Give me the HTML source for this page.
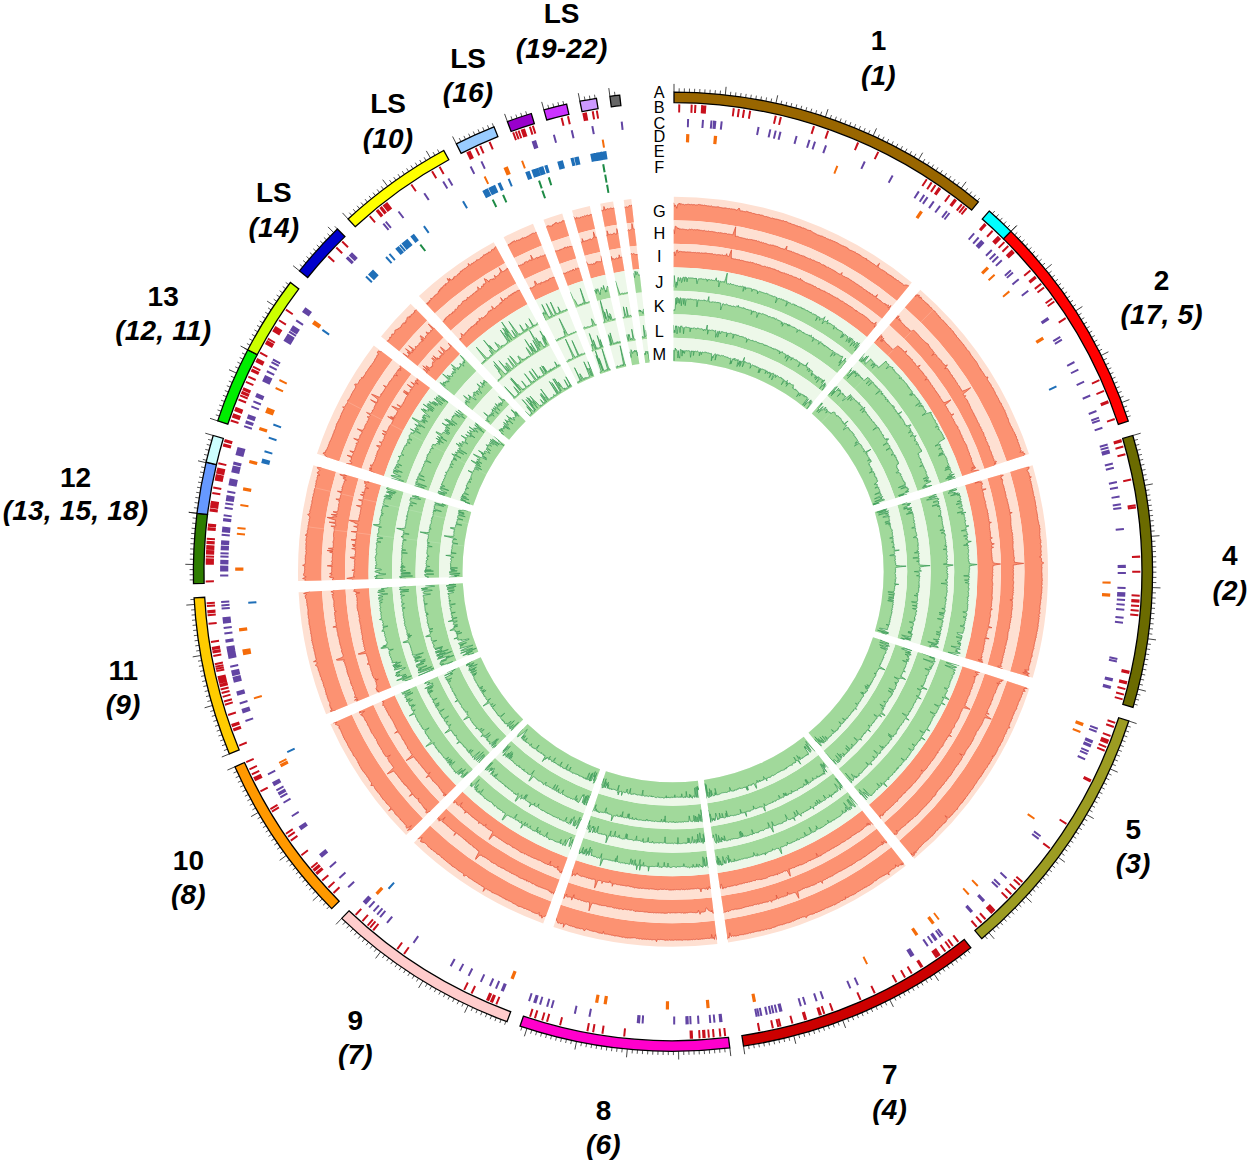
<!DOCTYPE html>
<html><head><meta charset="utf-8"><title>Circos</title>
<style>html,body{margin:0;padding:0;background:#fff}svg{display:block}text{font-family:"Liberation Sans",sans-serif}</style></head>
<body>
<svg width="1250" height="1164" viewBox="0 0 1250 1164">
<rect width="1250" height="1164" fill="#fff"/>
<defs>
<clipPath id="cl0"><path d="M673.8 196.7 A375 375 0 0 1 911.8 282.5 L896.8 300.7 A351.5 351.5 0 0 0 673.7 220.2ZM920.3 289.8 A375 375 0 0 1 1029 454 L1006.7 461.3 A351.5 351.5 0 0 0 904.8 307.4ZM1032.6 465.2 A375 375 0 0 1 1032.7 677.8 L1010.1 671.2 A351.5 351.5 0 0 0 1010 471.9ZM1029.4 688.5 A375 375 0 0 1 914.4 858.7 L899.3 840.7 A351.5 351.5 0 0 0 1007 681.1ZM905.8 865.7 A375 375 0 0 1 728.1 942.6 L724.7 919.4 A351.5 351.5 0 0 0 891.2 847.2ZM717.4 944.1 A375 375 0 0 1 553.4 927.1 L560.9 904.8 A351.5 351.5 0 0 0 714.6 920.7ZM543.2 923.5 A375 375 0 0 1 413.9 842.8 L430.2 825.8 A351.5 351.5 0 0 0 551.3 901.5ZM406.1 835.1 A375 375 0 0 1 330.4 724.2 L351.9 714.7 A351.5 351.5 0 0 0 422.9 818.6ZM326.1 714.2 A375 375 0 0 1 298.6 592.2 L322 590.9 A351.5 351.5 0 0 0 347.9 705.2ZM298.1 581 A375 375 0 0 1 313.4 465.2 L336 471.9 A351.5 351.5 0 0 0 321.6 580.4ZM317 453.8 A375 375 0 0 1 373.8 345.6 L392.6 359.8 A351.5 351.5 0 0 0 339.3 461.2ZM381 336.5 A375 375 0 0 1 410.6 303.8 L427.1 320.6 A351.5 351.5 0 0 0 399.3 351.2ZM418.9 295.9 A375 375 0 0 1 493.7 242.3 L505 263 A351.5 351.5 0 0 0 434.9 313.2ZM503.6 237.2 A375 375 0 0 1 533 223.8 L541.8 245.6 A351.5 351.5 0 0 0 514.2 258.1ZM543.5 219.8 A375 375 0 0 1 562.2 213.5 L569.1 235.9 A351.5 351.5 0 0 0 551.6 241.8ZM572 210.5 A375 375 0 0 1 589.8 206 L595 229 A351.5 351.5 0 0 0 578.4 233.2ZM600.2 203.8 A375 375 0 0 1 613.1 201.5 L616.9 224.7 A351.5 351.5 0 0 0 604.8 226.9ZM623.7 200 A375 375 0 0 1 631.3 199 L633.9 222.4 A351.5 351.5 0 0 0 626.8 223.3Z"/></clipPath>
<clipPath id="cl1"><path d="M673.7 220.2 A351.5 351.5 0 0 1 896.8 300.7 L881.9 318.8 A328 328 0 0 0 673.7 243.7ZM904.8 307.4 A351.5 351.5 0 0 1 1006.7 461.3 L984.4 468.7 A328 328 0 0 0 889.3 325.1ZM1010 471.9 A351.5 351.5 0 0 1 1010.1 671.2 L987.6 664.5 A328 328 0 0 0 987.5 478.5ZM1007 681.1 A351.5 351.5 0 0 1 899.3 840.7 L884.1 822.7 A328 328 0 0 0 984.7 673.8ZM891.2 847.2 A351.5 351.5 0 0 1 724.7 919.4 L721.2 896.1 A328 328 0 0 0 876.6 828.8ZM714.6 920.7 A351.5 351.5 0 0 1 560.9 904.8 L568.4 882.6 A328 328 0 0 0 711.8 897.4ZM551.3 901.5 A351.5 351.5 0 0 1 430.2 825.8 L446.4 808.8 A328 328 0 0 0 559.5 879.4ZM422.9 818.6 A351.5 351.5 0 0 1 351.9 714.7 L373.4 705.1 A328 328 0 0 0 439.6 802.1ZM347.9 705.2 A351.5 351.5 0 0 1 322 590.9 L345.5 589.6 A328 328 0 0 0 369.6 696.3ZM321.6 580.4 A351.5 351.5 0 0 1 336 471.9 L358.5 478.5 A328 328 0 0 0 345.1 579.8ZM339.3 461.2 A351.5 351.5 0 0 1 392.6 359.8 L411.3 373.9 A328 328 0 0 0 361.6 468.5ZM399.3 351.2 A351.5 351.5 0 0 1 427.1 320.6 L443.5 337.4 A328 328 0 0 0 417.6 366ZM434.9 313.2 A351.5 351.5 0 0 1 505 263 L516.2 283.6 A328 328 0 0 0 450.8 330.5ZM514.2 258.1 A351.5 351.5 0 0 1 541.8 245.6 L550.6 267.4 A328 328 0 0 0 524.8 279.1ZM551.6 241.8 A351.5 351.5 0 0 1 569.1 235.9 L576.1 258.4 A328 328 0 0 0 559.7 263.9ZM578.4 233.2 A351.5 351.5 0 0 1 595 229 L600.2 251.9 A328 328 0 0 0 584.7 255.8ZM604.8 226.9 A351.5 351.5 0 0 1 616.9 224.7 L620.6 247.9 A328 328 0 0 0 609.3 249.9ZM626.8 223.3 A351.5 351.5 0 0 1 633.9 222.4 L636.6 245.7 A328 328 0 0 0 629.8 246.6Z"/></clipPath>
<clipPath id="cl2"><path d="M673.7 243.7 A328 328 0 0 1 881.9 318.8 L866.9 336.9 A304.5 304.5 0 0 0 673.6 267.2ZM889.3 325.1 A328 328 0 0 1 984.4 468.7 L962.1 476.1 A304.5 304.5 0 0 0 873.8 342.8ZM987.5 478.5 A328 328 0 0 1 987.6 664.5 L965.1 657.9 A304.5 304.5 0 0 0 965 485.2ZM984.7 673.8 A328 328 0 0 1 884.1 822.7 L869 804.7 A304.5 304.5 0 0 0 962.4 666.5ZM876.6 828.8 A328 328 0 0 1 721.2 896.1 L717.7 872.9 A304.5 304.5 0 0 0 862.1 810.4ZM711.8 897.4 A328 328 0 0 1 568.4 882.6 L575.9 860.3 A304.5 304.5 0 0 0 709.1 874.1ZM559.5 879.4 A328 328 0 0 1 446.4 808.8 L462.6 791.8 A304.5 304.5 0 0 0 567.6 857.4ZM439.6 802.1 A328 328 0 0 1 373.4 705.1 L394.8 695.6 A304.5 304.5 0 0 0 456.3 785.6ZM369.6 696.3 A328 328 0 0 1 345.5 589.6 L369 588.3 A304.5 304.5 0 0 0 391.3 687.4ZM345.1 579.8 A328 328 0 0 1 358.5 478.5 L381 485.2 A304.5 304.5 0 0 0 368.6 579.2ZM361.6 468.5 A328 328 0 0 1 411.3 373.9 L430.1 388.1 A304.5 304.5 0 0 0 384 475.9ZM417.6 366 A328 328 0 0 1 443.5 337.4 L460 354.1 A304.5 304.5 0 0 0 435.9 380.7ZM450.8 330.5 A328 328 0 0 1 516.2 283.6 L527.4 304.3 A304.5 304.5 0 0 0 466.7 347.7ZM524.8 279.1 A328 328 0 0 1 550.6 267.4 L559.3 289.2 A304.5 304.5 0 0 0 535.4 300.1ZM559.7 263.9 A328 328 0 0 1 576.1 258.4 L583 280.8 A304.5 304.5 0 0 0 567.9 285.9ZM584.7 255.8 A328 328 0 0 1 600.2 251.9 L605.4 274.8 A304.5 304.5 0 0 0 591 278.4ZM609.3 249.9 A328 328 0 0 1 620.6 247.9 L624.4 271.1 A304.5 304.5 0 0 0 613.9 273ZM629.8 246.6 A328 328 0 0 1 636.6 245.7 L639.2 269.1 A304.5 304.5 0 0 0 632.9 269.8Z"/></clipPath>
<clipPath id="cl3"><path d="M673.6 267.2 A304.5 304.5 0 0 1 866.9 336.9 L851.9 355 A281 281 0 0 0 673.6 290.7ZM873.8 342.8 A304.5 304.5 0 0 1 962.1 476.1 L939.8 483.5 A281 281 0 0 0 858.3 360.4ZM965 485.2 A304.5 304.5 0 0 1 965.1 657.9 L942.5 651.2 A281 281 0 0 0 942.4 491.9ZM962.4 666.5 A304.5 304.5 0 0 1 869 804.7 L853.9 786.7 A281 281 0 0 0 940 659.2ZM862.1 810.4 A304.5 304.5 0 0 1 717.7 872.9 L714.3 849.6 A281 281 0 0 0 847.5 792ZM709.1 874.1 A304.5 304.5 0 0 1 575.9 860.3 L583.4 838 A281 281 0 0 0 706.3 850.7ZM567.6 857.4 A304.5 304.5 0 0 1 462.6 791.8 L478.9 774.9 A281 281 0 0 0 575.7 835.3ZM456.3 785.6 A304.5 304.5 0 0 1 394.8 695.6 L416.3 686 A281 281 0 0 0 473 769.1ZM391.3 687.4 A304.5 304.5 0 0 1 369 588.3 L392.4 587 A281 281 0 0 0 413.1 678.5ZM368.6 579.2 A304.5 304.5 0 0 1 381 485.2 L403.6 491.9 A281 281 0 0 0 392.1 578.7ZM384 475.9 A304.5 304.5 0 0 1 430.1 388.1 L448.8 402.3 A281 281 0 0 0 406.3 483.3ZM435.9 380.7 A304.5 304.5 0 0 1 460 354.1 L476.4 370.9 A281 281 0 0 0 454.2 395.4ZM466.7 347.7 A304.5 304.5 0 0 1 527.4 304.3 L538.7 324.9 A281 281 0 0 0 482.6 365ZM535.4 300.1 A304.5 304.5 0 0 1 559.3 289.2 L568.1 311 A281 281 0 0 0 546 321ZM567.9 285.9 A304.5 304.5 0 0 1 583 280.8 L590 303.3 A281 281 0 0 0 576 308ZM591 278.4 A304.5 304.5 0 0 1 605.4 274.8 L610.6 297.7 A281 281 0 0 0 597.3 301.1ZM613.9 273 A304.5 304.5 0 0 1 624.4 271.1 L628.1 294.3 A281 281 0 0 0 618.5 296ZM632.9 269.8 A304.5 304.5 0 0 1 639.2 269.1 L641.8 292.4 A281 281 0 0 0 636 293.1Z"/></clipPath>
<clipPath id="cl4"><path d="M673.6 290.7 A281 281 0 0 1 851.9 355 L837 373.1 A257.5 257.5 0 0 0 673.5 314.2ZM858.3 360.4 A281 281 0 0 1 939.8 483.5 L917.5 490.8 A257.5 257.5 0 0 0 842.8 378.1ZM942.4 491.9 A281 281 0 0 1 942.5 651.2 L920 644.6 A257.5 257.5 0 0 0 919.9 498.6ZM940 659.2 A281 281 0 0 1 853.9 786.7 L838.8 768.8 A257.5 257.5 0 0 0 917.7 651.9ZM847.5 792 A281 281 0 0 1 714.3 849.6 L710.8 826.4 A257.5 257.5 0 0 0 832.9 773.6ZM706.3 850.7 A281 281 0 0 1 583.4 838 L590.9 815.8 A257.5 257.5 0 0 0 703.5 827.4ZM575.7 835.3 A281 281 0 0 1 478.9 774.9 L495.1 757.9 A257.5 257.5 0 0 0 583.9 813.3ZM473 769.1 A281 281 0 0 1 416.3 686 L437.8 676.4 A257.5 257.5 0 0 0 489.7 752.6ZM413.1 678.5 A281 281 0 0 1 392.4 587 L415.9 585.8 A257.5 257.5 0 0 0 434.8 669.5ZM392.1 578.7 A281 281 0 0 1 403.6 491.9 L426.1 498.6 A257.5 257.5 0 0 0 415.6 578.1ZM406.3 483.3 A281 281 0 0 1 448.8 402.3 L467.6 416.4 A257.5 257.5 0 0 0 428.6 490.7ZM454.2 395.4 A281 281 0 0 1 476.4 370.9 L492.8 387.7 A257.5 257.5 0 0 0 472.5 410.2ZM482.6 365 A281 281 0 0 1 538.7 324.9 L549.9 345.5 A257.5 257.5 0 0 0 498.5 382.3ZM546 321 A281 281 0 0 1 568.1 311 L576.9 332.8 A257.5 257.5 0 0 0 556.7 342ZM576 308 A281 281 0 0 1 590 303.3 L596.9 325.7 A257.5 257.5 0 0 0 584.1 330ZM597.3 301.1 A281 281 0 0 1 610.6 297.7 L615.9 320.6 A257.5 257.5 0 0 0 603.7 323.7ZM618.5 296 A281 281 0 0 1 628.1 294.3 L631.9 317.5 A257.5 257.5 0 0 0 623 319.1ZM636 293.1 A281 281 0 0 1 641.8 292.4 L644.4 315.8 A257.5 257.5 0 0 0 639.1 316.4Z"/></clipPath>
<clipPath id="cl5"><path d="M673.5 314.2 A257.5 257.5 0 0 1 837 373.1 L822 391.3 A234 234 0 0 0 673.5 337.7ZM842.8 378.1 A257.5 257.5 0 0 1 917.5 490.8 L895.2 498.2 A234 234 0 0 0 827.3 395.8ZM919.9 498.6 A257.5 257.5 0 0 1 920 644.6 L897.4 637.9 A234 234 0 0 0 897.4 505.2ZM917.7 651.9 A257.5 257.5 0 0 1 838.8 768.8 L823.6 750.8 A234 234 0 0 0 895.4 644.6ZM832.9 773.6 A257.5 257.5 0 0 1 710.8 826.4 L707.4 803.2 A234 234 0 0 0 818.3 755.1ZM703.5 827.4 A257.5 257.5 0 0 1 590.9 815.8 L598.4 793.5 A234 234 0 0 0 700.7 804.1ZM583.9 813.3 A257.5 257.5 0 0 1 495.1 757.9 L511.3 740.9 A234 234 0 0 0 592 791.2ZM489.7 752.6 A257.5 257.5 0 0 1 437.8 676.4 L459.2 666.9 A234 234 0 0 0 506.5 736.1ZM434.8 669.5 A257.5 257.5 0 0 1 415.9 585.8 L439.3 584.5 A234 234 0 0 0 456.5 660.6ZM415.6 578.1 A257.5 257.5 0 0 1 426.1 498.6 L448.6 505.2 A234 234 0 0 0 439.1 577.5ZM428.6 490.7 A257.5 257.5 0 0 1 467.6 416.4 L486.3 430.6 A234 234 0 0 0 450.9 498.1ZM472.5 410.2 A257.5 257.5 0 0 1 492.8 387.7 L509.3 404.5 A234 234 0 0 0 490.8 424.9ZM498.5 382.3 A257.5 257.5 0 0 1 549.9 345.5 L561.1 366.2 A234 234 0 0 0 514.5 399.6ZM556.7 342 A257.5 257.5 0 0 1 576.9 332.8 L585.6 354.6 A234 234 0 0 0 567.3 362.9ZM584.1 330 A257.5 257.5 0 0 1 596.9 325.7 L603.8 348.2 A234 234 0 0 0 592.2 352.1ZM603.7 323.7 A257.5 257.5 0 0 1 615.9 320.6 L621.1 343.5 A234 234 0 0 0 610 346.3ZM623 319.1 A257.5 257.5 0 0 1 631.9 317.5 L635.6 340.7 A234 234 0 0 0 627.6 342.1ZM639.1 316.4 A257.5 257.5 0 0 1 644.4 315.8 L647 339.1 A234 234 0 0 0 642.2 339.7Z"/></clipPath>
<clipPath id="cl6"><path d="M673.5 337.7 A234 234 0 0 1 822 391.3 L807 409.4 A210.5 210.5 0 0 0 673.4 361.2ZM827.3 395.8 A234 234 0 0 1 895.2 498.2 L872.9 505.6 A210.5 210.5 0 0 0 811.8 413.4ZM897.4 505.2 A234 234 0 0 1 897.4 637.9 L874.9 631.3 A210.5 210.5 0 0 0 874.8 511.9ZM895.4 644.6 A234 234 0 0 1 823.6 750.8 L808.5 732.8 A210.5 210.5 0 0 0 873 637.2ZM818.3 755.1 A234 234 0 0 1 707.4 803.2 L703.9 779.9 A210.5 210.5 0 0 0 803.7 736.7ZM700.7 804.1 A234 234 0 0 1 598.4 793.5 L605.9 771.2 A210.5 210.5 0 0 0 697.9 780.7ZM592 791.2 A234 234 0 0 1 511.3 740.9 L527.6 723.9 A210.5 210.5 0 0 0 600.1 769.2ZM506.5 736.1 A234 234 0 0 1 459.2 666.9 L480.7 657.3 A210.5 210.5 0 0 0 523.2 719.6ZM456.5 660.6 A234 234 0 0 1 439.3 584.5 L462.8 583.2 A210.5 210.5 0 0 0 478.3 651.7ZM439.1 577.5 A234 234 0 0 1 448.6 505.2 L471.2 511.9 A210.5 210.5 0 0 0 462.6 576.9ZM450.9 498.1 A234 234 0 0 1 486.3 430.6 L505.1 444.8 A210.5 210.5 0 0 0 473.2 505.5ZM490.8 424.9 A234 234 0 0 1 509.3 404.5 L525.7 421.3 A210.5 210.5 0 0 0 509.1 439.7ZM514.5 399.6 A234 234 0 0 1 561.1 366.2 L572.4 386.8 A210.5 210.5 0 0 0 530.4 416.9ZM567.3 362.9 A234 234 0 0 1 585.6 354.6 L594.4 376.4 A210.5 210.5 0 0 0 577.9 383.9ZM592.2 352.1 A234 234 0 0 1 603.8 348.2 L610.8 370.6 A210.5 210.5 0 0 0 600.3 374.1ZM610 346.3 A234 234 0 0 1 621.1 343.5 L626.3 366.4 A210.5 210.5 0 0 0 616.3 369ZM627.6 342.1 A234 234 0 0 1 635.6 340.7 L639.4 363.9 A210.5 210.5 0 0 0 632.1 365.2ZM642.2 339.7 A234 234 0 0 1 647 339.1 L649.6 362.5 A210.5 210.5 0 0 0 645.3 363Z"/></clipPath>
</defs>
<path d="M673.8 196.7 A375 375 0 0 1 911.8 282.5 L896.8 300.7 A351.5 351.5 0 0 0 673.7 220.2ZM920.3 289.8 A375 375 0 0 1 1029 454 L1006.7 461.3 A351.5 351.5 0 0 0 904.8 307.4ZM1032.6 465.2 A375 375 0 0 1 1032.7 677.8 L1010.1 671.2 A351.5 351.5 0 0 0 1010 471.9ZM1029.4 688.5 A375 375 0 0 1 914.4 858.7 L899.3 840.7 A351.5 351.5 0 0 0 1007 681.1ZM905.8 865.7 A375 375 0 0 1 728.1 942.6 L724.7 919.4 A351.5 351.5 0 0 0 891.2 847.2ZM717.4 944.1 A375 375 0 0 1 553.4 927.1 L560.9 904.8 A351.5 351.5 0 0 0 714.6 920.7ZM543.2 923.5 A375 375 0 0 1 413.9 842.8 L430.2 825.8 A351.5 351.5 0 0 0 551.3 901.5ZM406.1 835.1 A375 375 0 0 1 330.4 724.2 L351.9 714.7 A351.5 351.5 0 0 0 422.9 818.6ZM326.1 714.2 A375 375 0 0 1 298.6 592.2 L322 590.9 A351.5 351.5 0 0 0 347.9 705.2ZM298.1 581 A375 375 0 0 1 313.4 465.2 L336 471.9 A351.5 351.5 0 0 0 321.6 580.4ZM317 453.8 A375 375 0 0 1 373.8 345.6 L392.6 359.8 A351.5 351.5 0 0 0 339.3 461.2ZM381 336.5 A375 375 0 0 1 410.6 303.8 L427.1 320.6 A351.5 351.5 0 0 0 399.3 351.2ZM418.9 295.9 A375 375 0 0 1 493.7 242.3 L505 263 A351.5 351.5 0 0 0 434.9 313.2ZM503.6 237.2 A375 375 0 0 1 533 223.8 L541.8 245.6 A351.5 351.5 0 0 0 514.2 258.1ZM543.5 219.8 A375 375 0 0 1 562.2 213.5 L569.1 235.9 A351.5 351.5 0 0 0 551.6 241.8ZM572 210.5 A375 375 0 0 1 589.8 206 L595 229 A351.5 351.5 0 0 0 578.4 233.2ZM600.2 203.8 A375 375 0 0 1 613.1 201.5 L616.9 224.7 A351.5 351.5 0 0 0 604.8 226.9ZM623.7 200 A375 375 0 0 1 631.3 199 L633.9 222.4 A351.5 351.5 0 0 0 626.8 223.3Z" fill="#FEE0D2"/>
<path clip-path="url(#cl0)" d="M670.1 223.2L669.9 203L673.8 203L674.5 206.5L675.3 204.9L676.1 206.5L676.8 208.3L677.6 204.8L678.4 203.7L679.2 204.2L679.9 203L680.7 204.7L681.5 203.9L682.2 204.4L683 204.2L683.8 204.5L684.5 204.9L685.3 204.5L686.1 204.7L686.8 204.5L687.6 204.3L688.4 204.2L689.1 204.6L689.9 204.4L690.7 204.7L691.5 204.4L692.2 204.8L693 204.6L693.8 204.7L694.5 204.6L695.3 205L696.1 204.9L696.8 204.9L697.6 204.9L698.4 204.5L699.2 204.3L699.9 205.1L700.7 204.7L701.4 205L702.2 205.1L703 205.2L703.7 205.5L704.5 205.1L705.3 205.5L706 205.5L706.8 205.7L707.5 205.9L708.3 205.9L709.1 205.8L709.8 206.4L710.6 206.3L711.4 205.7L712.1 206.6L712.8 206.9L713.6 206.7L714.4 206.8L715.2 206.9L715.9 206.9L716.7 206.9L717.5 206.8L718.3 206.8L719 207.1L719.7 207.4L720.5 207.5L721.2 207.7L722 207.7L722.8 208L723.5 208L724.3 208L725.1 207.8L725.8 208.1L726.6 208.2L727.4 208.4L728 209L728.9 208.4L729.7 208.5L730.4 208.9L731.2 208.9L732 208.8L732.7 209.2L733.5 209.2L734.2 209.3L735 209.3L735.7 209.8L736.4 210.1L737.2 210.1L738.2 209L739.1 208L739.7 209.3L740.2 210.9L740.9 211.2L741.7 210.9L742.5 211L743.3 211.1L743.9 211.7L744.7 211.6L745.5 211.8L746.4 211.3L747.1 211.7L747.9 211.6L748.6 212.1L749.2 212.5L750.1 212.3L750.8 212.7L751.5 212.8L752.3 213L752.9 213.7L753.8 213.4L754.5 213.6L755.2 214L756 214.1L756.7 214.4L757.5 214.5L758.3 214.4L759 214.6L759.8 214.7L760.5 215.1L761.3 215.1L762 215.2L762.8 215.4L763.5 215.8L764.2 216.1L764.8 216.7L765.6 216.6L766.5 216.5L767.2 216.8L767.9 217.2L768.7 217.2L769.4 217.5L770.1 217.8L770.8 218.2L771.5 218.3L772.4 218L773.1 218.5L773.9 218.6L774.6 218.8L775.3 219L776.1 219.2L776.9 219.1L777.6 219.4L778.3 219.6L779.1 219.8L779.8 220.1L780.6 220.2L781.3 220.6L782.1 220.7L782.8 220.8L783.7 220.7L784.3 221.3L785 221.5L785.8 221.6L786.6 221.6L787.3 222.1L788 222.4L788.6 222.9L789.4 223.1L790 223.5L790.9 223.3L791.4 224.2L792.2 224.2L792.9 224.6L793.7 224.6L794.5 224.8L795.1 225.3L795.9 225.4L796.6 225.8L797.4 225.7L797.8 226.7L798.7 226.5L799.5 226.6L800.2 226.9L801.1 226.9L801.5 227.8L802.3 227.9L803.1 227.9L803.9 228L804.6 228.5L805.3 228.8L806 229.1L806.7 229.4L807.3 229.9L808.1 230.1L808.8 230.3L809.6 230.5L810.3 230.6L811.1 230.7L811.7 231.4L812.3 232L813 232.3L813.6 232.8L814.3 233L815 233.4L815.7 233.8L816.4 234.1L817 234.7L817.7 234.9L818.5 235.1L819.3 235.1L819.9 235.7L820.6 236L821.4 236L822.2 236.2L822.9 236.5L823.5 236.9L824.1 237.4L825 237.4L825.7 237.7L826.3 238.2L826.9 238.8L827.7 238.9L828.4 239.1L829.1 239.4L829.7 239.9L830.7 239.8L831.4 240.1L831.9 240.7L832.7 240.8L833.5 241L834.1 241.6L834.9 241.7L835.6 241.9L836.2 242.5L837 242.7L837.6 243L838.2 243.5L839 243.7L839.6 244.2L840.2 244.8L840.9 245L841.6 245.3L842.3 245.7L843 246L843.8 246.1L844.5 246.5L845.1 246.9L846 246.9L846.6 247.4L847.1 248.1L848 248.2L848.4 249L848.9 249.8L849.6 249.9L850.3 250.3L851.2 250.3L851.7 251L852.5 251L853.2 251.4L854 251.6L854.6 252.1L855.4 252.2L856 252.7L856.4 253.5L857.3 253.6L858 253.8L858.6 254.3L859.4 254.5L859.8 255.4L860.7 255.4L861.2 256L861.8 256.6L862.4 256.9L863.1 257.4L863.8 257.6L864.5 257.9L865.1 258.5L865.9 258.6L866.7 258.8L866.8 260.1L867.7 260.2L868.4 260.4L869.1 260.9L869.7 261.3L870.3 261.8L870.9 262.3L871.6 262.6L872.1 263.2L872.8 263.6L873.5 263.9L874.2 264.3L874.8 264.7L875.3 265.3L875.8 265.9L876.7 266L879.5 263.3L877.8 267.2L878.6 267.4L879.2 267.8L879.7 268.5L880.3 268.9L880.9 269.4L881.6 269.7L882.4 269.9L883.1 270.2L883.6 270.9L884.3 271.2L885.1 271.4L885.6 272.1L886.1 272.6L886.9 272.9L887.1 273.9L887.9 274.1L888.7 274.3L889.4 274.7L889.8 275.5L890.8 275.4L891.2 276.2L892 276.3L892.4 277.1L893.3 277.1L893.7 277.8L894.2 278.6L894.9 278.9L895.8 278.9L896.2 279.7L896.8 280.2L897.5 280.5L898.4 280.6L898.8 281.4L899.4 281.8L900.1 282.2L900.8 282.6L901.3 283.2L902.1 283.4L902.6 284L903.2 284.5L903.5 285.3L904.6 285.2L905.7 285L906.7 285.1L907.5 285.3L908.1 285.7L909 285.9L912 288.4L897.7 305.3ZM900 307.3L913.3 291.8L916.2 294.4L915.3 296.5L918.1 294.6L918 295.9L919.5 295.3L919 297L919.3 297.8L921.1 297L921 298.3L921.8 298.6L922.1 299.4L922.7 299.9L923.2 300.4L924 300.7L924.6 301.3L924.8 302.1L925.4 302.6L926.3 302.8L926.8 303.4L927.1 304.2L928 304.3L928.4 305.1L929.1 305.5L929.5 306.1L929.8 306.9L930.4 307.4L931.3 307.6L931.7 308.3L932.1 309L932.7 309.6L933.3 310L933.8 310.6L934.4 311.1L935.1 311.4L935.5 312.2L936.1 312.7L936.6 313.3L937 313.9L937.3 314.7L937.7 315.4L938.6 315.6L938.9 316.4L939.2 317.1L940.2 317.3L940.4 318.2L940.8 318.9L941.4 319.3L942.1 319.7L942.6 320.3L943.4 320.7L943.6 321.5L944.3 321.9L944.9 322.4L945.4 323L945.7 323.8L946.5 324.1L946.8 324.9L947.4 325.3L948 325.9L948.5 326.5L948.9 327.1L949.5 327.7L950.1 328.1L950.8 328.5L951.1 329.3L951.6 329.9L952.1 330.5L952.7 330.9L953.3 331.5L953.7 332.1L953.8 333.1L954.5 333.5L954.7 334.3L955.5 334.6L956 335.3L956.5 335.8L956.5 336.8L957.3 337.2L957.8 337.8L958.4 338.3L958.7 339L959.4 339.5L959.9 340L960.2 340.8L960.7 341.3L961.3 341.8L961.7 342.5L962.2 343.1L962.8 343.7L963.2 344.3L963.9 344.8L964.2 345.5L964.5 346.3L965 346.8L965.6 347.3L966.2 347.9L966.3 348.8L966.7 349.4L967.2 350L967.9 350.5L968.6 350.9L969 351.5L969.4 352.2L969.9 352.8L970.1 353.6L970.7 354.1L970.8 355L971.4 355.5L971.9 356.1L972.5 356.7L972.8 357.4L973.3 357.9L973.7 358.6L974.3 359.1L974.7 359.8L975.2 360.4L975.5 361.1L976.3 361.5L976.6 362.2L977 362.9L977.5 363.5L977.7 364.3L978.1 365L978.5 365.6L978.7 366.4L979.1 367.1L979.7 367.6L980.2 368.2L980 369.2L981.1 369.5L981.2 370.3L981.5 371L982.3 371.4L982.5 372.2L983 372.8L983.6 373.3L983.9 374L984.3 374.7L984.6 375.4L984.9 376.1L985.6 376.6L986.2 377.2L988 377L987.5 378.2L987.3 379.2L987.6 379.9L988 380.6L988.4 381.3L989 381.8L989.4 382.4L989.8 383.1L990.2 383.7L990.7 384.3L991.1 385L991.3 385.8L991.5 386.5L992.2 387.1L992.3 387.9L993.2 388.3L993.3 389.1L993.8 389.7L994 390.5L994.4 391.1L994.8 391.8L995.2 392.4L995.3 393.3L995.6 394L996 394.7L996.3 395.3L997.1 395.8L997.2 396.6L997.5 397.3L998.1 397.9L998.5 398.6L998.6 399.4L999 400L999.2 400.8L999.9 401.3L999.6 402.3L1000.5 402.7L1001.3 403.2L1001.2 404.1L1001.7 404.7L1001.9 405.5L1002.5 406.1L1002.6 406.8L1003.2 407.4L1003.2 408.3L1003.8 408.8L1004.1 409.5L1004.6 410.2L1005.1 410.8L1005 411.7L1005.4 412.3L1005.6 413.1L1006.1 413.7L1006.2 414.5L1006.5 415.2L1007 415.9L1006.8 416.8L1007.2 417.5L1008 417.9L1008.1 418.8L1008.4 419.5L1008.5 420.3L1008.7 421L1008.8 421.8L1009.2 422.5L1009.7 423.1L1009.9 423.9L1010.2 424.6L1010.4 425.3L1010.8 426L1011.4 426.6L1011.6 427.3L1012 428L1012.4 428.6L1012.8 429.3L1013 430.1L1013.2 430.8L1013.7 431.5L1014.2 432.1L1014.6 432.7L1014.7 433.5L1014.8 434.3L1015.8 434.8L1015.4 435.7L1016.3 436.2L1016.4 437L1016.5 437.8L1016.7 438.5L1016.9 439.3L1017.8 439.8L1017.8 440.6L1017.7 441.5L1018.3 442L1018.2 442.9L1018.7 443.6L1018.9 444.3L1019.4 444.9L1019.4 445.8L1019.6 446.5L1020.1 447.2L1020.2 448L1020.7 448.6L1020.2 449.6L1020.9 450.2L1021.4 450.8L1019.8 452.2L1023.3 451.8L1022.8 452.8L1023.9 453.2L1024.9 453.7L1024.7 454.6L1023.6 455.7L1024.8 459.4L1005 465.7ZM1006.1 469.2L1025.5 463.3L1026.6 467L1029.2 467L1028.8 467.9L1029 468.7L1026.9 470.1L1027.1 470.8L1028 471.4L1028 472.2L1028.8 472.8L1029.1 473.5L1029.1 474.3L1029.1 475.1L1029.6 475.8L1029.5 476.6L1031.4 476.9L1029.6 478.2L1030.3 478.8L1030.5 479.5L1030.2 480.4L1030.6 481.1L1031.2 481.8L1031 482.6L1031.2 483.3L1031.4 484.1L1031.6 484.9L1031.9 485.6L1031.9 486.4L1032 487.1L1032.1 487.9L1032.5 488.6L1032.5 489.4L1032.7 490.2L1032.9 490.9L1033.1 491.7L1033.3 492.4L1033.2 493.2L1033.3 494L1033.7 494.7L1033.6 495.5L1034 496.2L1034.6 496.9L1034.6 497.7L1034.3 498.5L1034.7 499.2L1034.6 500L1035.1 500.7L1035.2 501.5L1035.4 502.2L1035.4 503L1035.5 503.8L1035.5 504.6L1035.8 505.3L1036.1 506.1L1035.9 506.9L1036.5 507.6L1036.2 508.4L1036.1 509.2L1036.3 509.9L1036.6 510.7L1036.7 511.4L1037 512.2L1036.8 513L1037.2 513.7L1037.4 514.5L1037.4 515.3L1037.5 516L1037.5 516.8L1037.8 517.5L1037.6 518.3L1037.7 519.1L1038 519.9L1038.2 520.6L1038.3 521.4L1038.6 522.1L1038.8 522.9L1038.7 523.7L1038.9 524.4L1039.4 525.1L1039.5 525.9L1039.7 526.7L1039.5 527.5L1040 528.2L1040 529L1039.9 529.8L1039.7 530.6L1039.9 531.3L1040 532.1L1039.7 532.9L1039.7 533.7L1039.8 534.4L1039.5 535.2L1040 536L1040.2 536.7L1040 537.5L1040.1 538.3L1040.3 539.1L1040.7 539.8L1040.9 540.6L1040.7 541.4L1041.1 542.1L1040.7 542.9L1040.3 543.7L1040.5 544.5L1041 545.2L1040.9 546L1041.3 546.7L1041 547.5L1040.7 548.3L1041.1 549.1L1040.5 549.9L1041.1 550.6L1041.3 551.4L1041.1 552.2L1040.8 553L1040.9 553.7L1041.4 554.5L1041.2 555.3L1041 556.1L1039.4 556.9L1040.9 557.6L1041.5 558.4L1041.6 559.1L1041.4 559.9L1041.4 560.7L1041.5 561.5L1042.6 562.2L1043.8 562.9L1042.7 563.7L1041.7 564.5L1041.9 565.3L1041.4 566.1L1042 566.9L1042.1 567.6L1041.9 568.4L1041.9 569.2L1041.6 570L1041.8 570.7L1041.7 571.5L1041.8 572.3L1041.9 573.1L1042 573.8L1042 574.6L1042.1 575.4L1042.1 576.2L1041.7 576.9L1042 577.7L1042.2 578.5L1042.2 579.3L1042.2 580L1042.4 580.8L1041.9 581.6L1042 582.3L1042.1 583.1L1042 583.9L1042.2 584.7L1041.5 585.4L1041.6 586.2L1042.2 587L1042 587.8L1041.9 588.5L1041.7 589.3L1042.1 590.1L1041.5 590.9L1041.7 591.6L1041.9 592.4L1041.5 593.2L1041.5 594L1041.2 594.7L1041.3 595.5L1040.9 596.2L1041.3 597L1041.1 597.8L1041.2 598.6L1040.9 599.4L1040.7 600.1L1040.6 600.9L1040.5 601.6L1040.7 602.4L1040.4 603.2L1040.2 604L1040.3 604.7L1040 605.5L1039.9 606.3L1039.9 607L1039.9 607.8L1040.2 608.6L1039.9 609.4L1039.5 610.1L1039.7 610.9L1039.4 611.6L1040 612.5L1040 613.3L1039.4 614L1038.9 614.7L1039 615.5L1039.6 616.3L1039.2 617.1L1038.5 617.8L1039.2 618.6L1038.8 619.4L1038.8 620.1L1038.6 620.9L1038.7 621.7L1038.4 622.4L1038.2 623.2L1038.4 624L1037.9 624.7L1038.3 625.5L1038.2 626.3L1037.7 627L1037.8 627.8L1037.8 628.6L1037.4 629.3L1037.5 630.1L1037.2 630.9L1037.1 631.6L1036.6 632.3L1036.9 633.2L1036.8 633.9L1036.3 634.6L1036.4 635.4L1035.9 636.1L1036.3 637L1036.1 637.8L1035.5 638.4L1035.4 639.2L1035.5 640L1035.1 640.7L1035 641.5L1034.6 642.2L1034.7 643L1034.5 643.7L1034.2 644.5L1034.2 645.2L1034 646L1033.9 646.8L1033.6 647.5L1034 648.4L1033.5 649.1L1033.1 649.8L1033 650.5L1032.7 651.3L1032.7 652.1L1032.3 652.8L1032.1 653.5L1032.1 654.3L1032 655.1L1032.2 655.9L1032.1 656.7L1031.3 657.3L1031.3 658.1L1030.8 658.8L1030.8 659.5L1030.5 660.3L1030.7 661.1L1030.8 661.9L1029.9 662.5L1030 663.3L1029.4 664L1029.8 664.9L1029 665.5L1028.8 666.2L1028.9 667L1028.7 667.8L1028.8 668.6L1028.7 669.4L1028.9 670.2L1024.6 669.9L1027.3 671.4L1024.5 671.4L1029.4 673.6L1022.8 672.5L1028.5 675L1026.8 675.3L1029.3 676.8L1028.2 680.6L1006.2 673.8ZM1005.3 676.7L1026.9 683.6L1025.7 687.3L1027.3 688.6L1024 688.3L1024.6 689.3L1023.3 689.7L1025.3 691.2L1023.1 691.3L1022.6 691.9L1022.3 692.7L1022.9 693.7L1022 694.2L1021.9 695L1021.5 695.6L1021.5 696.5L1021.1 697.2L1020.8 697.9L1020.3 698.5L1020 699.2L1020.2 700.1L1019.3 700.6L1019.1 701.4L1018.8 702.1L1018.3 702.7L1018.2 703.5L1018.1 704.3L1017.9 705L1017.3 705.7L1017.1 706.4L1016.7 707.1L1016.6 707.9L1016.9 708.8L1016.1 709.3L1015.5 709.9L1015.3 710.7L1015.1 711.4L1014.3 712L1014 712.7L1014.2 713.6L1013.7 714.2L1013.4 714.9L1013.1 715.6L1012.7 716.3L1012.4 717L1012.2 717.8L1012.3 718.7L1011.6 719.2L1011.3 719.9L1011.2 720.7L1010.9 721.4L1010.6 722.1L1010 722.7L1009.8 723.5L1009.8 724.3L1009.1 724.8L1009.1 725.7L1009.2 726.6L1010 727.8L1008.5 728L1007.8 728.5L1007.5 729.2L1007 729.9L1006.8 730.6L1006.7 731.4L1006.4 732.2L1005.7 732.7L1005.9 733.6L1005.3 734.2L1004.9 734.8L1004.2 735.4L1004.4 736.3L1004 737L1003.5 737.6L1003.5 738.5L1003.1 739.1L1002.8 739.9L1002.6 740.6L1002.2 741.3L1001.9 742L1001.4 742.6L1000.8 743.2L1000.7 744L1000.3 744.7L1000 745.4L999.6 746.1L999.1 746.7L998.4 747.2L998.3 748L997.8 748.6L997.8 749.5L997.5 750.2L996.9 750.8L996.8 751.6L996.4 752.3L995.9 752.9L995.7 753.7L995.4 754.4L994.7 754.9L994.3 755.6L994.1 756.3L992.1 756.1L993 757.5L992.7 758.2L992.2 758.8L991.6 759.3L991.5 760.2L991.2 760.9L990.4 761.4L990.2 762.1L989.8 762.8L989.7 763.6L988.5 763.8L988.6 764.7L988 765.3L987.7 766L987.4 766.7L987 767.4L986.5 768L986 768.6L985.4 769.2L985.1 769.9L984.3 770.3L984 771L984 771.9L983.3 772.4L983.1 773.2L982.1 773.5L982.3 774.5L981.6 775L981.3 775.7L981.1 776.5L980.2 776.9L979.9 777.6L979.2 778L979 778.9L978.5 779.4L978 780.1L977.6 780.7L977.2 781.3L976.8 782L976.5 782.7L976 783.4L975.5 783.9L975 784.6L974.5 785.2L974.3 786L973.7 786.4L973.6 787.3L972.9 787.8L972.7 788.6L972 789.1L971.7 789.8L971.1 790.3L970.5 790.8L970.3 791.7L969.7 792.2L969.5 792.9L969 793.5L968.3 794L967.8 794.6L967.6 795.4L967.2 796.1L966.5 796.5L966 797.1L965.6 797.8L965.4 798.6L964.5 798.9L964.4 799.8L963.5 800.1L963.5 801.1L962.7 801.4L962.5 802.2L962.1 802.9L961.1 803.1L960.9 803.9L960.2 804.3L959.8 805.1L959.4 805.7L958.9 806.3L958.4 806.9L958 807.5L957.6 808.2L957.5 809.2L956.6 809.4L956.1 810L955.6 810.6L955.2 811.3L954.3 811.6L954 812.3L953.6 813L953.1 813.6L952.4 814L952.1 814.8L951.4 815.2L950.9 815.8L950.3 816.2L949.9 817L949.3 817.5L948.8 818.1L945 815.7L947.6 819.1L947 819.5L946.5 820.2L946.3 821L946 821.8L945.2 822.1L944.9 822.9L944 823.1L943.6 823.8L942.8 824.1L942.4 824.8L941.9 825.4L941.5 826L940.9 826.5L940.4 827.2L939.5 827.4L939.2 828.2L938.6 828.6L938.1 829.2L937.8 830L937.1 830.5L936.4 830.8L935.6 831.1L935.4 832.1L935 832.7L934.6 833.4L933.8 833.7L933.4 834.4L933.1 835.2L932.5 835.7L931.7 836L931.1 836.5L930.7 837.2L930 837.6L929.5 838.2L929 838.8L928.4 839.2L927.8 839.8L927.2 840.2L926.7 840.8L926.1 841.3L925.4 841.7L924.7 842.1L924.2 842.6L923.7 843.3L923.1 843.8L922.6 844.4L921.9 844.7L921.5 845.5L920.9 846L920.6 846.8L919.8 847L919.3 847.7L918.7 848.1L918.4 849L917.9 849.6L917.5 850.3L916.6 850.5L916.2 851.1L916.3 852.4L914.8 851.9L915.1 853.5L913.5 852.8L914.5 855.1L913.9 855.7L910.9 853.4L912.8 856.8L909.8 859.3L894.5 840.7ZM892.2 842.6L906.8 860.6L903.8 863.1L902.8 863.1L903.2 864.9L901.3 863.7L901.4 865.1L900 864.6L899.5 865.2L898.7 865.4L898.5 866.4L897.5 866.4L895.3 864.9L896 867.1L895.2 867.3L894.6 867.8L894 868.2L893.6 868.9L892.6 868.9L892 869.4L891.2 869.7L891 870.6L890.2 871L889.8 871.7L889.2 872.2L888.3 872.2L889.3 874.9L887.5 873.8L886.7 874L886 874.3L885.1 874.5L884.7 875.2L883.8 875.2L883.3 876L882.4 876L881.8 876.4L881.3 877.1L880.3 877.1L879.8 877.7L879 877.9L878.5 878.5L877.8 878.8L877.3 879.5L876.7 880L876 880.3L875.5 881L874.5 880.9L874 881.5L873.4 882.1L872.9 882.7L872.4 883.3L871.7 883.7L871 884L870.4 884.6L869.8 885.1L869.1 885.4L868.3 885.7L867.7 886L867.1 886.6L866.4 887L865.6 887.2L864.7 887.1L864.4 888.1L863.5 888.2L863 888.8L862.3 889.2L861.6 889.5L861 890.1L860.2 890.3L859.6 890.6L859.1 891.3L858.2 891.3L857.6 891.9L857 892.4L856.3 892.7L855.8 893.4L855.1 893.8L854.4 894.1L853.8 894.6L853 894.8L852.2 894.9L851.6 895.4L850.8 895.6L850.1 895.9L849.4 896.3L848.9 896.9L848.2 897.2L847.4 897.4L846.8 898.1L845.3 896.9L845.6 899.1L844.8 899.3L844.2 899.7L843.3 899.6L842.8 900.4L842 900.6L841.2 900.6L840.6 901.2L839.9 901.6L839.4 902.3L838.7 902.5L837.9 902.7L837.3 903.2L836.6 903.7L836 904.1L835.2 904.4L834.6 904.9L833.7 904.7L833.1 905.3L832.3 905.5L831.7 905.8L831 906.3L830.2 906.4L829.5 906.8L828.8 907L828.1 907.4L827.4 907.8L826.6 907.8L825.8 908.1L825.2 908.6L824.6 909L823.8 909.3L823.2 909.8L822.3 909.7L821.8 910.4L820.9 910.3L820.4 911.1L819.6 911.3L818.8 911.4L818.1 911.7L817.5 912.3L816.8 912.5L815.8 912.2L815.3 912.9L814.6 913.4L814 913.8L813.1 913.7L812.4 914.2L811.6 914.2L810.8 914.3L810.1 914.6L809.4 914.9L808.7 915.3L807.9 915.4L807.2 915.8L806.9 917.1L806.3 917.7L805.1 916.8L804.2 916.6L803.5 916.9L802.7 916.9L802 917.2L801.3 917.7L800.5 917.7L799.9 918.3L799.1 918.4L798.5 919L797.7 918.9L796.9 919.2L796.2 919.5L795.6 920.1L794.8 920.3L794.1 920.6L793.5 921.1L792.6 920.9L791.9 921.4L791.3 921.9L790.6 922.1L789.9 922.4L789.1 922.5L788.3 922.8L787.5 922.8L786.8 923L786.1 923.3L785.3 923.6L784.7 924L783.8 923.9L783.1 924.2L782.5 924.9L781.6 924.7L780.9 924.8L780.1 924.9L779.4 925.3L778.6 925.3L777.9 925.7L777.2 926L776.4 926.1L775.8 926.8L775 926.9L774.3 927.2L773.5 927.4L772.7 927.3L772.1 927.9L771.4 928.4L770.6 928.5L769.9 928.7L769.1 928.8L768.3 928.7L767.5 928.8L766.9 929.5L766 929.1L765.2 929.3L764.5 929.8L763.8 930.1L763.1 930.3L762.2 930.1L761.4 930L760.8 930.9L760 931L759.2 930.9L758.5 931.1L757.7 931.1L756.9 931.3L756.2 931.4L755.4 931.6L754.7 931.8L753.9 932L753.2 932.4L752.4 932.2L751.6 932.5L750.9 932.8L750.2 933.2L749.3 932.8L748.6 933.3L747.9 933.6L747.2 933.7L746.4 933.8L745.7 934.1L744.9 934.1L744.1 934.2L743.4 934.7L742.6 934.6L741.8 934.5L741.1 934.9L740.2 934.7L739.5 934.9L738.8 935.4L738.1 935.8L737.2 935.4L736.5 935.9L735.7 936L735 936L734.1 935.7L733.4 936.2L732.5 935.6L731.9 936.3L731.1 936.5L729.7 932.8L729.5 936.5L729 938.1L728 936.8L727.6 939.1L723.7 939.7L720.6 916.9ZM717.9 917.3L720.7 939.3L716.9 939.8L715.5 934.6L715 936.5L714.5 939.4L713.5 937.4L712.9 938.6L711.6 934.4L711.3 938.4L710.5 938L709.7 938.4L709 938.6L708.2 938.3L707.4 938.3L706.7 938.5L705.9 938.5L705.1 938.4L704.4 938.8L703.6 938.8L702.8 939L702.1 939L701.3 938.9L700.5 939.3L699.8 939.1L699 939.6L698.2 939.4L697.4 939.3L696.7 939.1L695.9 939.3L695.1 939.6L694.4 939.6L693.6 939.3L692.8 939.7L692.1 939.8L691.3 939.5L690.5 939.8L689.8 939.9L689 939.7L688.2 940L687.5 940L686.7 939.8L685.9 939.7L685.1 940L684.4 939.8L683.6 939.8L682.8 940.1L682.1 940.4L681.3 940L680.5 940L679.7 939.9L679 940.2L678.2 939.9L677.4 940L676.7 940.2L675.9 939.7L675.1 940L674.4 940L673.6 940.3L672.8 940L672 940.4L671.3 940L670.5 940.2L669.7 939.9L669 939.7L668.2 940.5L667.4 940L666.6 940.1L665.9 940.1L665.1 940.5L664.3 939.9L663.6 939.7L662.8 939.7L662 939.4L661.3 939.5L660.5 939.4L659.7 939.7L659 939.6L658.2 939.4L657.4 939.3L656.5 941.8L655.9 939.9L655.1 939.8L654.3 939.6L653.6 939.6L652.8 939.9L652 939.5L651.2 939.8L650.5 939.4L649.7 939.6L648.9 939.5L648.2 939.3L647.4 939.2L646.6 939.5L645.9 939.4L645.1 938.9L644.3 939.3L643.6 939L642.8 939.3L642 939L641.2 939L640.5 938.6L639.7 938.9L638.9 938.8L638.2 938.5L637.4 938.3L636.6 938.6L635.9 938L635.2 937.8L634.4 937.7L633.6 937.7L632.8 937.9L632.1 937.7L631.3 937.9L630.5 938L629.7 938L629 937.6L628.2 937.9L627.4 938L626.7 937.7L625.8 937.9L625.1 937.6L624.4 937.3L623.6 937.1L622.8 937.2L622 937.4L621.3 936.8L620.6 936.7L619.8 936.5L619 936.7L618.3 936L617.5 936.1L616.8 935.8L616 935.9L615.2 935.9L614.4 935.9L613.7 935.5L613 935.4L612.2 935.1L611.4 935.2L610.7 934.8L609.9 934.8L609.2 934.6L608.4 934.4L607.7 934.1L606.9 934.4L606.2 933.8L605.4 934L604.6 933.9L603.9 933.5L603.5 931.3L602.3 933.7L601.6 933.4L600.8 933.2L600.1 932.9L599.3 933.1L598.5 932.8L597.8 932.6L597.1 932.1L596.4 931.9L595.6 931.7L594.9 931.3L594.1 931.3L593.3 931.4L592.6 931.2L591.8 931L591.1 930.6L590.4 930.6L589.6 930.4L588.9 930L588.2 929.7L587.4 929.6L586.8 928.8L585.9 929.4L584.9 930.3L584 930.8L583.5 929.4L582.8 929L582.1 928.7L581.3 928.6L580.5 928.8L579.8 928.5L579 928.5L578.3 928L577.5 928.1L576.7 928L576 927.7L575.2 927.5L574.6 927L573.8 927L573.2 926.3L572.3 926.6L571.7 926L570.8 926.1L570.1 925.7L569.4 925.5L568.6 925.4L568 924.6L567.3 924.5L566.6 924.1L565.8 924.1L565 924.1L563.2 927.3L563.5 923.6L562.8 923.3L562 923.4L561 923.9L560.3 923.7L559.7 922.8L559 922.6L558 923.3L557.5 922L557.1 920.9L556.4 920.4L556.3 918.5L552.6 917.3L558.4 900.8ZM555.8 899.9L549.6 917.2L546 915.9L545.1 916L544.1 916.6L543.5 916L541.9 918.2L541.4 917.2L541.4 915L540.1 916.3L539.7 915.2L538.9 915.1L539.1 912.4L537.7 913.8L537 913.6L536.2 913.5L535.5 913.3L534.7 913.1L534 912.8L533.3 912.3L532.6 912.2L531.9 911.8L531.2 911.4L530.6 910.8L529.9 910.5L529.2 910.2L528.5 910L527.8 909.5L526.9 909.6L526.3 909.1L525.7 908.6L524.9 908.4L524.1 908.4L523.4 908.2L522.8 907.6L522.1 907.1L521.3 907.1L520.6 906.7L519.9 906.5L519.1 906.4L518.2 906.3L517.6 905.8L516.9 905.6L516.3 904.9L515.8 904.3L515 904L514.3 903.8L513.6 903.5L512.8 903.3L512.4 902.5L511.7 902.1L510.9 902L510.3 901.4L509.7 901L508.8 901L508.2 900.5L507.5 900L506.8 899.8L505.9 899.8L505.5 898.9L504.7 898.9L504.2 898.2L503.4 898L502.6 897.8L502 897.3L501.3 897L500.8 896.2L500 896.2L499.3 895.9L498.8 895.2L498.1 894.8L497.3 894.7L496.6 894.3L495.9 894.1L495.2 893.6L494.4 893.5L493.7 893.1L493.1 892.7L492.2 892.7L491.7 892L491 891.7L490.6 890.8L489.8 890.7L489 890.5L488.5 889.9L487.6 889.8L487 889.3L486.4 888.8L485.7 888.6L483.1 891.4L484.3 887.8L483.7 887.4L483.3 886.5L482.5 886.4L481.8 886.1L481.1 885.7L480.6 885L480 884.5L479.1 884.4L478.5 883.9L477.9 883.5L477.3 883L476.6 882.7L475.9 882.4L475.4 881.7L474.6 881.4L473.9 881.2L473.4 880.5L472.7 880.1L472 879.8L471.5 879.2L470.8 878.9L470.2 878.4L469.4 878.1L468.7 877.8L468.4 876.9L467.6 876.6L467.1 876L466.5 875.5L465.7 875.4L464.2 876.1L463.5 875.8L463.8 874.1L463.2 873.6L462.6 873L461.9 872.7L461.2 872.3L460.6 871.8L459.9 871.5L459.3 871.1L458.5 870.8L458.1 870.1L457.4 869.7L456.9 869.1L456.2 868.7L455.6 868.3L455.1 867.6L454.3 867.4L453.7 866.9L453 866.6L452.2 866.3L451.8 865.6L451.1 865.3L450.9 864.3L450 864.1L449.3 863.8L448.8 863.2L448.3 862.6L447.6 862.2L447 861.7L446.3 861.3L445.8 860.7L445.2 860.3L444.6 859.7L443.9 859.4L443.7 858.5L442.9 858.2L442.3 857.7L441.5 857.5L441 856.9L440.7 856.1L440.2 855.5L439.4 855.2L439.1 854.3L438 854.5L437.3 854.1L436.6 853.7L436.3 852.9L435.8 852.3L435.1 851.9L434.3 851.6L433.9 851L433.1 850.7L432.6 850.1L432.1 849.5L431.1 849.4L430.8 848.6L430 848.3L429.6 847.6L429.1 847.1L428.2 846.9L427.9 846.1L427.4 845.4L426.9 844.9L426.4 844.3L425.9 843.6L425.2 843.3L424.5 842.9L424 842.3L422.7 842.6L422.3 841.9L421.1 842L420.5 841.5L420.9 840L422.1 837.6L420.6 838L419.1 838.5L417.6 838.9L414.9 836.2L429.6 821.1ZM427.6 819.1L414.9 831.9L412.2 829.1L410.2 830L409.4 829.7L407.5 830.5L411.4 825.6L408.5 827.4L406.6 828.2L406.3 827.4L406 826.6L406.1 825.5L405.5 824.9L405 824.4L404.5 823.7L403.9 823.3L403.6 822.4L403 821.9L402.3 821.6L401.9 820.9L401.3 820.4L400.9 819.7L400 819.5L399.9 818.6L399.5 817.9L398.9 817.4L398.3 816.9L397.7 816.4L397.3 815.8L396.8 815.2L396 814.8L395.5 814.2L394.9 813.7L394.7 812.9L394.4 812.1L393.9 811.6L393.4 811L392.9 810.4L392.6 809.6L392.1 809L388.7 810.8L391.1 807.8L390.5 807.4L389.9 806.9L389.4 806.2L389 805.6L388.4 805.1L387.9 804.5L387.2 804.1L386.7 803.5L386 803L385.8 802.2L385.4 801.6L384.8 801L384.4 800.4L383.7 800L383.2 799.4L382.6 798.9L382.4 798.1L381.8 797.5L381.5 796.8L380.8 796.4L380.6 795.5L380 795L379.8 794.2L379.1 793.8L378.7 793.1L378.2 792.5L377.5 792.1L377.2 791.3L376.8 790.7L376 790.3L375.7 789.6L375.1 789L374.8 788.3L374.5 787.6L374.3 786.7L373.9 786.1L373.2 785.6L372.1 785.5L370.8 785.5L371.5 784.1L371.6 783L371 782.5L370.6 781.8L370.1 781.2L369.6 780.7L369.4 779.9L368.8 779.3L368.8 778.4L368.1 777.9L367.6 777.3L367.1 776.7L366.8 776L366.5 775.3L365.9 774.8L365.4 774.2L365.1 773.5L364.4 773L364.2 772.2L363.6 771.7L362.8 771.2L362.5 770.5L362.2 769.8L361.7 769.2L361.1 768.7L361 767.9L360.5 767.2L360.2 766.5L359.6 766L359.4 765.2L359.1 764.5L358.7 763.8L358.7 762.9L357.8 762.6L357.9 761.6L357.4 761L357 760.3L356.7 759.6L356.3 759L355.9 758.3L355.5 757.7L354.9 757.1L354.4 756.5L354 755.8L353.3 755.4L353 754.6L352.9 753.8L352.5 753.2L352.1 752.5L351.8 751.8L351.3 751.2L350.8 750.6L350.5 749.8L349.9 749.3L349.8 748.5L349.3 747.9L348.8 747.3L348.6 746.5L348.2 745.8L347.7 745.3L347.5 744.5L347.2 743.8L347.2 742.9L346.4 742.4L346.1 741.7L345.7 741L345.4 740.4L344.9 739.7L344.3 739.2L344.4 738.2L343.7 737.7L343.3 737.1L343.3 736.2L342.8 735.6L342.6 734.8L342.3 734.1L341.9 733.5L341.9 732.6L341.2 732.1L341.1 731.3L340.8 730.6L340.3 729.9L340.1 729.2L339.9 728.4L338.7 728.1L339.4 727L339.5 726.1L338.1 725.9L337.5 725.3L336.7 724.8L335.5 724.5L335.6 723.6L337 722.2L333.1 723L331.6 719.5L353.2 710.1ZM352 707.5L337.1 713.8L335.6 710.3L330.6 711.5L330.4 710.7L332.2 709.2L330.8 708.9L331.3 707.9L330.3 707.5L330.5 706.6L329.5 706.1L330.1 705L329.6 704.4L329.8 703.5L329.8 702.7L329.4 702L328.9 701.4L328.4 700.8L328.3 700L328 699.3L327.7 698.5L327.4 697.8L327.3 697L327 696.3L327.1 695.5L326.4 694.9L326 694.3L326.1 693.4L325.9 692.6L325.7 691.9L325.3 691.2L325.6 690.3L324.9 689.7L325.1 688.8L324.8 688.1L324.3 687.5L324.2 686.7L323.5 686.1L323.6 685.3L323.6 684.5L323.2 683.8L322.8 683.1L323.1 682.2L322.5 681.6L322.2 680.9L322.3 680.1L321.3 679.6L321.4 678.7L321.3 677.9L321.2 677.2L320.4 676.6L320.2 675.9L320.3 675L319.8 674.4L319.8 673.6L319.3 672.9L319.3 672.1L319 671.4L318.5 670.7L318.2 670L318.2 669.2L318.1 668.5L317.7 667.8L317.8 666.9L317.3 666.3L316 665.8L315.3 665.2L316.5 664.1L317.1 663.2L316.9 662.4L316.4 661.7L313.5 661.7L316.2 660.2L316.2 659.4L316 658.7L315.7 657.9L315.7 657.1L315.4 656.4L315.3 655.7L315.2 654.9L314.9 654.2L314.8 653.4L314.8 652.6L314.4 651.9L314.3 651.2L314 650.4L314 649.6L313.8 648.9L313.5 648.2L313.1 647.5L313.6 646.6L313.1 645.9L313.1 645.1L312.7 644.4L312.7 643.6L312.4 642.9L312.1 642.2L312.3 641.3L311.5 640.7L311.9 639.9L311.8 639.1L311.7 638.3L311.7 637.5L311.3 636.8L311.6 636L311.2 635.3L311.4 634.5L310.5 633.9L311.2 633L310.6 632.3L310.7 631.5L310.5 630.7L310.2 630L310.1 629.2L310.1 628.5L309.7 627.8L310.1 626.9L309.6 626.2L309.6 625.4L309.2 624.7L309.1 623.9L309 623.2L309 622.4L308.9 621.6L308.9 620.9L308.9 620.1L309 619.3L308.6 618.6L308.4 617.8L308.2 617.1L308.4 616.3L308.3 615.5L307.9 614.8L308.1 614L307.9 613.2L307.9 612.5L307.9 611.7L308.2 610.9L307.9 610.1L308 609.4L307.7 608.6L307.7 607.8L307.5 607.1L307.4 606.3L307 605.6L306.9 604.8L307 604L307.1 603.3L306.6 602.5L306.8 601.7L306.5 601L306.6 600.2L306.6 599.4L305.9 598.7L305.2 598L305.8 597.2L304.9 596.5L305.1 595.7L306.4 594.8L306.5 594.1L303.6 593.5L306.4 592.5L309.6 591.6L309.4 587.8L324.8 587.1ZM324.7 584L304.8 584.7L304.7 580.8L305.5 580L305.3 579.3L302.6 578.5L304.4 577.7L306.2 576.9L304.6 576.2L303.6 575.4L303.5 574.7L303.7 573.9L304.1 573.1L304.5 572.3L304.4 571.6L304.6 570.8L304.5 570L304.8 569.2L304.5 568.5L304.6 567.7L304.7 566.9L304.7 566.1L302.6 565.3L304.8 564.6L304.9 563.8L305.5 563.1L305.4 562.3L305.3 561.5L305.4 560.7L305.2 560L305.3 559.2L305.2 558.4L305.4 557.7L305.6 556.9L305.1 556.1L305.5 555.3L305.8 554.6L306 553.8L306 553L306.1 552.3L305.6 551.5L306.3 550.7L306.1 550L305.9 549.2L305.8 548.4L305.9 547.6L306.1 546.9L305.8 546.1L306.2 545.3L305.8 544.5L305.8 543.7L306.4 543L306.2 542.2L306.4 541.5L305.8 540.6L306 539.9L306 539.1L306.2 538.4L306.4 537.6L306.6 536.8L307.2 536.1L305.1 535.1L307 534.5L306.8 533.8L307 533L307.5 532.3L307.2 531.5L307.3 530.7L307.4 529.9L308.1 529.2L307.8 528.4L308 527.7L308 526.9L308.1 526.1L308.1 525.3L308.7 524.7L308.5 523.8L308.9 523.1L308.7 522.3L308.9 521.6L309.3 520.8L309.3 520.1L308.9 519.2L309.7 518.6L309.8 517.8L309.7 517L309.6 516.2L308.3 515.2L307.7 514.3L309.7 513.9L309.4 513L310.1 512.4L309.6 511.5L309.8 510.8L310.4 510.1L310.3 509.3L310.7 508.6L310.8 507.8L310.9 507L310.9 506.3L311.3 505.5L311.2 504.7L311.7 504L311.9 503.3L311.9 502.5L311.7 501.7L312.2 501L312 500.2L312.5 499.5L312.4 498.7L312.9 498L312.4 497.1L313.1 496.5L313.4 495.7L313 494.8L313.5 494.2L313.7 493.4L314 492.7L314.4 492L314 491.1L314.2 490.4L314.5 489.6L314.5 488.9L314.9 488.2L315.5 487.5L315.4 486.7L315.2 485.9L315.6 485.2L316 484.4L315.7 483.6L316.2 482.9L316.2 482.1L316 481.3L316.1 480.5L316.8 479.9L317.2 479.2L317.1 478.4L317 477.5L317.4 476.8L317.6 476.1L317.5 475.3L320 475.2L317.9 473.8L317.1 472.7L318.3 472.3L318.2 471.5L319.3 471L319.8 470.3L318.8 469.2L317.1 467.9L317.6 467.2L321.3 467.5L322.5 463.9L339.9 469.2ZM341.1 465.6L326 460.8L327.2 457.1L324.9 455.5L325.5 454.9L323 453.3L323.5 452.7L325.5 452.5L325.2 451.6L326 451.1L325.8 450.2L326.8 449.7L327 449L327.3 448.3L327.4 447.5L328.1 446.9L328.3 446.2L328.4 445.4L328.7 444.7L328.9 443.9L329.4 443.3L329.4 442.4L329.9 441.8L329.9 441L330.5 440.4L330.8 439.7L331.4 439.1L331.2 438.2L331.9 437.6L332.3 437L332.2 436.1L332.6 435.5L332.8 434.7L333.2 434L333.4 433.3L333.9 432.6L333.7 431.7L334.5 431.2L334.4 430.4L334.9 429.7L335.1 429L335.6 428.4L335.6 427.5L335.8 426.8L336.1 426L336.4 425.3L336.4 424.5L336.7 423.8L337.1 423.1L337.6 422.5L337.8 421.8L338.2 421.1L338.8 420.5L338.8 419.7L339.3 419.1L339.8 418.4L339.9 417.6L340.5 417.1L340.3 416.1L340.9 415.6L340.9 414.7L341.5 414.2L341.5 413.3L342 412.7L342.2 411.9L342.8 411.3L343 410.6L343.4 409.9L343.7 409.2L344.4 408.7L342.6 407L344.4 407L344.9 406.4L345.4 405.7L345.7 405.1L346.1 404.4L346.7 403.8L347 403.1L347.5 402.5L347.6 401.7L347.8 400.9L347.8 400L348.8 399.7L349.4 399.1L349.4 398.3L349.9 397.7L350.4 397.1L350.5 396.2L351 395.6L351.4 395L351.4 394.1L352 393.6L352.4 392.9L352.6 392.2L352.9 391.4L353.6 390.9L353.9 390.2L354.4 389.6L354.8 388.9L355.1 388.3L355.5 387.6L355.7 386.8L355.4 385.8L354.6 384.4L355.5 384L357.3 384.2L357.9 383.6L358.4 383L358.6 382.3L359 381.6L359.5 381L359.5 380.1L360.3 379.7L360.9 379.1L361.4 378.5L361.3 377.6L363.2 377.9L363.2 377L363.5 376.2L364.4 375.9L364.6 375.1L365 374.5L365.6 373.9L365.5 373L365.9 372.3L366.5 371.8L367 371.2L367.5 370.6L367.9 369.9L368.2 369.2L368.7 368.6L369 367.9L369.6 367.4L369.9 366.7L370.9 366.4L370.9 365.5L371.4 364.9L372.1 364.4L372.2 363.6L372.8 363.1L373.4 362.6L373.7 361.8L374 361.1L374.6 360.6L374.8 359.8L374.9 358.9L375.6 358.5L376.1 357.9L376.2 357L376.9 356.6L376.8 355.5L377.5 355.1L378.3 354.8L378.1 353.7L377.3 352.1L377.8 351.5L378.4 351L380.9 351.9L381.4 351.3L383.7 348.3L397.2 358.7ZM399.3 355.9L384.2 344.1L386.6 341.1L387.6 340.8L388.6 340.7L388.8 339.8L389.1 339L389.8 338.7L389.6 337.4L390.9 337.6L391.1 336.7L391.5 336L391.7 335.2L391.8 334.2L392.8 334.1L393.9 334.1L394.4 333.5L394.6 332.6L394.9 331.8L394.8 330.8L395.2 330.1L396.1 329.8L396.8 329.4L398 329.4L398.1 328.4L399.2 328.4L399.8 327.9L400.1 327.1L401.1 327L401.4 326.3L401.4 325.2L402.1 324.8L402.5 324.2L402.8 323.4L403.6 323L405.1 323.4L404.9 322.1L406.1 322.2L405.8 320.8L406.2 320.2L406.7 319.6L407 318.8L406.9 317.7L407.6 317.2L408.3 316.9L410 317.4L409.6 316L410.9 316.2L411.1 315.3L411.3 314.4L412.4 314.4L413.1 314L413.1 313L413.9 312.7L414.8 312.4L414.3 310.8L415.2 310.7L416 310.3L416.2 309.5L419 306.8L431.8 320.2ZM434.2 317.9L423.3 306.2L426.1 303.6L427.6 304.2L427.3 302.7L428.8 303.2L428.5 301.8L429.7 301.9L429.4 300.5L430.5 300.5L431 299.9L430.6 298.4L431.9 298.7L432.4 298L433.1 297.7L433.5 297L433.9 296.3L434.8 296.2L434.9 295.2L435.7 294.9L436.2 294.3L436.9 294L437.8 293.8L438.1 292.9L438.3 292L438.5 291L439.6 291.2L439.4 289.7L440.6 289.9L440.8 289L440.9 287.9L442.2 288.2L442.2 287.1L443.1 286.9L443.4 286.1L443.8 285.4L444.4 284.8L445.7 285.3L445.5 283.7L446.4 283.7L447.1 283.4L447.6 282.7L448.4 282.5L448.6 281.6L447.2 278.4L449.9 280.7L449.1 278.3L451.4 280.1L451.9 279.4L452.9 279.5L453 278.3L454 278.4L453.8 276.9L454.6 276.6L455.4 276.4L456.2 276.2L456.8 275.7L457.5 275.4L457.7 274.3L458.3 273.8L459.4 274L459.5 272.9L460.3 272.6L460.3 271.3L461.1 271.1L462.1 271.1L462.3 270.1L463 269.8L463.5 269.2L464.4 269.1L464.8 268.3L465.7 268.3L466.2 267.6L466.8 267.1L467.4 266.6L468.1 266.3L468.5 265.4L468.1 263.5L470.2 265.3L470.9 265L471.1 263.9L471.7 263.4L472.8 263.7L473.1 262.7L473.8 262.2L474.6 262.2L475.1 261.5L475.8 261.1L476.5 260.7L476.7 259.7L477.8 259.9L478.5 259.6L479.2 259.2L479.9 258.9L480.5 258.5L480.8 257.5L481.8 257.6L482.1 256.7L482.9 256.5L483.3 255.7L483.7 254.7L484.9 255.2L485.2 254.3L486.2 254.4L486.6 253.5L487.7 253.8L488 252.9L488.4 252.1L489.3 252.1L490.1 251.9L490.8 251.6L491.4 251.1L491.6 249.8L492.2 249.4L493.5 250L493.9 249.2L494.2 248L495 247.9L495.4 247.1L495.9 246.3L499.3 244.5L509.6 263.9ZM512.3 262.5L504.5 247.5L507.9 245.7L508.2 244.6L508.9 244.4L509.6 244L510.5 244L510.8 242.9L511.7 243L512 241.8L512.9 242L513.6 241.6L514 240.6L515.4 241.7L516 241.3L516.4 240.3L517.3 240.5L517.9 239.9L518.8 240.1L519.7 240.2L520.1 239.2L520.9 239.1L521.6 238.7L522 237.8L523 238.1L523.8 238L524.4 237.5L525.4 237.9L525.9 237.1L526.7 237L527.2 236.3L528.1 236.2L528.7 235.8L529.3 235.3L530 234.9L530.7 234.6L531.3 234.1L532 233.7L532.7 233.3L533.5 233.2L534.4 233.4L535 232.8L535.6 232.4L536.4 232.2L539.9 230.8L546.3 247ZM549.2 245.9L542.6 228.5L546.2 227.2L546.8 226.5L547.4 226L548.2 225.7L549.1 226L549.9 226.1L550.7 226L551.5 225.9L552.4 226L552.7 224.6L553.5 224.6L554 223.7L554.9 223.9L555.3 222.8L556 222.4L557 222.9L558.1 223.6L558.6 222.8L559.3 222.3L560.2 222.6L560.8 222.1L561.6 222.1L562.1 221.1L562.7 220.5L563.6 220.8L564.4 220.7L568.1 219.5L573.5 237.7ZM575.7 237.1L570 217.8L573.7 216.7L575 218.5L576 219.1L576.3 217.2L577.3 217.9L578.1 217.7L579 218.2L579.8 218.2L580.3 217.1L581.2 217.4L581.8 216.7L582.6 216.6L583.5 216.8L584.2 216.4L584.7 215.5L585.7 216.3L586.4 215.5L587 215L587.9 215.2L588.9 216L589.4 215L590.2 214.8L590.9 214.2L591.8 214.8L595.5 213.9L599.2 231.1ZM601.8 230.6L597.7 211.1L601.5 210.3L602.4 210.9L603 209.9L603.8 210.1L603.9 206.5L605.4 210.4L605.9 209.3L606.7 209.5L607.3 208.4L608.2 209.1L608.9 208.7L609.7 208.7L610.3 208.1L611.2 208.5L611.9 208.1L612.7 208.6L613.4 208L614.2 208.5L618 207.9L620.9 227.1ZM623.5 226.7L620.8 207.5L624.6 207L625.4 207.3L626.1 206.9L626.9 206.8L627.7 207.2L628.4 206.9L629 205.9L629.7 205.1L630.6 206.2L631.3 205.3L632 205L635.8 204.6L637.9 225Z" fill="#FC9272" stroke="#E0573E" stroke-width="0.8" stroke-linejoin="round"/>
<path d="M673.7 220.2 A351.5 351.5 0 0 1 896.8 300.7 L881.9 318.8 A328 328 0 0 0 673.7 243.7ZM904.8 307.4 A351.5 351.5 0 0 1 1006.7 461.3 L984.4 468.7 A328 328 0 0 0 889.3 325.1ZM1010 471.9 A351.5 351.5 0 0 1 1010.1 671.2 L987.6 664.5 A328 328 0 0 0 987.5 478.5ZM1007 681.1 A351.5 351.5 0 0 1 899.3 840.7 L884.1 822.7 A328 328 0 0 0 984.7 673.8ZM891.2 847.2 A351.5 351.5 0 0 1 724.7 919.4 L721.2 896.1 A328 328 0 0 0 876.6 828.8ZM714.6 920.7 A351.5 351.5 0 0 1 560.9 904.8 L568.4 882.6 A328 328 0 0 0 711.8 897.4ZM551.3 901.5 A351.5 351.5 0 0 1 430.2 825.8 L446.4 808.8 A328 328 0 0 0 559.5 879.4ZM422.9 818.6 A351.5 351.5 0 0 1 351.9 714.7 L373.4 705.1 A328 328 0 0 0 439.6 802.1ZM347.9 705.2 A351.5 351.5 0 0 1 322 590.9 L345.5 589.6 A328 328 0 0 0 369.6 696.3ZM321.6 580.4 A351.5 351.5 0 0 1 336 471.9 L358.5 478.5 A328 328 0 0 0 345.1 579.8ZM339.3 461.2 A351.5 351.5 0 0 1 392.6 359.8 L411.3 373.9 A328 328 0 0 0 361.6 468.5ZM399.3 351.2 A351.5 351.5 0 0 1 427.1 320.6 L443.5 337.4 A328 328 0 0 0 417.6 366ZM434.9 313.2 A351.5 351.5 0 0 1 505 263 L516.2 283.6 A328 328 0 0 0 450.8 330.5ZM514.2 258.1 A351.5 351.5 0 0 1 541.8 245.6 L550.6 267.4 A328 328 0 0 0 524.8 279.1ZM551.6 241.8 A351.5 351.5 0 0 1 569.1 235.9 L576.1 258.4 A328 328 0 0 0 559.7 263.9ZM578.4 233.2 A351.5 351.5 0 0 1 595 229 L600.2 251.9 A328 328 0 0 0 584.7 255.8ZM604.8 226.9 A351.5 351.5 0 0 1 616.9 224.7 L620.6 247.9 A328 328 0 0 0 609.3 249.9ZM626.8 223.3 A351.5 351.5 0 0 1 633.9 222.4 L636.6 245.7 A328 328 0 0 0 629.8 246.6Z" fill="#FEE0D2"/>
<path clip-path="url(#cl1)" d="M670.3 246.7L670.1 229.8L673.7 229.8L674.4 233.8L675.2 226.3L675.9 226.4L676.6 227L677.3 227.5L678 229L678.8 227.9L679.4 229.3L680.2 228.9L680.9 229.2L681.6 229.2L682.3 229L683 229.4L683.8 229.2L684.5 229.4L685.2 229.7L685.9 229.5L686.6 229.6L687.3 229.9L688 229.9L688.7 229.7L689.5 229.2L690.2 229.6L690.9 229.5L691.6 229.2L692.4 229.4L693.1 229.7L693.8 229.9L694.5 229.6L695.2 229.8L695.9 229.9L696.6 229.7L697.4 229.6L698.1 229.8L698.8 230L699.5 230L700.2 230.3L700.9 230.4L701.6 230.4L702.3 230.7L703 230.6L703.8 230.7L704.5 230.4L705.2 230.9L705.9 231.2L706.6 231.1L707.3 231.4L708 231L708.8 230.9L709.4 231.4L710.2 231.5L710.9 231.5L711.6 231.4L712.3 231.4L713 232L713.7 231.8L714.4 231.9L715.1 232L715.8 232.4L716.5 232.5L717.2 232.7L717.9 232.9L718.7 232.4L719.3 233L720.1 232.6L720.8 232.8L721.5 232.9L722.2 233.2L722.9 233.2L723.6 233.5L724.4 233.3L725.1 233.5L725.8 233.4L726.5 233.5L727.1 234.1L727.8 234.2L728.6 234L729.3 234.1L730 234.4L730.7 234.4L731.4 234.6L732.1 234.7L732.8 234.9L734.2 230.9L735.7 226.8L735.3 233.1L735.4 236.6L736.2 236.2L736.8 236.6L737.7 236.2L738.3 236.8L738.9 237L739.6 237.4L740.3 237.6L741 237.5L741.7 237.8L742.4 237.9L743.1 238.2L743.8 238.3L744.5 238.4L745.1 238.7L745.8 238.8L746.5 239.1L747.3 238.9L748 239L748.6 239.6L749.4 239.3L750 239.9L750.8 239.4L751.5 239.5L752.2 239.9L753 239.8L753.6 240.2L754.3 240.3L755 240.2L755.7 240.7L756.4 240.6L757.1 240.8L757.7 241.5L758.5 241.2L759.1 241.5L759.8 241.9L760.4 242.3L761.2 242.1L761.9 242.3L762.5 242.9L763.3 242.6L763.9 243L764.5 243.4L765.3 243.3L765.9 243.7L766.7 243.8L767.3 244.2L768 244.4L768.6 244.7L769.3 244.9L770 245.1L770.8 244.8L771.5 245.2L772.2 245.1L772.9 245.3L773.7 245.3L774.3 245.7L774.9 246L775.7 246L776.3 246.3L777 246.5L777.7 246.6L778.3 247.1L779 247.5L779.7 247.6L780.3 248.1L781 248.1L781.6 248.6L782.4 248.6L783 248.8L783.7 249.1L784.4 249.1L785 249.5L787 246.1L786.5 249.7L787.1 250L787.7 250.5L788.5 250.6L789.2 250.7L789.8 251L790.5 251.2L791.3 251.1L791.8 251.9L792.4 252.2L793.2 252L793.9 252.4L794.5 252.7L795.2 253L795.8 253.3L796.5 253.6L797.2 253.8L797.9 253.8L798.5 254.2L799.2 254.5L799.8 254.9L800.5 255L801.1 255.6L801.9 255.4L802.5 255.9L803.3 255.7L803.8 256.4L804.6 256.3L805 257.2L805.8 257.1L806.5 257.5L807.1 257.7L807.7 258.2L808.4 258.4L809 258.7L809.7 258.9L810.6 258.8L811.1 259.2L811.7 259.7L812.3 260.1L813.1 260L813.8 260.4L814.4 260.6L815 261.1L815.7 261.4L816.3 261.7L817 261.9L817.7 262.2L818.3 262.5L819.1 262.5L819.7 262.8L820.3 263.3L820.9 263.7L821.4 264.3L822.1 264.5L822.7 264.9L823.5 264.8L824.2 265L824.6 265.8L825.4 265.8L825.7 266.8L826.5 266.9L827.3 266.9L827.8 267.4L828.6 267.4L829.2 267.8L829.7 268.4L830.5 268.5L831.1 268.9L831.7 269.3L832.2 269.8L833 269.8L833.6 270.2L834.1 270.8L834.8 271.1L835.5 271.3L835.9 272L836.5 272.3L837.2 272.6L837.7 273.1L838.3 273.5L839 273.8L839.6 274.1L840.3 274.3L842.1 272.5L841.7 274.8L842.2 275.3L842.7 275.9L843.4 276.2L843.9 276.6L844.7 276.6L845.2 277.2L846 277.4L846.7 277.6L847.3 277.9L847.9 278.3L848.7 278.4L849.1 279.1L849.7 279.5L850.2 280L851.1 279.9L851.5 280.6L852.1 281L852.7 281.4L853.4 281.7L854 282.1L854.6 282.4L855 283.2L855.7 283.4L856.3 283.8L856.9 284.2L857.6 284.4L858.2 284.7L858.6 285.4L859.3 285.7L859.9 286.1L860.4 286.7L861.1 286.8L861.7 287.2L862.3 287.6L862.8 288.1L863.4 288.6L863.7 289.4L864.5 289.5L865.2 289.7L865.7 290.3L866.2 290.7L867 290.9L867.3 291.7L868.1 291.8L868.5 292.4L869.1 292.8L870 292.8L870.2 293.8L871.1 293.8L871.6 294.3L872.4 294.3L872.7 295.1L873.1 295.9L874 295.8L874.6 296.1L875.1 296.7L877.5 294.6L876.1 297.7L876.7 298.1L877.2 298.7L878.1 298.7L878.5 299.3L879 299.8L879.7 300.1L880.1 300.7L880.9 300.8L881.4 301.4L881.9 301.9L882.4 302.5L882.9 303L883.6 303.2L884.1 303.7L885.2 303.5L885.7 304L885.8 305.1L887 304.7L887.5 305.2L888.6 305L888 306.9L888.1 307.8L891 305.5L889.1 308.8L889.1 310L891.9 312.2L882.6 323.3ZM884.7 325.1L895.3 312.8L898 315.2L896 318.5L899.2 316L897.7 318.7L898.2 319.2L899.7 318.6L899 320.4L900.3 320.1L900.9 320.4L900.9 321.5L901.4 322L901.7 322.7L902.2 323.2L902.9 323.5L903.4 324L903.8 324.6L904.1 325.3L904.8 325.6L905 326.4L905.7 326.7L906.4 327L906.7 327.7L907.5 328L908 328.4L908.6 328.8L908.9 329.5L909.6 329.9L909.6 330.8L910.6 330.8L911.1 331.3L913.4 330L913.9 330.5L914.3 331.1L915 331.4L915.6 331.9L915.9 332.5L916.5 333L917.1 333.4L917.5 334L918 334.5L918.4 335.1L918.9 335.6L919.3 336.2L919.7 336.8L920.4 337.2L920.8 337.8L921.2 338.3L921.8 338.8L922.2 339.3L922.8 339.8L923.4 340.2L923.9 340.7L924.4 341.2L924.8 341.8L925.4 342.2L925.8 342.9L926.5 343.1L927.3 343.4L927.6 344.1L928.4 344.3L928.7 345L928.9 345.8L929.4 346.3L929.5 347.2L930.2 347.5L930.4 348.3L931 348.7L931.6 349.1L932.1 349.7L932.4 350.3L932.9 350.8L933.1 351.6L933.8 351.9L934.3 352.5L931.8 355.5L935 353.7L935.6 354.2L936 354.8L936.5 355.3L936.9 355.9L937.1 356.6L937.5 357.2L938 357.7L938.6 358.1L939 358.7L939.7 359.1L940.1 359.7L940.6 360.2L941.3 360.6L941.6 361.2L941.9 361.9L942.2 362.6L942.7 363.1L943.3 363.5L943.6 364.2L944.4 364.5L944.7 365.1L945.1 365.7L947.4 364.9L945.9 367L944.7 368.7L946.8 368.1L947.4 368.5L947.8 369.1L948.1 369.7L948.7 370.2L948.7 371.1L949.5 371.4L949.7 372.1L950.3 372.6L950.3 373.4L950.8 374L951 374.7L951.8 375L952.4 375.5L952.5 376.3L952.5 377.1L953.2 377.5L953.9 377.9L954.2 378.6L954.5 379.2L955.1 379.7L955.4 380.3L955.9 380.9L955.9 381.7L956.4 382.2L957.1 382.7L957.4 383.3L957.5 384.1L957.8 384.7L958.4 385.2L958.9 385.7L959.4 386.2L959.6 387L960 387.6L960.5 388.1L960.6 388.8L961.2 389.3L961.3 390.1L962 390.5L962.2 391.2L965.1 390.2L970.7 387.7L967.8 390.3L963.1 394L963.3 394.7L963.7 395.3L964.1 395.9L965.8 395.7L964.8 397.1L965 397.9L965.5 398.4L965.9 398.9L966.7 399.3L966.9 400.1L967.5 400.5L967.9 401.1L967.9 401.9L968.2 402.6L968.7 403.1L969 403.8L969.4 404.4L969.7 405L969.7 405.8L970.2 406.3L970.4 407.1L970.7 407.7L970.7 408.5L971.4 408.9L971.7 409.6L971.9 410.3L972.4 410.8L972.6 411.5L972.8 412.2L973 412.9L973.8 413.3L974 414L974.2 414.7L974.3 415.4L975.1 415.8L975.2 416.6L975.6 417.2L975.9 417.8L976.2 418.5L976.4 419.2L977 419.7L977.3 420.3L977 421.2L977.7 421.7L978 422.3L978.4 422.9L978.8 423.5L979.1 424.2L979.5 424.8L979.3 425.6L979.6 426.3L980.4 426.7L980.8 427.3L980.8 428.1L981.2 428.7L981.7 429.2L982 429.9L981.9 430.7L982.4 431.3L982.6 431.9L983.2 432.4L983.9 432.9L983.6 433.8L984 434.4L984.1 435.2L984.2 435.9L984.7 436.5L984.9 437.1L985.6 437.6L985.4 438.5L986 439L986.2 439.7L985.9 440.6L986.5 441.1L986.9 441.7L987.3 442.3L987.4 443L987.9 443.6L987.9 444.4L988.3 445L988.3 445.7L989.3 446.1L989.1 447L989.5 447.6L989.5 448.3L989.7 449L990 449.7L990.2 450.3L990.5 451L991 451.6L991.3 452.2L991.4 452.9L991.5 453.6L991.8 454.3L992.2 454.9L992.3 455.6L992.7 456.2L993.1 456.8L993 457.6L993.3 458.3L993.6 458.9L994 459.5L993.7 460.4L994.2 461L995.6 461.2L996.6 461.7L994.1 463.3L996 463.4L995.2 464.4L993.3 465.8L994.4 469.1L982.6 472.9ZM983.6 476.1L999.1 471.4L1000.1 474.8L1001.9 475L1003.4 475.3L1000.9 476.8L1000.7 477.6L1001.8 478.1L1000.9 479.1L1002.5 479.3L1002.3 480.1L1002.8 480.8L1002.4 481.6L1002.5 482.3L1002.4 483.1L1002.7 483.7L1003 484.4L1003.2 485.1L1003.6 485.7L1003.8 486.4L1003.8 487.2L1004.1 487.8L1004.4 488.5L1004.4 489.2L1004.6 489.9L1004.6 490.6L1005 491.3L1005.5 491.9L1005.3 492.7L1005.4 493.4L1005.7 494.1L1005.8 494.8L1006.1 495.4L1005.8 496.3L1006.2 496.9L1006.3 497.6L1006.6 498.3L1006.9 498.9L1007.3 499.6L1007.2 500.3L1007.2 501.1L1007.6 501.7L1007.8 502.4L1007.9 503.1L1008 503.8L1008.4 504.5L1008.5 505.2L1008.4 505.9L1008.8 506.6L1008.9 507.3L1009.1 508L1009 508.8L1009.6 509.4L1009.5 510.1L1009.4 510.9L1009.6 511.6L1009.7 512.3L1012.2 512.6L1009.9 513.7L1010.1 514.4L1010.3 515.1L1010.5 515.8L1010.6 516.5L1010.7 517.2L1010.6 517.9L1010.8 518.6L1010.8 519.4L1010.8 520.1L1010.9 520.8L1010.8 521.5L1010.7 522.3L1011.1 522.9L1010.9 523.7L1010.8 524.4L1011.1 525.1L1011 525.9L1011.2 526.6L1011.4 527.3L1011.5 528L1011.2 528.7L1011.6 529.4L1011.7 530.1L1012.1 530.8L1011.6 531.6L1012.2 532.2L1012.3 532.9L1012.5 533.6L1012.7 534.3L1012.6 535L1012.1 535.8L1012.8 536.5L1012.7 537.2L1012.7 537.9L1012.8 538.6L1013.1 539.3L1012.4 540.1L1012.9 540.8L1013.2 541.5L1013.1 542.2L1013.1 542.9L1013.1 543.6L1012.9 544.4L1013.1 545.1L1012.8 545.8L1013 546.5L1012.9 547.2L1013 547.9L1013.2 548.6L1013.1 549.4L1013.4 550.1L1014 550.7L1013.7 551.5L1013.5 552.2L1013.6 552.9L1013.7 553.6L1013.7 554.3L1013.7 555.1L1013.9 555.8L1013.9 556.5L1014.3 557.2L1014.4 557.9L1014.3 558.6L1014.2 559.3L1013.9 560.1L1014.3 560.8L1014.5 561.5L1014.1 562.2L1018.1 562.8L1023.7 563.4L1017.7 564.3L1013.2 565.1L1013.3 565.8L1013.3 566.5L1013.4 567.2L1013.3 568L1013.5 568.7L1013.1 569.4L1013.4 570.1L1013.5 570.8L1013.4 571.5L1013.3 572.2L1013.2 572.9L1013.6 573.7L1013.6 574.4L1013.4 575.1L1013.2 575.8L1013.2 576.5L1013.3 577.2L1013.7 578L1013.2 578.7L1013.1 579.4L1013.2 580.1L1013.2 580.8L1013.6 581.5L1013.8 582.2L1013.3 583L1013.6 583.7L1013.4 584.4L1013 585.1L1013.3 585.8L1013.2 586.5L1013.5 587.3L1013.5 588L1013.3 588.7L1013.2 589.4L1013.2 590.1L1013.6 590.8L1012.9 591.5L1013.6 592.3L1013.3 593L1012.8 593.7L1013.2 594.4L1012.7 595.1L1012.8 595.8L1012.4 596.5L1012.7 597.2L1013 598L1012.8 598.7L1012.6 599.4L1009.9 599.9L1012.5 600.8L1012.3 601.5L1012.5 602.2L1012.4 602.9L1012.2 603.6L1012.4 604.4L1012.5 605.1L1012.3 605.8L1012.3 606.5L1012.1 607.2L1011.8 607.9L1012.5 608.7L1012.1 609.4L1011.8 610.1L1011.8 610.8L1011.6 611.5L1011.4 612.2L1011.7 612.9L1011.5 613.6L1011.6 614.4L1011.2 615L1011.1 615.8L1011.6 616.5L1011.1 617.2L1011.3 618L1010.7 618.6L1010.8 619.3L1010.7 620L1010.5 620.7L1010.3 621.4L1010.3 622.1L1010.4 622.9L1009.7 623.5L1009.7 624.2L1010.1 625L1009.5 625.6L1009.4 626.3L1009.8 627.1L1009.3 627.8L1009.4 628.5L1009 629.2L1008.6 629.8L1008.8 630.6L1008.6 631.3L1008 631.9L1008 632.6L1008 633.4L1007.8 634L1007.9 634.8L1007.8 635.5L1007.8 636.2L1007.5 636.9L1007.7 637.7L1007.3 638.3L1007.7 639.1L1007.2 639.8L1006.9 640.4L1006.8 641.1L1006.6 641.8L1006.4 642.5L1006 643.2L1006.5 644L1006 644.6L1005.9 645.3L1005.4 646L1005 646.6L1005.3 647.4L1005.2 648.1L1005.3 648.9L1004.6 649.4L1004.4 650.1L1004.6 650.9L1004.4 651.6L1004.3 652.3L1004.2 653L1003.6 653.6L1003.8 654.4L1003.6 655.1L1003.1 655.7L1002.9 656.4L1003.3 657.2L1002.8 657.8L1002.5 658.5L1002.4 659.2L1002.2 659.9L1002.3 660.7L1002 661.3L1001.8 662L1002.1 662.8L1000.8 663.2L1001.3 664.1L1000.8 664.7L1000.8 665.4L1001.7 666.4L997.8 666.1L997.9 666.8L1002.9 669.1L1001.9 672.5L983.7 666.9ZM982.9 669.6L1004.8 676.6L1003.6 680L1002.9 680.5L1001 680.7L1001.8 681.7L999.2 681.6L999.3 682.4L1000.4 683.5L996.8 683.1L999.2 684.6L997.9 685L998.2 685.8L997.7 686.4L997.3 687L997.1 687.7L996.9 688.4L996.6 689.1L996.4 689.8L995.9 690.4L995.7 691.1L995.7 691.8L995.5 692.5L995.2 693.2L994.5 693.7L994 694.3L993.8 695L993.7 695.7L993.4 696.3L993.1 697L992.9 697.7L992.7 698.4L992.5 699.1L992.7 700L991.6 700.3L991.7 701.1L991.3 701.7L991.2 702.5L990.6 703L991 703.9L990.7 704.6L989.9 705L989.7 705.7L989.5 706.4L989.1 707L988.9 707.7L988.6 708.4L988.1 709L987.7 709.6L987.7 710.4L987.3 711L987.5 711.8L986.5 712.2L989.2 714.2L986.2 713.7L985.9 714.3L985.5 714.9L988.2 716.9L991.4 719.2L987 718L984.5 717.6L984.3 718.3L984.2 719L983.7 719.6L983.2 720.2L983.4 721.1L982.8 721.6L982.6 722.3L982.4 723L982 723.6L981.8 724.3L981.4 724.9L981.1 725.6L980.5 726.1L980.1 726.7L979.8 727.3L979.3 727.9L979.2 728.6L978.6 729.1L978.2 729.8L978 730.4L977.4 731L976.7 731.4L976.5 732.1L976.1 732.7L976 733.5L975.9 734.2L975.5 734.8L975.1 735.4L974.6 736L974.4 736.7L974 737.3L973.6 737.9L973.9 738.9L973.3 739.4L972.7 739.8L972.9 740.8L972.1 741.2L971.9 741.9L971.5 742.5L971.1 743.1L971.1 743.9L970.5 744.4L970.3 745.1L969.7 745.6L969.1 746.1L969 746.9L968.4 747.3L967.9 747.9L967.7 748.6L967 749L966.6 749.6L966.3 750.3L965.9 750.9L965.8 751.6L965.2 752.1L964.9 752.8L965 753.7L964.2 754.1L964 754.8L963.8 755.5L959.6 753.7L962.8 756.6L962.5 757.3L962.2 757.9L961.7 758.5L961.7 759.3L961 759.7L960.8 760.4L960.4 761L959.9 761.6L959.6 762.2L959 762.7L958.6 763.3L958.6 764.2L957.8 764.5L957.1 764.9L956.9 765.6L956.7 766.3L956.1 766.8L955.4 767.2L955.3 768L954.8 768.6L954.3 769L954.2 769.9L953.9 770.5L953.3 771L952.7 771.5L952.5 772.2L952.3 773L951.7 773.4L951.4 774.1L951.2 774.8L950.7 775.4L950.1 775.8L949.8 776.5L949.1 776.8L948.3 777.2L948.2 778L948 778.7L947.5 779.2L946.7 779.6L946.7 780.5L946 780.9L945.7 781.5L945.2 782L944.5 782.4L944.3 783.2L944.1 783.9L943.6 784.4L943.1 784.9L942.3 785.2L942.1 786L941.5 786.4L941.1 787L940.9 787.8L940 788L939.6 788.6L939.3 789.3L938.7 789.7L938.2 790.2L937.8 790.9L937.4 791.5L937.1 792.1L936.2 792.3L936.2 793.3L935.8 793.9L935.8 794.8L934.9 795L934.7 795.8L934.3 796.4L933.6 796.7L932.7 796.9L932.5 797.7L932.1 798.3L932 799.1L931.4 799.6L930.9 800.1L930.5 800.7L929.8 801.1L929.4 801.7L929.1 802.4L928.5 802.8L927.9 803.2L927.2 803.6L926.9 804.3L926.6 805L925.9 805.4L925.5 805.9L925.1 806.5L924.5 806.9L923.8 807.4L923.3 807.8L922.9 808.5L922.5 809.1L921.8 809.4L921.5 810.1L920.9 810.5L920.3 810.9L920.1 811.8L919.5 812.2L919 812.7L918.6 813.3L917.9 813.6L917.7 814.5L917.2 814.9L916.5 815.3L916 815.8L915.5 816.4L914.7 816.6L914.2 817.1L913.6 817.5L913.1 818L912.8 818.7L912.1 819.1L911.4 819.4L910.9 819.9L910.4 820.4L910.1 821.1L909.1 821.2L908.4 821.5L908.4 822.5L907.7 822.7L907.1 823.2L906.6 823.7L906.1 824.2L905.8 824.9L905.2 825.4L904.5 825.7L903.9 826.1L903.5 826.7L902.8 827L902.2 827.4L901.7 827.9L900.9 828.2L900.7 829L900.2 829.5L899.7 830L899.2 830.5L898.5 830.8L898.2 831.5L896.1 830.3L897.6 833.1L897.1 833.6L896.7 834.3L895.9 834.4L894.3 833.6L894.3 834.8L891.5 837.1L879.6 822.6ZM877.4 824.3L888.9 838.5L886.1 840.8L886.8 842.8L885.9 842.9L883.7 841.2L884 842.8L883.8 843.7L881.6 841.9L882.8 844.7L881.8 844.6L880.9 844.6L880.5 845.3L879.8 845.5L879.3 846.1L878.6 846.4L878 846.7L877.5 847.3L876.8 847.5L876.5 848.3L875.9 848.8L875.3 849.2L874.7 849.5L874.2 850.1L873.5 850.4L873 850.8L872 850.8L871.8 851.7L871.2 852.1L870.4 852.2L870 852.9L869.3 853.2L868.9 853.8L868.2 854.1L867.6 854.6L867 854.8L866.5 855.5L865.9 855.8L865.4 856.4L864.5 856.4L864.2 857.2L863.4 857.3L862.7 857.6L862.3 858.2L861.8 858.8L861.1 859L860.6 859.6L859.9 859.8L859.2 860.1L858.5 860.3L858 860.8L857.3 861L856.6 861.4L856.1 861.9L855.5 862.4L854.9 862.7L854.5 863.3L853.7 863.5L853.1 863.9L852.4 864.2L852.1 865L851.4 865.2L850.6 865.4L850.1 865.9L849.3 866L848.7 866.4L848.2 867L847.5 867.2L846.9 867.6L846.3 867.9L845.6 868.2L845.1 868.8L844.4 869L843.7 869.2L843.2 869.7L842.5 870L841.9 870.4L841.3 870.8L840.6 871.1L839.9 871.3L839.1 871.4L838.6 871.9L838 872.3L837.5 872.9L836.7 873L836.1 873.3L835.6 873.9L834.9 874.1L834.3 874.5L833.6 874.8L833.2 875.5L832.6 875.9L831.7 875.8L831.2 876.4L830.7 876.9L829.9 877L829.2 877.1L828.5 877.4L828 877.9L827.4 878.4L826.6 878.4L826.1 879L825.5 879.5L824.8 879.6L824.1 879.8L823.5 880.3L822.9 880.6L822.2 881L822.6 883.4L820.8 881.4L820.1 881.4L819.5 881.9L818.9 882.5L818.1 882.3L817.5 882.8L817 883.3L816.4 883.8L815.7 883.9L815.1 884.4L814.5 884.8L813.7 884.9L813.1 885.3L812.4 885.4L811.6 885.4L811 885.8L810.3 886.1L809.8 886.7L809 886.7L808.4 887L807.7 887.2L806.9 887.3L806.4 887.9L805.4 887.5L804.9 888.1L804.3 888.5L803.4 888.2L803 889L802.3 889.2L801.6 889.6L801.1 890.1L800.3 890.2L799.8 890.7L799.1 891.1L798.3 891L797.7 891.3L798.6 895.6L798.8 898.3L796.4 893.9L794.9 892.2L794.4 892.7L793.6 892.7L792.9 892.8L792.3 893.4L791.6 893.6L790.9 893.7L790.2 894L789.5 894.1L788.8 894.4L787.3 892.1L787.6 895.2L787 895.6L786.2 895.6L785.6 896.1L784.8 895.9L784.2 896.4L783.6 896.8L782.8 896.8L782.1 897L781.4 897.1L780.8 897.4L780.1 897.8L779.4 898L778.8 898.5L778.2 899L776.2 895L776.7 899L776.1 899.2L775.4 899.4L774.7 899.9L773.9 899.7L773.3 900.2L772.6 900.4L771.9 900.6L771.7 902.3L770.5 900.7L769.7 900.6L769.1 901.2L768.5 901.6L767.8 901.9L767.1 902.1L766.4 902L765.7 902.2L764.9 902.2L764.2 902.5L763.5 902.4L762.9 903.2L762.1 902.8L761.5 903.4L760.7 903.2L760 903.5L759.4 903.9L758.8 904.3L757.9 903.9L757.2 904L756.6 904.5L755.7 904.1L755.2 904.7L754.4 904.5L753.8 905L753.1 905.2L752.4 905.7L751.7 905.6L750.9 905.6L750.3 906L749.5 905.9L748.9 906.3L748.2 906.5L747.5 906.5L746.7 906.6L746.1 907L745.3 906.9L744.6 907.2L744 907.7L743.2 907.5L742.6 908.1L741.9 908.1L741.3 908.6L740.5 908.5L739.8 908.7L739.1 908.8L738.4 908.9L737.7 909.1L737 909.1L736.2 909.2L735.5 909.1L734.8 909.2L734.1 909.4L733.4 909.8L732.7 909.7L731.9 909.6L731.3 909.9L730.6 910.5L729.9 910.3L729.2 911L728.6 911.8L727.7 910.6L727.1 911.5L726.4 911.5L725.8 912.2L724.9 911.3L724.3 912.2L723.7 913L720.1 913.5L717.4 893.7ZM714.9 894L717.3 912.4L713.7 912.9L713 913.4L711.9 910.2L711.4 912L710.6 911.2L709.9 911.1L709.1 910.5L708.4 910.3L707.5 908.9L706.7 907.8L706 908L705.5 910.7L704.9 911.9L704.2 911.5L703.5 912L702.8 912L702.1 912L701.4 912.2L700.7 912.3L700.1 914.3L699.2 912.1L698.4 910.2L697.8 912.3L697.1 912.5L696.4 912.7L695.7 912.8L694.9 912.5L694.2 912.6L693.5 912.6L692.8 912.5L692.1 912.5L691.4 912.3L690.6 912.3L689.9 912.5L689.2 912.3L688.5 912.5L687.8 912.7L687.1 913.1L686.4 912.7L685.7 913L685 913.2L684.2 912.9L683.5 913.2L682.8 912.6L682.1 912.8L681.4 913L680.7 912.8L680 912.5L679.2 912.6L678.5 912.6L677.8 912.5L677.1 913L676.4 912.8L675.7 912.9L675 912.9L674.3 912.8L673.5 912.7L672.8 912.8L672.1 912.7L671.4 912.7L670.7 913L670 913L669.3 913L668.6 912.3L667.8 913L667.1 913.1L666.4 913.2L665.7 913.2L665 913.4L664.3 913.2L663.5 913.1L662.8 913L662.1 912.9L661.4 913.1L660.7 913L660 912.8L659.3 912.8L658.5 912.9L657.8 912.7L657.1 912.8L656.4 912.9L655.7 912.8L655 912.8L654.3 912.6L653.5 912.9L652.8 912.5L652.1 912.4L651.4 912.6L650.7 912.4L650 912.8L649.3 912.4L648.6 912.5L647.9 912.3L647.2 912.1L646.4 912L645.7 912.1L645 911.9L644.3 912L643.6 911.8L642.9 911.2L642.2 911.7L641.5 911.5L640.8 911.4L640 911.5L639.3 911.5L638.6 911.4L637.9 911.2L637.2 911.3L636.5 911.2L635.7 911.4L635 911.5L634.4 910.8L633.7 910.7L633 910.5L632.3 909.8L631.6 910.1L630.8 910.4L630.2 909.9L629.4 910L628.8 909.5L628.1 909.6L627.3 909.8L626.6 909.6L625.9 909.4L625.2 909.3L624.5 909.1L623.8 909.4L623 909.8L622.3 909.5L621.7 908.9L620.9 908.9L620.3 908.7L619.5 909L618.8 908.9L618.1 908.6L617.4 908.2L616.7 908.5L616 908L615.3 907.9L614.5 908.2L613.9 907.6L613.1 908L612.5 907.5L611.9 907L611.2 906.8L610.4 906.9L609.7 906.8L609 906.8L608.3 906.6L607.6 906.7L606.9 906.4L606.2 906L605.6 905.7L604.9 905.6L604.1 905.7L603.4 905.6L602.7 905.6L602 905.3L601.3 905.5L600.6 905.1L599.9 905L599.2 905L598.5 904.7L597.9 904.4L597.2 904.2L596.5 904L595.8 903.9L595.1 903.5L594.3 903.7L593.7 903.3L593 903.4L592.3 903.1L591.1 905.1L588.9 910.9L589.6 905.1L589.5 902.3L588.9 902.1L588.2 902L587.5 901.7L586.6 902.1L586 901.6L585.3 901.7L584.6 901.4L583.9 901.3L583.2 901.1L582.6 900.6L581.9 900.6L581.1 900.6L580.5 900.1L579.9 899.7L579.3 899.3L578.4 899.7L577.7 899.6L577.2 898.9L576.5 898.7L575.8 898.5L575.1 898.5L574.4 898.1L573.8 897.8L574 894.7L571.6 900.1L571.7 897.4L570.9 897.5L570.3 897L569.6 896.9L568.8 897.1L568.1 896.7L567.3 897.1L566.7 896.7L566.8 894L565.3 896.1L563.8 898.5L564.4 894.3L561 893.2L566.1 878.6ZM563.7 877.8L558.6 892.1L555.3 890.8L553.3 894.2L553.1 892.4L552.4 892.5L551.3 893.2L551.2 891.5L550.2 892.2L549.8 891.2L549 891.3L548.7 890.1L547.9 890L547.2 889.8L546.6 889.5L546 889L545.2 889.1L544.6 888.8L543.8 888.6L543.2 888.2L542.5 888L541.8 887.9L541.2 887.4L540.5 887.2L539.8 887L539.2 886.7L538.4 886.7L537.8 886.2L537.2 885.9L536.4 885.9L535.9 885.2L535.3 884.9L534.6 884.6L534 884.1L533.5 883.7L532.5 884L532.1 883.1L531.4 883L530.8 882.6L530.2 882.2L529.6 881.7L528.7 881.9L528.2 881.5L527.7 880.8L526.7 881.3L526.5 880L525.7 880L524.9 880L524.2 879.8L523.8 879L522.9 879.2L522.4 878.4L521.6 878.5L520.9 878.3L520.2 878L519.6 877.7L519 877.4L518.4 876.9L517.8 876.5L517.4 875.7L516.5 875.8L515.9 875.4L515.4 874.9L514.7 874.7L514 874.4L513.4 874.1L512.8 873.8L512.1 873.4L511.3 873.4L510.9 872.7L510.3 872.2L509.5 872.2L508.9 871.7L508.4 871.2L507.7 871.1L507.1 870.6L506.3 870.6L505.8 870.1L505.1 869.8L504.6 869.2L503.9 869L503.6 868.1L502.6 868.4L502.2 867.7L501.2 868L500.7 867.4L500.1 867L499.5 866.6L498.7 866.5L498.1 866.2L497.5 865.8L496.9 865.3L496.3 864.9L496 864.1L495.3 863.8L494.6 863.5L493.9 863.4L493.2 863.2L492.6 862.7L492 862.2L491.2 862.2L490.8 861.6L490.3 861L489.7 860.6L489.2 860L488.7 859.6L487.9 859.4L487.3 858.9L486.8 858.5L486.1 858.1L485.6 857.7L484.8 857.6L484.5 856.7L483.7 856.6L482.8 856.8L482.3 856.1L482 855.4L481.2 855.2L480.3 855.3L479.3 855.4L475.7 859.4L475.7 858.1L478.6 852.6L478.8 851.1L478.4 850.5L477.5 850.4L477 850L476.7 849.2L476 848.9L475.5 848.4L475 847.8L474.3 847.6L473.6 847.3L473.4 846.4L472.7 846.2L472.1 845.7L471.6 845.2L471.1 844.7L470.3 844.6L470 843.8L469.3 843.6L468.6 843.3L468.4 842.4L467.7 842.1L467 841.8L466.5 841.3L465.8 841L465.9 839.8L465.1 839.7L464.4 839.4L463.7 839.1L463.4 838.4L462.7 838.1L462.3 837.4L461.7 837L461.2 836.6L460.5 836.3L460.1 835.6L459.6 835.2L458.8 835L458.2 834.6L457.9 833.8L457.3 833.4L456.7 833L453.8 835.5L455.5 832.3L455 831.8L454.2 831.6L453.7 831.1L452.9 830.9L452.6 830.2L452.1 829.7L451.4 829.3L450.8 829L450.3 828.5L449.8 828L449.3 827.4L448.9 826.8L448.4 826.4L447.6 826.1L447.1 825.7L446.8 824.9L446.1 824.6L445.7 824L445 823.8L444.5 823.3L443.8 823L443.5 822.1L443 821.7L442 821.7L445.2 817.2L441.7 820L440.2 820.5L438.7 821L440 818.7L438.2 819.5L437.6 819.1L438.4 817.2L435.8 814.8L446 804.3ZM444.1 802.4L432.9 813.7L430.4 811.2L428.9 811.7L426.4 813.1L425.9 812.6L426.1 811.4L426.4 810.1L426.4 809.1L425 809.4L424.7 808.8L424.5 807.9L423.7 807.7L423.4 807L423 806.4L422.5 805.9L422.2 805.2L421.8 804.6L421.3 804.1L420.9 803.5L420.6 802.7L419.6 802.7L419.2 802L418.7 801.5L418.7 800.6L418 800.2L419 798.5L417.1 799.1L416.6 798.6L416.1 798.1L415.5 797.7L415.2 797L414.5 796.7L414.3 795.9L413.6 795.5L413.2 794.9L412.8 794.3L409.3 796.3L412.2 793L411.4 792.7L411.1 792.1L410.6 791.5L410.2 790.9L410.1 790L409.4 789.7L409 789.1L408.3 788.8L407.8 788.3L407.8 787.3L407.1 787L406.8 786.3L406 786L405.8 785.2L404.8 785.1L404.7 784.3L403.8 784.1L403.5 783.4L403.4 782.6L402.8 782.2L401.9 781.9L401.7 781.2L401.3 780.6L400.8 780.1L400.6 779.3L400 778.9L399.5 778.3L399 777.9L398.9 777L398.1 776.7L397.8 776L397.5 775.4L396.9 774.9L396.5 774.3L395.9 773.9L395.5 773.2L395.1 772.7L394.6 772.2L394.1 771.6L393.8 771L389.9 772.9L387.2 773.9L391.5 769.9L393.6 767.6L393.2 767L392.9 766.4L392.3 765.9L392 765.2L391.5 764.7L391.3 764L390.7 763.5L390.4 762.8L389.8 762.4L389.2 761.9L388.9 761.3L388.7 760.6L388.5 759.8L388 759.3L387.8 758.6L387.3 758L390.4 755.2L386.4 756.9L385.9 756.4L385.3 756L385 755.3L384.5 754.7L384.3 754L383.6 753.6L383.3 753L383 752.3L382.6 751.7L382.6 750.9L382.1 750.3L381.6 749.8L381.2 749.2L381 748.5L380.6 747.9L380.3 747.3L379.9 746.7L379.3 746.2L379.2 745.4L378.6 744.9L378.3 744.3L377.9 743.7L377.5 743.1L377.4 742.3L377.2 741.6L376.8 741L376.4 740.5L376.6 739.5L375.9 739.1L375.4 738.6L375.1 737.9L374.7 737.3L374.4 736.7L373.9 736.1L373.5 735.5L373.4 734.8L372.7 734.3L372.3 733.8L372 733.1L371.4 732.6L371.3 731.9L370.8 731.3L370.9 730.4L370.1 730L370.1 729.3L369.7 728.6L369.5 727.9L369.1 727.4L368.9 726.6L368.3 726.1L367.9 725.5L367.9 724.8L367.2 724.3L367.4 723.4L366.8 722.9L366.5 722.3L366.4 721.5L366 720.9L365.1 720.5L364.8 719.9L364.7 719.1L364.4 718.5L364.1 717.8L363.7 717.2L363.4 716.6L363 716L361.8 715.8L362.2 714.8L360.5 714.8L362 713.3L364.6 711.3L359.1 713L360.8 711.5L359.2 711.4L357.8 708.1L374.7 700.8ZM373.7 698.3L359.4 704.4L358.1 701.1L356.3 701L358.1 699.5L354.5 700.2L357 698.4L357 697.6L355.2 697.6L354.2 697.2L355.6 695.9L355 695.4L354.9 694.6L354.6 694L354.5 693.2L354.5 692.5L354.2 691.9L354 691.2L353.4 690.6L353.4 689.9L353.1 689.2L352.5 688.7L352.9 687.8L352.7 687.1L352.4 686.4L351.8 685.9L351.5 685.2L351.3 684.5L350.7 684L351.4 683L350.4 682.6L350.6 681.8L350.6 681L350 680.5L349.5 679.9L350 679L349.4 678.4L349.5 677.6L348.8 677.1L348.6 676.4L348.5 675.7L348.1 675.1L347.9 674.4L347.7 673.7L347.7 672.9L347 672.4L347 671.7L346.7 671L347.3 670.1L346.6 669.6L346.5 668.8L346.5 668.1L346 667.5L346.1 666.7L345.8 666.1L345.2 665.5L345.3 664.7L344.8 664.1L344.8 663.4L344.7 662.7L344.4 662L343.5 661.5L344 660.6L344.4 659.8L340.3 660.1L337.2 660.2L336.2 659.7L342 657.5L343.1 656.5L343.2 655.7L343.2 655L342.8 654.3L342.5 653.7L342.5 652.9L341.8 652.4L341.7 651.7L341.3 651L341.7 650.2L341.8 649.4L341.3 648.8L341.1 648.1L340.9 647.5L340.8 646.7L340.9 646L340.4 645.4L340 644.7L340 644L339.8 643.3L339.7 642.6L339.4 641.9L339.4 641.2L339.4 640.5L339.1 639.8L339.3 639L338.8 638.4L338.8 637.7L338.6 637L338.2 636.4L337.9 635.7L338 634.9L337.7 634.3L337.8 633.5L337.7 632.8L337.6 632.1L337.2 631.5L337 630.8L337.3 630L336.8 629.3L336.9 628.6L336.7 627.9L336.7 627.2L332.9 627.1L336.5 625.8L336.4 625.1L336 624.4L336.2 623.7L336 623L335.9 622.3L335.4 621.6L335.3 620.9L335.7 620.1L335.5 619.4L335 618.8L335.1 618L335.3 617.3L335 616.6L334.9 615.9L334.9 615.2L334.5 614.5L334.7 613.8L334.5 613.1L334.6 612.3L336.3 611.4L334.6 610.9L334.7 610.2L334.5 609.5L334.3 608.8L334.6 608L334.3 607.4L333.7 606.7L333.9 606L334 605.2L333.7 604.5L333.8 603.8L334 603.1L333.8 602.4L334 601.7L333.7 601L333.8 600.2L333.4 599.6L333 598.9L333.2 598.1L332.7 597.5L332.3 596.8L333.2 596L332.8 595.3L331.7 594.7L333.7 593.8L333.5 593.1L333.2 592.4L330.9 591.8L333.2 591L333.9 590.2L333.8 586.7L348.3 586ZM348.2 583.2L333 583.7L332.9 580.1L332.1 579.4L333.3 578.7L334 578L330 577.3L329.2 576.6L330.5 575.9L331.7 575.1L332 574.4L329.6 573.7L331.8 573L331.4 572.3L331.8 571.6L331.6 570.8L331.8 570.1L331.6 569.4L331.7 568.7L331.9 568L331.7 567.3L332.3 566.6L327.2 565.8L332.1 565.1L332.1 564.4L332 563.7L331.9 563L332.4 562.3L331.3 561.5L332 560.8L332.2 560.1L332.4 559.4L332.2 558.7L332.4 558L332.1 557.2L332.4 556.5L332.4 555.8L332.5 555.1L332.6 554.4L332.7 553.7L332.6 553L329.6 552.1L332.9 551.6L327.1 550.5L332.7 550.1L333 549.4L328.3 548.4L332.9 548L333.2 547.3L333.3 546.6L333.2 545.8L333.3 545.1L333.3 544.4L333.4 543.7L333.1 543L333 542.2L333 541.5L333.6 540.8L333.4 540.1L333.8 539.4L333.8 538.7L333.7 538L333.8 537.3L333.5 536.5L333.5 535.8L333.6 535.1L333.5 534.4L333.5 533.6L333.8 532.9L333.8 532.2L334 531.5L334.3 530.8L334.2 530.1L334.3 529.4L334 528.6L334.6 528L334.8 527.3L330.9 526.1L335.6 526L335.8 525.3L335.6 524.5L335.9 523.8L329 522.1L335.5 522.3L335.4 521.6L335.3 520.9L335.8 520.2L330.7 518.7L327.1 517.4L333.2 517.6L332.5 516.8L336.7 516.7L336.6 516L331.2 514.4L336.9 514.6L337.2 513.9L336.9 513.1L333 511.7L337.3 511.8L337.6 511.1L337.9 510.4L338.1 509.7L338 509L338.2 508.3L338 507.5L338.7 506.9L338.8 506.2L338.6 505.4L338.7 504.7L338.5 503.9L339.2 503.4L339.3 502.7L339.6 502L338.7 501.1L339.5 500.5L335.9 499L339.7 499.1L339.9 498.4L340.1 497.7L340.4 497L340.5 496.3L340.4 495.6L341.2 495L341.1 494.3L340.9 493.5L341.3 492.8L337.4 491.2L341.8 491.5L341.7 490.7L342.3 490.2L341.8 489.3L342.4 488.7L341.9 487.8L342.1 487.1L342.9 486.6L342.5 485.8L343.2 485.2L343.3 484.5L343.7 483.9L343.6 483.1L344.2 482.5L344.2 481.8L344.2 481L345.2 480.6L346.4 480.2L343.3 478.6L343.1 477.7L345.5 477.7L343.9 476.5L339.8 474.5L346.5 475.7L343.4 474.1L344.4 470.6L362.4 476.1ZM363.4 472.7L345.4 467L346.5 463.5L349.2 463.7L350.3 463.3L352 463.1L351.7 462.3L349.6 460.8L350.5 460.3L351.2 459.8L351.4 459.1L351.2 458.3L352 457.8L347 455.3L351.9 456.3L352.3 455.7L352.9 455.1L352.8 454.3L353.3 453.7L353.3 453L349.8 450.9L354 451.7L354.1 451L354.6 450.4L354.9 449.8L355 449L355.1 448.3L355.4 447.7L355.9 447.1L355.9 446.3L356 445.6L356.4 445L356.9 444.4L355.9 443.2L357.4 443.1L357.9 442.5L358.1 441.8L358.3 441.1L353.7 438.4L358.7 439.7L358.6 438.9L359.2 438.4L359.5 437.7L359.9 437.1L359.8 436.3L359.9 435.6L360.3 434.9L361.1 434.5L361.3 433.8L361.9 433.3L361.9 432.5L362.3 431.9L357.3 428.9L362.7 430.5L363 429.9L363.2 429.2L363.8 428.7L364.7 428.3L364.7 427.5L364.7 426.7L364.9 426.1L365.2 425.4L365.7 424.9L365.7 424.1L366.3 423.6L366.8 423L367.2 422.4L367.1 421.6L367.5 421L368.2 420.5L368.1 419.6L368.7 419.1L369.1 418.5L367.1 416.7L368.8 416.8L369.5 416.4L370 415.8L370.4 415.2L366.5 412.4L370.7 413.7L370.9 413.1L371.5 412.6L372 412L372.4 411.4L372.2 410.5L373.2 410.2L373.3 409.5L373.9 409L374.2 408.4L374.1 407.4L374.4 406.8L374.7 406.1L375 405.5L375.3 404.8L375.8 404.3L376.1 403.6L370.6 399.7L377.2 402.7L377 401.7L377.7 401.3L377.6 400.4L378.2 399.9L376 397.8L371.5 394.3L374 395L379.4 397.3L379.9 396.8L380.2 396.1L380.7 395.6L380.9 394.9L380.8 394L382 393.8L382.1 393.1L382.6 392.5L382.8 391.8L383.6 391.5L383.9 390.8L384 390L384.4 389.5L385 389L385.3 388.3L385.6 387.7L383.4 385.4L386.5 386.6L387.2 386.1L387.4 385.4L387.8 384.9L388 384.1L388.8 383.8L388.8 382.9L389.1 382.2L389.5 381.6L389.9 381.1L390.8 380.8L391 380.1L391.5 379.6L391.7 378.8L392.3 378.4L392.8 377.8L393.3 377.3L393.5 376.6L393.6 375.8L394.6 375.6L394.5 374.7L397.5 375.9L395.4 373.6L396.3 373.3L396.4 372.5L396.7 371.8L397.3 371.4L397.4 370.6L398.5 370.5L398.2 369.4L400.8 370.4L399.1 368.3L400.8 368.7L400.6 367.7L400 366.3L400.3 365.6L402.5 362.8L415.8 373ZM417.8 370.5L405.2 360.6L407.4 357.8L403.1 353.4L408.2 356.6L408.8 356.1L408.5 355L409 354.4L407.2 352.1L410.5 353.8L405.5 348.7L410.8 352.2L412.4 352.6L411.9 351.3L411.9 350.3L413.8 351L408.7 345.7L414.2 349.4L415.2 349.4L415.3 348.5L415.5 347.7L415.2 346.5L416.8 346.9L417.1 346.2L417.5 345.6L418.3 345.3L418.7 344.8L419.1 344.2L419.2 343.3L419.7 342.8L420.4 342.4L420.8 341.8L421.6 341.6L422.5 341.4L420.8 338.9L423.5 340.4L420 336.2L420.6 335.7L424.6 338.5L425 337.9L425.8 337.6L425.4 336.3L426 335.9L426.6 335.5L427.1 335L427.4 334.2L426 331.9L428.8 333.6L428.7 332.5L429.6 332.4L430.1 331.9L430.9 331.7L430.6 330.3L431.7 330.4L432.4 330.1L432.5 329.2L428.3 324L433.5 328.2L434.3 328L436.9 325.5L448.1 337.1ZM450.3 335L440.2 324.2L442.8 321.8L443.4 321.4L444.1 321.1L444.2 320.1L444.4 319.3L445.5 319.5L445.3 318.2L446.3 318.2L446.4 317.2L446.9 316.7L447.6 316.4L448.1 315.9L449 315.8L449 314.8L449.8 314.6L450.5 314.3L451.3 314.1L451.5 313.3L452.6 313.4L452.4 312.1L453 311.8L454.1 311.9L454.8 311.6L454.8 310.6L454.9 309.6L455.6 309.2L456.5 309.2L457 308.8L457.6 308.3L457.6 307.2L458.1 306.7L458.3 305.7L458.9 305.4L459.8 305.4L460.5 305.1L460.9 304.5L461.2 303.7L461.9 303.3L462.1 302.4L462.6 302L462.9 301.1L463.7 301L464.4 300.7L464.8 300.1L465.8 300.3L466.6 300.1L466.7 299L467.2 298.6L467.2 297.3L468.6 297.9L468.9 297.2L469.6 296.8L470.1 296.4L470.5 295.7L471.4 295.7L472 295.3L472.2 294.4L473.1 294.4L473.3 293.4L474 293.2L474.5 292.7L475.1 292.2L476 292.2L476 291L476.9 291.1L477.6 290.9L478 290.1L477.9 288.7L477.5 286.9L479.6 288.7L480.7 288.9L481.1 288.2L481.5 287.5L481.5 286.2L482.4 286.3L483.3 286.3L483.2 284.9L483.4 283.9L484.6 284.3L484.8 283.5L485.5 283.2L485.8 282.4L484.3 278.6L485.8 279.5L486.7 279.6L489.1 282.1L489 280.6L489.6 280.2L490.1 279.6L490.9 279.5L491.6 279.3L492.7 279.6L492.9 278.6L494.1 279.1L494.8 278.9L495.2 278.3L494.3 275.3L495.8 276.5L496.7 276.5L497.3 276.1L497.8 275.5L498.3 275L499.1 274.9L499.4 273.9L499.6 272.9L500.3 272.7L501.1 272.5L499.2 267.7L502.3 271.7L503 271.5L503.7 271.3L504.4 271.1L504.8 270.3L505.4 269.9L506.1 269.7L507 269.7L506.9 268L508.2 269L511.4 267.3L520.6 284.6ZM523.1 283.3L515.3 268.2L518.5 266.6L518.6 265.2L519.6 265.6L520.2 265.3L520.8 264.8L521.7 264.9L522.4 264.7L522.7 263.8L523.7 264.1L524.3 263.8L524.4 262.4L525.1 262L525.8 261.8L526.4 261.4L527.6 262.3L527.9 261.2L528.6 261L529 260.3L529.6 259.9L530.5 260.1L531.3 260.1L532.1 260.2L530.6 255.1L533.2 259.1L534.1 259.4L534.8 259L535.3 258.3L535.8 257.8L536.5 257.5L537.6 258.3L537.9 257.1L538.9 257.6L539.5 257.3L539.9 256.4L540.5 256L541.4 256.2L542.3 256.4L542.7 255.6L543.7 256.1L544.2 255.4L544.6 254.7L545.5 254.8L548.8 253.4L554.8 268.9ZM557.6 267.9L551.7 252.4L555 251.1L555.7 250.8L556.5 250.9L557.2 250.9L557.8 250.4L558.6 250.5L559.1 249.8L560.1 250.3L560.5 249.4L561.2 249.2L562 249.3L562.6 248.7L563.2 248.4L564.1 248.6L564.4 247.4L565.1 247.1L566 247.7L566.8 247.9L567.2 246.7L568 247L568.8 247L569.4 246.5L570 246.1L571 246.9L571.6 246.5L572.2 246L575.6 244.9L580.2 260.2ZM582.2 259.6L577.4 242.9L580.8 241.9L581.6 242.2L582.4 242.1L582.1 238.6L583.8 241.9L584.4 241.2L585 240.8L585.8 240.8L586.6 240.9L587.1 240L587.9 240.4L588.5 239.7L589.2 239.6L589.8 238.8L590.6 239.1L591.5 239.6L592.1 239.1L592.7 238.6L593.2 237.5L594 237.6L593.4 231.9L595.5 237.6L596.1 237.2L596.9 237.4L600.4 236.7L604.2 254.1ZM606.6 253.6L602.9 236L606.4 235.2L607.3 235.8L607 230.8L608.5 234.7L609.1 234.3L609.9 234.7L610.5 234.1L611.4 234.7L611.9 234L612.7 234.5L613.3 233.5L613.9 233.1L614.7 233.3L615.5 234L616.2 233.9L616.9 234L616.8 228.6L618.2 233.2L621.8 232.6L624.5 250.3ZM626.9 250L624.1 231L627.7 230.5L628.3 229.7L629.1 229.9L629.8 230.4L630.5 229.7L631.2 229.5L631.8 228.6L631.9 223.5L633.2 228.8L634 229.2L634.7 229.3L638.3 229L640.3 248.4Z" fill="#FC9272" stroke="#E0573E" stroke-width="0.8" stroke-linejoin="round"/>
<path d="M673.7 243.7 A328 328 0 0 1 881.9 318.8 L866.9 336.9 A304.5 304.5 0 0 0 673.6 267.2ZM889.3 325.1 A328 328 0 0 1 984.4 468.7 L962.1 476.1 A304.5 304.5 0 0 0 873.8 342.8ZM987.5 478.5 A328 328 0 0 1 987.6 664.5 L965.1 657.9 A304.5 304.5 0 0 0 965 485.2ZM984.7 673.8 A328 328 0 0 1 884.1 822.7 L869 804.7 A304.5 304.5 0 0 0 962.4 666.5ZM876.6 828.8 A328 328 0 0 1 721.2 896.1 L717.7 872.9 A304.5 304.5 0 0 0 862.1 810.4ZM711.8 897.4 A328 328 0 0 1 568.4 882.6 L575.9 860.3 A304.5 304.5 0 0 0 709.1 874.1ZM559.5 879.4 A328 328 0 0 1 446.4 808.8 L462.6 791.8 A304.5 304.5 0 0 0 567.6 857.4ZM439.6 802.1 A328 328 0 0 1 373.4 705.1 L394.8 695.6 A304.5 304.5 0 0 0 456.3 785.6ZM369.6 696.3 A328 328 0 0 1 345.5 589.6 L369 588.3 A304.5 304.5 0 0 0 391.3 687.4ZM345.1 579.8 A328 328 0 0 1 358.5 478.5 L381 485.2 A304.5 304.5 0 0 0 368.6 579.2ZM361.6 468.5 A328 328 0 0 1 411.3 373.9 L430.1 388.1 A304.5 304.5 0 0 0 384 475.9ZM417.6 366 A328 328 0 0 1 443.5 337.4 L460 354.1 A304.5 304.5 0 0 0 435.9 380.7ZM450.8 330.5 A328 328 0 0 1 516.2 283.6 L527.4 304.3 A304.5 304.5 0 0 0 466.7 347.7ZM524.8 279.1 A328 328 0 0 1 550.6 267.4 L559.3 289.2 A304.5 304.5 0 0 0 535.4 300.1ZM559.7 263.9 A328 328 0 0 1 576.1 258.4 L583 280.8 A304.5 304.5 0 0 0 567.9 285.9ZM584.7 255.8 A328 328 0 0 1 600.2 251.9 L605.4 274.8 A304.5 304.5 0 0 0 591 278.4ZM609.3 249.9 A328 328 0 0 1 620.6 247.9 L624.4 271.1 A304.5 304.5 0 0 0 613.9 273ZM629.8 246.6 A328 328 0 0 1 636.6 245.7 L639.2 269.1 A304.5 304.5 0 0 0 632.9 269.8Z" fill="#FEE0D2"/>
<path clip-path="url(#cl2)" d="M670.5 270.2L670.3 252.8L673.7 252.8L674.3 251.8L675 256L675.7 253.6L676.4 250.8L677 250L677.7 250.1L678.3 252.6L679 251.7L679.7 251.4L680.4 251.2L681 251.8L681.7 251.6L682.4 251.8L683 251.8L683.7 251.8L684.4 251.8L685 251.8L685.7 252.1L686.4 252.1L687.1 251.9L687.7 251.9L688.4 252L689.1 252.2L689.7 252L690.4 252.1L691.1 252.4L691.7 252.4L692.4 252.5L693 252.7L693.7 252.4L694.4 252.6L695.1 252.4L695.7 252.5L696.4 252.9L697.1 252.5L697.7 252.7L698.4 252.8L699.1 252.6L699.7 252.8L700.4 253.2L701.1 252.9L701.8 252.9L702.4 253.1L703.1 253.1L703.7 253.2L704.4 253.1L705.1 253.1L705.8 252.9L706.4 253.1L707.1 253.2L707.7 253.6L708.4 253.5L709.1 253.5L709.8 253.6L710.4 253.7L711.1 253.6L711.8 253.8L712.5 253.7L713.1 254.1L713.7 254.6L714.4 254.3L715.1 254.4L715.7 254.4L716.3 254.9L717.1 254.6L717.7 254.8L718.4 254.6L719 254.9L719.7 254.7L720.4 255.2L721.1 254.6L721.7 255.2L722.4 254.8L723 255.3L723.7 255.6L724.4 255.3L725 255.7L725.7 255.6L726.7 253.7L727 256L727.7 256L728.3 256.3L728.9 256.6L730.2 253.2L731.5 249.8L731.3 255.1L731.3 258.3L732.1 258.1L732.6 258.7L733.3 258.7L733.9 259.1L734.6 259L735.2 259.2L736 258.9L736.5 259.5L737.2 259.4L737.9 259.8L738.5 259.7L739.2 259.7L739.9 259.8L740.4 260.5L741.2 260.3L741.8 260.4L742.5 260.5L743.1 260.7L743.8 260.9L744.4 261.2L745 261.2L745.7 261.5L746.3 261.7L747 261.8L747.6 261.8L748.3 262L749 262.1L749.6 262.3L750.3 262L751 262.3L751.6 262.7L752.2 262.8L753 262.4L753.5 263.1L754.1 263.5L754.8 263.4L755.4 263.9L756.1 263.8L756.8 263.8L757.3 264.3L758 264.6L758.7 264.5L759.3 264.8L759.9 265.1L760.5 265.2L761.2 265.5L761.7 266.1L762.3 266.2L763 266.4L763.7 266.4L764.4 266.2L765 266.6L765.7 266.5L766.3 267L766.8 267.4L767.7 266.9L768.1 267.7L768.8 267.8L769.6 267.6L770.1 268L770.9 267.9L771.4 268.4L772.1 268.5L772.7 268.8L773.3 269L774 269L774.7 269.1L775.1 269.9L775.9 269.8L776.4 270.2L777 270.6L777.7 270.7L778.4 270.7L779 270.9L779.4 271.8L780.1 271.8L780.7 272.1L781.4 272.3L781.8 273L782.6 272.7L783.3 272.7L783.8 273.3L784.7 273L785.2 273.4L785.7 274L786.5 273.8L787.1 274.2L787.7 274.4L788.4 274.4L789 274.7L789.4 275.4L790.2 275.2L790.8 275.7L791.5 275.6L792.1 275.9L792.7 276.3L793.3 276.6L793.8 277.1L794.5 277.1L795.1 277.4L795.9 277.3L796.5 277.6L796.9 278.2L797.6 278.4L798.2 278.7L798.8 278.9L799.3 279.5L800.5 278.2L800.6 279.7L801.3 279.9L802.1 279.8L802.4 280.6L803.1 280.8L803.6 281.3L804.2 281.5L804.7 282L805.3 282.4L805.8 282.7L806.5 282.8L807.2 283L807.7 283.4L808.3 283.7L809 283.8L809.6 284.1L810.3 284.2L810.9 284.6L811.5 284.8L811.9 285.4L812.8 285.2L813.2 285.8L813.8 286.1L814.3 286.7L815.1 286.5L815.7 286.7L816.2 287.2L816.7 287.8L817.3 288L817.8 288.6L818.6 288.5L819.2 288.7L819.9 288.9L820.1 289.8L820.9 289.9L821.5 290.1L822.1 290.4L822.8 290.5L823.3 290.9L824 291.1L824.8 291.1L825.1 291.9L825.7 292.1L826.4 292.2L826.9 292.7L827.5 293L828 293.4L828.7 293.6L829.4 293.7L830 294L830.4 294.7L831 294.9L831.6 295.2L832.3 295.4L832.6 296.1L833.4 296.2L833.8 296.8L834.5 296.9L835 297.3L835.8 297.4L836.3 297.7L836.8 298.3L837.6 298.2L838.2 298.6L838.6 299.1L839.2 299.4L839.7 299.9L840.3 300.2L840.6 300.9L841.4 301L842.1 301.1L842.7 301.4L843.3 301.7L843.8 302.2L844.3 302.6L844.8 303L845.2 303.6L845.9 303.7L846.6 304L847.2 304.3L847.7 304.7L848.1 305.4L848.8 305.5L849.3 306L850.1 306L850.5 306.6L851 306.9L851.6 307.3L852.3 307.5L852.7 308L853.2 308.5L853.7 308.9L854.2 309.4L854.7 309.8L855.4 310.1L855.6 310.9L856.7 310.5L856.8 311.5L857.6 311.5L858.1 312L858.6 312.4L859.2 312.7L859.8 313.1L860.3 313.4L860.9 313.8L861.6 314L862.1 314.5L862.8 314.6L863.2 315.2L863.8 315.5L864.4 315.8L864.9 316.2L865.3 316.8L865.9 317.2L866.6 317.4L867.1 317.7L867.6 318.3L867.9 318.9L868.5 319.2L868.8 319.9L869.5 320.1L869.8 320.8L870.3 321.3L871 321.5L871.2 322.2L871.6 322.8L872.7 322.5L872.8 323.5L873.5 323.6L874.5 323.5L876.3 322.3L875.3 324.6L874.1 327.2L876.7 325L879.3 327.1L867.4 341.2ZM869.4 343L878.8 332.1L881.2 334.2L876.8 340.3L881.8 335.6L881.3 337.2L882.5 336.8L881.9 338.5L880.4 341.1L883.9 338.2L881.6 341.7L883.9 340.2L884.3 340.7L884.7 341.2L885 341.9L885.4 342.4L886 342.7L886.3 343.3L886.9 343.7L887.2 344.3L887.9 344.5L888.3 345L888.9 345.4L889.1 346L889.8 346.3L890.2 346.8L890.6 347.4L891 347.9L891.5 348.3L892.1 348.6L892.2 349.4L892.7 349.9L897.7 345.8L898.4 346.1L898.7 346.7L899.2 347.1L899.9 347.3L900.1 348.1L900.7 348.4L901.5 348.6L901.9 349.1L902.2 349.8L902.8 350.2L903.4 350.5L903.5 351.3L904.3 351.5L904.7 352L906.9 350.9L905.5 353.1L905.9 353.6L906.2 354.2L906.7 354.7L907.3 355L907.6 355.7L908.3 356L908.9 356.3L909.1 357L909.8 357.3L910.3 357.8L910.4 358.6L911.2 358.8L911.6 359.3L912.3 359.5L912.3 360.5L912.7 361L913 361.6L913.6 362L913.8 362.6L914.5 363L915.1 363.3L915.3 364L915.6 364.6L915.9 365.2L916.4 365.7L916.9 366.2L917.7 366.3L920.2 365.2L918.4 367.6L918.5 368.4L919.4 368.4L919.6 369.1L920 369.7L920.5 370.1L920.8 370.7L921.4 371.1L922 371.5L922.2 372.2L922.9 372.5L922.9 373.4L923.7 373.6L923.9 374.3L924.2 374.8L924.5 375.5L925.1 375.9L925.7 376.3L926.3 376.7L926.5 377.3L927 377.7L924.9 380.2L927.7 378.9L928 379.5L928.2 380.2L928.9 380.5L929.2 381.2L929.4 381.8L929.9 382.3L930.1 382.9L930.7 383.3L930.9 384.1L931.1 384.7L931.6 385.2L932.3 385.5L932.6 386.1L932.7 386.9L933.2 387.3L933.5 387.9L934.3 388.2L934.3 389L934.7 389.5L935.1 390.1L935.4 390.6L936 391L936 391.8L936.8 392.1L936.9 392.9L937.5 393.3L937.8 393.9L938.4 394.3L938.4 395.1L938.8 395.6L939.2 396.1L940 396.4L940 397.2L940.3 397.8L940.6 398.4L941 399L941.5 399.4L941.9 399.9L942 400.7L942.6 401.1L943 401.6L943.4 402.2L943.6 402.8L946 402.1L951 399.8L948.5 402.2L944.8 405.2L945.5 405.6L945.9 406.1L946.4 406.6L946.5 407.3L946.7 408L947.4 408.3L947.9 408.8L947.9 409.6L948.2 410.2L948.4 410.8L949 411.3L949.3 411.9L949.8 412.4L950.1 413L950.5 413.5L950.9 414L951.1 414.7L953.9 413.9L951.4 416.1L951.7 416.6L952 417.2L952.1 417.9L952.6 418.5L953.2 418.9L953.6 419.4L953.5 420.2L953.8 420.8L954.4 421.3L954.4 422L954.9 422.5L955 423.2L955.3 423.8L955.8 424.3L956.2 424.8L956.3 425.5L957 425.9L957.7 426.3L957.9 427L958.1 427.6L958 428.4L958.4 429L958.9 429.5L959.2 430.1L959.6 430.6L959.9 431.2L959.9 431.9L960.3 432.5L960.2 433.3L960.8 433.7L961 434.4L961.4 434.9L961.8 435.5L962 436.1L962 436.9L962 437.6L962.7 438L963.3 438.5L963.2 439.3L963.4 439.9L963.4 440.6L964.1 441L964.5 441.6L964.9 442.1L964.8 442.9L965.3 443.4L965.9 443.9L966.1 444.5L966.5 445.1L966.7 445.7L966.8 446.4L967.1 447L967.3 447.7L967.3 448.4L967.7 448.9L968 449.5L968.1 450.2L968 451L968.7 451.4L968.7 452.1L969 452.7L969.7 453.2L969.3 454.1L969.4 454.7L970 455.2L970.4 455.8L970.5 456.5L970.8 457L970.9 457.7L971.6 458.2L971.4 458.9L971.4 459.7L971.6 460.3L972.1 460.8L971.8 461.7L972.3 462.2L972.8 462.7L972.5 463.5L973.4 463.9L973.2 464.7L973.4 465.3L973.8 465.9L974.9 466.2L971.5 468.1L975.6 467.4L975.4 468.2L971 470.4L971.4 470.9L974 470.8L978.5 470L979 470.5L980.1 473.7L960.2 480ZM961.2 483L979.3 477.5L980.2 480.7L974.9 483L981.6 481.7L980.7 482.6L982.2 482.9L982.4 483.6L982.4 484.3L981.6 485.2L981.6 485.9L982 486.5L981.8 487.2L981.9 487.9L981.8 488.6L982.1 489.2L986.1 488.9L982.3 490.6L982.4 491.2L982.8 491.8L983.2 492.4L983.1 493.1L983.6 493.7L983.6 494.4L983.4 495.1L983.5 495.8L983.7 496.4L984.2 497L984 497.8L984.3 498.4L984.6 499L984.6 499.7L984.8 500.3L985.1 500.9L985.6 501.5L985.4 502.3L985.2 503L985.3 503.7L985.7 504.2L986.1 504.9L986 505.6L986.2 506.2L985.9 506.9L986.3 507.6L986.7 508.2L986.6 508.9L987.1 509.5L987.3 510.1L987.6 510.7L987.4 511.4L987.5 512.1L987.5 512.8L988.2 513.3L988.3 514L987.8 514.8L988.3 515.4L988.1 516.1L988.4 516.7L988.6 517.4L988.5 518.1L988.6 518.7L989 519.3L989 520L988.8 520.7L989.2 521.4L989.1 522.1L991.4 522.4L989.6 523.3L989.4 524L989.4 524.7L989.6 525.4L989.3 526.1L989.5 526.7L989.5 527.4L989.7 528.1L989.8 528.7L989.8 529.4L989.6 530.1L990.3 530.7L990.1 531.4L990.6 532L990.4 532.7L990.4 533.4L990.4 534.1L990.5 534.7L990.4 535.4L990.6 536.1L990.5 536.8L990.4 537.4L992.4 537.9L990.6 538.8L990.4 539.5L990.7 540.1L990.6 540.8L990.7 541.4L991.6 542L991.4 542.7L991.5 543.4L994.3 543.8L991.9 544.7L991.7 545.4L991.5 546.1L991.5 546.8L993.6 547.3L991.6 548.1L991.4 548.8L991.3 549.5L991.6 550.1L991.3 550.8L991.6 551.5L991.4 552.1L991.6 552.8L991.8 553.5L992 554.1L991.6 554.8L991.9 555.5L992 556.1L991.8 556.8L992.2 557.5L992 558.1L992.2 558.8L992.2 559.5L992.4 560.1L992.5 560.8L992.9 561.5L992.8 562.1L993.2 562.8L995.8 563.4L1000.7 564L996 564.8L993.1 565.5L992.8 566.2L993.1 566.8L992.7 567.5L992.6 568.2L992.8 568.8L992.9 569.5L992.7 570.2L992.6 570.9L992.6 571.5L993 572.2L992.6 572.9L992.3 573.5L992.7 574.2L992.6 574.9L993 575.6L992.6 576.2L992.4 576.9L992.4 577.6L992.4 578.2L992.6 578.9L992.1 579.6L992.3 580.2L992.1 580.9L992.4 581.6L992.4 582.3L992.7 582.9L992.8 583.6L992.9 584.3L992.3 584.9L992.7 585.6L992.4 586.3L992 586.9L992.5 587.6L992.5 588.3L992.3 589L992.3 589.6L992.4 590.3L992.1 591L992.4 591.7L992.3 592.3L992.1 593L992.3 593.7L992.1 594.3L991.9 595L992 595.7L992.2 596.4L992.1 597L992.3 597.7L992.4 598.4L992.2 599.1L992 599.7L992 600.4L991.4 601L991.7 601.7L991.7 602.4L991.5 603L991.6 603.7L991.4 604.4L991.6 605.1L991.5 605.7L991.5 606.4L990.9 607L990.8 607.7L991.4 608.4L992.4 609.2L990.6 609.7L991 610.4L990.5 611L990.5 611.7L990.4 612.4L990.2 613L990.3 613.7L990.4 614.4L990.1 615L990.8 615.8L990.4 616.5L990 617.1L990.2 617.8L989.7 618.4L990 619.1L989.4 619.7L989.6 620.4L989.7 621.1L989.5 621.7L989.3 622.4L989.2 623.1L989.1 623.7L988.8 624.4L988.6 625L988.4 625.6L988.3 626.3L992 627.7L988.7 627.8L988 628.3L987.5 628.9L988 629.7L987.6 630.3L987.2 630.9L986.9 631.5L986.8 632.2L987.2 632.9L986.8 633.6L986.4 634.2L986.1 634.8L986.4 635.5L986.3 636.2L985.7 636.8L985.6 637.4L989.1 638.8L984.6 638.6L984.8 639.3L985.1 640.1L984.8 640.7L985.1 641.4L984.9 642.1L984.3 642.6L984.7 643.4L984.1 643.9L984.3 644.7L983.7 645.2L984.2 646L983.7 646.6L983.8 647.3L983.8 648L983.4 648.6L983.7 649.4L983.1 649.9L983 650.6L983.1 651.3L983 652L982.6 652.5L982.4 653.2L981.8 653.7L982 654.5L981.7 655.1L981.5 655.7L982.1 656.6L982.1 657.3L980.9 657.7L981.2 658.5L981.5 659.2L982.4 660.2L978 659.6L982.4 661.6L982.8 662.4L979.3 662.1L978.3 665.3L961.3 660.1ZM960.5 662.6L980.8 669L979.8 672.2L978.8 672.6L975.1 672.1L976.2 673.2L978.4 674.6L976.3 674.6L976.7 675.4L976.1 675.9L975.8 676.5L973.8 676.6L975.4 677.8L974.8 678.3L974.9 679.1L974.6 679.7L974.4 680.3L974.3 681L974.2 681.7L974.2 682.4L973.9 683L973.3 683.5L973 684.1L972.6 684.7L972.7 685.4L972.5 686.1L972.3 686.7L971.8 687.2L972 688L971.8 688.7L971.4 689.2L970.9 689.8L970.4 690.3L970.6 691.1L970.5 691.8L970 692.3L969.9 693L969.8 693.6L969.7 694.3L969.4 694.9L969.1 695.6L968.5 696L968.2 696.6L967.9 697.2L967.8 697.9L967.7 698.6L967.2 699.1L966.9 699.7L967.1 700.5L966.6 701.1L966.4 701.7L966.4 702.5L965.9 703L965.1 703.3L965.5 704.3L965.2 704.8L964.7 705.4L967.2 707.3L970.2 709.4L966.2 708.3L963.6 707.8L963.1 708.3L962.7 708.9L962.2 709.4L962.1 710.1L961.9 710.7L961.5 711.3L961.1 711.9L960.7 712.4L960.8 713.2L960.3 713.7L960 714.3L959.8 715L959.7 715.6L959.3 716.2L959.3 716.9L959.1 717.6L958.4 718L958.5 718.8L958 719.3L957.8 719.9L957.4 720.5L956.9 721L956.7 721.7L956.3 722.2L955.9 722.7L955.4 723.2L955.2 723.9L955 724.6L954.5 725L954.5 725.8L954.5 726.6L954 727.1L953.8 727.7L953.3 728.2L952.7 728.6L952.3 729.2L951.9 729.7L951.7 730.4L951.2 730.9L951.4 731.7L951.2 732.4L950.9 733L950.2 733.4L949.7 733.9L949.3 734.4L951.5 736.5L948.5 735.5L948.5 736.3L948.1 736.9L947.4 737.2L947.2 737.9L946.7 738.3L946.9 739.3L946.2 739.6L945.8 740.2L945.1 740.5L945.1 741.3L944.7 741.8L944.3 742.4L943.9 742.9L943.8 743.6L943.4 744.2L943.1 744.8L943.2 745.6L942.4 746L942.1 746.5L941.7 747.1L941.1 747.5L940.6 748L940.2 748.5L940.1 749.3L939.6 749.7L939.2 750.3L938.8 750.8L938.4 751.3L937.9 751.8L938.2 752.8L937 752.8L936.9 753.6L936.4 754.1L936.3 754.8L935.9 755.4L935.6 756L935 756.4L934.8 757L934.6 757.7L934.1 758.2L933.9 758.8L933.2 759.2L932.7 759.7L932.6 760.4L931.9 760.7L931.4 761.2L931.2 761.9L930.7 762.4L930.4 762.9L930.1 763.6L929.7 764.1L929.3 764.6L928.8 765.1L928.4 765.7L927.9 766.1L927.5 766.7L927.4 767.4L926.8 767.8L926.5 768.4L926.2 769L925.6 769.5L925 769.8L924.7 770.4L924.1 770.8L923.8 771.4L921 770L922.8 772.4L922.2 772.8L922 773.5L921.6 774L921.1 774.5L920.6 774.9L920 775.3L920.1 776.2L919.6 776.7L919.3 777.3L918.6 777.6L918.3 778.2L918 778.8L917.5 779.3L916.9 779.7L916.6 780.3L916.2 780.9L915.6 781.2L915.5 782L915 782.4L914.4 782.8L913.9 783.3L913.4 783.7L912.9 784.2L912.4 784.7L912.1 785.3L911.8 785.9L911.1 786.2L910.7 786.8L910.2 787.2L910 787.9L909.1 788L908.9 788.7L908.3 789.1L907.9 789.6L907.3 790L906.9 790.5L906.4 791L905.9 791.4L905.7 792.2L905.3 792.7L904.3 792.7L904.2 793.5L903.5 793.7L903 794.2L902.6 794.8L902.2 795.3L901.9 795.9L901.3 796.3L901 796.9L900.5 797.4L899.7 797.6L899.2 798L898.9 798.6L898.5 799.2L898 799.6L897.7 800.2L897.6 801.2L896.8 801.3L896.3 801.8L895.8 802.2L895.1 802.5L894.7 803L894.3 803.5L893.8 804L893.6 804.7L892.9 805L892.5 805.5L892 806L891.4 806.4L890.9 806.8L890.5 807.4L890.1 807.9L889.5 808.2L889 808.7L888.5 809.1L888.1 809.7L887.6 810.1L886.9 810.4L886.2 810.6L885.9 811.3L885.3 811.5L885.1 812.4L884.7 812.9L884 813.2L883.3 813.3L883.6 814.8L882.6 814.6L882.7 815.8L881.5 815.3L880.3 815L880.5 816.3L879.5 816.2L880.9 818.8L878.3 821L864.7 804.4ZM862.7 806.1L876 822.5L873.3 824.6L870.9 822.6L870.3 823L870 823.7L870.3 825.1L867.8 823L868.5 825.1L866.7 823.8L867.2 825.5L866.7 826L865.9 826.1L865.5 826.6L864.8 826.8L864.4 827.4L863.8 827.7L863.5 828.4L863 828.9L862.6 829.4L861.7 829.4L861.5 830.2L860.9 830.5L860.3 830.9L859.9 831.4L859.3 831.8L858.7 832.1L857.8 832L857.4 832.6L856.9 833L856.3 833.3L855.8 833.9L855 833.8L854.7 834.5L854 834.7L853.5 835.2L852.8 835.4L852.4 835.9L851.7 836.1L851.2 836.5L851 837.5L850.2 837.5L849.7 837.9L849.1 838.3L848.8 838.9L848.1 839.1L847.4 839.3L846.8 839.5L846.3 840.1L845.8 840.6L845.3 840.9L844.7 841.3L844.1 841.7L843.5 841.9L842.9 842.2L842.2 842.4L841.6 842.7L841 843L840.7 843.7L840.1 844L839.6 844.5L839 844.8L838.3 845L837.9 845.6L837.1 845.6L836.7 846.2L836.1 846.6L835.4 846.6L835 847.2L834.2 847.3L833.6 847.5L833.3 848.3L832.4 848.1L832 848.7L831.4 849.1L830.8 849.3L830.2 849.7L829.8 850.3L829 850.4L828.5 850.8L827.9 851.1L827.2 851.2L826.7 851.6L826.2 852.2L825.7 852.6L825 852.8L824.4 853.1L823.9 853.5L823.2 853.7L822.7 854.2L822.2 854.6L821.6 855L820.9 855L820.6 856L819.7 855.7L819.2 856.2L818.8 856.9L816.2 853.3L817.5 857.3L816.8 857.3L816.2 857.7L815.6 857.9L815 858.3L814.4 858.5L813.8 858.8L813.2 859.2L812.5 859.3L812 859.7L811.3 859.8L810.6 860L810.3 860.8L809.3 860.4L808.9 861L808.2 861.2L807.6 861.3L807.1 861.9L806.7 862.6L805.9 862.5L805.4 863.1L804.7 863.3L804.2 863.6L803.5 863.9L802.9 864.1L802.3 864.5L801.7 864.7L801.1 864.9L800.3 864.9L799.6 864.9L798.9 865L798.6 865.9L797.7 865.5L797.3 866.2L796.6 866.4L795.8 866.2L795.3 866.8L794.9 867.6L794.1 867.4L793.6 867.9L792.8 867.8L792.1 867.9L791.6 868.4L791 868.7L790.3 868.8L789.8 869.3L788.9 868.8L790 873.4L790.3 876.2L788 872.1L786.6 870.2L786.1 870.8L785.5 871.1L784.7 870.9L784.1 871.1L783.4 871.4L783 872.1L782.4 872.4L781.7 872.4L781.1 872.8L780.4 873L779.9 873.5L779.2 873.5L778.4 873.1L777.9 873.7L777.6 875.1L776.5 874L776 874.3L775.5 875L774.6 874.7L774.2 875.4L773.5 875.6L772.8 875.6L772.1 875.6L771.5 875.7L770.8 876L770.2 876L769.6 876.4L768.9 876.4L768.4 877L767.8 877.5L767.2 877.8L766.5 878L765.9 878.3L765.3 878.5L764.6 878.6L764 878.8L763.3 878.7L762.6 878.8L762.1 879.6L761.4 879.4L760.7 879.6L759.9 879.2L759.3 879.5L758.6 879.6L757.9 879.3L757.3 879.8L756.5 879.5L755.9 879.7L755.4 880.7L754.7 880.6L754 880.4L753.4 880.6L752.7 880.8L752.2 881.3L751.5 881.4L750.8 881.4L750.2 881.6L749.5 882L748.8 881.7L748.2 882.3L747.6 882.4L746.9 882.6L746.2 882.5L745.5 882.5L744.9 882.9L744.3 883.2L743.6 883L743 883.5L742.4 883.6L741.7 883.9L741 883.7L740.4 884L739.7 883.9L739.1 884.4L738.5 884.6L737.8 884.9L737.1 884.8L736.6 885.5L735.8 885.1L735.2 885.4L734.5 885.1L733.8 885.5L733.2 885.7L732.6 885.9L731.9 886.1L731.2 886L730.6 886.3L729.9 886.4L729.3 886.7L728.6 886.6L727.9 886.4L727.3 886.8L726.6 887L726.1 887.8L725.4 887.8L724.7 887.4L724.1 888.2L723.3 887.5L722.9 889.1L721.4 884.2L720.8 884.4L720.7 888.4L719.8 887L716.5 887.5L714.2 870.4ZM711.8 870.7L714.1 888.1L710.8 888.5L710.1 888.6L709.2 886.5L708.7 888.2L708.1 888.9L707.6 890L706.7 887.7L706.1 888.8L705.5 889L704.8 888.6L704.1 888.9L703.4 888.2L702.7 888.5L702.1 888.9L701.4 888.8L701 891.9L700.1 888.5L699.4 888.8L698.7 888.4L698.1 888.7L697.4 888.2L696.7 888.7L696.1 888.6L695.4 888.5L694.8 888.8L694.1 888.6L693.4 888.9L692.8 889L692.1 888.8L691.4 888.9L690.8 889.1L690.1 889L689.5 889.3L688.8 889.2L688.1 889.2L687.5 889.6L686.8 889.3L686.1 889.1L685.5 889.5L684.8 889.8L684.1 889.6L683.5 889.4L682.8 889.4L682.2 889.7L681.5 889.1L680.8 889.7L680.2 889.7L679.5 889.7L678.8 889.5L678.2 889.7L677.5 889.6L676.8 889.5L676.2 889.5L675.5 889.8L674.8 889.4L674.2 889.9L673.5 889.9L672.8 889.9L672.2 889.8L671.5 890L670.8 889.9L670.2 890.1L669.5 890L668.8 889.7L668.2 889.8L667.5 889.2L666.9 889.8L666.2 889.4L665.5 889.5L664.9 889L664.2 889.3L663.5 889.4L662.9 889.4L662.2 889.4L661.5 889.4L660.9 889.3L660.2 889.1L659.5 889.5L658.9 889.7L658.2 889.6L657.5 889.8L656.9 889.4L656.2 889.5L655.5 889.5L654.9 889.6L654.2 889.1L653.6 889.1L652.9 889.1L652.2 888.9L651.6 888.9L650.9 889L650.3 888.6L649.6 889.1L648.9 889L648.2 889L647.6 888.7L646.9 888.8L646.3 888.7L645.6 888.7L644.9 888.6L644.3 888.6L643.6 888.3L643 888.2L642.3 888.4L641.6 888.5L640.9 888.3L640.3 888.1L639.6 888.4L639 888L638.3 888.3L637.6 888.1L637 887.8L636.3 887.7L635.7 887.6L635 887.7L634.3 887.9L633.7 887.4L633.1 887.1L632.4 887.2L631.8 886.5L631.1 886.9L630.4 886.7L629.8 886.4L629.1 886.3L628.5 885.9L627.9 885.9L627.2 885.9L626.5 886.1L625.8 886.1L625.2 885.7L624.5 885.6L623.9 885.6L623.2 885.4L622.5 885.4L621.9 885.1L621.2 885.3L620.6 885.2L620 884.8L619.3 884.7L618.6 884.7L618 884.6L617.3 884.6L616.7 884.4L616 884.3L615.4 883.8L614.7 884.1L614.1 883.7L613.4 883.7L612.2 886.3L612.2 883.1L611.5 883.1L610.9 882.8L610.2 882.6L609.9 880.8L608.8 882.9L608.3 882.4L607.6 882.4L606.9 882.2L606.2 882.3L605.6 882.2L605 881.9L604.4 881.6L603.7 881.6L603.1 881.3L601.9 883.5L601.7 881.2L601.2 880.6L600.5 880.6L599.8 880.5L599.2 880.4L598.5 880.5L597.8 880.3L596 885.1L594.5 888.1L595.3 882.4L595.3 879.6L594.6 879.4L594 879.2L593.3 879.1L592.6 879.2L591.9 879.3L591.3 879L590.7 878.6L590 878.8L589.5 878L588.7 878.4L588.1 878.2L587.6 877.5L586.8 877.9L586.2 877.6L585.6 877.3L585.1 876.7L584.3 876.8L583.7 876.6L583.1 876.3L582.4 876.2L581.6 876.6L581.1 876.1L580.4 875.9L579.8 875.6L579.2 875.3L578.7 874.9L578.1 874.5L577.5 874.2L577.2 872.9L575.8 875L574.9 875.8L574.8 874L574 874.1L573.1 874.7L571.9 876.2L572.5 872.4L572.8 869.4L569.7 868.3L573.8 856.4ZM571.6 855.6L564.9 874.4L561.7 873.3L561.9 870.9L560.4 872.9L559.9 872.3L559.6 871.2L559 871L558.8 869.7L558 870L557.4 869.6L558.1 866L556.6 868L556 867.7L555.3 867.5L554.8 867.1L554 867.2L553.7 866.3L553.1 865.9L552.5 865.5L551.8 865.5L551 865.7L550.4 865.4L549.7 865.4L550.8 861.2L548.4 865L548 864.2L547.2 864.5L546.7 863.9L546.1 863.6L545.3 863.7L544.8 863.2L544.1 863.1L543.7 862.5L543 862.4L542.5 861.9L541.8 861.8L541.3 861.2L540.8 860.7L540.1 860.6L539.5 860.3L538.8 860.2L538.2 860L537.6 859.8L537 859.5L536.4 859.1L535.8 858.7L535.1 858.7L534.5 858.3L533.8 858.4L533.3 857.9L532.7 857.6L532 857.4L531.4 857.1L530.8 856.9L530.3 856.5L529.7 856.1L529.1 855.8L528.3 855.9L527.8 855.4L527.3 854.8L526.6 854.7L526.1 854.4L525.6 853.8L524.7 854.1L524.1 853.9L523.7 853.1L523.2 852.6L522.3 852.8L521.8 852.5L521 852.6L520.6 851.9L519.9 851.7L519.4 851.2L518.9 850.8L518.3 850.4L517.9 849.7L517.2 849.7L516.6 849.3L516 849L515.5 848.6L514.9 848.2L514.3 847.9L513.6 847.9L513.2 847.3L512.4 847.3L512 846.7L511.6 846L511.1 845.6L510.3 845.6L510 844.8L509.3 844.7L508.8 844.2L508.1 844.1L507.2 844.2L506.8 843.7L506.1 843.5L505.7 842.8L505 842.8L504.6 842.1L504 841.8L503.3 841.7L502.9 841L502.4 840.6L501.6 840.5L501.2 839.9L500.8 839.3L500.1 839.3L499.5 838.9L498.8 838.7L498.5 837.9L497.9 837.6L497.4 837.3L496.6 837.2L496.1 836.7L495.7 836.2L495.1 835.9L494.6 835.4L493.9 835.2L492.9 835.5L489.3 839.5L489.3 838.4L492.8 832.2L492.5 831.4L491.9 831.1L491.4 830.7L490.5 830.7L490.3 829.8L489.6 829.7L489 829.4L488.3 829.3L488 828.6L487.4 828.3L486.8 827.9L486.3 827.5L485.7 827.2L485.4 826.5L486.2 824.3L484.2 825.9L483.5 825.7L483.3 824.8L482.5 824.8L482 824.4L481.7 823.7L481.1 823.4L480.4 823.2L480 822.6L478.5 823.5L478.9 821.8L478.5 821.3L477.9 821L477.2 820.9L476.8 820.3L476.2 819.9L475.8 819.3L475 819.3L474.5 818.9L474.1 818.3L473.8 817.6L473.1 817.4L472.4 817.2L472.1 816.5L471.4 816.3L471 815.8L470.6 815.2L470 814.9L469.6 814.3L468.9 814.1L468.4 813.7L468.3 812.8L467.9 812.3L466.8 812.5L466.5 811.9L464.5 813.2L465.6 810.8L464.6 810.9L464.3 810.4L463.9 809.7L463.2 809.5L462.9 808.9L462.4 808.4L462.4 807.5L461.5 807.4L460.8 807.2L460.8 806.3L459.9 806.2L462.3 802.6L458.7 805.6L458.2 805.2L457.6 804.8L456.9 804.6L456.7 803.8L456.8 802.7L456 802.6L455.9 801.8L453.8 803.1L453.7 802.1L454.6 800.2L452.2 797.9L462.4 787.5ZM460.7 785.7L449.3 797.2L446.9 794.9L444.7 796.2L445.9 794L443.3 795.7L443.8 794.2L444.2 792.9L443 793.1L442.7 792.5L442.2 792.1L441.9 791.4L441.4 790.9L441.1 790.3L440.9 789.6L440.5 789L439.9 788.7L439.4 788.3L439.4 787.3L438.7 787.1L438.4 786.4L438.1 785.8L437.7 785.3L437 785L436.5 784.6L436.2 784L435.8 783.4L435.2 783L434.6 782.7L434.3 782.1L433.7 781.7L433.3 781.2L432.5 781L432.7 780L432.2 779.5L431.5 779.2L431.1 778.6L431 777.9L430.6 777.3L429.8 777.1L429.5 776.5L429.2 775.9L426.1 777.7L428.3 775L430.2 772.5L427.6 773.8L427.2 773.3L426.9 772.7L426.3 772.3L425.7 771.9L425.6 771.2L425.3 770.5L424.6 770.2L424.3 769.6L424.1 768.9L423.5 768.6L423.2 767.9L422.5 767.7L421.9 767.2L421.8 766.5L421.5 765.9L420.8 765.6L420.5 765L420.2 764.3L419.6 764L419.1 763.5L418.6 763.1L418.4 762.4L418 761.9L417.5 761.4L417.1 760.8L416.9 760.2L415.9 760.1L415.9 759.3L415.4 758.9L415.1 758.2L414.4 757.9L414.1 757.3L413.8 756.7L409.3 759.1L406 760.6L410.2 756.8L412.2 754.6L411.8 754L411.1 753.7L410.8 753.1L410.4 752.6L410.6 751.6L409.9 751.3L409.5 750.8L409 750.3L408.7 749.6L408.5 749L408 748.5L407.3 748.2L407.6 747.2L407 746.8L406.8 746.1L406.5 745.6L406.1 745L405.8 744.4L405.2 744L405.1 743.2L404.9 742.6L404.6 742L404 741.6L404.1 740.7L403.4 740.4L403.3 739.7L402.5 739.4L402.3 738.7L401.8 738.3L401.9 737.4L401.3 737L401.2 736.3L401 735.6L400.4 735.2L400 734.7L399.7 734.1L399.2 733.6L398.7 733.1L398.6 732.4L398.4 731.8L394.6 733.2L397.7 730.6L397.4 730L396.9 729.6L396.6 729L396.3 728.4L396.1 727.7L395.6 727.2L395.3 726.6L395 726.1L395.1 725.2L394.5 724.8L394.3 724.1L394 723.6L393.8 722.9L393.4 722.4L393.2 721.7L392.8 721.2L392.4 720.6L392.1 720L391.8 719.4L391.4 718.9L391.2 718.2L390.5 717.9L390.4 717.2L390.4 716.4L389.6 716.1L389.3 715.5L388.6 715.1L388.6 714.3L388.2 713.8L388.2 713.1L387.8 712.5L387.1 712.1L387.2 711.3L386.5 711L386.7 710.1L386.2 709.6L385.5 709.2L385.9 708.3L385.4 707.8L384.6 707.4L384.9 706.5L384.3 706.1L383.7 705.6L382.6 705.4L382.9 704.5L383.2 703.7L382.7 703.2L384.1 701.8L382.1 701.9L382.8 700.9L381.4 697.9L396.3 691.4ZM395.3 689.2L380.5 695.4L379.3 692.4L378.4 692L378.6 691.2L376.9 691.2L377.5 690.2L376.3 690L376.6 689.1L375.8 688.7L376.5 687.7L376.8 686.9L376.7 686.2L376.9 685.4L376.6 684.8L376.2 684.3L376.3 683.5L375.8 683L376.5 682L375.7 681.6L375.3 681L378.3 679.2L374.7 679.9L376 678.7L374.4 678.6L373.7 678.1L373.5 677.5L373.4 676.8L373.2 676.2L372.5 675.7L372.4 675L372.3 674.4L371.9 673.8L372 673.1L372 672.4L371.5 671.8L371.4 671.2L371.1 670.6L370.9 669.9L370.7 669.3L370.7 668.6L370.5 667.9L370.1 667.4L370.3 666.6L369.8 666.1L369.7 665.4L369.8 664.7L369.1 664.2L367 664.2L368.9 662.9L368.6 662.3L368.6 661.6L368.7 660.9L367.9 660.4L368 659.7L367.7 659.1L367.8 658.3L367.6 657.7L367.5 657.1L367.1 656.5L366.8 655.9L366.6 655.2L366.4 654.6L366.5 653.9L366 653.3L359.7 654.3L358.1 654L363.7 651.9L365.8 650.6L365.1 650.1L364.6 649.6L364.8 648.8L364.4 648.2L364.6 647.5L364.2 646.9L363.6 646.4L364 645.6L364 644.9L363.6 644.3L363.4 643.7L363.1 643.1L363.6 642.3L362.9 641.8L362.9 641.1L363.1 640.3L362.6 639.8L362.2 639.2L362.3 638.5L362.4 637.8L362.8 637L362.2 636.5L362.3 635.8L362.3 635.1L361.7 634.5L362.1 633.8L361.6 633.2L361.3 632.6L361.4 631.9L361.5 631.2L361.3 630.5L361.3 629.9L361 629.2L360.8 628.6L360.8 627.9L360.9 627.2L360.7 626.6L360.5 626L360.8 625.2L360.3 624.6L360.4 624L360 623.3L359.9 622.7L359.8 622L359.6 621.4L359.2 620.8L359.6 620.1L359.3 619.4L359.7 618.7L359.4 618.1L359.2 617.4L358.9 616.8L359 616.1L359.1 615.4L358.9 614.8L358.3 614.2L358.5 613.5L358.5 612.8L358.4 612.2L358.2 611.5L358.2 610.9L357.4 610.3L357.6 609.6L357.2 609L357.3 608.3L357.1 607.6L357.4 606.9L357 606.3L357.1 605.6L356.6 605L357.3 604.3L357.3 603.6L357.3 602.9L357 602.3L357.3 601.6L356.7 601L357.2 600.3L357 599.6L357 599L357.1 598.3L357.1 597.6L356.3 597L356.6 596.3L356.8 595.6L356.1 595L355.6 594.4L356.1 593.7L359.7 592.8L355.8 592.4L356.3 591.7L353.5 591.2L354.1 590.5L354.7 589.8L354.1 589.1L353.9 585.8L371.8 585ZM371.7 582.3L353.1 583L353 579.6L351.5 579L346.8 578.4L350.1 577.7L354.6 576.9L353.3 576.3L353.5 575.6L353.7 574.9L353.6 574.3L353.8 573.6L353.7 572.9L354.1 572.2L354.6 571.6L354.6 570.9L351.9 570.2L354.5 569.6L354.7 568.9L354.1 568.2L354.4 567.6L354.6 566.9L354.2 566.2L354.7 565.6L354.3 564.9L354.6 564.2L354.7 563.6L354.5 562.9L354.7 562.2L354.4 561.5L354.3 560.9L354.8 560.2L354.9 559.5L354.9 558.9L351.8 558.1L350 557.3L355.1 556.9L355 556.2L355 555.5L355.3 554.9L354.8 554.2L355.5 553.6L355.5 552.9L355.4 552.2L355.6 551.6L355.1 550.9L355.1 550.2L355.5 549.5L351.7 548.6L355.4 548.2L355.6 547.5L355.1 546.8L352.8 546L355.3 545.5L352 544.6L355.5 544.2L355.6 543.5L355.3 542.8L355.4 542.2L355.7 541.5L355.9 540.9L351 539.7L356.1 539.5L356 538.9L356.2 538.2L356.4 537.5L356.1 536.8L356.2 536.2L356.3 535.5L356.4 534.9L356.5 534.2L356.7 533.5L356.9 532.9L351 531.5L356.9 531.5L357.1 530.9L357.5 530.3L357.2 529.6L357.8 529L357.5 528.3L357.2 527.5L353.6 526.3L357.6 526.2L357.7 525.6L357.8 524.9L358.2 524.3L354.7 523.1L354.7 522.4L350.8 521.1L349.2 520.2L359 521L358.9 520.4L358.7 519.6L358.9 519L358.8 518.3L359.2 517.7L359 517L359.6 516.4L359.4 515.7L359.6 515L359.9 514.4L360.2 513.8L360.2 513.1L360.2 512.4L360.6 511.8L360.3 511.1L360.5 510.5L360.5 509.8L361 509.2L360.9 508.5L361.2 507.9L360.7 507.1L356.4 505.5L361 505.8L361.7 505.2L361.9 504.6L362 503.9L362.1 503.3L361.9 502.6L362.3 502L362.3 501.3L358.5 499.7L362.6 500L362.9 499.3L363.1 498.7L363.2 498.1L363.2 497.4L363.4 496.7L363.8 496.1L360.4 494.6L364.1 494.8L363.9 494.1L364.3 493.5L361.8 492.2L365 492.3L364.3 491.4L364.9 490.9L364.7 490.1L365 489.5L365.1 488.9L365.1 488.2L368.6 488.4L365.3 486.9L365.1 486.1L365.5 485.5L366.3 485L366.1 484.3L364.4 483.1L365.2 482.6L364.1 481.6L369.2 482.4L367.4 481.2L368.3 478L384.8 483ZM385.8 479.9L373.2 475.8L374.2 472.7L369.4 470.4L369.5 469.8L371.6 469.7L369.3 468.2L372 468.5L370.6 467.3L371.1 466.7L371.2 466.1L370.1 465L372.7 465.2L372.6 464.4L373.2 463.9L373.2 463.2L373.5 462.6L373.8 462L374.4 461.5L374.8 461L374.7 460.2L374.9 459.6L375.2 459L375.5 458.4L375.4 457.6L375.8 457.1L376.4 456.6L375.7 455.6L376.4 455.1L376.8 454.6L376.9 453.9L376.8 453.2L377.2 452.6L377.4 451.9L377.3 451.2L378.2 450.8L378.5 450.2L378.7 449.6L379 449L379.3 448.4L379.4 447.7L376.5 445.7L377.8 445.5L380.5 446L381.1 445.5L380.9 444.7L381.5 444.3L381.5 443.5L379.3 441.8L381.8 442.2L382.2 441.6L382.6 441L383 440.5L383.1 439.8L383.4 439.2L383.9 438.7L384.3 438.2L384 437.3L384.4 436.8L384.5 436L384.9 435.5L382 433.4L385.5 434.3L386.2 433.9L386.1 433.1L382.7 430.7L386.4 431.8L387 431.3L387.3 430.7L387.4 430L387.9 429.5L388.2 428.9L388.4 428.3L388.6 427.6L389 427.1L389.2 426.5L389.5 425.8L390 425.4L390.7 424.9L390.8 424.3L391.4 423.8L391.9 423.3L392 422.6L392.1 421.9L392.8 421.5L392.9 420.9L393.1 420.2L387.7 416.5L393.9 419.1L390.6 416.5L394.7 418L394.8 417.3L393.9 416L395.1 416L395.5 415.4L396.1 415L396 414.2L396.6 413.8L396.8 413.1L397 412.4L397.3 411.8L397.9 411.4L396.4 409.7L391.7 406.2L394.3 406.9L399.3 409.1L399.4 408.4L399.8 407.9L400.5 407.5L396.9 404.5L401.4 406.5L401.5 405.8L402 405.3L402.1 404.6L402.5 404.1L403 403.6L403 402.8L403.8 402.5L404 401.8L404.3 401.2L404.5 400.6L405 400.1L405 399.3L405.5 398.8L405.5 398L406 397.6L406.3 396.9L406.7 396.4L407.2 395.9L407.7 395.5L403.2 391.7L408.4 394.3L403.9 390.5L409 393.1L409.5 392.6L409.8 392.1L410 391.4L410.5 390.9L409.9 389.7L411.2 389.7L411.8 389.4L412.2 388.8L407.3 384.5L412.7 387.5L413.2 387.1L413.2 386.3L413.7 385.8L414.3 385.4L410.8 382L414.7 384.1L415.1 383.5L414.8 382.5L418.2 384.2L415 380.9L415.9 380.7L416.4 380.3L418 380.7L416.9 379L417.2 378.4L419.3 375.7L434.4 387.4ZM436.2 385L424 375.4L426.1 372.8L427 372.7L423.2 368.7L427.5 371.4L427.8 370.8L422.8 365.8L429.4 370.4L426.8 367.4L426 365.8L429.8 368.1L430.4 367.7L430.7 367.1L431.7 367.1L431.7 366.2L432.7 366.2L432.5 365.1L432.4 364.2L432.4 363.3L432.6 362.6L432.7 361.8L434.2 362.2L434.6 361.6L431.7 358.2L432.3 357.8L436 360.2L436.5 359.7L433.1 355.8L438 359.3L437.3 357.8L439.4 358.8L439.4 357.9L440.3 357.8L439.6 356.3L440.7 356.4L440.7 355.5L441.9 355.7L442.4 355.2L438.5 350.6L443.5 354.4L443.8 353.8L443.5 352.6L444.2 352.3L441.3 348.7L440.5 346.9L445.7 351L446.2 350.6L447.2 350.6L447.4 349.8L447.8 349.4L448.2 348.8L449.4 349.1L449.6 348.4L449.6 347.4L450.1 346.9L450.7 346.6L448.3 343.2L451.8 345.8L454.2 343.5L464.3 354.1ZM466.4 352.1L457.1 342.2L459.5 339.9L460.2 339.8L459.9 338.4L461.1 338.7L461.3 338L461.9 337.6L461.4 336.1L462 335.8L460.8 333.4L463 334.9L464 335L464.7 334.9L464.8 334L465 333.1L465.6 332.8L466.3 332.6L466.6 332L467 331.4L467.3 330.7L468 330.5L468.7 330.3L468.6 329.2L469.3 329L469.8 328.5L470.2 327.9L471 327.8L471 326.8L472 327L472.3 326.3L473 326L473.7 325.9L473.8 325L474.4 324.7L475 324.4L475.4 323.7L476.8 324.4L476.3 322.7L477.3 322.9L477 321.5L477.8 321.5L478.4 321.2L479 320.8L479.7 320.7L478.8 318.3L480.4 319.4L480.7 318.6L481 318L481.5 317.5L483 318.3L483.3 317.6L483.9 317.3L484.3 316.7L485.1 316.8L485.2 315.8L485.9 315.5L486.3 315L486.9 314.6L487.2 314L487.6 313.3L488.1 312.9L488.2 311.9L488.6 311.2L489.4 311.3L490.1 311.1L490.2 310.1L491.1 310.2L491.8 310.1L492.2 309.4L492.5 308.7L491.6 306.2L493.9 308.3L494.9 308.6L495.2 307.9L495.8 307.6L496 306.7L496.6 306.4L497.2 306L497.7 305.6L498.3 305.3L498.8 304.9L499.3 304.4L500 304.2L499.9 302.9L500.7 302.8L501.6 303L501.7 301.9L502.3 301.5L500.6 297.6L503.5 301L503.8 300.2L504.4 299.9L504.5 298.8L505.1 298.5L505.9 298.5L506.4 298L507.4 298.4L507.6 297.4L508.1 296.9L508.4 296.2L508.8 295.5L510 296.1L510.3 295.3L510.6 294.6L511.7 295.1L511.9 294.1L512.2 293.3L513.4 293.9L513.7 293.1L514 292.2L514.8 292.3L515.7 292.6L515.9 291.5L516.5 291.2L517 290.7L517.8 290.8L518.5 290.7L518.9 290L519.7 290.1L522.7 288.5L531.6 305.4ZM534 304.2L526.8 290.3L529.7 288.8L530.4 288.6L530.6 287.6L531.5 288L532.2 287.8L532.9 287.7L533.2 286.9L533.8 286.5L534.3 286.1L535.1 286L535.6 285.6L534.5 281.8L534.8 280.9L537.2 284.4L537.9 284.2L538.4 283.8L539.1 283.6L539.8 283.7L540.8 284.1L540.8 282.6L541.3 282L542.3 282.5L543 282.5L543.6 282.3L544 281.4L545.1 282.3L545.6 281.9L545.8 280.5L546.5 280.6L547.3 280.6L548.1 281L548.3 279.6L549 279.7L549.5 279L549.8 278.2L550.7 278.4L551.3 278.2L551.8 277.7L552.5 277.6L553.1 277.3L553.8 277.3L554.6 277.4L557.6 276.1L563.4 290.8ZM565.9 289.9L560.2 274.8L563.3 273.7L563.8 272.8L564.7 273.5L565.5 273.6L565.8 272.7L566.5 272.6L567.1 272.3L567.6 271.7L568.4 272L569.1 271.9L569.5 271L570.2 270.9L570.8 270.6L571.6 270.9L572 270.2L572.8 270.4L573 269L574.1 270.2L574.9 270.2L575.4 269.7L575.6 268.2L576.6 269L577.1 268.6L577.6 267.9L578.5 268.3L579.1 268.1L582.3 267.2L586.9 282.8ZM588.8 282.2L583.1 262.7L586.4 261.8L587.8 264.4L588.5 264.4L589.2 264.4L589.9 264.5L590.6 264.3L591.2 264L592 264.3L592.8 264.7L593.2 263.6L593.8 263.4L594.7 264.2L595.1 262.8L595.8 262.9L596.1 261.5L597.1 262.4L597.5 261.5L598.3 261.8L598.9 261.5L599.7 261.7L600.4 261.8L601 261.5L601.7 261.4L601.1 255.7L604.4 255L609.2 277ZM611.4 276.6L608.2 261.1L611.4 260.4L611.3 256.4L612.6 259.4L613 258.3L613.9 259.3L614.5 259.2L615.2 259.4L615.7 258.3L616.2 257.8L617 258.4L617.8 258.8L618.2 257.6L619 258.2L619.1 254.8L620.2 257.8L620.8 257.4L621.4 257.1L622.1 257.2L625.4 256.7L628 273.6ZM630.2 273.3L627.5 254.6L630.8 254.1L631.4 253.4L632.2 254.3L632.8 253.9L633.4 253.5L634.1 253.9L634.9 254.3L635.6 254.8L636.2 254.1L636.9 255.1L637.5 254.5L640.9 254.1L642.6 271.7Z" fill="#FC9272" stroke="#E0573E" stroke-width="0.8" stroke-linejoin="round"/>
<path d="M673.6 267.2 A304.5 304.5 0 0 1 866.9 336.9 L851.9 355 A281 281 0 0 0 673.6 290.7ZM873.8 342.8 A304.5 304.5 0 0 1 962.1 476.1 L939.8 483.5 A281 281 0 0 0 858.3 360.4ZM965 485.2 A304.5 304.5 0 0 1 965.1 657.9 L942.5 651.2 A281 281 0 0 0 942.4 491.9ZM962.4 666.5 A304.5 304.5 0 0 1 869 804.7 L853.9 786.7 A281 281 0 0 0 940 659.2ZM862.1 810.4 A304.5 304.5 0 0 1 717.7 872.9 L714.3 849.6 A281 281 0 0 0 847.5 792ZM709.1 874.1 A304.5 304.5 0 0 1 575.9 860.3 L583.4 838 A281 281 0 0 0 706.3 850.7ZM567.6 857.4 A304.5 304.5 0 0 1 462.6 791.8 L478.9 774.9 A281 281 0 0 0 575.7 835.3ZM456.3 785.6 A304.5 304.5 0 0 1 394.8 695.6 L416.3 686 A281 281 0 0 0 473 769.1ZM391.3 687.4 A304.5 304.5 0 0 1 369 588.3 L392.4 587 A281 281 0 0 0 413.1 678.5ZM368.6 579.2 A304.5 304.5 0 0 1 381 485.2 L403.6 491.9 A281 281 0 0 0 392.1 578.7ZM384 475.9 A304.5 304.5 0 0 1 430.1 388.1 L448.8 402.3 A281 281 0 0 0 406.3 483.3ZM435.9 380.7 A304.5 304.5 0 0 1 460 354.1 L476.4 370.9 A281 281 0 0 0 454.2 395.4ZM466.7 347.7 A304.5 304.5 0 0 1 527.4 304.3 L538.7 324.9 A281 281 0 0 0 482.6 365ZM535.4 300.1 A304.5 304.5 0 0 1 559.3 289.2 L568.1 311 A281 281 0 0 0 546 321ZM567.9 285.9 A304.5 304.5 0 0 1 583 280.8 L590 303.3 A281 281 0 0 0 576 308ZM591 278.4 A304.5 304.5 0 0 1 605.4 274.8 L610.6 297.7 A281 281 0 0 0 597.3 301.1ZM613.9 273 A304.5 304.5 0 0 1 624.4 271.1 L628.1 294.3 A281 281 0 0 0 618.5 296ZM632.9 269.8 A304.5 304.5 0 0 1 639.2 269.1 L641.8 292.4 A281 281 0 0 0 636 293.1Z" fill="#EDF8E9"/>
<path clip-path="url(#cl3)" d="M670.7 293.7L670.6 286.3L673.6 286.3L674.2 275.5L674.8 280.7L675.4 283.4L676 287.6L676.6 281.9L677.2 285.4L677.9 277.6L678.5 277.5L679.1 281L679.7 280.8L680.4 277.7L681 278L681.5 282.6L682.1 281.6L682.8 277.6L683.5 277.3L684.1 277L684.5 281.5L685.3 277.2L685.9 277.2L686.5 277.5L687 281.8L687.8 278.1L688.4 277.7L689 278L689.6 278L690.2 278L690.8 277.9L691.5 278L692.1 278L692.7 278.1L693.3 278.4L693.9 278.1L694.5 278.5L695.1 278.1L695.7 278.9L696.4 278L696.6 282.7L697.1 283.8L698.2 279L698.8 278.8L699.4 278.8L700 278.9L700.7 278.7L701.3 278.8L701.9 278.6L702.5 279.2L703.1 279.5L703.7 279.1L704.3 279.5L705 278.7L705.6 279L706.1 279.5L706.8 279.4L707.2 281.4L708 279.3L708.6 279.7L709.2 279.6L709.8 279.7L710.4 280.2L711.1 279.8L711.7 279.7L712.2 280.5L712.9 280.2L713.5 280.4L714 280.8L714.7 280.5L715.4 280.2L716.3 277.8L716.5 280.8L717.2 280.6L717.7 281.5L718.4 280.7L719 280.7L718.7 287L720.2 281.2L720.8 281.3L721.3 282.1L722 281.6L722.6 281.7L723.2 282L723.9 281.6L724.4 282.4L725.7 278.5L727.3 273.1L726.5 280.9L726.7 283.5L727.2 284.1L727.8 283.8L728.5 283.7L729 284.1L729.6 284.3L730.4 283.3L730.9 284.2L731.5 284.3L732.1 284.6L732.7 284.5L733.4 284.4L733.9 285L734.5 284.9L735 285.4L735.7 285.4L736.2 285.8L736.9 285.6L737.5 285.6L738 286.1L738.6 286.4L739.2 286.6L739.9 286.1L740.5 286.1L741 286.9L741.7 286.7L742.4 286.2L743 286.3L743.5 286.7L743 291.4L744.8 286.7L745.4 287L745.4 289.5L746.4 287.9L747 287.9L747.6 288L748.3 287.9L748.8 288.3L749.5 288.2L750.1 288.4L750.7 288.4L751.3 288.5L751.8 288.9L751.8 291.5L753.1 289L753.6 289.4L754.3 289.4L754.7 290.1L755.4 289.9L755.9 290.3L756.6 290.2L756.9 291.2L757.6 291L757.4 293.9L758.8 291.5L759.5 291.3L760 291.6L760.6 291.8L761.1 292.2L761.8 292.1L762.3 292.4L762.9 292.5L763.5 292.8L764.1 293.1L764.7 293.2L765.2 293.5L765.9 293.4L766.6 293.1L767 293.8L767.6 294L768.3 293.9L768.8 294.4L769.3 294.7L769.8 295.3L770.5 295L771 295.5L771.6 295.8L772.1 296L772.8 295.9L773.2 296.6L773.8 296.8L774.6 296.4L775.1 296.8L775.7 296.9L776.2 297.4L776.8 297.4L775.4 303L777.9 298.2L778.4 298.5L779 298.6L779.7 298.4L780.3 298.7L780.7 299.4L781.5 298.9L782 299.3L782.4 300.1L783.3 299.5L783.6 300.4L784.3 300.3L784.7 300.9L785.3 301L786 300.8L786.6 301.1L787.3 301.1L785.8 306.2L788.3 301.9L788.6 302.7L789.1 302.9L789.9 302.7L790.4 303L790.9 303.4L791.3 304L791.8 304.6L792.7 304L793.4 304L793.9 304.3L794.5 304.4L794.7 305.5L795.7 304.9L795.9 305.7L796.8 305.4L797.1 306.1L797.6 306.6L798.3 306.6L798.8 306.8L799.4 307L800 307.2L800.7 307.2L801.3 307.3L801.5 308.3L802.3 308L802.6 308.8L803.2 309L804.1 308.5L804.5 309.2L804.9 309.8L805.5 309.9L806.1 310.1L806.6 310.5L807.1 310.8L807.9 310.5L808.2 311.4L808.8 311.6L809.3 311.9L810 311.9L810.3 312.6L811.2 312.2L811.4 313.2L811.9 313.6L812.4 313.9L813.1 313.9L813.8 313.9L814.3 314.2L814.7 314.9L815.4 314.8L816.1 314.9L816.4 315.5L816.8 316.2L817.5 316.2L815.6 320.7L818.7 316.5L819 317.3L819.5 317.5L820.1 317.7L819.4 320.2L821.1 318.5L821.6 318.8L822.3 318.9L823 318.8L825 316.7L823.7 320.1L822.1 323.9L824.6 321L825.4 320.8L825.7 321.5L826.4 321.6L828.1 320L827.4 322.2L827.1 324L828.5 322.8L829.2 322.9L829.4 323.7L830.2 323.6L830.8 323.8L831.3 324.1L831.7 324.7L832.2 325L832.8 325.3L833.2 325.8L833.9 325.9L834.6 325.9L833.2 329.1L835.1 327.3L835.6 327.7L836.3 327.7L836.5 328.6L837.1 328.7L837.2 329.6L838 329.6L838.6 329.8L839.2 330L839.5 330.7L840.2 330.8L840.9 330.9L841.1 331.5L841.9 331.5L842.2 332.2L842.7 332.5L843.1 333L840.5 337.8L844 333.8L842.2 337.4L845.2 334.4L845.4 335L846 335.3L846.5 335.6L847 335.9L847.4 336.5L848 336.7L847.3 338.7L846 341.5L849.9 337.3L850.3 337.7L848.2 341.5L851.6 338L848.6 342.9L852.6 338.8L852.6 339.8L853 340.3L853.4 340.7L849.9 346.2L854.7 341.1L854.6 342.2L854.7 343.1L853 346.1L856.7 342.5L857.5 342.4L857.5 343.5L854.7 347.8L859.5 342.9L857.2 346.7L854.8 350.6L860 345.3L862.3 347.3L852.3 359.2ZM854.1 360.8L862 351.6L864.3 353.6L860.3 359.1L859.5 360.9L863.3 357.4L862.4 359.4L860.8 362L866.9 356.1L862.7 361.7L868.6 356L865.4 360.5L864.6 362.2L865.3 362.4L865 363.5L865.3 364.1L871 358.8L871.1 359.6L871.3 360.3L871.7 360.8L872.5 360.8L872.8 361.3L873 362L873.4 362.5L870.9 366L874.6 363L873.3 365.2L875.4 364L872.1 368.1L876 365L876.7 365.1L877 365.8L877.7 365.9L877.9 366.6L878.1 367.2L878.4 367.8L886 361.1L886.4 361.6L886.5 362.3L886.7 363L887.3 363.3L887.7 363.9L888.1 364.3L888.9 364.4L888.6 365.6L886.1 368.8L889.8 366.2L890.3 366.6L891.1 366.7L891.4 367.2L891.9 367.6L893 367.4L892.7 368.6L893 369.1L893.2 369.8L894.2 369.7L894.2 370.6L894.8 370.9L895.1 371.5L895.2 372.2L895.6 372.7L896.3 372.9L896.9 373.2L897.1 373.9L897.7 374.2L898.1 374.6L898.7 375L899.2 375.3L899.6 375.9L900 376.3L899.8 377.3L899.3 378.6L901.4 377.6L901.5 378.3L901.8 378.9L902 379.5L902.4 380L903.4 380L903.7 380.6L904.2 381L904.4 381.6L904.8 382.1L905.2 382.6L905.5 383.2L906 383.5L906.7 383.8L906.9 384.4L907.1 385.1L907.7 385.4L907.5 386.3L908.4 386.4L908.4 387.3L908.5 387.9L909.7 387.8L909.6 388.7L909.9 389.2L910.6 389.5L910.8 390.1L911.4 390.5L911.6 391.1L911.9 391.7L912.6 391.9L909.5 395L913 393.2L910.8 395.6L913.6 394.3L913.8 394.9L914.9 394.9L915 395.6L915.3 396.2L915.7 396.6L915.9 397.3L916.7 397.5L916.8 398.2L917.3 398.6L918.1 398.8L917.8 399.8L918.3 400.2L919.2 400.3L919 401.2L919.7 401.5L920 402.1L915.6 405.8L921 402.9L921.2 403.5L920.8 404.5L918.8 406.6L922.2 405.1L921.4 406.4L923.1 406L923.2 406.7L923.3 407.3L923.5 408L923.8 408.5L924.4 408.9L924.3 409.7L924.6 410.2L925.3 410.5L926 410.9L925.9 411.6L926.2 412.2L922.1 415.5L926.5 413.5L928.7 412.9L931 412.2L931.4 412.7L930.8 413.8L931.4 414.2L931.6 414.8L932.2 415.2L932.1 416L932.5 416.5L932.6 417.1L933.1 417.6L933.4 418.1L933.6 418.7L934.1 419.2L934.2 419.9L935 420.1L935.4 420.6L935.3 421.5L935.2 422.2L935.9 422.5L936.3 423L936.3 423.7L937.3 423.9L937.2 424.7L937.6 425.2L935.3 427.2L938.2 426.3L938.4 426.9L938.8 427.4L938.8 428.2L937.9 429.4L939.3 429.3L939.4 430L939.8 430.5L940.1 431L940.6 431.5L941.2 431.9L941.4 432.5L941.6 433.1L941.9 433.7L942.4 434.1L942.6 434.8L943 435.3L943.2 435.9L943 436.7L943.7 437L944 437.6L943.9 438.3L944.8 438.6L939 442.1L939 442.8L938.7 443.7L935 446.1L940.3 444.3L939.9 445.1L939.8 445.9L940.7 446.1L940.7 446.8L940.7 447.5L938.6 449.1L942 448.2L941.7 449L941.7 449.7L942.4 450.1L942.2 450.9L943 451.2L943.3 451.7L939 454.3L943.6 452.9L938.4 455.9L944.5 453.9L944 454.8L944.6 455.2L944.9 455.8L945.5 456.2L945.8 456.7L945.7 457.4L946.5 457.8L946.8 458.3L946.4 459.1L946.9 459.6L947.4 460.1L947.1 460.9L947.2 461.5L947.7 461.9L947.6 462.7L948.1 463.1L948.3 463.7L948.6 464.3L948.5 464.9L947.2 466.1L949.4 466L945.3 468.2L949.9 467.1L950.2 467.6L944.8 470.3L950.6 468.8L949.9 469.7L950.8 470.1L950.5 470.8L951 471.3L951.4 471.8L952.2 472.2L951.4 473.1L948.9 474.7L949.8 475L954.3 474.1L947.2 477.2L952.4 476L945.7 479L954.9 476.5L951.4 478.3L948.3 480L956 478.1L957 481.1L937.8 487.2ZM938.7 490L956 484.6L956.9 487.6L953.1 489.4L949.2 491.2L957 489.5L949.3 492.4L948 493.4L953.5 492.4L955.4 492.5L953.6 493.7L958.4 493L950.6 495.8L960 493.8L957.4 495.2L960 495.1L959.5 495.9L960.5 496.3L960.7 496.9L959.8 497.8L960.2 498.3L960.7 498.8L960.9 499.4L960.8 500.1L957.2 501.6L961.2 501.3L961.6 501.8L961.3 502.5L956.1 504.4L961.6 503.7L961.6 504.4L962 504.9L962 505.5L962.5 506.1L958.5 507.6L959.5 508L962.5 508L962.4 508.6L962.9 509.2L962.8 509.8L963 510.4L962.9 511.1L957.2 512.9L963.2 512.3L966 512.4L961.2 513.9L964 514L964.3 514.6L964.4 515.2L964.1 515.9L964.3 516.5L964.5 517.1L965 517.6L964.9 518.3L965 518.9L964.8 519.6L964.9 520.2L965.9 520.7L965.4 521.4L964.8 522.1L965.2 522.7L965.4 523.3L965.5 523.9L965.5 524.5L965.3 525.2L965.9 525.7L968.9 525.9L965.8 527L966 527.6L965.8 528.2L966 528.8L966.6 529.4L961.3 530.8L966 530.7L966.9 531.2L966.4 531.9L966.9 532.5L966.6 533.1L967.1 533.7L968 534.2L967.7 534.9L963.6 536L966.9 536.2L967.6 536.8L967.5 537.4L967.3 538.1L965.3 538.9L967.4 539.3L967.3 539.9L967.6 540.5L967.9 541.1L971.3 541.4L968.1 542.4L968.2 543L966.1 543.8L968 544.2L963.6 545.3L968.6 545.4L968.1 546.1L967.8 546.7L968.3 547.3L968.5 547.9L967.9 548.6L968.4 549.2L968.6 549.8L968.7 550.4L968.2 551.1L968.6 551.7L968.6 552.3L968.3 552.9L968 553.6L968.4 554.2L968.1 554.8L968.6 555.4L968.7 556L968.5 556.7L968.3 557.3L968.2 557.9L968.4 558.5L968.7 559.1L969 559.7L968.5 560.4L968.9 561L968.7 561.6L969.6 562.2L968.9 562.8L969.4 563.5L971.9 564L977.4 564.5L972.5 565.3L969.3 565.9L969.7 566.6L969.4 567.2L969.3 567.8L969.7 568.4L969.1 569.1L969.7 569.7L969.4 570.3L969.2 570.9L969.3 571.5L969 572.2L969.4 572.8L968.9 573.4L968.7 574L969.2 574.7L969.1 575.3L963.7 575.8L969.3 576.5L969.5 577.1L969.2 577.8L969 578.4L968.3 579L969.3 579.6L964.5 580.1L968.8 580.9L968.7 581.5L968.7 582.1L965.2 582.6L968.7 583.3L969.4 584L968.4 584.6L969 585.2L968.7 585.8L968.4 586.4L968.4 587.1L968.2 587.7L969.2 588.3L968.8 588.9L968.8 589.6L968.6 590.2L968.6 590.8L968 591.4L968.6 592L968.4 592.7L968.6 593.3L968.4 593.9L968.3 594.5L968.8 595.2L968.5 595.8L968.3 596.4L968.6 597L967.2 597.5L967.7 598.2L968.2 598.9L967.5 599.4L968 600.1L968.3 600.8L967.6 601.3L967.6 601.9L967.6 602.6L967.2 603.1L967.2 603.8L968.3 604.5L967.6 605.1L967.7 605.7L968 606.4L967.3 606.9L967.6 607.6L967.4 608.2L967.9 608.9L967.5 609.4L966.9 610L967.4 610.7L966.6 611.2L966.4 611.8L962.8 611.9L966.5 613.1L966.6 613.7L967.1 614.4L966.4 615L966.5 615.6L966.2 616.2L966 616.8L963 616.9L966.3 618.1L966 618.7L965.3 619.2L965.5 619.8L965.8 620.5L965 621L964.4 621.6L964.9 622.3L964.9 622.9L964.6 623.5L964.8 624.2L963.5 624.5L963.7 625.2L964.5 626L960.1 625.8L964 627.2L964.9 628L964.1 628.5L964 629.1L963.9 629.7L963.8 630.3L963.7 630.9L963.3 631.4L962.8 632L963.2 632.7L962.9 633.3L957 632.6L957.6 633.4L957.7 634.1L962.1 635.7L962 636.3L962.1 636.9L962 637.5L956.1 636.8L962 638.8L961.2 639.3L960.6 639.8L960.7 640.4L960.6 641L958 641.1L957.1 641.5L960.7 643L960.8 643.6L957.7 643.5L961 645L960.3 645.4L959.7 645.9L959.5 646.5L959.8 647.3L954.9 646.6L951 646.2L960.3 649.3L957.1 649.1L956.7 649.6L955.8 650L957.8 651.2L955.3 651.1L960.3 653.2L958.3 653.3L956.1 653.3L951.7 652.7L948.2 652.3L958.5 655.9L957.6 658.9L938.8 653.2ZM938.1 655.5L960.1 662.4L959.1 665.4L951.5 663.6L946.2 662.5L950.6 664.6L956.7 667.3L955 667.4L955.1 668.1L944.9 665.2L951.3 668.1L955.5 670.2L954.6 670.5L953.7 670.9L953.4 671.4L954.9 672.6L953.8 672.9L954.2 673.7L953.9 674.3L953.6 674.8L952.5 675.1L952 675.6L952.9 676.6L952.3 677L952.1 677.6L952 678.2L951.8 678.8L951.3 679.3L951 679.9L950.9 680.5L950.8 681.1L949.8 681.4L950.2 682.2L949.9 682.8L949.8 683.4L949.9 684.1L949.5 684.6L949.1 685.2L949 685.8L949.2 686.6L948.6 687L948.5 687.6L948.1 688.1L947.7 688.6L944.2 687.8L947.4 689.9L947.4 690.6L947.3 691.2L947.2 691.8L946.6 692.3L946.1 692.7L946.1 693.4L945.9 694L945 694.3L945.3 695.1L945.1 695.7L944.9 696.3L947.4 698.1L949.2 699.7L942 697L943.4 698.4L943.4 699.1L943.3 699.7L942.7 700.1L942.8 700.9L941.9 701.1L941.8 701.8L941.8 702.5L945.1 704.8L941.2 703.5L940.7 704L940.5 704.6L939.9 705L940.3 705.9L939.4 706.2L934.4 704.3L939.3 707.5L938.8 707.9L938.5 708.5L938.1 709L938.1 709.7L937.7 710.2L937.1 710.6L937 711.2L937.1 712L936.7 712.5L936 712.8L935.9 713.5L935.3 713.9L930 711.7L934.7 714.9L934.9 715.8L934 716L933.5 716.4L932.8 716.7L933.3 717.8L932.4 718L932.3 718.6L932.2 719.3L932 719.9L931.9 720.5L931.5 721L931.1 721.5L931.1 722.2L930.3 722.5L930.5 723.4L929.9 723.8L929.8 724.4L929.7 725L928.7 725.2L928.8 726L928.5 726.5L927.9 726.9L927.9 727.6L927.6 728.2L927.1 728.6L929.7 730.9L926.1 729.5L925.7 729.9L925.5 730.5L925.4 731.3L924.7 731.5L924.5 732.2L924.7 733L919.8 730.6L923.6 733.8L923.2 734.3L923.1 734.9L922.7 735.4L921.9 735.6L921.6 736.2L921 736.6L925.1 740L920.7 737.9L920.7 738.6L920.6 739.3L919.8 739.5L920.1 740.5L919.1 740.6L918.9 741.2L918.3 741.6L918.1 742.2L917.5 742.5L917.4 743.2L916.8 743.5L916.8 744.3L916.3 744.7L915.6 745L915.6 745.7L912 743.9L914.9 746.7L914.2 747.1L913.7 747.4L913.9 748.4L914 749.2L913.4 749.6L912.6 749.8L912.7 750.6L908.6 748.3L911.4 751.2L911.4 752L911.1 752.5L910.5 752.9L910.2 753.4L910 754L909.7 754.6L909.4 755.2L908.8 755.5L908.5 756L907.9 756.4L908.1 757.3L907.2 757.4L907 758.1L906.5 758.5L906.6 759.3L906.1 759.7L905.3 759.9L904.9 760.4L901 758L904.2 761.4L903.6 761.7L903 762.1L902.8 762.7L902.2 763.1L901.8 763.5L901.8 764.3L901.4 764.8L900.7 765L900.6 765.7L899.6 765.8L899.3 766.3L898.8 766.7L898.7 767.4L898.6 768.2L897.2 767.8L897.6 769L896.5 768.8L896.8 769.9L896.1 770.2L895.9 770.8L895.4 771.2L894.7 771.4L894.9 772.4L893.9 772.3L893.4 772.8L893.2 773.5L892.7 773.8L892.7 774.7L892.1 775L891.5 775.3L891.2 775.8L890.7 776.2L890.2 776.6L889.8 777.1L889.3 777.5L888.2 777.3L889 778.9L888.8 779.6L887.2 779L887.1 779.7L886.7 780.2L886.3 780.6L886 781.3L885.5 781.6L885 782L884.2 782.1L884 782.8L887 786.7L883.4 784L882.8 784.2L880.5 782.8L882 785.2L881.4 785.5L881.2 786.1L880.6 786.5L876.9 783.5L879.8 787.4L879.2 787.7L878.3 787.7L878 788.3L877.8 788.9L877.6 789.7L876.6 789.5L876.2 790L875.7 790.4L875.2 790.8L875 791.4L874.8 792.1L874.1 792.3L873.9 793.1L873.3 793.3L872.9 793.8L872.5 794.3L872.1 794.7L871.9 795.5L870.7 795.1L870.4 795.7L863.5 788.7L869.2 796.2L867.5 795.2L864.2 792.4L863.3 792.3L867.6 798.2L859.3 789.5L860 791.1L866.6 799.9L859.3 792.3L860.5 794.6L858.1 796.5L849.7 786.3ZM847.9 787.8L859.9 802.7L857.5 804.6L854.6 802L849.4 796.3L849.8 797.9L855.3 805.9L855.3 806.9L854.5 806.9L847.6 799L852.4 806.2L847 800.2L851 806.5L851.8 808.5L850.5 807.8L849.3 807.3L850.4 809.7L849.5 809.5L843.7 802.7L848.5 810.3L845.4 807.1L845.8 808.7L846.9 811.3L845.2 809.9L845.8 811.9L845.2 812L844.8 812.6L844 812.6L841.9 810.6L843.1 813.5L842.5 813.6L842.1 814.2L841.5 814.4L841.1 814.9L840.9 815.7L840.3 816L839.7 816.1L839.3 816.7L838.6 816.8L838.2 817.3L837.7 817.5L837.2 818L836.5 818.1L836 818.5L835.7 819L835 819.1L834.4 819.4L834.2 820.2L833.3 820L832.8 820.3L832.1 820.4L831.9 821.3L831.4 821.7L830.6 821.5L830.2 822L829.9 822.7L827.5 820.1L828.6 823L828.1 823.3L827.5 823.5L827 823.9L826.6 824.4L825.7 824.2L825.5 825.1L824.8 825.1L824.5 825.8L824 826.2L823.5 826.5L822.9 826.7L822.5 827.2L821.9 827.5L821.1 827.3L820.9 828.2L820.1 828.1L819.7 828.7L819 828.7L818.5 829L816 825.8L817.4 829.5L816 828.4L816.3 830.2L815.9 830.7L815.3 831L815 831.7L814.2 831.5L813.7 831.9L813.2 832.3L812.4 832.2L809.1 827.2L811.5 833L810.9 833.3L810.3 833.5L809.9 834L809.4 834.4L808.9 834.7L808.2 834.7L807.6 834.9L806.9 835L806.8 836.1L804.2 832.3L805.5 836.2L804.8 836.3L804.4 836.9L803.9 837.2L803.4 837.6L802.6 837.4L802.1 837.7L801.5 838L800.8 838L800.3 838.3L799.8 838.7L799.5 839.5L798.9 839.8L798 839.4L797 838.6L797.1 840.4L796.4 840.4L795.8 840.5L795.3 840.9L794.9 841.4L794.2 841.4L793.7 841.9L793 841.8L792.4 841.9L792.1 842.7L791.4 842.9L790.9 843.1L790.3 843.3L789.7 843.6L789 843.4L788.5 843.9L787.1 842.1L787.5 844.6L786.9 844.8L786.6 845.7L785.7 845.3L785.1 845.4L784.5 845.6L784.1 846.3L783.5 846.3L783 846.8L782.4 846.9L781.7 846.9L781 846.9L780.5 847.2L781.5 851.6L781.7 853.8L779.4 849.6L778.1 848L777.6 848.4L776.9 848.2L776.3 848.5L775.9 849L775.3 849.4L774.8 849.8L774.1 849.6L773.4 849.6L772.5 848.9L772.4 850.4L771.9 850.9L771.3 851.1L770.7 851.2L770.2 851.6L769.5 851.5L769 852L768.3 851.9L767.7 852L767.3 852.7L766.9 853.5L766.1 853L765.3 852.7L765.5 855.1L764.2 853.3L763.8 854L763 853.6L762.4 853.7L762 854.7L761.3 854.5L760.7 854.7L760.1 854.8L759.5 855L759.1 855.6L758.3 855.1L757.2 853.6L757.3 856.1L756.5 855.7L755.9 855.8L755.2 855.8L753.6 852.5L754 855.9L753.4 856.2L752.7 855.9L752.3 856.8L751.6 856.7L751.1 857.2L750.4 857L749.8 857L749.3 857.6L748.6 857.4L748.1 857.8L747.5 858.1L747 858.5L746.2 858L745.6 858.2L745 858.4L744.3 858.1L743.8 858.7L743.2 858.8L742.6 859.1L742 859L741.4 859.1L740.8 859.4L740.3 859.8L739.5 859.3L739.1 860.2L738.4 860.1L737.8 860.4L737.1 860.1L736.7 861L736 860.6L735.4 861L734.3 858.8L734.3 861.6L733.6 861.5L732.9 861.1L732.4 861.7L731.9 862.2L731.1 861.5L730 859.1L729.9 862L728 855.2L728.9 863L727.2 857.8L726.5 857.4L726.1 858.3L726.3 862.7L725.8 863.6L724.6 860.5L724.5 863.3L722.7 856.5L723.1 862.7L722.9 864.9L722.1 863.9L721.7 865.5L720.3 860.7L720.3 864.9L718.6 857.9L719.1 865.3L717.1 856.1L717.8 864.6L717 863.4L715.8 859.8L712.8 860.3L711 847.1ZM708.8 847.4L711.4 867.3L708.3 867.7L706.4 857L706.8 865.4L706.1 865L705.7 866.6L704.2 858.5L704.3 865.9L702.8 856.8L703.2 867L702.6 867.4L701.9 865.9L701.3 867L700.6 865.8L700 865.7L699.2 864L698.9 867.4L698.2 866.4L697.6 866.6L696.7 863.9L696.4 867L695.7 866.4L695.2 867.4L694.5 866.9L693.9 867L693.1 864.4L692.7 867.4L692 867L691.4 866.9L690.8 866.9L690.2 867.5L689.6 867.9L688.9 867.4L688.3 866.7L687.7 867.5L687 866.7L686.4 866.8L685.8 866.8L685.2 866.7L684.6 866.6L683.8 863.7L683.3 866.7L682.7 866.5L682.1 866.2L681.5 866.5L680.9 866.5L680.3 866.9L679.6 867.1L679 866.3L678.4 867L677.8 866.7L677.2 866.5L676.6 867.4L675.9 867.2L675.3 867.1L674.7 866.7L674.1 866.6L673.5 866.5L672.8 866.6L672.2 867.1L671.6 867.4L671 867.2L670.4 867.6L669.8 866.7L669.1 867.3L668.5 866.8L668 863L667.3 867.3L666.7 867.2L666.1 866.8L665.4 866.7L664.8 866.9L664.3 862.3L663.6 866.5L663 866.6L662.3 866.9L661.7 867.7L661.1 866.7L660.5 867.3L659.9 866.6L659.2 867.4L658.7 866.1L658.2 862.6L657.4 867L656.8 866.3L656.2 866.1L655.6 866.3L654.9 866.6L654.3 866.5L653.7 866.5L653.1 866.6L652.5 866.4L651.9 866.4L651.2 866.5L650.6 866.5L650 866.6L649.4 866.4L648.4 871.2L648.2 866.1L647.5 866.8L646.9 866.3L646.3 866.1L645.7 865.7L645.1 866.2L644.5 866L643.8 866.4L643.6 862.4L642.6 865.8L641.9 866.2L641.4 865.8L640.9 864.5L639.6 870.3L640.2 859.5L638.9 865.5L638.3 865.3L637.7 865.2L636.5 869.8L636.4 865.5L636 863.6L635.2 865.6L635.3 859.7L634 865L633.4 865.1L632.8 864.6L632.8 860.3L631.6 864.3L631 864.1L631.1 858.8L629.7 864.3L629.1 864.1L628.5 864.1L627.9 863.9L627.3 863.4L626.7 863.5L626.1 863.4L625.4 863.9L624.9 862.9L624.3 862.9L623.6 863.2L623.1 862.7L622.4 862.9L621.8 862.8L621.2 862.6L620.5 863L620 862.6L619.4 862.2L618.7 862.5L618.2 862L617.7 861.4L617 861.9L617.5 855.7L615.7 862.1L615.8 858.3L614.6 861.3L614 860.9L613.4 860.8L612.8 860.6L612 861.2L611.5 860.7L610.9 860.5L610.4 860.2L609.7 860.4L609.2 859.5L608.5 860L608 859.6L607.3 859.6L606.7 859.5L606.2 859.2L605.5 859.3L604.8 859.4L604.3 859.1L603.6 859.2L603 859L601.4 863.1L600.1 865.7L601.1 859.3L601.8 853.6L600 858.3L599.4 858.3L598.9 857.9L598.4 857.3L597.6 858L597 857.5L596.4 857.5L595.9 856.8L595.4 856.4L594.7 856.8L594.2 856.1L593.5 856.4L592.9 856.1L592.5 855.3L591.9 855.3L591.1 855.7L592 850.3L591.8 849.1L590.1 852.7L588.6 855.5L590.5 847.1L587.7 854.1L588 851.1L586 855.6L586.1 853.2L586.8 848.7L584.5 854.1L585.3 849.4L583.1 854.3L583.1 852.5L582.2 853.1L583.5 847.2L580.9 853.2L580.6 852L579.3 853.9L579.3 852.2L579.9 848.4L577 847.5L581.6 834.2ZM579.5 833.5L573.5 850.3L570.6 849.2L572.6 842.1L573 839.4L569.8 846.1L568.9 846.6L569.3 844L571.3 837L570 838.8L569.5 838.5L568.3 839.7L565.3 845.8L564.7 845.6L565.2 842.7L565.8 839.5L562.8 845.4L562.5 844.6L562.2 843.6L561.6 843.3L560.9 843.4L560.1 843.8L561.3 839.4L559.2 842.7L558.8 842L558 842.4L557.5 842.1L556.7 842.2L556.3 841.7L555.7 841.5L555 841.6L554.6 840.9L554 840.9L553.5 840.3L553 840.1L552.4 839.7L551.8 839.5L551.2 839.5L550.6 839.3L550 839.2L549 839.8L548.9 838.5L548.3 838.4L547.9 837.8L547.6 837.1L546.7 837.5L546.2 837.1L547.7 832.4L545.2 836.3L544.4 836.5L543.8 836.4L543.4 835.7L543 835.1L542.3 835.2L541.9 834.6L541.3 834.4L540.5 834.6L540.1 834.1L539.4 834.1L540.4 830.8L538.6 832.9L537.9 833L537.3 832.8L538 830.2L536.4 831.9L538.2 827.1L535.1 831.5L534.8 830.8L534.1 830.9L533.6 830.6L532.8 830.8L532.4 830.1L532 829.6L531.6 829.1L530.9 829L530.4 828.7L529.8 828.5L530.6 825.8L528.8 827.7L528.2 827.5L527.8 827L527.2 826.8L526.7 826.4L527.5 823.7L525.6 825.8L524.9 825.8L524.3 825.7L525.5 822.3L523.1 825.2L520.7 828.2L522.4 824L522 823.4L521.3 823.4L521.9 821.2L520.3 822.7L519.7 822.6L519.2 822.2L518.7 821.7L518.7 820.6L517.8 820.9L517.6 820.1L517 819.8L516.2 820L515.6 819.8L515 819.5L514.7 818.9L517 814.2L513.6 818.4L512.9 818.2L512.5 817.7L512 817.4L511.5 817L510.7 817.1L510.2 816.7L509.9 816.1L509.1 816.2L508.7 815.7L508.1 815.4L507.5 815.2L506.6 815.5L502.7 820L502.1 819.8L505 814.5L505.2 813.1L504.7 812.7L504.1 812.5L503.5 812.3L502.7 812.4L502.6 811.4L502.1 811.1L501.7 810.5L501 810.5L500.4 810.2L500 809.8L499.8 809.1L498.9 809.2L498.6 808.6L497.8 808.6L497.5 808L496.9 807.7L496.8 806.9L496.3 806.5L495.9 806.1L495.3 805.7L494.2 806.2L494.2 805.2L493.7 804.9L493.3 804.3L492.7 804.1L492.6 803.2L492 803L491.6 802.5L491.3 801.9L490.6 801.8L489.9 801.6L489.2 801.5L488.9 800.9L488.4 800.6L487.7 800.5L487.4 799.8L486.6 799.8L486.3 799.2L485.8 798.9L485.5 798.3L484.5 798.4L484.3 797.8L483.9 797.3L483.8 796.5L483 796.4L482.5 796L482.1 795.6L482 794.7L481.4 794.5L480.9 794.2L480 794.2L483.3 789.5L479.3 793.2L478.6 793L479.6 791L477.7 792.2L477.2 791.8L476.8 791.3L476.1 791.1L477.6 788.6L475.8 789.7L474.9 789.7L478.7 784.6L474.7 788.2L474.4 787.5L474.9 786.1L476.1 783.9L479.3 779.6L471.9 786.6L471.1 786.6L472.1 784.6L470.2 785.7L472 782.9L470.4 783.7L468.2 781.6L478.8 770.7ZM477.2 769.1L473.7 772.7L471.6 770.6L466.1 775.1L462.6 777.7L467.7 771.9L461.4 777.1L460.8 776.8L462.9 773.9L463 773L461.4 773.7L465.5 769L458.5 774.7L462.5 770.2L457.7 773.9L457.3 773.3L461.9 768.2L455.6 773.2L455.5 772.5L455.3 771.8L455.1 771.2L453.9 771.4L454.2 770.3L453.8 769.8L453.3 769.5L453.1 768.8L452.4 768.6L451.9 768.2L451.8 767.5L451.3 767.1L451.1 766.4L450.6 766.1L454.8 761.6L449.7 765.2L449.2 764.8L451.9 761.7L448.8 763.5L452.1 759.9L447.6 762.9L447.9 761.9L450.5 758.9L446.8 761.2L446.6 760.6L446.1 760.2L448.6 757.3L445.1 759.3L445.2 758.5L444.7 758.1L444.2 757.8L443.5 757.5L443.3 756.9L443 756.3L442.6 755.8L442.2 755.4L441.9 754.8L441.7 754.2L441 753.9L440.9 753.3L440.2 753L439.9 752.5L439.5 752L438.5 752L438.9 750.9L438.7 750.3L437.7 750.3L437.5 749.6L436.9 749.3L436.8 748.6L436.1 748.3L436.4 747.4L435.3 747.4L435.3 746.6L435 746.1L435 745.4L434.2 745.1L434 744.5L433.3 744.3L434.4 742.7L432.8 743.1L429.8 744.5L425.8 746.5L429.5 743.2L431.4 741.1L431.2 740.5L430.3 740.3L430.4 739.5L430 739.1L429.2 738.8L428.6 738.5L428.6 737.8L428.6 737L427.9 736.8L428 736L427.1 735.8L427 735.1L426.6 734.6L426.4 734L425.6 733.8L425.4 733.2L425.6 732.4L424.8 732.1L425.2 731.1L429.1 727.9L424.4 730.2L424 729.7L423.4 729.3L423.1 728.8L422.2 728.6L422.6 727.7L422 727.3L421.2 727L421.2 726.3L421.4 725.5L420.6 725.2L420.2 724.8L419.6 724.4L419.8 723.5L419.4 723.1L419 722.6L418.9 721.9L418.1 721.7L417.9 721.1L417.4 720.7L417.5 719.9L416.8 719.6L417.1 718.7L416.5 718.3L416.2 717.8L416 717.2L415.5 716.8L415.6 716L415.5 715.4L415 714.9L414.9 714.3L414.1 714L409.3 715.9L413.7 712.8L413.3 712.3L413.4 711.6L415.2 709.9L412.4 710.7L412.1 710.2L412.1 709.5L411.5 709.1L411.4 708.5L411 708L415.3 705L410.8 706.7L413.5 704.6L409.7 705.8L410 705L409.3 704.7L408.9 704.2L408.8 703.5L408.5 703L408.5 702.3L412.5 699.6L407.6 701.4L406.1 701.4L410.2 698.7L406.8 699.7L406.1 699.3L406.4 698.5L406.4 697.8L405.6 697.5L404.6 697.3L413 692.7L405.2 695.7L404.6 695.3L410.8 691.7L405 693.7L402.5 694.2L402.5 693.5L409.9 689.5L401 692.8L399.8 689.9L417.9 682.1ZM417 680L412.1 682.1L410.9 679.3L406 680.7L404.9 680.5L404.6 680L402.3 680.2L411.5 675.9L401.2 679.4L396.7 680.5L406.9 675.8L401.8 677.2L402.6 676.2L405.9 674.3L400.1 675.9L396.8 676.5L399.9 674.6L395.4 675.6L396.7 674.5L395.9 674.2L400.1 671.9L395.8 672.9L400.8 670.4L405.2 668.1L405.4 667.5L400.2 668.7L394.3 670.1L394.6 669.4L394.5 668.8L401.8 665.6L394.1 667.6L399.8 665L393.2 666.6L397.2 664.6L392.7 665.4L400.6 662.2L395.3 663.3L397.1 662L392.4 662.9L391.9 662.4L392.1 661.7L392.6 660.9L391.8 660.5L391.5 660L391.3 659.4L391.4 658.7L391.4 658.1L390.5 657.7L390.8 656.9L390.3 656.4L389.9 655.9L389.5 655.4L389.8 654.7L390.1 653.9L389.1 653.6L389.4 652.8L389 652.3L389.2 651.6L389.2 651L393.3 649.2L388.7 649.8L388.6 649.2L388.2 648.7L388.5 648L387.4 647.6L382 648.4L380.8 648.1L386.3 646L382.7 646.3L387 644.6L386.5 644L387.2 643.2L387.4 642.5L386.7 642.1L386.7 641.4L386.2 640.9L385.8 640.4L385.8 639.7L385.7 639.1L386 638.4L385.7 637.9L385.3 637.3L385.2 636.7L385.1 636.1L384.6 635.6L384.8 634.9L385.1 634.2L384.4 633.7L384 633.2L385 632.3L384.3 631.9L384 631.3L381.7 631.1L383.3 630.2L383 629.6L383.5 628.9L383.4 628.3L382.9 627.7L387.9 626.1L383.2 626.4L383.1 625.8L382.7 625.2L382.7 624.6L383.8 623.8L383.2 623.3L382.6 622.8L382.6 622.1L382.9 621.5L382.4 620.9L382.3 620.3L381.4 619.8L379.5 619.5L381.6 618.5L381.4 617.9L381.5 617.3L381.4 616.7L380.7 616.2L381.3 615.5L381.1 614.9L380.7 614.3L380.7 613.7L381 613L381.4 612.3L380.3 611.8L380.6 611.2L380.1 610.6L380.4 610L380.3 609.4L379.8 608.8L379.9 608.1L381 607.4L380.5 606.8L380.2 606.3L379.9 605.7L379.9 605L380.1 604.4L379.5 603.8L379.9 603.2L382.3 602.3L379.3 602L379.4 601.4L379.5 600.7L382.5 599.8L382.9 599.2L378.3 599L379.2 598.3L378.6 597.7L382.9 596.7L381.4 596.2L379.1 595.8L378.1 595.3L387.8 593.9L383.3 593.6L380.5 593.2L379.2 592.7L377.6 592.2L384.7 591.1L378.6 590.9L378.6 590.3L383.7 589.3L381.2 588.9L387.2 587.9L388.1 587.3L388 584.3L395.3 584ZM395.2 581.5L383.3 581.9L383.2 578.9L375.1 578.5L376.6 577.8L376.9 577.2L374.5 576.6L377.6 575.9L376.1 575.3L384.4 574.6L385.9 574L378.7 573.4L379.7 572.8L375.8 572.2L374.9 571.6L375.3 571L378.3 570.3L381.5 569.7L380.4 569.1L375.1 568.5L375.7 567.8L375.4 567.2L376.2 566.6L375.3 566L375.8 565.3L377 564.7L376.6 564.1L376.1 563.5L375.9 562.8L376.4 562.2L376.3 561.6L375.6 561L375.6 560.3L375.7 559.7L375.9 559.1L375.5 558.5L375.3 557.8L374.9 557.2L375.8 556.6L375.7 556L375.9 555.3L376 554.7L376.9 554.2L376.8 553.5L376.2 552.9L376 552.2L376.4 551.6L376.6 551L376.2 550.4L376 549.7L375.9 549.1L376.4 548.5L376.5 547.9L376.8 547.3L376.8 546.6L376.4 546L376.9 545.4L376.6 544.8L376.4 544.1L376.3 543.5L376.6 542.9L376.8 542.3L380.9 542.1L377 541L377 540.4L377.2 539.8L377.4 539.2L377.2 538.5L382.5 538.5L383 538L377.4 536.7L377.3 536L377.7 535.4L377.3 534.8L377.6 534.2L377.8 533.6L378.1 533L378.9 532.5L378.5 531.8L379 531.2L378.6 530.5L378.4 529.9L378.7 529.3L378.6 528.6L379.2 528.1L379 527.4L381.5 527.2L375.6 525.6L373.3 524.6L377.1 524.6L379.6 524.4L379.4 523.7L379.9 523.2L379.9 522.5L380.3 522L379.6 521.2L380.1 520.7L379.9 520L379.7 519.3L379.8 518.7L380.2 518.1L380.1 517.5L380.8 517L380.6 516.3L380.7 515.7L382.5 515.4L381.3 514.5L381.2 513.9L383.4 513.7L381.4 512.7L381.4 512L381.9 511.5L381.2 510.7L382 510.2L381.7 509.5L382.1 509L382.1 508.3L382.7 507.8L382.1 507.1L383 506.6L382.6 505.9L388.4 506.5L383.6 504.8L382.9 504L383.1 503.4L383.6 502.9L384 502.4L383.5 501.6L384.2 501.1L384.1 500.5L384.2 499.8L384.2 499.2L384.6 498.6L387.7 498.8L390.9 499L384.1 496.6L384.4 496L392 497.4L385.5 495L390.8 495.8L389.2 494.7L392.7 495L391.1 494L386.3 492L394.7 493.7L387.4 491L395.9 492.8L396 492.2L386.8 488.9L386.4 488.1L388.3 488L387.6 487.1L388.5 484.2L407.3 490ZM408.2 487L390.7 481.4L391.7 478.5L402.2 481.3L403.7 481.2L396.3 478.1L390.9 475.6L392 475.3L395 475.7L400.3 476.9L401.1 476.5L393.6 473.2L393.3 472.5L394 472.1L393.4 471.2L398.2 472.3L393.4 469.9L402.3 472.4L396.1 469.5L394.4 468.2L395.9 468.1L395 467.1L395.6 466.7L399.1 467.4L395.9 465.5L396.7 465.1L396.6 464.4L401.7 465.7L397.9 463.6L397.2 462.7L397.7 462.2L397.9 461.6L397.7 460.8L398.9 460.6L398.9 460L399.1 459.4L399.7 458.9L399.4 458.2L399.5 457.5L398.2 456.3L400.4 456.6L400.2 455.8L400.6 455.3L401.3 454.9L403.9 455.4L401.3 453.6L401.4 453L401.7 452.4L402.4 452L402.3 451.3L402.4 450.6L402.9 450.2L403.1 449.6L403.9 449.3L403.5 448.4L403.6 447.8L404.1 447.3L404.7 446.9L404.8 446.3L404.8 445.6L405.6 445.3L407 445.3L406 444.1L406.5 443.7L406.9 443.1L407.2 442.6L410.1 443.4L407.3 441.3L407.8 440.8L407.7 440.1L407.8 439.5L408.2 439L412 440.2L409 438L409.3 437.5L409.1 436.7L409.4 436.1L409.2 435.3L409.7 434.8L410.3 434.5L410.6 433.9L411.1 433.5L410.9 432.7L413.5 433.3L413.5 432.6L414.6 432.5L414.5 431.8L410.4 428.9L420.5 433.7L415 429.9L415.7 429.6L414.7 428.4L418.5 429.8L416.3 427.9L416.3 427.1L416.9 426.7L417.5 426.4L414.8 424.1L420.6 426.7L418.3 424.7L424.8 427.8L418.8 423.6L418.8 422.9L412.5 418.4L412.4 417.7L420.2 421.5L420.4 420.9L425.2 423.1L421.5 420.1L425.1 421.6L422.5 419.4L427.5 421.7L422.6 417.9L422.3 417L426 418.6L422.8 415.9L423.3 415.5L424.8 415.7L424.2 414.6L429.6 417.3L429.7 416.6L425 412.9L422.3 410.4L421.2 408.9L426.1 411.4L423.2 408.8L427.6 410.9L428.7 410.9L427.9 409.6L427.9 408.9L432.9 411.5L423.2 404.2L433.4 410.3L429.6 407.1L426.9 404.5L434.3 408.8L427.8 403.6L430.2 404.5L430.7 404L430.8 403.4L429.2 401.5L436.1 405.6L432.1 402L437.8 405.3L433.5 401.5L437.8 403.8L438.6 403.7L441.5 405L435.6 400L434.4 398.4L443 403.8L436 398L436.9 397.9L436.5 396.8L442.2 400.3L444.7 401.4L437.8 395.5L447.9 402.3L439.2 395L441.1 392.6L453 401.8ZM454.7 399.6L445.2 392.2L447.1 389.8L442.7 385.4L440.2 382.5L445.3 385.9L442.8 383.1L444.1 383.3L443.5 382L445.8 383.2L445.2 381.8L445.7 381.4L447.6 382.2L446.8 380.7L449.1 381.9L448.6 380.6L447.9 379.2L442.6 373.9L450 379.3L449.8 378.4L447.1 375.2L449.9 376.8L449.7 375.8L451.3 376.4L452.1 376.2L452.9 376.1L451.3 373.9L452.3 373.9L452.3 373.1L453.7 373.5L452.5 371.6L453.9 372L455.5 372.7L454.4 370.7L452.6 368.3L455.7 370.3L454.8 368.6L451.3 364.5L455.6 367.7L458.5 369.5L457.3 367.5L458.6 367.9L459.6 368L459.4 366.9L460.2 366.9L460.2 366L461 365.9L459.7 363.7L460.6 363.7L464 366.2L463 364.4L462.6 363.1L463.5 363.1L462.9 361.7L464.9 362.8L463.8 360.8L464.9 361L460.3 355.4L463.8 358.1L466.1 355.9L480.6 371.1ZM482.5 369.2L479.2 365.7L481.3 363.6L481.8 363.3L482.1 362.7L482.7 362.5L483.5 362.4L483.3 361.4L484.4 361.7L484.2 360.5L484.9 360.5L485.7 360.5L485.5 359.4L479.6 351.8L476.3 347.1L487.1 358.5L487.3 357.8L488.2 358L488.9 357.8L489 357L489.6 356.8L490.1 356.5L490.1 355.6L490.6 355.2L491.5 355.4L491.8 354.8L492.4 354.7L489.3 350L492.9 353.4L493 352.6L483.7 340.2L491.5 348.9L489.5 345.4L495 351.2L495.4 350.8L496.5 351.2L496.8 350.7L497.5 350.5L497.9 350.1L497.9 349.1L498.9 349.4L499.3 349L494.9 342.4L497.5 344.8L497.9 344.3L500.7 347L501.6 347.1L501.4 345.8L501.9 345.6L502.6 345.5L503.3 345.4L503.7 345L504.5 345.1L505.1 344.8L505.5 344.4L505.9 343.9L506.2 343.3L506.9 343.3L507.4 342.9L507.3 341.9L507.5 341.1L500.4 330.1L509.4 341.6L509.8 341.2L504.5 332.7L508.1 336.7L502.7 328L511.7 339.9L504.7 328.7L508.4 333L501.7 322.1L512.1 336.2L514.1 338.1L514.4 337.5L515 337.3L515.6 337.1L511.8 330.3L516.6 336.5L516.8 335.7L517 334.9L508.9 321.5L514.5 328.9L519.1 334.9L519.6 334.5L519.6 333.5L520.7 334.1L521 333.5L521.6 333.3L522 332.7L522.7 332.8L523.1 332.3L523.3 331.5L519.8 324.8L524.8 331.6L525 330.8L524.9 329.5L526 330.2L526.7 330.2L526.5 328.7L527.6 329.5L527.9 328.8L525.5 323.5L527.3 325.4L529.8 328.4L530.1 327.8L530.6 327.4L531.2 327.2L531.8 327.2L532 326.4L532.9 326.7L529 318.7L533.8 326L534 325.1L534.8 325.2L535.5 325.2L535.8 324.6L536.5 324.6L536.7 323.8L537.2 323.5L537.3 322.5L540 321L542.7 326.1ZM544.8 325L542.8 321.1L545.4 319.8L542.6 312.9L543.9 314.2L543.6 312.2L544.9 313.4L546.1 314.4L541.9 304.5L549.1 317.8L549.8 317.8L549.8 316.5L550.4 316.5L551.3 317L551.7 316.4L546.3 303.6L550.2 310.3L553.1 315.3L553.9 315.5L554.5 315.5L554.9 314.8L555.3 314.2L550.4 302L556.4 313.9L556.8 313.3L557.7 313.9L558.1 313.2L558.5 312.7L559.3 312.9L559.9 312.9L557.9 306.8L560.8 311.9L561.4 311.8L562.1 312.1L562.6 311.8L562.8 310.7L563.5 310.7L564.1 310.7L564.7 310.5L565.4 310.6L565.9 310.3L566 309.1L566.9 309.5L567.4 309.4L570.2 308.3L571.9 312.7ZM574.3 311.8L567.3 293.4L570.2 292.3L573.2 298.7L574.2 299.7L575.2 300.6L577.5 305.3L578.2 305.5L578.7 305.1L579.3 305L580 305.2L580.2 304L581.1 304.8L581.5 304.1L582.2 304.3L582.4 303L583.1 303.1L583.6 302.9L584.5 303.6L580.2 288.5L585.6 303.2L586 302.5L586.7 302.8L587.3 302.6L587.8 302.4L588.4 302.3L588.8 301.6L589.5 301.6L592.3 300.8L593.6 305.3ZM595.3 304.8L591.5 291.6L594.5 290.8L594.9 290.1L596.5 293.6L595.9 288.8L597.2 291.4L597.4 289.6L597.8 288.7L600 294.9L600.5 294.4L600.4 291.5L600.6 289.8L601.1 289.2L601.3 287.4L602.3 289.1L603 289.2L603.4 288.4L603.4 285.5L605.6 292.2L605.8 290.1L606.8 291.7L606.7 288.6L607.1 287.5L607.4 286.2L608.3 287.2L611.2 286.6L614.2 300ZM616.2 299.6L612.5 282L615.6 281.3L617.2 286.5L618.4 289.8L619.9 294.4L620.5 294.1L621 293.9L621.5 293.4L622.1 293.5L622.6 293.2L623.3 293.7L623.8 293.3L624.4 293.1L625 293.1L625.6 293.2L626.1 292.9L626.7 292.8L627.2 292.4L627.8 292.6L630.8 292.2L631.5 296.8ZM633.5 296.5L630.3 273.9L633.4 273.5L634.6 277.6L634.9 275.1L635 271.1L636.1 274.8L636.6 274.3L636.9 271.6L637.8 273.4L638.6 275.4L639.2 274.9L639.8 275.2L643 274.9L645 295.1Z" fill="#A1D99B" stroke="#3F9E5B" stroke-width="0.8" stroke-linejoin="round"/>
<path d="M673.6 290.7 A281 281 0 0 1 851.9 355 L837 373.1 A257.5 257.5 0 0 0 673.5 314.2ZM858.3 360.4 A281 281 0 0 1 939.8 483.5 L917.5 490.8 A257.5 257.5 0 0 0 842.8 378.1ZM942.4 491.9 A281 281 0 0 1 942.5 651.2 L920 644.6 A257.5 257.5 0 0 0 919.9 498.6ZM940 659.2 A281 281 0 0 1 853.9 786.7 L838.8 768.8 A257.5 257.5 0 0 0 917.7 651.9ZM847.5 792 A281 281 0 0 1 714.3 849.6 L710.8 826.4 A257.5 257.5 0 0 0 832.9 773.6ZM706.3 850.7 A281 281 0 0 1 583.4 838 L590.9 815.8 A257.5 257.5 0 0 0 703.5 827.4ZM575.7 835.3 A281 281 0 0 1 478.9 774.9 L495.1 757.9 A257.5 257.5 0 0 0 583.9 813.3ZM473 769.1 A281 281 0 0 1 416.3 686 L437.8 676.4 A257.5 257.5 0 0 0 489.7 752.6ZM413.1 678.5 A281 281 0 0 1 392.4 587 L415.9 585.8 A257.5 257.5 0 0 0 434.8 669.5ZM392.1 578.7 A281 281 0 0 1 403.6 491.9 L426.1 498.6 A257.5 257.5 0 0 0 415.6 578.1ZM406.3 483.3 A281 281 0 0 1 448.8 402.3 L467.6 416.4 A257.5 257.5 0 0 0 428.6 490.7ZM454.2 395.4 A281 281 0 0 1 476.4 370.9 L492.8 387.7 A257.5 257.5 0 0 0 472.5 410.2ZM482.6 365 A281 281 0 0 1 538.7 324.9 L549.9 345.5 A257.5 257.5 0 0 0 498.5 382.3ZM546 321 A281 281 0 0 1 568.1 311 L576.9 332.8 A257.5 257.5 0 0 0 556.7 342ZM576 308 A281 281 0 0 1 590 303.3 L596.9 325.7 A257.5 257.5 0 0 0 584.1 330ZM597.3 301.1 A281 281 0 0 1 610.6 297.7 L615.9 320.6 A257.5 257.5 0 0 0 603.7 323.7ZM618.5 296 A281 281 0 0 1 628.1 294.3 L631.9 317.5 A257.5 257.5 0 0 0 623 319.1ZM636 293.1 A281 281 0 0 1 641.8 292.4 L644.4 315.8 A257.5 257.5 0 0 0 639.1 316.4Z" fill="#EDF8E9"/>
<path clip-path="url(#cl4)" d="M670.9 317.2L670.8 310.5L673.5 310.5L674.1 309.5L674.6 310.5L675.2 308.6L675.9 298.1L676.4 304.3L677 297.2L677.6 299.6L678.1 303.1L678.7 298.3L679.3 299.2L679.7 303.5L680.4 297.8L681 298L681.3 305.8L682.1 299.4L682.7 298.6L683.3 298.5L683.6 304.3L684.4 299.2L685 298.4L685.2 305.7L686.1 299.7L686.7 299.1L687.3 298.7L687.8 299.5L688.4 299.1L689 299.6L689.6 298.8L690.1 299.5L690.7 298.7L691.3 299.3L691.8 299.4L692.4 299.4L693 299.4L693.5 299.8L694.1 299.4L694.7 299.8L695.2 300L695.8 299.5L696.4 299.5L696.9 300.1L696.9 306.8L698.1 299.7L698.7 300L699.2 300L699.8 300.3L700.3 300.3L700.9 300.8L701.5 300.4L702 300.8L702.6 300.5L703.2 300.2L703.8 300.3L704.4 299.9L704.9 301L705.5 300.5L706 300.9L706.6 301L707.1 301.2L707.8 300.5L708.9 296.6L708.9 301.2L709.3 302.1L710 301.6L710.5 302.2L711 302.2L711.6 302.1L712.2 301.8L712.8 302L713.4 301.8L713.9 302.3L714.5 302.2L715.1 302.2L715.6 302.1L716.2 302.4L716.7 302.6L717.3 302.6L718 302L718.4 302.7L719.1 302.5L719.6 302.9L720.1 303.1L720.7 303L720.8 305.9L720.6 310L721.8 306.4L722.9 303.7L723.5 303.8L723.9 304.4L724.4 304.8L725.1 304.3L725.6 304.7L726.3 304L726.8 304.4L727.4 304.6L727.8 305.1L728.4 305.4L729 305.2L729.5 305.6L730.1 305.7L730.7 305.6L731.2 305.9L731.7 306L732.2 306.6L732.9 305.9L733.5 306.1L734 306.3L734.5 306.5L735 306.8L735.6 306.9L736.4 306.2L736.9 306.3L737.4 306.7L738.3 305.3L738.5 307L739.1 307L739.6 307.2L740.2 307.4L740.8 307.4L741.3 307.7L741.9 307.8L742.4 308L743 308.1L743.7 307.6L744 308.7L744.7 308.3L745.2 308.5L745.7 308.8L746.1 309.5L746.7 309.4L747.3 309.5L748 309.2L748.3 310L748.9 310.2L749.5 310.1L750 310.4L750.7 310.1L751.2 310.2L751.7 310.6L751.1 314.5L752.8 311.1L753.4 310.9L753.7 312L754.4 311.6L754.9 311.8L755.6 311.6L756 312.3L756.5 312.6L757.1 312.5L757.2 313.9L756.7 317.5L758.9 312.6L759.2 313.5L759.8 313.3L760.4 313.4L760.9 313.7L761.4 314L762 314.1L762.8 313.6L763.3 313.9L763.8 314.2L764.3 314.5L764.8 314.6L765.4 314.8L765.9 315.1L766.4 315.3L767 315.2L767.5 315.7L768 316L768.3 316.9L768.8 316.9L769.5 316.6L770.2 316.6L770.6 317.2L771 317.5L771.6 317.7L772.1 317.9L772.9 317.5L773.3 318L774.1 317.6L774.4 318.5L774.9 318.7L775.2 319.4L776.2 318.5L776.6 319L777.1 319.4L777.4 320.1L777.9 320.2L778.6 320.1L778.9 320.8L779.6 320.7L780 321.2L780.6 321.2L781.1 321.5L781.6 321.8L781.2 324.3L782.5 322.6L783.1 322.7L782.1 326.3L784 323.4L784.8 323L785.1 323.7L785.7 323.8L786.4 323.6L786.9 324L787.1 324.8L788.1 324.1L787.8 326.1L789.2 324.5L789 326.1L790.1 325.2L790.4 325.9L790.9 326.2L791.5 326.2L791.9 326.7L792.5 326.8L792.9 327.3L793.7 327L794 327.5L794.7 327.4L795 328.1L795.5 328.4L796 328.6L796.5 328.9L797 329.3L797.5 329.5L796.7 332.4L798.5 330.1L799.3 329.7L799.4 330.7L800 330.9L800.8 330.6L801.1 331.1L801.7 331.4L802 332L802.4 332.5L803 332.5L803.7 332.4L803.8 333.4L804.5 333.3L805.1 333.5L805.5 333.8L805.9 334.3L806.5 334.4L807.2 334.3L807.6 334.8L808 335.2L808.7 335.2L809.4 335.1L809.5 336.1L810 336.4L811.4 335.1L811.1 336.6L811.7 336.8L812 337.3L812.3 338L813.4 337.2L813.6 338.1L812.2 341.5L814.7 338.5L814.9 339.3L815.3 339.7L816 339.6L816.6 339.7L816.9 340.3L817.5 340.5L817.9 340.9L818.6 340.8L819 341.4L819.3 341.8L818.4 344.3L820.8 341.6L821 342.4L821.3 343L821.6 343.5L822.4 343.4L822.4 344.3L823.3 344.2L823.5 344.8L823.7 345.6L824.6 345.2L824.6 346.2L825.6 345.7L826 346.2L826.4 346.6L827 346.7L827.2 347.4L828 347.4L828.2 348.1L828.9 348.1L829.2 348.6L829.4 349.3L830.1 349.3L830.6 349.5L831 350L831.4 350.5L832 350.5L832.7 350.5L833 351.2L833.4 351.5L830.5 356.4L834.5 351.9L834.8 352.6L835.3 352.8L833.7 355.9L836.2 353.5L836.7 353.8L837.1 354.2L838.1 353.9L838.5 354.3L838.9 354.7L839.1 355.3L839.5 355.8L840 356L840.8 355.9L841 356.6L842 356.2L842.7 356.4L842.6 357.4L838.9 362.9L841.8 360.2L840.1 363.2L838.7 365.8L845.7 358L845.1 359.7L844.6 361.2L845.6 360.9L846 361.3L840.8 368.5L843 370.2L837.1 377.2ZM838.8 378.6L849.8 365.7L852 367.6L849.9 370.8L851.4 370L847 375.8L847.9 375.6L849.9 374.2L853.9 370.5L847.5 378.5L855.2 370.9L853.8 373.3L856 371.6L855.7 372.8L855.3 374.1L857 373L857.7 373.1L855.1 376.8L858.3 374.2L858.9 374.4L858.2 375.9L859.5 375.3L860 375.6L860.3 376.1L860.2 377.1L861 377.1L861.2 377.7L861.9 377.8L861.8 378.7L862.8 378.5L862.8 379.3L863 379.9L863.4 380.3L864.2 380.3L868 377.3L868.1 378L868.5 378.4L868.9 378.9L869.7 378.8L870.1 379.2L866.1 384L870.7 380.3L871.2 380.6L871.5 381.1L872.1 381.4L868.3 385.7L872.7 382.3L873.4 382.5L873.5 383.2L873.9 383.6L874.2 384.1L874.2 384.9L874.8 385.1L875.4 385.3L876 385.5L875.7 386.6L876.5 386.7L877.2 386.8L877 387.8L877.7 387.9L878.2 388.3L878.4 388.9L879 389.1L879.6 389.3L880.1 389.7L875.7 394.3L880.3 391L881.2 390.9L881.6 391.4L881.6 392.2L881.5 393L881 394.2L883 393.3L882.9 394.1L882.7 395L883.3 395.2L883.7 395.6L884.5 395.8L884.9 396.1L884.8 396.9L885 397.6L886.1 397.4L885.8 398.4L885.4 399.5L886.8 399L887.4 399.3L887.3 400.1L888.3 400.1L887.3 401.6L888.7 401.2L889 401.7L889 402.4L889.7 402.6L890.1 403.1L890.4 403.6L890.7 404L891.2 404.4L891.5 404.9L892.1 405.1L892.2 405.8L893.3 405.7L892.8 406.8L893.7 406.8L894.6 406.9L893.7 408.3L894.3 408.5L894.7 409L894.8 409.6L895.5 409.8L895.8 410.3L895.4 411.2L896.5 411.2L896.7 411.8L897 412.3L897.1 412.9L897.8 413.1L897.7 413.9L901.8 411.7L898.5 414.7L899.3 414.9L899.7 415.3L899.4 416.2L900.2 416.3L901 416.5L900 417.9L901.4 417.6L901.8 418L901.8 418.7L902.3 419.1L902.9 419.4L903 420L903.2 420.6L903.7 420.9L903.9 421.5L904.2 422L904.3 422.6L904.8 423L904.8 423.7L904.6 424.5L905.4 424.7L906 425L906.5 425.3L906.2 426.1L908.1 425.7L910.7 424.7L910.8 425.4L909.1 427.1L909.1 427.8L909.5 428.2L910.2 428.4L910.4 429L910.6 429.6L909.9 430.7L911.2 430.6L908.4 432.9L911.7 431.6L912.2 432L912.3 432.6L912.6 433.1L913 433.5L912.7 434.4L910.2 436.5L913.5 435.3L913.7 435.8L913.8 436.4L916.2 435.7L914.6 437.3L914.8 437.8L914.9 438.4L914.7 439.2L915.6 439.4L914.1 440.8L915.7 440.7L915.9 441.2L916.3 441.6L917 441.9L917.3 442.4L917.4 443L916 444.4L918.2 443.9L918.4 444.4L918.6 445L918.4 445.7L918.7 446.2L919.3 446.6L919.3 447.2L919.8 447.6L919.9 448.2L920.1 448.8L920.9 449L920.9 449.6L921.5 450L921.2 450.8L922 451L918 453.6L917.9 454.3L918.7 454.5L918.7 455.2L919.2 455.6L919 456.3L919 456.9L919.2 457.5L919.8 457.8L920 458.4L920 459L921.1 459.1L920.7 459.9L920.9 460.4L921.2 460.9L921.5 461.4L920.6 462.4L921.8 462.5L922.1 463L922.3 463.5L922.8 463.9L922.8 464.6L919.7 466.5L923.3 465.6L923.6 466.1L923.4 466.8L924.2 467.1L924 467.8L924.2 468.3L924.5 468.8L924.8 469.3L925.3 469.7L925 470.4L925.6 470.8L925.6 471.4L926.4 471.7L926.3 472.4L925.9 473.1L926.1 473.6L926.6 474.1L926.8 474.6L927.2 475L926.7 475.9L927.4 476.2L927.7 476.7L923.2 478.9L928.7 477.5L928.4 478.2L927.5 479.2L924.2 481L928.5 480L926.1 481.5L929.4 480.9L930.9 481L930.7 481.7L925.4 484.1L925.2 484.8L923.6 485.9L926.4 485.5L922.5 487.4L929.9 485.5L931.8 485.5L922.5 489.2L923.3 491.8L915.5 494.3ZM916.2 496.9L931.4 492.2L932.2 494.9L936.3 494.3L932.9 495.9L928.8 497.7L936.8 496L936.8 496.6L926.6 500L929.8 499.7L938 498L937.4 498.8L939.1 498.9L938.3 499.7L937.3 500.6L933 502.3L938.9 501.4L939 501.9L938 502.8L939 503.1L939 503.7L932 506.1L938.8 505L939.4 505.4L937.2 506.5L939.8 506.5L939.6 507.1L939.8 507.7L940.1 508.2L940.3 508.7L939.6 509.5L940 510L940.7 510.4L940.6 511L940.7 511.6L940.6 512.2L940.9 512.7L940.7 513.4L940.3 514L941 514.5L940.9 515.1L938.2 516.2L941.6 516.1L941.4 516.7L941.4 517.3L942.2 517.8L941.7 518.5L942.2 518.9L942 519.6L941.8 520.2L942.1 520.7L942.3 521.2L942.4 521.8L942.4 522.4L942.2 523L942.1 523.6L943 524.1L942.6 524.7L942.8 525.2L943.1 525.8L943.1 526.4L942.8 527L943.7 527.4L943.6 528L943.2 528.7L943.7 529.2L939.9 530.4L944.2 530.3L944.9 530.7L944.1 531.4L944.1 532L941.2 533L944.8 533.1L944.2 533.8L945.4 534.2L945.1 534.8L945.5 535.3L945.2 535.9L945 536.6L944.9 537.1L945 537.7L945.2 538.3L945.1 538.9L945.3 539.4L945.5 540L945.9 540.5L945.1 541.2L945.7 541.7L945.9 542.2L946.1 542.8L945.7 543.4L946.1 544L946 544.5L946 545.1L944.6 545.8L947.1 546.2L946 546.9L946.5 547.4L946.6 548L946.4 548.6L943.2 549.4L946.9 549.7L946.4 550.3L946.8 550.8L947.2 551.4L946.7 552L947 552.6L946.3 553.2L946.2 553.8L946.9 554.3L946.6 554.9L947.1 555.4L946.9 556L947.4 556.6L946.9 557.2L946.7 557.8L946.9 558.3L947 558.9L947.7 559.4L946.8 560.1L946.6 560.6L947.2 561.2L946.8 561.8L946.9 562.4L947.1 562.9L946.9 563.5L943.4 564.2L949.4 564.6L953.2 565.1L950.2 565.7L947.3 566.4L946.4 567L947.1 567.5L947.1 568.1L947.6 568.7L947.3 569.3L947.2 569.8L946.7 570.4L946.9 571L947.8 571.6L947.1 572.1L946.6 572.7L946.9 573.3L948 573.9L948 574.4L947.8 575L947.3 575.6L947.6 576.2L947.8 576.7L947.4 577.3L947.8 577.9L947.4 578.5L947.5 579L947.1 579.6L945 580.1L947 580.8L947.1 581.3L947.2 581.9L947.4 582.5L947.4 583.1L941 583.4L947.1 584.2L947.2 584.8L947.5 585.4L947.3 586L946.7 586.5L946.8 587.1L947 587.7L947.3 588.3L946.8 588.8L946.8 589.4L947.2 590L947.2 590.6L947.2 591.1L947.2 591.7L947.1 592.3L946.9 592.9L946.5 593.4L946.5 594L946.9 594.6L946.2 595.1L946.8 595.7L946.4 596.3L946.1 596.8L946.1 597.4L944.7 597.9L946.2 598.6L945.9 599.1L946.6 599.8L945.8 600.3L946.1 600.9L945.9 601.4L945.7 602L945.1 602.5L945.7 603.2L945.7 603.8L945.6 604.3L945.1 604.8L945.1 605.4L944.9 606L945.1 606.6L945.5 607.2L944.9 607.7L945 608.3L941.8 608.5L944.9 609.5L945 610.1L945.2 610.7L944.9 611.2L945 611.8L944.5 612.3L944.4 612.9L939 612.6L944.5 614L941.4 614.2L939.4 614.4L943.5 615.6L943.9 616.3L943.7 616.8L943.1 617.3L943.5 618L943.1 618.5L942.9 619L937.4 618.6L942.5 620.1L942.9 620.8L942.8 621.4L943.3 622L942.1 622.4L942 623L942.1 623.6L942.3 624.2L942.1 624.7L941.6 625.2L942.2 625.9L942.2 626.5L941.5 627L939.6 627.2L941.3 628.1L940.9 628.6L941.4 629.3L941.3 629.9L940.7 630.3L940.9 631L940.2 631.4L940.6 632.1L936.3 631.7L940.5 633.2L940.6 633.9L940.2 634.4L936.2 634L940.1 635.5L939.8 636L939.5 636.5L939.6 637.2L939.2 637.6L938.8 638.2L938.6 638.7L939.3 639.5L938 639.7L933.4 639.1L938.3 641L938.6 641.7L935.7 641.5L938.3 642.8L937.7 643.2L938.2 643.9L927.8 641.7L936.9 644.8L932.2 644.1L931.1 644.3L937.9 646.8L938.3 647.6L929.7 645.7L931.3 646.7L929.4 646.8L930.2 647.6L929.4 650.3L916.3 646.3ZM915.7 648.4L923.2 650.8L922.3 653.4L935.1 658.2L929.5 656.9L934.8 659.3L934.1 659.7L933.6 660.1L935 661.2L935.2 661.9L933.6 661.9L923.2 658.9L933.7 663.2L933.9 663.9L933.5 664.4L933.2 664.8L932.6 665.3L932.9 666L931.3 666L931.8 666.8L931.8 667.4L929.4 667.2L931.5 668.6L930.8 668.9L930.2 669.3L930.2 669.9L924.9 668.5L929.5 670.9L929.3 671.4L928.9 671.9L928.7 672.4L928.7 673L928.4 673.5L928.3 674.1L928.1 674.7L927.6 675.1L927 675.5L925.7 675.5L926.7 676.6L926.7 677.2L926.4 677.7L926.1 678.2L926.2 678.8L925.3 679.1L925.5 679.8L925.5 680.5L925.2 680.9L925.3 681.6L924.5 681.9L924.6 682.5L924.4 683.1L924.3 683.7L923.6 684L923.9 684.8L923.4 685.2L923.1 685.7L923 686.2L920.9 685.9L927.1 689.4L924.6 688.9L922.1 688.4L922.1 689L921.6 689.4L921 689.8L917.1 688.5L921.1 691.1L920.8 691.6L920.8 692.2L919.8 692.4L920.1 693.2L919.9 693.7L920 694.4L919.4 694.7L918.8 695.1L919 695.8L918.7 696.3L916.1 695.7L921.2 698.9L917.8 697.8L917.3 698.2L917 698.7L916.9 699.3L916.3 699.6L916.2 700.2L915.7 700.6L915.9 701.4L915.3 701.7L915.3 702.4L914.5 702.6L914.1 703L914.1 703.7L914.1 704.3L913.4 704.6L913.4 705.3L913.3 705.9L912.8 706.3L912.7 706.9L912.8 707.6L912.4 708L912 708.5L911.3 708.7L911.4 709.4L910.8 709.7L910.6 710.3L910.8 711.1L910.2 711.4L909 711.4L909.5 712.3L909.1 712.8L908.6 713.1L909 714.1L908.5 714.4L907.9 714.7L908 715.4L907.2 715.6L902.2 713.2L906.8 716.8L906.3 717.1L906.3 717.8L909.1 720.2L905.5 718.6L905 719L904.8 719.6L904.3 719.9L904 720.4L903.7 720.9L903.6 721.6L903.6 722.2L902.8 722.4L902.5 722.9L902.1 723.3L901.8 723.8L901.6 724.4L901.6 725L900.7 725.2L900.2 725.5L900 726L899.7 726.5L899.5 727.1L898.9 727.4L899 728.2L898.9 728.8L897.8 728.7L897.9 729.5L897.1 729.6L897.2 730.4L897.2 731.1L896.7 731.5L896.7 732.2L896.3 732.6L896.1 733.2L896.3 734L895.4 734.1L894.8 734.4L894.5 734.9L894.1 735.2L893.3 735.4L893.7 736.4L893.1 736.7L888.2 733.7L892.2 737.5L888.4 735.3L891.6 738.4L891.7 739.3L891.4 739.7L890.7 739.9L890 740.1L889.7 740.6L889.6 741.3L889.2 741.7L888.8 742.1L889 743L888 743L887.9 743.6L887.5 744L887.1 744.4L886.9 745L886.5 745.4L885.6 745.4L885.6 746.1L885.2 746.6L884.8 747L884.6 747.6L882.4 746.5L883.7 748.4L879.6 745.6L882.8 749.1L882.7 749.7L881.9 749.8L881.3 750.1L881.1 750.7L880.9 751.2L880.4 751.6L880.7 752.6L879.8 752.6L880.1 753.6L879.1 753.5L878.7 753.9L873.9 750.4L877.9 754.8L877.4 755.1L877.5 755.9L877 756.2L876.6 756.6L876.5 757.3L875.9 757.5L875.5 758L872.7 756.2L874.7 758.9L874.3 759.2L874 759.8L873.7 760.3L872.8 760.2L872.4 760.6L872.2 761.2L871.6 761.5L871.2 761.8L870.9 762.4L871.1 763.3L872 765L869.7 763.6L869.3 764.1L869.2 764.8L865.9 762.3L868.1 765.2L867.7 765.6L867.5 766.3L866.8 766.4L866.6 767L866.3 767.5L865.9 768L865.3 768.1L865.1 768.8L864.6 769L864.1 769.4L864 770.1L863.4 770.3L863 770.8L862.8 771.3L862.2 771.6L862.1 772.3L861.8 772.8L861.2 773.1L860.7 773.4L859.7 773.1L859.5 773.8L858.7 773.8L859.3 775.2L859.1 775.9L858.2 775.7L857.9 776.3L857.6 776.8L856.4 776.3L856.9 777.8L854.5 775.9L855.4 777.8L851.4 774.1L853.4 777.2L854.1 778.9L853.5 779.2L853.5 780L853.2 780.6L852 780L845.4 773.1L851.4 781L851.7 782.3L851.5 783.1L846.1 777.5L844 779.3L834.8 768.2ZM833.1 769.5L838.9 776.8L836.8 778.5L842.4 786.4L835.4 778.5L842.3 788.2L839.7 785.9L840.8 788.2L840.1 788.3L840.7 790L839.1 788.7L834.6 783.8L837.1 788L838.1 790.4L837.8 790.9L837.5 791.4L836.4 790.9L836.1 791.5L836.1 792.5L834.9 791.8L835 792.9L834.1 792.7L834 793.5L833.8 794.1L833 794.1L832.8 794.8L831.9 794.5L831.9 795.5L831 795.2L831.8 797.3L829.2 794.7L829.9 796.7L829.2 796.6L828.8 797.1L828.5 797.7L827.7 797.5L827.3 798L826.8 798.3L826.3 798.5L823.3 795.1L825.7 799.7L825.2 800L824.7 800.3L823.9 800L823.5 800.5L823.1 800.9L822.5 801.1L822.2 801.6L821.8 802.1L821 802L818.8 799.7L820.3 803L819.8 803.2L819.3 803.6L816.3 800L818.2 803.9L817.7 804.2L817.2 804.6L815.2 802.4L816.5 805.5L815.8 805.6L815 805.4L814.6 805.8L814.3 806.4L813.7 806.6L813.3 807L814 809.2L812.2 807.4L811.6 807.4L810.2 806.3L810.9 808.6L810.1 808.4L809.9 809.1L809.2 809L808.8 809.6L808.3 809.8L807.6 809.8L807.4 810.5L806.6 810.3L806.3 811L805.9 811.5L805.2 811.3L804.7 811.6L804.2 811.9L803.6 812.1L803.5 813L802.7 812.8L802.1 812.9L801.7 813.2L801.4 813.9L800.9 814.2L801.3 816.2L799.6 814.3L799.2 814.7L796.2 810.1L798.1 815.1L797.5 815.2L797.1 815.6L796.6 815.9L793.9 811.8L795.8 816.8L794.9 816.5L794.5 817L794 817.2L795 820.6L792.9 817.6L792.7 818.4L792 818.2L791.5 818.7L790.9 818.7L790.7 819.5L790 819.4L789.4 819.6L788.9 819.9L787.8 818.8L785.2 814.6L787.1 820.1L786.6 820.2L786.3 821.1L785.7 821.1L785.2 821.4L784.6 821.4L784 821.4L783.6 822L782.9 822L782.8 823.1L782.2 823.2L781.7 823.4L781.1 823.5L780.6 823.8L779.8 823.5L779.4 823.9L778.7 823.7L778.3 824.4L777.7 824.4L777.2 824.7L776.7 825L776.2 825.1L775.7 825.5L775 825.4L774.5 825.6L774 825.9L771.8 821.7L772.9 826.2L772.3 826.2L773 829.6L773.4 832.2L771.1 828L770.3 827.5L767.9 822.6L769.2 827.8L768.7 827.9L768.1 828.2L767.4 828L767.1 828.6L766.4 828.4L765.8 828.6L765.3 828.8L764.9 829.3L764.4 829.5L763.9 829.9L763.5 830.6L762.8 830.3L762.1 830.2L761.7 830.7L761.1 830.7L760.5 830.7L759.9 830.8L759.6 831.6L759 831.8L758.4 831.8L758.2 832.9L757.5 832.6L756.9 832.7L756.3 832.7L755.7 832.6L755.2 833.1L754.7 833.4L754.1 833.3L753.7 834L751.8 829.6L752.5 833.9L752.2 834.9L751.5 834.5L750.7 834.1L750.3 834.7L749.8 835.1L749.2 835.1L748.7 835.4L748.2 835.8L747.6 835.7L747 835.6L746.6 836.3L745.9 836L745.3 836.1L744.8 836.4L744.2 836.1L743.7 836.5L742.1 832.8L742.6 836.8L740.5 831L741.5 837.3L739.5 831.8L740.4 837.6L739.7 837.4L739.3 837.9L738.7 838L738.2 838.3L737.6 838.5L737 838.4L736.5 838.5L735.9 838.5L735.3 838.5L734.7 838.6L734.1 838.7L733.5 838.5L733.1 839.2L732.5 839.1L731.8 838.9L731.3 839.2L730.7 839.3L730.4 840.3L729.6 839.6L729.1 840L728.5 840L728 840.2L727.5 840.9L726.9 840.5L726.4 840.8L725.7 840.6L724.2 835.8L724.6 840.7L724 840.8L723 838.4L722.7 840L721.6 837.2L721.9 842.1L720.9 839.4L720.1 838.6L720.2 842.1L718.4 835.4L719 842.3L718.5 842.9L717.7 841.5L715.9 833.9L716.8 842.9L716.3 843.3L715.5 842.4L714.6 840.1L713.2 834.9L713 837.2L712.5 837.8L709.7 838.2L707.8 823.8ZM705.8 824.1L706.9 832.6L704.1 832.9L704.7 842L703.2 834.4L703.6 842.7L703.1 843.5L702 838.2L701.8 842.4L701 840.1L699.7 832.8L700.1 842.5L699.4 841.2L698.9 841.7L697.6 834.2L697.9 842.7L697 839.2L696.7 842.6L696.2 843.4L695.4 840.4L694.8 839.5L694.4 842.7L693.9 842.6L693.3 843.2L692.3 836.5L692 839.9L691.6 842.7L691 842.9L690.5 843.3L689.9 843.1L689 838.2L688.8 843L687.9 837.9L687.6 842.9L687 842.7L686.5 843.5L685.9 842.6L685.4 843.6L684.8 843.4L684.2 842.8L683.7 843.1L683.1 843.1L682.5 843.4L682 843.3L681.4 843.6L680.8 843.7L680.3 843.6L679.7 843.5L679.1 843.7L678.6 843.8L677.9 837.5L677.4 844.2L676.8 843.3L676.3 843.4L675.7 843.4L675.1 843.1L674.6 843L674 843.3L673.4 843.8L672.9 843.4L672.3 843.2L671.7 843.2L671.2 843.4L670.6 843.4L670 843.3L669.5 843.3L668.9 843.4L668.3 843.3L667.8 843.2L667.2 843.6L666.6 843.4L666.1 843L665.5 843.2L665.1 836.9L664.4 842.8L663.8 843.1L663.2 842.6L662.6 843.1L662.1 842.9L661.5 842.7L661 842.7L660.4 842.6L659.8 842.3L659.2 843.4L658.7 842.8L658.1 843L657.5 842.6L657 842.8L656.4 842.8L655.8 843L655.3 842.6L654.7 843.1L654.1 843L653.5 843L653 842.7L652.5 841.1L651.8 842.9L651.3 842.5L650.7 842.4L650.2 842.6L649.6 842.5L649 842.5L648.5 841.9L648.3 837.5L647.3 842.1L646.8 842.3L646.3 841.5L645.6 841.9L645 842.5L644.5 841.8L643.9 842.5L643.3 842.4L643.2 838.5L642.3 841.5L641.7 841.5L641.2 840.9L640.6 841.1L640 841L639.5 840.4L638.9 840.8L638.4 840.5L637.8 840.6L637.3 840.1L636.7 840.6L636.7 835.9L635.6 840.3L635 840.5L634.4 840.2L633.8 840.7L633.2 840.4L632.7 840L632.2 839.8L631.7 839.5L631 839.9L630.5 839.5L629.9 839.6L629.4 839.5L628.9 839.1L628.2 839.5L627.7 839.2L627.1 839.1L627.4 834.4L626 839.1L626.4 833.7L625 838.3L624.2 839.3L623.8 838.6L623.2 838.8L622.5 839L622 838.6L621.5 838.6L621 838.2L620.4 838.1L619.9 837.8L619.2 838L619.3 834.9L618.2 837.3L617.7 837.3L617.1 837.2L616.7 836.4L616 836.9L615.4 837L614.9 836.5L615.5 831.2L613.8 836.5L613.2 836.6L612.8 835.7L612.1 836.3L611.4 836.8L610.9 836.2L610.4 835.9L611 830.9L609.2 836.1L608.7 835.7L607 840.2L605.8 842.8L606.5 837.7L606.5 835.1L605.9 835.2L605.3 835.2L605 834.3L604.4 834.3L603.7 834.5L603.1 834.6L602.6 834.3L602 834.3L601.4 834.2L601.1 833.3L600.3 834.1L599.8 833.9L599.3 833.5L598.7 833.5L598.1 833.4L597.6 833.1L597.3 832.3L598.5 826.1L596.2 832.1L595.3 833L594.9 832.3L594.4 831.9L595.1 827.6L593.3 831.8L592.4 832.8L593.9 826L592.7 828L592.5 826.6L590.2 832.2L590 831L588.9 832.4L590.1 826.8L590 825.2L588 829.6L589.2 824.3L589.8 820.5L586.5 828.7L583.8 827.7L589.3 812ZM587.4 811.4L584.1 820.8L581.5 819.8L581.2 818.9L577.9 826.1L576.3 828.9L580.1 817.2L577.7 821.8L575.8 825.4L575.1 825.4L574.2 826.2L575.9 820.4L573.1 825.8L573.1 824.5L573.9 820.9L574 819.1L574.3 816.7L571.1 823.1L570 824.4L571.7 818.7L569.4 822.9L568.5 823.6L567.9 823.4L567.7 822.4L567 822.7L566.5 822.5L566 822.1L565.6 821.7L566.8 817.3L564.5 821.3L564.1 820.8L563.3 821.1L562.7 821L562.3 820.6L561.8 820.2L561.4 819.8L560.7 820L560.3 819.5L559.6 819.7L559.5 818.5L559 818.3L558.5 817.9L557.7 818.2L557.1 818.1L556.8 817.6L556.2 817.4L555.6 817.3L555.2 816.8L554.6 816.9L554.2 816.3L553.5 816.5L553.1 815.9L552.5 815.8L552 815.6L551.7 815L551 815L550.6 814.7L550.1 814.4L549.5 814.2L549.2 813.7L548.6 813.5L547.9 813.5L547.4 813.4L547.2 812.6L546.5 812.6L545.9 812.5L545.6 811.9L545 811.7L544.5 811.4L544 811.2L543.7 810.6L543 810.6L542.3 810.7L542.1 809.9L541.5 809.9L540.9 809.8L540.4 809.4L540 809L539.6 808.6L539.2 808.2L538.7 807.9L538.1 807.7L538 806.7L539 803.9L536.5 807L536 806.7L535.7 806.2L535.1 806L534.6 805.7L534.1 805.5L535 802.9L533.1 804.9L532.6 804.7L531.9 804.7L531.6 804.1L529.2 807L530.9 803.1L530.5 802.7L529.5 803.2L529.4 802.3L528.8 802.2L528.3 801.9L527.7 801.7L527.3 801.4L526.9 800.9L526.4 800.6L526 800.2L525.4 800L525 799.7L527.5 794.8L523.8 799.3L526.3 794.6L522.8 798.8L522.6 798.1L522.2 797.6L520.5 799.1L521.4 796.8L522.1 794.8L520.1 796.6L519 797.3L515.6 801.3L515.1 800.9L517.8 795.9L517.8 795L518.3 793.3L516.4 795L516.1 794.4L515.4 794.4L515.4 793.4L514.7 793.5L513.9 793.6L513.5 793.2L513.4 792.3L513 791.9L512.6 791.5L512.3 790.9L511.4 791.2L511.2 790.4L510.8 790.1L510.3 789.8L509.8 789.5L509.3 789.2L509 788.7L508.2 788.8L508.2 787.8L507.7 787.5L507 787.5L506.8 786.8L506.3 786.6L505.5 786.7L505.6 785.6L504.7 785.8L504.4 785.2L504.2 784.6L503.6 784.4L503.3 783.9L502.9 783.4L502.1 783.6L501.8 783L501.6 782.4L501.2 782L500.4 782.1L500.3 781.3L499.6 781.2L499.2 780.8L498.6 780.7L498.2 780.3L497.7 779.9L497.6 779.1L497.1 778.9L496.5 778.7L496.3 778.1L495.4 778.2L495.2 777.6L497.6 773.9L494.1 777.1L495.6 774.5L493.3 776.3L493.1 775.7L492.5 775.5L492.4 774.8L491.8 774.6L493.9 771.3L490.4 774.3L494.5 769L494.4 768.3L491.3 770.8L492.8 768.3L488.8 771.9L491.8 767.8L490.2 768.7L488.5 769.7L487.3 770.1L486.5 770.2L492.8 762.7L484.9 770.1L491.4 762.6L485.3 768.1L483.3 766.1L495.3 753.8ZM493.8 752.4L481.8 764.4L479.8 762.4L478.9 762.5L484.5 756.3L484.5 755.5L477.5 761.5L484.1 754.3L480.6 756.9L476.2 760.4L476 759.8L483.4 751.9L475.4 758.7L473.9 759.4L474.9 757.6L474.2 757.5L479.7 751.7L472.5 757.5L472.6 756.7L472.1 756.4L471.7 756L471.3 755.5L471.2 754.9L470.9 754.4L470.8 753.7L470 753.6L473.1 750.1L469 753.1L468.5 752.7L471.2 749.6L468.2 751.5L467.6 751.2L467 751L467.1 750.1L467.2 749.3L466.3 749.3L466.2 748.7L465.9 748.2L465.7 747.6L464.8 747.6L464.8 746.8L464 746.7L463.6 746.3L463.1 746.1L463.4 745.1L462.8 744.8L462.1 744.6L461.9 744.1L461.8 743.4L461.1 743.2L460.5 743L460.6 742.2L459.8 742.1L456.8 743.7L459.3 741L458.7 740.8L458.4 740.3L458.3 739.7L457.5 739.6L456.9 739.3L456.9 738.6L456.7 738L456.5 737.4L456.3 736.9L456 736.4L456.5 735.3L455.1 735.6L454.4 735.5L454.4 734.7L454.2 734.2L453.4 734L453.2 733.5L452.7 733.1L452.9 732.3L452.2 732.1L451.8 731.6L451.8 731L451.5 730.4L451 730.1L447.2 732.1L444.8 733.1L448.3 729.9L449.5 728.4L449.6 727.6L449.3 727.1L448.5 727L451.1 724.5L448.3 725.7L447.9 725.3L447.5 724.9L447 724.6L446.7 724.1L446.4 723.6L446.2 723L447.9 721.3L445.6 722.1L445.3 721.6L444.8 721.2L444.3 720.9L444.3 720.2L444 719.7L448.6 716.1L443.5 718.7L443.4 718.1L442.6 717.9L442.4 717.4L442.3 716.7L441.5 716.5L441.6 715.8L441 715.5L441.5 714.5L440.4 714.5L440.3 713.9L440.3 713.3L439.4 713.2L439.2 712.6L444.2 709L439.2 711.3L438.4 711.1L438.5 710.4L438 710L437.8 709.4L437.8 708.8L437.2 708.5L436.8 708L436.4 707.6L435.8 707.3L439.2 704.7L435.4 706.2L435 705.8L439.2 702.8L435.1 704.4L434.4 704.1L434.6 703.4L434.2 703L434 702.4L433.1 702.3L433.4 701.5L432.8 701.1L437.1 698.2L433.1 699.7L432.1 699.5L432.3 698.8L432 698.3L431.6 697.9L431.2 697.4L430.7 697.1L430.3 696.6L430.6 695.8L429.9 695.5L430 694.9L429.5 694.5L429.7 693.7L428.6 693.7L433.1 690.8L427.8 692.8L432 690.1L427.7 691.6L427.8 690.9L427.6 690.3L432.6 687.3L427.1 689.3L433.4 685.7L427 688.1L424.8 688.5L433.1 684L432.5 683.7L432.6 683L426.8 685.1L428.4 683.7L429.9 682.4L427.6 682.8L424.6 683.6L425 682.8L428.9 680.4L427.7 677.8L439.4 672.8ZM438.6 670.9L434.1 672.8L433 670.3L418.4 675.7L429.9 670.4L433.8 668.2L430.6 668.9L419.1 672.9L418.1 672.7L431.6 666.7L421.1 670.3L417.9 670.9L421.5 668.9L418.3 669.5L427 665.6L418.5 668.2L417.8 667.9L417.2 667.5L417.4 666.8L416.2 666.6L424 663.2L416.2 665.4L416.6 664.7L425.3 660.9L420.1 662.2L423.3 660.5L425.3 659.2L415.4 662.1L418.1 660.5L415 661L414.9 660.4L414.8 659.8L421.6 656.9L414.7 658.7L419.8 656.4L414.2 657.7L414 657.1L413.4 656.7L423.4 652.8L415.7 654.8L412.9 655.1L412 654.8L412.9 653.9L412.4 653.4L412.1 652.9L412.1 652.3L412.2 651.7L412 651.1L411.4 650.7L411.5 650.1L411.3 649.6L411 649.1L411.1 648.4L410.6 648L411 647.3L410.3 646.9L410.4 646.2L410.2 645.7L410.2 645.1L409.7 644.7L409.4 644.1L409.1 643.6L409.2 643L408.7 642.6L408.5 642L403.9 642.7L402.9 642.3L407.5 640.5L408.4 639.7L408.1 639.2L408 638.6L407.8 638.1L410.4 636.8L407.7 636.9L411.7 635.4L407.5 635.8L407.7 635.2L409.8 634.1L406.6 634.2L407.3 633.5L406.8 633L406.9 632.4L406.8 631.8L406.7 631.3L407 630.6L406.6 630.1L406 629.7L406 629.1L405.7 628.6L406.2 627.9L405.8 627.4L405.9 626.8L405.2 626.3L404.9 625.8L404.6 625.3L404.9 624.6L405 624L404.4 623.6L404 623.1L404.8 622.3L404.9 621.7L404.4 621.2L403.9 620.8L404.3 620.1L404.4 619.5L404 619L404.1 618.4L403.4 617.9L403.7 617.3L403.8 616.7L403.5 616.2L403.3 615.6L403 615.1L403.2 614.5L402.7 614L403.4 613.3L403.5 612.7L403.1 612.2L402.9 611.6L402.5 611.1L402.7 610.5L402.3 610L402.7 609.4L402.2 608.8L405.1 607.9L402.5 607.6L402.3 607.1L401.9 606.6L401.6 606L402 605.4L401.6 604.9L404.1 604L404.1 603.4L401.7 603.1L401.6 602.6L401.9 602L401.5 601.4L402.3 600.8L401.7 600.3L402 599.7L401.7 599.1L401.2 598.6L401.2 598L401.3 597.4L401.2 596.9L401.1 596.3L404.6 595.4L401.5 595.1L400.2 594.7L401.6 594L400.9 593.4L400.6 592.9L400.4 592.3L408.7 591.2L400.3 591.2L405 590.3L408.9 589.5L399.4 589.5L400.1 588.9L400.5 588.3L399.6 587.8L400.2 587.2L405.4 586.3L405.3 583.5L418.7 582.9ZM418.7 580.7L405.4 581.1L405.3 578.3L400.2 577.9L401.7 577.3L399.3 576.8L412.6 576L401.7 575.6L400.7 575L401.6 574.4L410.5 573.8L400.8 573.3L410.3 572.7L401.7 572.2L402.2 571.6L400.5 571L405.7 570.5L400.5 569.9L401.3 569.3L402.9 568.8L401.2 568.2L400.5 567.6L405.2 567.1L400.8 566.4L403.6 565.9L401.3 565.3L401.5 564.8L401.3 564.2L402.6 563.6L401.4 563L402.2 562.5L401.5 561.9L401.4 561.3L401.5 560.8L402 560.2L401.4 559.6L401.2 559L401.6 558.5L401.9 557.9L401.6 557.3L401.5 556.8L402.1 556.2L401.8 555.6L401.5 555L401.7 554.5L401.6 553.9L401.8 553.3L407.4 553.2L401.3 552.2L402 551.6L401.7 551.1L401.7 550.5L405.8 550.2L402 549.4L402 548.8L401.7 548.2L402.6 547.7L402.6 547.1L402.2 546.5L401.9 545.9L402.1 545.4L402.9 544.9L403.1 544.3L402.1 543.6L402.8 543.1L402.9 542.6L402.8 542L403 541.4L402.9 540.8L402.9 540.3L406.3 540.1L403.1 539.1L403 538.6L403.5 538L403.1 537.4L401 536.6L403.3 536.3L403.1 535.7L402.7 535.1L403.5 534.6L402.8 533.9L409.1 534.2L403.5 532.9L403.6 532.3L403.6 531.7L404 531.2L403.9 530.6L399.8 529.4L396.7 528.3L401.6 528.5L404.1 528.3L405.4 528L405.1 527.3L405 526.7L405.5 526.2L405.6 525.7L405.6 525.1L405.7 524.5L405.7 524L405.9 523.4L405.7 522.8L406.1 522.3L405.9 521.7L406.4 521.2L405.9 520.5L405.9 519.9L407 519.6L406.9 519L406.7 518.3L406.9 517.8L406.9 517.2L406.4 516.5L407.7 516.2L406.6 515.4L407.2 515L407.6 514.5L407.4 513.8L407.6 513.3L407.8 512.8L407.7 512.2L407.9 511.6L407.9 511L408.5 510.6L408.4 510L408.7 509.5L408.4 508.8L409.2 508.4L408.6 507.7L409.3 507.2L409.3 506.7L409 506L409.5 505.5L412.7 505.8L409.9 504.5L410 503.9L409.9 503.3L410.1 502.8L416.5 503.9L410.9 501.8L410.5 501.1L409.7 500.3L409.8 499.7L410.5 499.3L411.3 498.9L410.1 498L411.8 497.9L419.1 499.4L420.7 499.3L412.2 496.2L412.7 495.8L418.9 497L414.5 495.1L415.3 492.4L429.8 496.9ZM430.6 494.2L413.4 488.7L414.3 486L415.4 485.8L424.4 488.2L420.3 486.2L415.3 483.9L416.7 483.8L426.5 486.6L415.6 482.2L416 481.8L416.5 481.3L417.8 481.2L416.7 480.2L416.4 479.5L417.7 479.3L417.3 478.6L424.7 480.7L417.7 477.5L417.7 476.9L418.2 476.5L418.4 475.9L419.2 475.6L424.2 476.9L418.7 474.2L419.1 473.8L420.1 473.5L420 472.9L420.4 472.4L420.7 472L421 471.4L421.2 470.9L421.9 470.6L421.9 470L422 469.4L422.3 468.9L421.9 468.1L422.3 467.7L422.7 467.2L423.2 466.8L423 466.1L423.8 465.8L423.9 465.3L423.5 464.5L423.8 464L424.4 463.6L424.5 463L424.9 462.6L424.7 461.9L424.8 461.3L425 460.8L431.1 462.9L426 460L426.3 459.5L426.3 458.9L427.1 458.6L426.5 457.7L426.7 457.2L427.4 456.9L427.2 456.1L427.2 455.5L427.1 454.8L428.1 454.7L428.7 454.3L428.5 453.6L428.7 453.1L429.2 452.6L430.2 452.5L429.5 451.5L430.1 451.2L430.1 450.6L430.7 450.3L430.3 449.4L430.6 448.9L431.4 448.7L431.4 448L433.4 448.5L431.6 446.9L431.9 446.4L432.1 445.9L432.2 445.3L432.9 445L432.9 444.3L435.6 445.1L435.5 444.4L435.9 444L436.3 443.6L437 443.3L439.9 444.3L439.5 443.4L437.2 441.5L440 442.4L438 440.7L443.4 443L435.9 438.2L441.2 440.5L439.1 438.6L439.9 438.5L437.4 436.4L446.7 441.1L440.6 436.9L442.9 437.6L438.7 434.5L435.9 432.2L436.3 431.7L441.7 434.3L442.2 434L442.3 433.4L442.7 433L442.9 432.4L443.8 432.3L448.5 434.5L447.9 433.5L444.4 430.7L450 433.5L445 429.7L446.7 430.1L449.1 430.9L445.3 427.9L445.9 427.6L446.2 427.1L449.7 428.7L442.1 423.1L447.3 425.8L447.7 425.4L446.8 424.2L449.8 425.5L448.9 424.2L449 423.6L453 425.5L444.7 419.4L455.1 425.6L446.3 419.1L450.4 421.1L450.8 420.7L457.1 424.3L451.9 420.1L451.4 419L451.9 418.7L452.2 418.3L452.5 417.8L452 416.7L453.3 417L453.1 416.1L454.1 416.1L453.6 415.1L454.7 415.2L455.5 415.1L459.5 417.3L454.6 413.1L458.6 415.2L461.8 416.9L464.7 418.4L455.8 411.1L460.4 413.8L463.1 415.2L462.6 414L458.1 410L460.9 411.4L462.6 409.2L471.6 416.1ZM473.1 414.1L466.5 408.9L468.2 406.7L465.4 403.8L466.5 403.9L464.9 401.9L465.7 401.9L467.1 402.3L465.6 400.3L469.4 402.7L469.6 402.2L466.1 398.5L463.6 395.6L468.7 399.2L470 399.5L469.6 398.5L469.2 397.4L470.7 398L468.1 394.9L471.8 397.4L475.1 399.6L476.2 399.8L473 396.2L473.3 395.8L473.4 395.1L473.5 394.5L475.5 395.5L473.3 392.7L474 392.6L474.8 392.6L474.8 391.8L478.7 394.6L476.6 392L476.4 391L477.7 391.4L477.5 390.5L481.5 393.4L481.5 392.7L478.2 388.9L479.6 389.4L478.9 388L479.3 387.5L479.2 386.6L477 383.8L480.8 386.7L481.9 387L483 387.2L482 385.5L482.3 384.9L480.2 382.1L484.4 385.5L482.7 383L484.1 383.6L483.4 382.1L484.8 382.7L483.5 380.6L484 380.3L486.9 382.5L486.9 381.6L488.9 379.7L496.8 388ZM498.6 386.3L495.6 383.1L497.5 381.2L498.1 381L498.4 380.5L498.3 379.6L499 379.6L499.5 379.4L499.8 378.8L500 378.2L500.6 378.1L501.2 377.9L501 376.9L501.7 376.9L501.9 376.3L498.3 371.3L499.4 371.7L494.2 364.9L499.7 370.3L499.5 369.3L493.6 361.5L505.3 374.3L505.5 373.8L506.1 373.7L506.3 373.1L507 373.1L507.3 372.6L507.5 371.9L498.9 360.7L508.4 371.3L508.9 371.1L505.3 365.8L510 370.7L510.4 370.3L506.4 364.5L505.9 363L506.7 363L512 368.9L512.4 368.5L512.8 368L513.1 367.6L513.2 366.8L510.1 362L507.9 358.2L515 366.5L515.5 366.2L516 366L516.4 365.6L509.7 355.9L511.9 357.8L516.9 363.5L517.7 363.7L518.2 363.4L518.9 363.5L519.5 363.4L519.1 361.9L520.1 362.4L520.8 362.5L520.2 360.7L517.8 356.4L518.3 356.1L519.6 357L522.7 360.3L522.4 359.1L523.2 359.2L524.1 359.5L524.3 358.9L525.1 359.1L525.4 358.5L526.1 358.7L526.4 358.1L526.5 357.2L527.4 357.6L527.5 356.9L528.1 356.8L528.3 356.1L529.3 356.6L529.7 356.2L530.2 355.9L530.5 355.4L526 347.6L527.5 348.9L531.8 354.4L532 353.7L532.8 353.9L533.3 353.7L524.9 339.5L533 351.2L530.4 346.1L534.7 351.9L535.6 352.3L530.6 343.1L536.6 351.8L536.9 351.2L537.3 350.9L538 350.9L537.3 348.7L532.9 340.4L539.2 349.8L539.7 349.6L533.3 337.9L529.4 330.2L539.9 346.7L539.6 345L535.9 337.7L539.9 343.4L539.7 342L539.9 341.1L544.1 347.3L544.3 346.6L544.9 346.6L545.4 346.4L545.7 345.7L543 339.8L542.4 337.6L546.9 344.6L540 330.9L545.8 340.4L543.7 335.4L545.9 338.3L548.4 337L553.7 346.9ZM555.6 345.9L553.1 341L555.5 339.8L556.4 340.3L557 340.2L557.6 340.2L557.7 339.3L558.4 339.4L558.6 338.5L559.1 338.4L560 338.9L560.5 338.6L560.6 337.8L561.2 337.6L561.7 337.5L562.3 337.5L562.8 337.2L563.4 337.2L563.7 336.5L564.1 336.2L564.9 336.5L565.3 336.1L563.8 331.5L565.1 333.1L559.2 318.6L563.8 327.4L567.5 334.4L568.4 335L568.8 334.5L569.4 334.6L569.9 334.3L570.3 334.1L570.8 333.7L571.1 333.1L571.9 333.6L572.4 333.3L572.8 333L573.4 332.9L573.7 332.2L574.4 332.5L574.9 332.2L575.3 331.7L575.9 331.7L576.2 331.1L578.7 330.1L580.5 334.6ZM582.6 333.8L581.1 329.7L583.6 328.7L583.8 327.7L584.2 327.1L584.7 327L585.6 327.8L586.1 327.7L586.5 327.1L587.1 327.2L587.5 326.8L588 326.5L588.7 326.9L589.3 326.9L589.8 326.7L590.3 326.5L590.7 325.9L591.2 325.6L591.7 325.5L592.4 325.8L592.9 325.7L591.3 318.8L591.9 319.1L593.1 320.9L594.9 324.8L595.5 324.7L595.9 324.4L596.5 324.3L599.1 323.5L600.3 327.8ZM601.9 327.3L600.7 323.1L603.3 322.4L603.8 322.2L604.3 322.1L604.9 322L601.8 308.6L600.2 300.3L605.7 318.7L604.5 311.9L607.3 320.3L608 320.8L608.5 320.4L606.2 309.1L608.9 317.7L609.1 316.1L610.5 319.5L609.6 313.5L610.4 314.3L612.3 320L612.9 320.1L613.4 319.7L613.8 318.9L614.3 318.9L614.9 319.1L615.4 318.6L618.1 318L619.1 323ZM621 322.6L620.1 318.2L622.7 317.7L623.2 317.2L623.7 317.3L624.3 317.4L624.7 316.4L623.4 306.8L625.3 313.9L626.4 317L627 317.1L627.4 316.6L626.3 307L628.4 316.1L629 316.2L629.5 316.1L629.9 315.4L630.4 315.2L631.1 316.1L631.7 316.2L634.3 315.8L635 320.1ZM636.9 319.8L635.7 311.3L638.4 310.9L638.9 311L639.3 309.9L640.2 311.9L640.5 310L641.2 311.7L641.7 311.6L642.3 311.7L643.1 313.6L643.2 310.1L643.6 309.1L646.4 308.8L647.4 318.5Z" fill="#A1D99B" stroke="#3F9E5B" stroke-width="0.8" stroke-linejoin="round"/>
<path d="M673.5 314.2 A257.5 257.5 0 0 1 837 373.1 L822 391.3 A234 234 0 0 0 673.5 337.7ZM842.8 378.1 A257.5 257.5 0 0 1 917.5 490.8 L895.2 498.2 A234 234 0 0 0 827.3 395.8ZM919.9 498.6 A257.5 257.5 0 0 1 920 644.6 L897.4 637.9 A234 234 0 0 0 897.4 505.2ZM917.7 651.9 A257.5 257.5 0 0 1 838.8 768.8 L823.6 750.8 A234 234 0 0 0 895.4 644.6ZM832.9 773.6 A257.5 257.5 0 0 1 710.8 826.4 L707.4 803.2 A234 234 0 0 0 818.3 755.1ZM703.5 827.4 A257.5 257.5 0 0 1 590.9 815.8 L598.4 793.5 A234 234 0 0 0 700.7 804.1ZM583.9 813.3 A257.5 257.5 0 0 1 495.1 757.9 L511.3 740.9 A234 234 0 0 0 592 791.2ZM489.7 752.6 A257.5 257.5 0 0 1 437.8 676.4 L459.2 666.9 A234 234 0 0 0 506.5 736.1ZM434.8 669.5 A257.5 257.5 0 0 1 415.9 585.8 L439.3 584.5 A234 234 0 0 0 456.5 660.6ZM415.6 578.1 A257.5 257.5 0 0 1 426.1 498.6 L448.6 505.2 A234 234 0 0 0 439.1 577.5ZM428.6 490.7 A257.5 257.5 0 0 1 467.6 416.4 L486.3 430.6 A234 234 0 0 0 450.9 498.1ZM472.5 410.2 A257.5 257.5 0 0 1 492.8 387.7 L509.3 404.5 A234 234 0 0 0 490.8 424.9ZM498.5 382.3 A257.5 257.5 0 0 1 549.9 345.5 L561.1 366.2 A234 234 0 0 0 514.5 399.6ZM556.7 342 A257.5 257.5 0 0 1 576.9 332.8 L585.6 354.6 A234 234 0 0 0 567.3 362.9ZM584.1 330 A257.5 257.5 0 0 1 596.9 325.7 L603.8 348.2 A234 234 0 0 0 592.2 352.1ZM603.7 323.7 A257.5 257.5 0 0 1 615.9 320.6 L621.1 343.5 A234 234 0 0 0 610 346.3ZM623 319.1 A257.5 257.5 0 0 1 631.9 317.5 L635.6 340.7 A234 234 0 0 0 627.6 342.1ZM639.1 316.4 A257.5 257.5 0 0 1 644.4 315.8 L647 339.1 A234 234 0 0 0 642.2 339.7Z" fill="#EDF8E9"/>
<path clip-path="url(#cl5)" d="M671.1 340.7L670.9 325.4L673.5 325.4L674 332.8L674.5 330.1L675 332.5L675.6 325.8L676.1 327.4L676.6 325.8L677 333.9L677.5 331.7L678.1 326.5L678.6 327L679.1 327.1L679.6 327.5L680 332.6L680.7 326.1L681.2 326.5L681.7 325.8L682.2 327.4L682.7 327.7L683.2 327.5L683.5 333.8L684.2 327.7L684.8 327.7L685.3 327.2L685.8 326.8L686.3 326.9L686.8 327.1L687.3 327.9L687.8 327.4L688.4 327.4L688.8 327.8L689.4 327.8L689.9 327.9L690.1 331.8L690.9 327.8L691.3 328.7L691.9 328.2L692.4 328.4L692.9 327.9L693.4 328.1L693.9 328.3L694.5 327.7L695 328.3L695.4 328.5L695.9 328.8L696.4 329.1L697 328.1L697.5 328.1L698 328.5L698.6 328.1L699 328.5L699.5 329L700 329L700.5 328.9L701.1 328.8L701.6 328.7L702.1 329L702.6 329.3L703.1 329.4L703.4 330.9L704.1 329.4L704.6 329.7L705.1 329.3L705.5 330.3L706.1 329.9L707.3 325L707.1 330L707.6 329.8L707.5 334.2L708.7 329.9L709.1 330.2L709.7 330L710.2 330.1L710.6 330.5L711.1 330.6L711.8 329.8L712.2 330.2L712.8 330.2L713.2 330.5L713.8 330.4L714.2 331L714.6 331.3L715.3 330.4L715.8 330.5L715.7 333.8L715.6 337.3L716.9 333.1L717.8 331.3L718.2 331.6L717.7 337.2L719.4 330.9L719.8 331.4L719.9 333.4L720.4 334L721.3 331.9L721.9 331.4L722.3 332L722.9 331.7L723.3 332.4L723.8 332.3L724.3 332.5L724.8 332.4L725.4 332.4L725.8 332.8L726.4 332.3L726.8 333.1L726.4 337L727.8 333.1L728.3 333.3L728.8 333.5L729.3 333.4L729.8 333.5L730.5 333.1L731 333L731.5 333.4L731.9 333.8L732.3 334.2L732.9 334.1L733.4 334L732.8 338.4L734.4 334.4L734.9 334.5L735.4 334.4L735.8 335L736.3 335.2L737 334.6L737.2 335.6L737.8 335.4L738.4 335.2L738.8 335.6L739.2 336.1L739.7 336.3L740.1 336.8L740.8 336L741.2 336.5L741.8 336.6L742.2 336.8L742.7 336.8L743.3 336.8L743.6 337.4L744.1 337.5L744.6 337.9L745.2 337.6L745.6 337.9L746.2 338L746.4 338.8L746.9 338.9L746.3 342.4L748 338.9L748.5 339.1L748.9 339.3L749.4 339.5L749.8 339.9L750.3 340.2L750.8 340.2L751.2 340.7L751.8 340.4L752.4 340.2L752.7 340.9L753.3 340.8L753.7 341.1L754.2 341.2L754.7 341.6L755.3 341.3L755.8 341.5L756.2 341.9L756.8 341.6L757.2 342L757.5 342.7L758.1 342.6L758.6 342.8L759.1 342.7L759.4 343.4L760.1 343.1L760.5 343.5L761 343.6L761.5 343.6L762 343.7L762.6 343.7L763 344.2L763.5 344.3L763.9 344.6L764.1 345.5L764.9 344.8L765.2 345.5L766 344.9L766.3 345.6L766.8 345.6L767.3 345.8L767.7 346L768.2 346.2L768.6 346.7L769.1 346.8L769.6 346.9L770 347.3L770.5 347.3L771 347.6L771.5 347.5L771.9 347.9L772.1 348.7L772.8 348.4L773.4 348.4L773.6 349.3L774.3 349L774.9 348.9L775.4 349L775.9 349.1L776.3 349.5L776.6 350.1L777 350.4L777.8 349.9L777.8 351.1L778.4 351L779.1 350.7L779.4 351.4L780.1 351L779.2 354L780.7 352.1L781.1 352.5L782.2 351.4L782.1 352.7L782.8 352.5L783.1 353L783.5 353.4L784 353.5L784.5 353.7L784.9 354L785.4 354.2L785.9 354.4L786.1 355L785 358.3L787.3 354.9L787.4 355.8L788.3 355.2L788.5 355.9L786.2 361.3L789.6 356.2L789.7 357L789.9 357.7L790.7 357.3L791.2 357.5L791.6 357.7L790.8 360.2L792.9 357.6L793 358.4L793.3 359L793.9 358.9L794.3 359.3L794.9 359.2L795.1 359.9L795.7 360L796.3 359.8L796.8 360L797.2 360.3L797.3 361.2L797.9 361.2L798.2 361.7L798.7 361.9L799 362.4L799.7 362.1L800.2 362.4L798 366.8L800.8 363.4L801 363.9L801.9 363.5L802.1 364.1L802.6 364.4L803.2 364.3L803.1 365.4L803.8 365.2L804.4 365.3L805 365.3L805.2 366L807.9 362.6L806.1 366.4L806.6 366.6L806.7 367.3L807.5 367L807.9 367.4L807.7 368.6L807.2 370.3L809.3 368.1L809.2 369.1L809.9 369.1L808.5 372L810.6 369.8L811 370.2L811.3 370.7L811.8 370.7L812.1 371.3L812.6 371.4L811 374.6L812.6 373.2L811.3 375.9L813.4 373.9L813.7 374.3L814.1 374.5L814.3 375.2L814.8 375.4L815.4 375.3L815.7 375.8L814.6 378.1L816.7 376.2L817 376.7L815.3 379.8L818.2 376.8L818.7 376.9L818.8 377.6L819.4 377.6L816.4 382.5L820.1 378.4L820.2 379.1L821.2 378.7L821.5 379.1L821.9 379.5L821.9 380.2L822.7 380.1L821.3 382.6L823.9 380.1L824.7 380L822.1 384L821.6 385.4L819.6 388.7L825.1 382.8L825.2 383.4L823.5 386.3L825.6 384.5L823.6 387.8L822.3 390.1L826.5 385.9L828.4 387.5L821.9 395.1ZM823.5 396.4L833.2 385.1L835.2 386.8L828.8 394.8L836.7 386.7L837.3 386.7L831.5 394L834.8 391.1L831.1 395.9L838.9 388L837.6 390.2L837.9 390.7L839.5 389.6L839.1 390.9L840.5 390.1L840 391.5L840.8 391.4L840.5 392.4L837.4 396.5L841.4 392.9L841.8 393.3L842.4 393.3L843.1 393.4L842.6 394.7L843.6 394.3L843.7 394.9L844.2 395.2L844.4 395.8L844.9 395.9L845.1 396.5L845.8 396.5L842.3 400.8L843.2 400.6L847.2 397.3L850.6 394.6L851 395L851.1 395.6L847.4 400L851.7 396.5L852.2 396.7L852.6 397.1L850.7 399.6L850.4 400.6L853.7 398.2L854.1 398.5L854.1 399.3L854.6 399.5L854.8 400L855.3 400.3L855.9 400.5L855.9 401.2L856.6 401.2L857.1 401.5L857.1 402.2L857.6 402.4L858.2 402.6L858.3 403.3L859.7 402.7L858.9 404.1L859.1 404.6L859.9 404.6L860.5 404.7L860.6 405.4L860.8 405.9L861.3 406.2L862.1 406.2L862.2 406.8L862.2 407.5L862.7 407.8L860.1 410.7L865 407.1L863.7 409L863.8 409.5L864.7 409.5L862 412.5L865 410.6L865.2 411.1L865.5 411.5L865.4 412.3L866.4 412.2L866.4 412.8L866.6 413.3L866.9 413.8L867.3 414.2L867.2 414.9L868.1 414.9L868 415.6L868.4 415.9L869 416.2L869.4 416.5L869.7 416.9L869.8 417.5L869.9 418.1L870.4 418.4L870.6 418.9L871 419.2L871.6 419.4L871.4 420.2L872 420.4L872.3 420.9L872.6 421.3L873 421.6L873.1 422.2L874.1 422.1L874.2 422.7L874.4 423.2L874.8 423.6L874.9 424.1L875.2 424.6L875.8 424.8L875.9 425.4L876.5 425.5L876.9 426L877.2 426.3L872.9 430.1L878 427L878.3 427.5L878.2 428.2L879 428.3L879.4 428.7L879.6 429.2L879.4 430L879.8 430.3L880.2 430.7L880.3 431.2L880.9 431.4L881.3 431.8L881.3 432.5L881.6 432.9L881.6 433.5L882 433.9L882.4 434.2L882.3 434.9L883 435.1L883.7 435.2L883.3 436.2L883.2 436.8L883.7 437.2L884 437.5L884.3 438L884.5 438.5L885.1 438.7L885.2 439.3L887.3 438.6L886.4 439.7L888.8 438.9L886.8 440.7L886.8 441.3L886.8 442L887.1 442.4L883.1 445.4L888.1 443L888 443.7L888.1 444.2L888.3 444.7L888.9 445L889.2 445.4L889.7 445.7L889.7 446.3L890.1 446.7L890.1 447.4L886 450.3L890.6 448.2L890.8 448.7L891.1 449.1L891 449.8L891.9 449.9L891.8 450.6L892.4 450.9L892.5 451.4L892.7 451.9L893 452.3L892.9 452.9L893.6 453.2L891 455.1L893.3 454.5L893.9 454.8L894.8 454.9L894.3 455.8L895.5 455.7L895 456.6L895.2 457.1L896.3 457.1L896.1 457.8L896.3 458.3L896.3 458.8L896.8 459.2L896.4 460L897.5 460L897.4 460.6L897.6 461.1L897.7 461.6L898.5 461.9L898.3 462.5L897.8 463.3L898.8 463.5L896.4 465.2L896.8 465.6L896.5 466.3L897.1 466.6L896.6 467.4L896.7 467.9L897.7 468L897.5 468.6L897.9 469.1L898.1 469.5L898 470.2L898.8 470.3L898.8 470.9L896.1 472.7L896.5 473.1L899.2 472.4L899.4 472.9L899.8 473.3L899.9 473.8L900.9 473.9L901 474.5L900.4 475.3L900.6 475.8L901.2 476.1L901.8 476.4L901.6 477L902.1 477.4L901.9 478L902 478.5L902.7 478.8L902.8 479.3L902.7 479.9L903.1 480.4L903 480.9L904.2 481L903.8 481.7L904.5 482L904.6 482.5L905.4 482.8L905.1 483.5L904.7 484.2L905.5 484.4L898.4 487.6L905.1 485.7L905.7 486L906.1 486.4L900.8 488.9L907.3 487.1L907.1 487.7L907.2 488.2L907 488.8L908.7 488.8L908.2 489.5L908.4 490L905.5 491.6L908.7 491L908.6 491.6L898.4 495.6L904.1 494.2L899 496.4L907 494.3L907.8 496.8L893.1 501.5ZM893.8 503.8L906.1 500L906.8 502.4L902.4 504.3L902.4 504.8L909.1 503.4L910.8 503.4L907.1 505L909.9 504.8L906.9 506.2L903.9 507.5L903.6 508.1L907.4 507.6L903.7 509.1L911.6 507.5L911.1 508.2L907.2 509.7L911.7 509.1L911.4 509.7L910.7 510.4L911.9 510.6L908.4 512.1L909.6 512.3L912.9 512L906.3 514.2L912.8 513.1L912.9 513.6L913.4 514L912.9 514.7L912.9 515.2L913.4 515.6L913.6 516.1L913.2 516.7L913.6 517.2L914 517.6L913.8 518.2L913.2 518.8L913.5 519.3L913.9 519.7L914.3 520.2L913.7 520.8L914.6 521.2L913.9 521.8L913.5 522.5L914.4 522.8L914.7 523.3L914.6 523.8L914.9 524.3L914.6 524.9L914.7 525.4L914.8 525.9L914.8 526.4L915.3 526.8L911.7 528L915.3 527.9L915.5 528.4L915.2 529L915.4 529.5L915.8 529.9L915.4 530.5L915.6 531L915.6 531.5L916.1 531.9L916.2 532.5L916.3 533L916.4 533.5L916.3 534L916.7 534.5L917.1 534.9L916.7 535.5L916.8 536L914.1 536.9L913.3 537.6L916.8 537.6L917.1 538.1L917.1 538.6L918 539L917.6 539.6L918 540L917.7 540.6L917.4 541.2L917.9 541.6L917.7 542.2L918.1 542.6L918.3 543.1L918.1 543.7L917.9 544.2L918.4 544.7L917.5 545.3L918.5 545.7L917.9 546.3L918 546.8L918.1 547.3L918.4 547.8L918.1 548.4L918.5 548.8L918.2 549.4L918.3 549.9L917.6 550.5L916.7 551.1L918.6 551.4L918.8 551.9L914.4 552.8L919 553L919.4 553.4L918.7 554L918.5 554.5L919.1 555L918.6 555.6L918.9 556.1L918.9 556.6L919 557.1L912.9 558L919 558.1L919.2 558.6L918.9 559.2L919 559.7L919.1 560.2L919.2 560.7L916.6 561.3L919.3 561.7L919 562.3L918.8 562.8L919.3 563.3L919 563.8L919 564.3L919.3 564.9L923.2 565.3L930.2 565.6L924.3 566.3L920.2 566.9L919.7 567.4L919.7 567.9L920.2 568.5L920 569L919.9 569.5L919.7 570L919.8 570.5L921.5 571L914.3 571.6L918.8 572.1L919.2 572.6L919 573.1L919.6 573.6L919.2 574.2L919.5 574.7L919.5 575.2L916.5 575.7L919.8 576.2L920.1 576.8L919.3 577.3L919.3 577.8L919.6 578.3L919 578.8L919.2 579.3L919.2 579.8L919.5 580.4L919.1 580.9L919.1 581.4L918.9 581.9L919 582.4L919 582.9L919.2 583.5L918.7 584L918.9 584.5L919.5 585L918.6 585.5L919.4 586.1L918.8 586.5L919.6 587.1L918.4 587.6L918.3 588.1L918.8 588.6L918.8 589.1L918.2 589.6L919.2 590.2L918.5 590.7L918.8 591.2L918.3 591.7L918.2 592.2L918.4 592.7L917.9 593.2L916.1 593.6L917.7 594.2L918.1 594.8L918 595.3L914.2 595.4L917.3 596.3L918 596.9L917.5 597.3L917.5 597.8L917.6 598.4L917.4 598.9L917.6 599.4L917.9 600L917.7 600.5L917.2 600.9L917 601.4L917.2 602L911.5 601.8L917.1 603L917.6 603.6L917.2 604L916.8 604.5L917.1 605.1L916.9 605.6L912.4 605.4L917 606.6L917 607.1L917.1 607.7L916.7 608.1L916.4 608.6L912.5 608.5L915.9 609.6L916.5 610.2L916.7 610.8L916.9 611.3L916 611.7L916 612.2L915.8 612.7L915.9 613.3L915.8 613.8L916.4 614.4L915.6 614.8L915.2 615.2L915.5 615.8L915 616.2L915.2 616.8L914.9 617.3L914.1 617.7L915.2 618.4L914.2 618.7L915.3 619.5L914.5 619.8L914.7 620.4L913.9 620.8L914.1 621.3L913.7 621.8L913.1 622.2L909.3 621.9L913.6 623.3L913.2 623.8L913.3 624.3L913.6 624.9L913.3 625.4L912.8 625.8L912.5 626.3L912.8 626.9L912.6 627.3L910.6 627.4L912.4 628.3L912.8 629L912.2 629.4L912.2 629.9L911.7 630.3L912.2 631L911.5 631.3L911.5 631.9L908.1 631.5L911.5 632.9L907.9 632.5L912.6 634.3L911.3 634.5L910.8 634.9L911.7 635.6L911.8 636.2L910.7 636.5L911.4 637.2L901.7 635L902.7 635.8L910.9 638.6L910.8 639.2L904.7 638L910.5 640.2L901.4 638L904.4 639.5L900.4 638.8L899.7 641.2L893.9 639.4ZM893.3 641.3L904.2 644.8L903.4 647.2L912 650.6L905.4 648.9L902.7 648.6L901.6 648.7L910.8 652.4L907.8 651.9L910.3 653.3L905.4 652.2L911.2 654.8L909.7 654.8L909.7 655.3L905 654.2L908.3 655.9L908.9 656.7L907.2 656.7L908.8 657.8L909 658.4L909 659L908.9 659.5L908 659.7L906 659.6L908.7 661.1L907.7 661.3L907 661.6L902.6 660.5L906.9 662.7L906.4 663.1L906.7 663.8L906.3 664.2L906.2 664.7L906 665.2L905.8 665.6L905.2 666L906 666.9L905.4 667.2L905 667.6L904.3 667.9L904.7 668.6L903.9 668.8L903.9 669.4L903.8 669.9L903.9 670.6L905.4 671.8L903.2 671.4L902.8 671.8L902.7 672.3L902.8 672.9L902.3 673.3L902.1 673.8L901.8 674.2L901.8 674.8L901.3 675.1L901.3 675.7L900.5 676L903.2 677.8L905.6 679.5L902.2 678.4L900 678L899.8 678.5L899.6 679L894.2 677L898.3 679.6L898.3 680.1L898.5 680.8L898.5 681.4L898 681.7L897.7 682.1L897.6 682.7L897.1 683L894.7 682.4L896.8 684L895.1 683.8L896.7 685.2L896.4 685.6L896.2 686.1L895.6 686.4L895.6 687L895.5 687.5L895.6 688.2L895.2 688.6L895.1 689.1L894.5 689.3L894.2 689.8L893.9 690.2L888.9 688.1L893.3 691.1L893.6 691.9L893 692.1L892.3 692.3L888.2 690.7L892.7 693.8L891.8 693.9L892.2 694.7L891.6 694.9L891.5 695.5L890.9 695.8L890.8 696.3L890.8 696.9L889.8 697L889.6 697.5L889.6 698.1L888.7 698.1L888.5 698.6L888.4 699.2L888.2 699.7L888.2 700.3L887.9 700.7L887.4 701L887.5 701.7L887.1 702.1L886.6 702.4L883.7 701.2L884.6 702.3L886 703.8L885.3 704L885.1 704.5L884.9 705L884.9 705.6L885.1 706.4L884.3 706.5L879.9 704.3L883.9 707.5L883.8 708.1L883.8 708.7L881.6 707.9L883.5 709.7L882.7 709.8L882.4 710.3L882.1 710.7L882 711.3L881.9 711.9L881.8 712.4L885.1 715.3L884.8 715.7L880.7 713.5L880.5 714.1L880.2 714.5L879.7 714.8L881.8 716.9L878.7 715.4L878.4 715.8L878.3 716.4L877.6 716.5L873.9 714.5L877.2 717.5L877.2 718.2L876.6 718.4L876 718.6L876 719.2L875.8 719.7L875.3 720.1L874.7 720.3L874.5 720.7L874.5 721.4L873.9 721.6L874 722.4L873.1 722.3L872.8 722.8L872.8 723.4L872.2 723.6L872 724.2L871.6 724.5L871.7 725.2L871.5 725.7L870.7 725.8L870.3 726.2L868.1 725.1L870 727.3L869.3 727.3L869.2 727.9L869 728.5L868.8 728.9L868.4 729.3L870.5 731.7L867.6 730L867 730.2L866.7 730.7L866.6 731.2L866 731.5L866 732.1L865.7 732.6L865.1 732.7L865.1 733.4L864 733.2L864.1 734L863.6 734.3L863.6 734.9L863 735.1L862.8 735.6L862.2 735.8L862.4 736.6L861.6 736.7L861.6 737.3L861.4 737.8L861 738.2L860.8 738.7L861.6 740.2L859.7 739.1L859.4 739.7L858.7 739.7L858.5 740.2L858.2 740.6L854 737.5L857.6 741.5L857 741.7L857 742.4L856.4 742.6L856.3 743.2L855.9 743.6L855.5 743.9L854.9 744L854.7 744.6L854.3 744.9L854.1 745.4L853.6 745.6L851.3 744.2L852.9 746.5L852.7 747.1L852 747.1L851 746.8L851.7 748.3L851.2 748.5L850.8 748.8L850.2 749L846.1 745.6L849.8 750L849.3 750.3L849.2 750.9L845.6 748L848.3 751.5L848 752L847.5 752.2L847 752.5L846.8 753L846 753L846.1 753.7L845.7 754.1L845.3 754.4L845 754.9L842.6 753.2L844.5 755.9L844 756.2L843.5 756.5L841.3 754.8L839.8 754L841.9 757L841.8 757.7L837.2 753.3L841.2 758.5L841 759.1L840.8 759.7L840.3 760L835.7 755.5L839.4 760.5L839.7 761.7L837.6 760.1L838.1 761.4L838.4 762.5L837.9 762.8L834.7 759.9L834.1 760L833.4 760L836.3 764.2L835.4 763.9L825.9 753.4L824 755L819.8 750ZM818.3 751.3L830.3 766.1L828.2 767.7L824.7 764.1L823.2 762.9L825.4 766.6L823.2 764.6L825 767.8L821.2 763.7L827 772.2L820.4 764.4L822.2 767.6L825 772.1L823.2 770.6L825.2 774.2L824.2 773.7L823 773L823.4 774.4L822.4 774L821.9 774.1L822.1 775.4L821.2 774.9L820.9 775.4L820 775.1L820.1 776.2L819.8 776.7L818.9 776.3L818.8 777.1L817.9 776.7L816.7 775.9L817.3 777.7L816.9 778L816.3 778.1L815.8 778.3L815.5 778.8L814.7 778.5L814.4 779L814.1 779.5L812.3 777.8L813.3 780.3L812.8 780.5L812.2 780.5L811.9 780.9L811.5 781.3L810.8 781.2L810.6 781.8L810.4 782.5L809.9 782.7L809.5 783.1L808.9 783.1L805.7 779.2L808.4 784.4L805 779.9L807 784L806.7 784.7L806 784.5L805.8 785.1L805.1 785.1L803.7 783.8L804.3 785.7L803.7 785.8L803.5 786.4L803 786.6L802.8 787.3L802.2 787.3L801.6 787.3L801.2 787.7L800.4 787.4L800.2 788.1L799.8 788.5L799 788.2L798.6 788.4L798.2 788.9L797.8 789.3L797.8 790.2L797 789.9L796.6 790.3L796 790.3L795.5 790.5L795.2 791L794.6 791.1L794.1 791.3L793.6 791.5L793.3 792L792.6 791.8L791.3 790.5L792.1 793L791.7 793.4L791 793.2L790.5 793.4L790.2 793.9L789.4 793.6L789.1 794.1L788.3 793.8L788.3 795L787.8 795L787.3 795.3L785.5 792.8L786.5 795.9L784.7 793.6L785.3 795.9L783.2 793L784.3 796.3L783.8 796.5L783.6 797.3L783.1 797.4L782.4 797.2L782 797.5L781.5 797.8L781 797.9L780.7 798.4L778.6 795.3L779.6 798.6L779.3 799.2L778.7 799.2L778.3 799.6L777.6 799.3L777.2 799.8L776.7 799.9L776.3 800.3L776.1 801L775.6 801.3L774.7 800.7L774.4 801.1L774 801.7L773.5 801.8L772.8 801.4L772.7 802.5L772.1 802.5L771.6 802.7L771.2 803.1L770.7 803.3L770.1 803.2L769.7 803.5L769.1 803.6L768.7 804L768.3 804.3L767.8 804.5L767.3 804.8L766.9 805.2L766.4 805.3L765.9 805.5L765.3 805.5L764 803.6L764.5 806.2L764.9 808.9L765.3 811.2L763.4 807.7L762.4 806.7L761.9 806.8L761.4 807.1L760.7 806.7L760.4 807.2L759.6 806.7L759.3 807.4L758.8 807.7L758.3 807.6L757.8 807.8L757.2 807.9L756.9 808.6L756.3 808.5L755.7 808.3L755.4 809L754.7 808.6L753.2 805.9L753.8 809.4L753.3 809.2L752.8 809.6L752.3 809.8L751.8 809.7L751.4 810.3L751 810.7L750.5 811L749.9 810.9L749.5 811.4L748.8 810.8L748.4 811.4L747.9 811.6L747.3 811.2L746.8 811.6L746.2 811.3L745.9 812.1L746.6 816.4L744.7 811.9L744.4 812.6L743.9 812.7L743.3 812.8L742.7 812.6L742.3 813.2L741.9 813.4L740.2 809.4L740.8 813.6L740.2 813.5L739.8 813.8L739.3 814.1L738.9 814.6L738.3 814.4L737.7 814.1L737.3 814.7L736.8 814.8L736.3 815L735.8 815.2L735.3 815.3L734.7 815.2L734.2 815.4L733.7 815.5L733.3 816L732.6 815.5L732.1 815.5L731.5 815.4L731.1 815.8L730.4 815.3L730.1 816.3L729.6 816.5L729 816.3L728.4 816L728 816.8L726.2 810.8L727.1 817.2L725.7 813.3L725.9 817L725.5 817.6L725 817.7L724.5 817.9L723.9 817.5L723.4 817.8L722 813.4L722.4 817.9L721.7 817.1L721.3 817.8L720.8 818L719.3 813L719.8 818.5L719.3 818.8L718.8 819L718.2 818.4L717.9 820L716.7 816.3L715.6 813.1L715.6 815.9L715.6 819.3L715.1 819.4L714.8 820.9L713.9 818.2L713.6 820.1L712.8 818.4L712.5 819.9L712.2 821.3L711.1 817.3L710 813.9L710.8 822.5L708.5 810.4L706 810.8L704.6 800.5ZM702.8 800.8L705.5 821.8L702.9 822.1L700.9 809.7L701.4 818.5L701.2 821.6L700 815L700.1 821.2L698.8 813.9L698.6 817L698.6 821.8L698.1 822L697 816.8L697 822L696.4 820.7L695.4 816.1L695.4 821.1L694.9 822.1L693.8 815.3L693.8 820.8L693.2 820.7L692.7 820.8L692.3 821.8L691.7 821.3L691.2 821.6L690.7 821.4L690 820.1L689.2 815.9L689 820.7L688.6 821.7L688 821.7L687.5 821.6L687 821.2L686.5 821.8L686 821.7L685.4 821.7L684.9 821.4L684.4 821.4L683.9 822L683.4 822.2L682.8 821.8L682.3 821.9L681.8 821.7L681.3 822.4L680.7 822.2L680.2 821.8L679.7 822L679.1 821.8L678.6 822.1L678.1 822.2L677.6 822.5L677.1 821.9L676.5 822.2L676 821.9L675.5 822.7L675 822L674.4 822.4L673.9 822.2L673.4 821.4L672.9 822.5L672.3 821.8L671.8 822.1L671.3 822.2L670.8 821.9L670.3 821.9L669.7 822L669.2 821.8L668.7 822.3L668.2 822.5L667.6 821.9L667.1 822L666.6 822L666.1 821.8L665.5 822.2L665.2 815.9L664.5 821.7L664.1 819.4L663.5 821.7L662.9 822.2L662.4 821.8L661.9 821.8L661.5 819.1L660.8 821.8L660.3 821.8L659.8 822L659.3 821.4L658.8 821.5L658.2 821.6L657.7 821.5L657.2 821.7L656.7 821.5L656.2 821L655.6 821L655.1 821.1L654.6 821.5L654 821.6L653.5 821.1L653 821.4L652.5 821.1L651.9 821.3L651.4 821L651 820.7L650.4 820.7L649.9 820.9L649.4 820L648.9 820.6L648.3 821.2L647.8 820.2L647.3 820.4L646.9 819L646.2 820.4L645.6 821.1L645.2 820L644.7 820.2L644.1 820.8L643.6 820.4L643.1 820.7L642.5 820.5L642.1 820.2L641.5 820.1L641 820.1L640.5 819.9L639.9 820.2L639.5 819.9L639 819.6L638.3 820.3L637.9 819.7L637.5 819L636.8 819.9L636.4 818.9L636 817.9L635.3 819.3L634.8 819.3L634.2 819.6L633.8 818.9L633.1 819.6L632.7 819.1L632.5 817.3L631.6 819.2L631.2 818.6L630.7 818.4L630 819L629.5 819.1L629.1 818.4L629.4 813.8L628.1 818.2L628.3 813.8L627 817.9L626.5 817.9L626 817.7L625.5 817.4L625 817.4L624.4 817.8L623.9 817.7L623.4 817.3L622.9 817.1L622.4 817L623 811.6L621.3 817.2L620.8 816.9L620.7 814.9L619.9 816.3L619.2 816.9L618.8 816.3L618.2 816.5L617.8 816.2L617.2 816.2L617 814.7L616.3 815.6L615.6 816.2L615.1 816L614.6 815.8L614.1 815.6L613.6 815.7L612.2 818.9L611.2 820.9L611.8 816.5L611.6 814.9L611.2 814.6L610.6 814.5L610.2 814.2L609.6 814.4L609.2 813.7L608.6 813.9L608.1 813.7L607.6 813.6L607.4 812.3L606.7 813.1L606.2 812.9L605.6 813.1L606.5 807.8L604.7 812.4L604.1 812.6L603.5 812.8L603.1 812.3L602.5 812.3L601.9 812.5L601.5 812.1L600.9 812.4L600.5 811.8L599.9 812.1L599 813L598.7 812.2L598.5 811.3L597.9 811.3L597.1 812L597.1 810.3L596.3 811.3L596.5 808.8L595.4 810.4L594.7 811L596.2 804.7L594.6 808L593.1 810.7L592.4 811.3L589.9 810.5L597 789.9ZM595.3 789.2L593.3 794.8L591 794L586.2 805.4L585.9 804.7L588.8 795.6L586.4 800.5L584.1 805L587.3 795.4L583.5 803.8L585.9 796.2L582.6 803.1L582.3 802.6L583.3 798.5L584.3 794.7L583 796.5L583.2 794.6L582 796.4L579.3 801.6L578.3 802.7L577.9 802.2L577.7 801.4L577 801.8L576.6 801.2L577.2 798.6L575.7 800.8L575.3 800.4L576.8 795.5L574.5 799.5L574 799.4L573.6 799.1L573 799.2L572.4 799.3L572 798.8L571.6 798.5L570.8 798.9L570.4 798.5L570.1 797.8L569.7 797.6L569.2 797.4L568.7 797.2L568 797.4L567.6 797.1L567 797.1L566.6 796.7L566.4 796L565.8 795.9L565.3 795.9L564.8 795.6L564.4 795.3L564.1 794.8L563.6 794.5L563 794.6L562.5 794.4L562.1 794.1L563.6 789.9L561.9 792.2L560.7 793.4L560.1 793.4L559.8 793L559.3 792.7L558.7 792.7L558.5 791.9L557.9 792.1L559.1 788.7L557 791.5L556.5 791.3L556.3 790.6L555.7 790.5L557.9 785.3L554.7 790.3L554.3 789.8L553.8 789.7L553.6 789.1L555.5 784.5L552.3 789.3L552 788.6L551.7 788.2L551.3 787.8L550.9 787.5L550.1 787.8L549.8 787.3L549.3 787L548.9 786.7L548.5 786.4L548 786.3L547.7 785.8L546.9 786L546.5 785.7L546.1 785.3L545.5 785.3L545.5 784.3L546.3 782L544.2 784.4L543.4 784.7L543.3 784L542.9 783.6L542.7 782.8L542.1 782.9L541.9 782.2L541.4 782L540.9 781.8L540.6 781.4L540.2 781L539.5 781.1L538.9 781.1L538.4 780.9L538.1 780.3L537.7 780L537.3 779.7L536.9 779.5L536.6 778.9L536.2 778.6L535.7 778.4L535.3 778L535.1 777.5L534.6 777.3L534.2 776.8L533.7 776.7L532.7 777.3L529.4 781L528.8 781.1L531.4 776.3L531.7 775L534.2 770.5L530.6 774.7L530 774.7L529.4 774.6L529.1 774.2L528.5 774.1L527.9 774L527.5 773.7L527.6 772.7L527.1 772.5L526.4 772.5L526.1 772.1L525.6 771.8L525.2 771.5L524.7 771.4L524.3 771.1L523.7 770.9L524.3 769.3L523 770.1L522.9 769.4L522.1 769.6L521.9 769L521.6 768.6L521.3 768.1L520.8 767.9L520.4 767.5L520.2 767L519.2 767.3L518.9 766.9L519.3 765.6L518.1 766.3L517.7 765.9L517.4 765.5L516.6 765.6L516.5 764.9L516.1 764.5L515.7 764.3L515.4 763.7L514.7 763.8L514.4 763.3L514.2 762.8L513.8 762.5L513.3 762.2L512.9 761.9L513 760.9L512.4 760.9L512 760.5L511.4 760.5L511.1 760L510.6 759.8L510.4 759.2L512.4 756.2L509.1 759.1L512.9 753.9L508.4 758.3L512.7 752.7L508 757.2L507.1 757.4L511.6 751.6L505.8 757.2L509 753L505.6 755.9L505.2 755.6L504.8 755.2L505.5 753.8L502.9 755.8L505.5 752.2L510.3 746.3L507.5 748.6L502.7 752.9L508.3 746.2L502.9 751.2L507.2 745.9L507.9 744.4L506.1 742.7L511.7 737ZM510.3 735.7L496.1 750L494.2 748.2L496.4 745.3L494.9 746.1L492.5 747.7L494.8 744.7L496.2 742.6L491.6 746.3L498.6 738.9L491.3 745.2L497.2 738.8L493 742.1L490.2 744L489.4 744L489.5 743.3L489.7 742.4L489.8 741.5L488.8 741.8L488.3 741.5L488.3 740.8L487.4 740.8L487.1 740.4L488 738.9L486.5 739.6L486.7 738.7L490.5 734.6L486 737.9L485.3 737.8L485 737.4L489.5 732.7L484.1 736.7L483.6 736.5L484.2 735.3L483.5 735.2L480.9 736.8L482.6 734.6L482.2 734.3L482.3 733.5L482.1 733L481.9 732.5L481 732.5L484.1 729.3L480.3 731.7L480.2 731.2L479.7 730.9L482 728.3L479 730.1L478.5 729.8L478.5 729.2L478.1 728.8L477.9 728.3L476.9 728.5L475.7 728.7L476.6 727.3L476.2 726.9L475.8 726.6L475.8 726L475.1 725.8L474.8 725.4L474.3 725.1L473.8 724.8L473.7 724.3L473.5 723.7L473.2 723.3L473 722.8L472.1 722.8L472.2 722.1L471.9 721.7L471.5 721.3L471.2 720.9L471 720.4L470.8 719.9L470.3 719.6L470.7 718.7L470.2 718.3L470 717.9L469.2 717.8L469.1 717.2L466 718.8L463.6 719.8L466.9 716.9L468.1 715.4L468 714.8L467.2 714.7L466.8 714.3L467 713.5L466.9 713L467.8 711.7L466.5 712L465.3 712.2L465.2 711.6L465.1 711L465 710.5L464.5 710.2L463.7 710.1L463.6 709.5L463.4 709L463.3 708.5L462.8 708.2L462.3 707.9L461.8 707.6L461.8 707L461.4 706.6L461.4 705.9L461.4 705.3L461.2 704.8L460.9 704.4L460.1 704.3L460.3 703.6L459.6 703.4L459.4 702.9L459 702.5L458.8 702L459 701.3L458.4 701L457.4 701L454.9 701.9L457.7 699.6L457.1 699.4L457.1 698.7L456.4 698.5L456.2 698.1L455.8 697.7L456.1 696.9L455.8 696.5L455.5 696.1L455.8 695.3L454.7 695.3L454.8 694.6L454.8 694L453.8 694L454.2 693.2L453.7 692.8L453.6 692.3L453.3 691.9L453.1 691.4L452.2 691.3L452.3 690.6L452.1 690.1L451.9 689.6L451.7 689.2L451.9 688.5L451.6 688L450.7 687.9L450.5 687.4L450.6 686.8L450.5 686.2L450.2 685.8L450.1 685.3L449.6 684.9L449.7 684.3L449.1 684L448.7 683.6L448.6 683.1L448.2 682.7L450.9 680.8L448.4 681.4L447.8 681.2L447.1 680.9L451.7 678.1L447 679.8L446 679.7L446.7 678.8L446.8 678.2L446.3 677.8L444.9 677.9L452.9 673.6L450.6 674.1L451.9 672.9L444.5 675.7L453 671.3L452.3 671.1L455.4 669.1L447.1 672.3L446 669.9L461 663.4ZM460.3 661.7L448.1 666.8L447.2 664.5L452.7 661.6L444.5 664.4L441 665.3L443.6 663.7L440.1 664.5L439.9 664L440.1 663.4L439.9 662.9L446.7 659.7L440.7 661.5L441 660.8L453.7 655.4L445.9 657.8L449.4 656L446 656.7L437.5 659.3L437.7 658.7L443.1 656.2L438.1 657.4L445.5 654.2L451.5 651.5L436.9 656.2L445.3 652.6L436.5 655.2L440.5 653.3L439.7 653L448.3 649.5L435.8 653.2L442.1 650.5L435.7 652.2L435.1 651.8L441.6 649.1L440.5 648.9L442.2 647.8L435 649.6L442.7 646.6L434.7 648.6L434.5 648.1L434.3 647.7L433.7 647.3L433.6 646.8L433.7 646.2L434.4 645.4L433.4 645.2L433.5 644.6L433.2 644.1L432.7 643.7L432.8 643.2L432.4 642.7L432.6 642.1L436.8 640.4L432.4 641.1L431.4 640.8L431.8 640.2L431.4 639.8L431.1 639.3L431.1 638.8L431.4 638.1L431.3 637.6L430.8 637.2L430.4 636.7L430.5 636.2L426.1 636.8L425.7 636.4L429.4 634.8L430.3 634.1L430.4 633.5L430 633.1L429.9 632.5L432.4 631.4L429.5 631.5L429.7 631L429.4 630.5L429.1 630L433 628.6L429.3 628.9L429.2 628.4L429.3 627.8L428.6 627.4L428.8 626.9L428.6 626.4L428.3 625.9L428.1 625.4L427.8 624.9L428.8 624.2L427.9 623.8L427.5 623.4L427.4 622.9L427.2 622.4L427.3 621.8L427.3 621.3L427.4 620.7L427.7 620.1L427.1 619.7L427.3 619.1L426.9 618.7L427.1 618.1L427.2 617.6L426.8 617.1L426.6 616.6L426.4 616.1L426.3 615.6L425.9 615.1L428.4 614.2L426.1 614L427.7 613.2L425.8 613L425.6 612.5L425.7 612L425.7 611.4L425.3 611L425.2 610.5L425 610L425.1 609.4L424.9 608.9L425 608.4L425 607.8L424.8 607.3L425 606.8L424.5 606.3L424.9 605.7L424.8 605.2L424.2 604.8L427.4 603.8L424.1 603.7L424.7 603.1L424 602.7L424.2 602.1L424 601.6L424.6 601L423.6 600.6L423.9 600L423.8 599.5L423.4 599L424 598.4L423.9 597.9L423.7 597.4L423.5 596.9L423.2 596.4L423.3 595.9L423 595.4L430.6 594.1L426.9 594L423.8 593.7L423.4 593.2L422.9 592.7L423.6 592.2L424 591.6L432.3 590.4L431.3 590L421.7 590.2L422.9 589.6L427.5 588.7L421.1 588.6L425.3 587.9L425.3 587.3L434.7 586.2L433.6 585.8L432.3 585.4L425.5 585.2L425.4 582.6L442.2 581.9ZM442.1 579.8L427 580.4L426.9 577.8L428.8 577.2L428 576.7L425.3 576.3L425 575.8L425.5 575.2L424.4 574.7L433.8 574.1L426.8 573.7L426.3 573.2L425.1 572.6L425.6 572.1L424.5 571.6L433.4 571.1L424.6 570.6L431.2 570.1L425.1 569.5L425.9 569L426.4 568.5L425.5 568L426.4 567.5L426.1 566.9L429.8 566.5L426.3 565.9L426 565.4L426.6 564.9L426.4 564.3L426 563.8L425.9 563.3L426.3 562.8L426.4 562.3L426.5 561.8L426 561.2L426.2 560.7L427 560.2L427.1 559.7L428.1 559.3L426.8 558.7L426.5 558.1L426.9 557.6L426.8 557.1L427.1 556.6L429.1 556.2L427.7 555.6L427.3 555.1L427.5 554.6L426.7 554L427 553.5L427 553L426.9 552.4L427.2 552L427.1 551.4L427 550.9L427.2 550.4L427.3 549.9L427.4 549.4L427.5 548.9L427.6 548.4L427.4 547.8L427.4 547.3L427.5 546.8L432.2 546.7L427.5 545.7L427.5 545.2L428 544.8L427.9 544.2L427.9 543.7L427.4 543.1L429.6 542.9L427 542L427.4 541.5L427.6 541.1L427.4 540.5L427.5 540L427.5 539.5L427.8 539L428.1 538.5L427.9 537.9L428.3 537.5L428.1 536.9L428.3 536.4L428.7 536L428.5 535.4L428.8 534.9L428.3 534.3L424 533.1L420.1 532L426.5 532.5L429.3 532.4L429.4 531.9L429.2 531.3L429.3 530.8L429.1 530.3L429.3 529.8L429.3 529.2L431.2 529L429.6 528.2L429.8 527.7L429.5 527.2L430.4 526.8L429.6 526.1L430.2 525.7L430.6 525.2L430.3 524.7L430.5 524.2L431.1 523.8L431.2 523.3L431.2 522.7L431.4 522.2L431.3 521.7L431.5 521.2L430.9 520.6L431.3 520.1L431.9 519.7L431.9 519.2L431.8 518.6L431.4 518L432.5 517.7L432.4 517.2L432.9 516.7L432.3 516.1L433 515.7L433.5 515.3L433 514.6L433.1 514.1L433.5 513.7L432.9 513L433 512.5L433.1 512L433.5 511.6L433 510.9L435.8 511.1L433.5 510L441.4 511.5L436.1 509.6L433.8 508.4L434.4 508.1L434.3 507.5L434.9 507.1L433.8 506.3L434.7 506L434.8 505.5L435.4 505.1L434.7 504.4L443.8 506.4L437 503.9L434.7 502.7L445.5 505.4L441.9 503.8L442.8 503.5L443.5 501.1L452.2 503.8ZM453 501.4L438.2 496.6L439 494.2L444.5 495.5L437.8 492.7L443.4 494L445.2 494.1L438.2 491.2L445.4 493.1L447 493.1L443.4 491.3L440.6 489.8L440.9 489.4L440.1 488.5L440.2 488L448.7 490.5L440.2 486.9L441.3 486.8L442.2 486.6L441.7 485.8L444.8 486.4L441 484.4L441.7 484.1L442 483.7L442.1 483.2L442.7 482.8L442.4 482.2L442.5 481.7L443.2 481.4L443.3 480.9L443.8 480.5L443.7 479.9L443.5 479.3L444 478.9L444.6 478.6L444.2 477.9L444.9 477.6L445.4 477.2L445.2 476.6L445.1 476L444.7 475.3L445.8 475.2L446.1 474.7L446 474.1L446.4 473.8L446.2 473.1L445.4 472.2L447 472.3L447.2 471.8L447.5 471.4L447.4 470.8L448.4 470.7L448.7 470.2L448.3 469.5L448.7 469.1L448.9 468.6L449.2 468.2L449.5 467.8L449.2 467.1L449.9 466.8L452.4 467.4L450.1 465.7L450.1 465.2L450.4 464.8L450.1 464L451 463.9L453.4 464.5L451.3 462.9L451.4 462.4L452 462.1L451.3 461.2L452.4 461.1L452.6 460.7L452.8 460.2L453 459.7L453 459.1L456.7 460.4L453 457.9L456.4 459.1L453.9 457.2L454.2 456.8L454.4 456.3L454.2 455.6L451.8 453.8L461 458.1L454.6 454.1L456.7 454.6L456.7 454.1L457.1 453.7L455.3 452.1L457.6 452.8L457.8 452.3L457.7 451.6L463.7 454.4L457.3 450.2L458.9 450.5L459.4 450.2L466.8 453.8L458.6 448.6L460 448.8L460.3 448.4L460.5 447.9L458.3 446L458.6 445.5L456.1 443.5L462.1 446.4L462.1 445.8L459.6 443.8L459.1 442.8L462.8 444.4L463.1 444L463 443.3L462 442.1L462 441.5L464.3 442.3L467.8 443.9L465 441.6L464.9 440.9L465.7 440.8L465.2 439.9L465.6 439.5L466.3 439.4L461.2 435.5L466.1 438L466.7 437.8L467.1 437.4L467.3 436.9L467.6 436.5L465.7 434.6L468.1 435.6L471 436.9L470.9 436.2L469.6 434.8L475 437.8L467.1 431.8L471.5 434.1L471.3 433.4L470.6 432.3L470.5 431.6L469.5 430.3L472.3 431.6L472.7 431.2L473.4 431.1L474.8 431.5L469.1 426.8L477.7 432.3L477.6 431.6L473.6 428.1L474.5 428.1L476.1 428.7L475.9 427.9L478.2 428.9L483.9 432.5L474.7 425.1L481.6 429.6L479.9 427.7L475.4 423.7L478.3 425.2L475.7 422.6L477.3 420.6L490.2 430.5ZM491.6 428.7L483.8 422.6L485.4 420.6L486.5 420.8L486.7 420.4L489.4 421.9L486.4 418.8L487.8 419.3L487.7 418.6L487.3 417.6L488.1 417.5L487.7 416.6L483.8 412.6L489.7 416.9L489.8 416.3L489 415L489.8 415L491.4 415.7L490.4 414.2L490.9 414L494.2 416.2L491 412.7L492.7 413.5L493.7 413.7L492.7 412.2L492.1 410.9L492.9 411L491.8 409.3L494.7 411.3L498.3 413.8L493.7 409L493.1 407.8L495.8 409.5L495 408.1L495.2 407.6L494.5 406.3L499.9 410.6L496.8 407L497.5 407L496 404.9L495.4 403.6L499.1 406.4L498.8 405.4L498.5 404.4L500.1 405.2L498.7 403.2L502 405.7L500.6 403.6L500.3 402.6L502.2 403.8L502 402.9L502.1 402.3L502.7 402.1L503.2 402L498.6 396.6L502.8 400L502.9 399.4L504.8 400.7L504.1 399.2L505.9 397.4L513.1 405ZM514.7 403.4L511.5 400L513.3 398.3L513.5 397.8L514 397.6L504.7 386.7L515 397.3L515.2 396.8L515.6 396.4L516.1 396.3L516.4 395.9L516.9 395.7L517.1 395.2L517.4 394.7L518 394.7L518.1 394L518.7 394L515.7 389.7L513.8 386.7L519.9 393L520.2 392.7L520.6 392.4L520.6 391.6L510.5 378.8L520.6 390L511 377.8L517.9 385.3L517.9 384.4L523.1 390L522.8 388.9L523.9 389.3L523.9 388.6L524.6 388.7L524.9 388.3L525.3 388L525.6 387.6L525.9 387.2L521.6 380.9L526.7 386.6L527.2 386.4L528 386.5L528.4 386.2L528.2 385.2L529.1 385.6L529.5 385.3L529.8 384.9L530.2 384.6L530.6 384.2L531 384L531.2 383.4L524.5 373.7L530.4 380.7L532.3 382.4L532.4 381.8L533.1 381.9L533.8 382L533.5 380.8L534.7 381.5L535.1 381.2L535.5 380.9L529.2 371.4L529.7 371.1L536.4 379.6L536.7 379.2L537 378.9L537.8 379.1L538 378.4L531.9 368.8L538.9 378.1L539 377.3L539.7 377.4L539.2 375.9L540.6 377L540.8 376.5L541.2 376.2L541.8 376.2L542.2 375.8L542.7 375.8L543 375.3L543.6 375.3L543.7 374.6L540.1 368.2L540.1 367.1L545 373.9L545.4 373.5L546 373.5L541.7 365.8L546.5 372.4L543 366L547.3 371.8L547.9 371.9L548.3 371.6L549 371.7L548.8 370.5L549.7 371L550.1 370.8L549.9 369.5L551.1 370.5L550.7 368.9L551.9 370L552.3 369.6L552.3 368.6L553.2 369.2L553.3 368.3L554 368.6L554.1 367.8L554.2 367L555.1 367.5L555.6 367.4L556.2 367.4L556.5 367.1L556.5 366L554.7 361.8L557.8 366.3L558.3 366.1L558.1 364.7L559 365.4L559.5 365.2L559.8 364.8L560.4 364.8L562.6 363.6L564.7 367.7ZM566.5 366.7L564.4 362.7L566.6 361.6L567.1 361.5L567.4 361L567.8 360.6L568.5 360.9L568.9 360.7L568.8 359.4L569.4 359.4L570.3 360.1L570.5 359.5L570.9 359.1L571.5 359.2L572 359.2L572.4 358.9L572.6 358L573 357.7L571.6 353.7L565.5 339.1L572.6 353.3L575.2 357.7L575.5 357.2L575.8 356.7L576.3 356.6L576.7 356.3L577.4 356.7L577.7 356.1L578.2 356.1L572 340.5L579.1 355.5L579.6 355.4L579.8 354.7L580.4 354.9L580.9 354.8L581 353.8L581.7 354.1L582.2 353.9L582.7 354L583.2 353.9L583.8 354L584.2 353.7L584.4 352.9L585.2 353.4L587.5 352.5L589 356.5ZM591 355.8L589.4 351.6L591.7 350.7L592.2 350.7L592.7 350.5L592.9 349.8L591.5 344.3L592.7 346.1L593 345.4L589.3 333.5L595.4 349.4L595.9 349.1L593.2 339.8L596.8 348.8L597.2 348.4L597.5 347.8L598.1 348.1L598.6 348.1L599 347.7L599.5 347.7L600.1 347.8L600.6 347.6L597.2 335.6L601.4 346.9L601.9 347L600.1 339.5L602.9 346.8L603.3 346.3L605.6 345.6L607 350.3ZM608.5 349.9L607.1 345.1L609.4 344.4L610.1 344.8L610.6 344.8L608.4 334.7L611.6 344.5L609.8 336.2L610.4 336.1L610.1 332.9L613.5 344.1L614 343.9L614.4 343.4L614.9 343.6L615.2 342.5L615.9 343.5L616.3 342.7L616.9 343.1L617.1 341.7L617.8 342.6L618 341.6L618.8 342.6L619.3 342.6L619.6 341.5L620.1 341.6L620.8 342.2L623.2 341.6L624.1 345.9ZM625.8 345.6L623.6 335.1L626.1 334.6L626.8 335.4L628.2 340.2L628.7 340.5L628.1 334.4L628.9 336.3L629.1 334.4L630.6 340L631 339.2L631.3 338.3L631.9 339.1L632.5 339.3L633 339.4L631.7 329.2L633.7 338.2L634.4 339.1L634.9 339.4L635.4 339.5L637.9 339.1L638.5 343.3ZM640.2 343L639.5 338.2L642 337.8L642.3 336.4L642.8 337.1L643.4 337.5L643.8 336.8L644.3 337.3L643.4 325.3L645.2 336.5L645.7 336.4L646.2 336L646 330L648.5 329.7L649.7 341.9Z" fill="#A1D99B" stroke="#3F9E5B" stroke-width="0.8" stroke-linejoin="round"/>
<path d="M673.5 337.7 A234 234 0 0 1 822 391.3 L807 409.4 A210.5 210.5 0 0 0 673.4 361.2ZM827.3 395.8 A234 234 0 0 1 895.2 498.2 L872.9 505.6 A210.5 210.5 0 0 0 811.8 413.4ZM897.4 505.2 A234 234 0 0 1 897.4 637.9 L874.9 631.3 A210.5 210.5 0 0 0 874.8 511.9ZM895.4 644.6 A234 234 0 0 1 823.6 750.8 L808.5 732.8 A210.5 210.5 0 0 0 873 637.2ZM818.3 755.1 A234 234 0 0 1 707.4 803.2 L703.9 779.9 A210.5 210.5 0 0 0 803.7 736.7ZM700.7 804.1 A234 234 0 0 1 598.4 793.5 L605.9 771.2 A210.5 210.5 0 0 0 697.9 780.7ZM592 791.2 A234 234 0 0 1 511.3 740.9 L527.6 723.9 A210.5 210.5 0 0 0 600.1 769.2ZM506.5 736.1 A234 234 0 0 1 459.2 666.9 L480.7 657.3 A210.5 210.5 0 0 0 523.2 719.6ZM456.5 660.6 A234 234 0 0 1 439.3 584.5 L462.8 583.2 A210.5 210.5 0 0 0 478.3 651.7ZM439.1 577.5 A234 234 0 0 1 448.6 505.2 L471.2 511.9 A210.5 210.5 0 0 0 462.6 576.9ZM450.9 498.1 A234 234 0 0 1 486.3 430.6 L505.1 444.8 A210.5 210.5 0 0 0 473.2 505.5ZM490.8 424.9 A234 234 0 0 1 509.3 404.5 L525.7 421.3 A210.5 210.5 0 0 0 509.1 439.7ZM514.5 399.6 A234 234 0 0 1 561.1 366.2 L572.4 386.8 A210.5 210.5 0 0 0 530.4 416.9ZM567.3 362.9 A234 234 0 0 1 585.6 354.6 L594.4 376.4 A210.5 210.5 0 0 0 577.9 383.9ZM592.2 352.1 A234 234 0 0 1 603.8 348.2 L610.8 370.6 A210.5 210.5 0 0 0 600.3 374.1ZM610 346.3 A234 234 0 0 1 621.1 343.5 L626.3 366.4 A210.5 210.5 0 0 0 616.3 369ZM627.6 342.1 A234 234 0 0 1 635.6 340.7 L639.4 363.9 A210.5 210.5 0 0 0 632.1 365.2ZM642.2 339.7 A234 234 0 0 1 647 339.1 L649.6 362.5 A210.5 210.5 0 0 0 645.3 363Z" fill="#EDF8E9"/>
<path clip-path="url(#cl6)" d="M671.3 364.2L671.1 350.2L673.5 350.2L673.9 360.7L674.4 350.5L674.8 350.8L675.3 348L675.8 350.1L676.3 349.7L676.7 349.7L677.2 350.9L677.6 353.5L677.9 358L678.6 350.6L678.9 355.4L679.3 356.7L679.7 358.2L680.4 349.4L680.9 350L681.3 350.1L681.8 350.2L682 356.1L682.7 350.3L683.1 353L683.6 351L684.1 350.5L684.4 353.5L685 351.3L685.5 350.7L686 350.4L686.4 350.6L686.9 350.8L687.3 350.9L687.8 350.7L688.3 350.6L688.7 350.8L689.2 351.1L689.7 350.9L690.1 351L690.3 354.4L690.5 357.3L691.5 350.9L692 351.1L692.4 351.6L692.9 350.8L693.4 351.2L693.4 355.5L694.3 351L694.7 351.4L695.2 351.4L695.7 351.2L696.1 351.4L696.6 351.7L697.1 351.3L697.6 351.1L698 351.4L698.4 351.9L698.8 352.4L699.3 352.2L699.3 355.8L700.3 351.9L700.7 351.9L701.1 352.6L701.3 354.7L702.1 352L702.6 352.1L703 352.4L703.5 352.5L703.9 352.7L704.4 352.3L704.9 352.3L705.4 351.9L705.8 352.7L706.2 352.7L706.7 352.4L707.2 352.6L707.6 353.1L708.1 352.9L708.6 352.9L709 353.1L709.4 353.4L709.9 353.3L710.3 353.7L710.8 353.5L711.3 353.4L711.7 354L711.6 357L711.3 360.9L712.6 356.4L712.8 357.9L713.9 354.8L714.4 354.4L714.9 354.3L715.5 353.8L715.8 354.6L715.1 360.1L716.7 354.8L717.2 354.4L717.6 355.2L718.1 354.7L718.5 355.3L719.1 354.8L719.4 355.4L719.8 355.7L720.3 355.7L720.7 356L721.3 355.5L721.8 355.4L722.2 355.6L722.6 355.8L723.1 355.8L723.6 355.6L724 356.1L724.4 356.4L724.8 356.8L725.3 356.7L725.7 356.7L726.2 356.9L726.6 357.2L727.1 357.1L727.5 357.3L728 357.3L728.3 358L728.7 358.3L729.1 358.3L729.6 358.5L730.1 358.2L730.6 358.2L731 358.7L729.9 364.2L731.4 360.7L731 363.8L732.8 358.8L733.2 359.2L733.9 358.6L734 359.7L735 358.1L735.1 359.2L735.2 360.7L735.9 359.9L736.4 360L737 359.4L737.1 360.7L737.8 360.1L738.4 359.7L736.8 366.5L737.3 366.3L739.5 360.8L738.8 364.6L740.4 361L740.9 361L739.6 366.4L741.8 361.3L742.2 361.5L742.7 361.5L744.5 357.4L743.7 361.4L742.3 366.9L744.7 361.3L744.9 362L745.4 362L745.9 362.1L746.3 362.4L746.6 362.8L747 363.1L747.6 362.9L747.9 363.4L748.5 363.1L748.9 363.4L749.5 362.9L749.9 363.3L750.1 364.1L750.7 363.9L750.5 365.7L750 368.3L751.2 366.4L752.2 365L752.8 364.8L753.2 365.2L753.5 365.5L753.8 366L754.3 366.2L755 365.5L755.2 366.3L755.7 366.4L756.1 366.5L756.3 367.3L757.1 366.6L757.3 367.2L757.7 367.4L758.2 367.5L758.7 367.7L759.1 367.7L759.3 368.4L758.1 372.5L760.4 368.3L758.8 373L761.1 369L761.6 369L762.1 368.9L762.6 369.1L763.1 369.2L763.4 369.6L763.8 369.7L764.2 370.1L764.8 369.8L765 370.4L765.6 370.3L766 370.5L765.1 373.6L766.9 370.8L767.2 371.2L767.5 371.6L767.9 371.9L767.6 373.6L768.9 372.1L769.3 372.2L769.8 372.3L769.6 373.7L770.6 372.8L770.9 373.2L769.2 377.7L771.9 373.2L772.4 373.3L772.7 373.7L773.4 373.3L773.7 373.8L772.1 377.9L771.6 379.9L774.8 374.6L775.3 374.8L775.5 375.4L776.1 375.1L775.4 377.5L776.8 375.9L777.5 375.6L777.8 376L778.1 376.3L778.5 376.6L778.9 376.9L779.2 377.3L779.5 377.7L780 377.7L780.8 377.2L781.1 377.8L781.4 378L782 378L781.9 379L782.5 379L783 379L783.4 379.3L783.8 379.5L781.3 384.8L784.3 380.6L784.8 380.6L785.2 380.8L785.2 381.7L785.7 381.7L786.4 381.4L787.6 380.4L785.9 384.1L787.4 382.5L787.8 382.7L786.1 386.4L788.6 383.2L788.8 383.7L790 382.8L790.2 383.3L790.3 383.9L790.7 384.2L791.1 384.5L791.6 384.5L792 384.8L792.4 385L793.2 384.7L793.3 385.3L793.6 385.7L792.6 388L793.4 387.7L793.4 388.5L793.6 389.1L793.9 389.4L794.5 389.4L795.3 389L795.2 389.9L795.9 389.8L796.4 389.9L796.6 390.4L797 390.5L797.3 391L797.5 391.5L797.8 391.8L798.3 391.9L798.5 392.5L798.8 392.8L796.6 396.7L799.6 393.3L800.2 393.2L800.6 393.5L799.3 396.1L801.3 394L801.8 394.2L802.2 394.4L802.6 394.5L802.7 395.2L803.4 395L803.8 395.2L803.7 396.2L804.7 395.6L804.9 396.1L804.8 397L805.7 396.5L806.3 396.6L806.4 397.2L807 397.2L807.3 397.5L807.6 397.9L802.6 405L804.8 403L808.6 398.8L804.9 404.3L804 406.1L807.6 402.3L808.1 402.4L810.1 400.6L811.2 400L809 403.4L811.5 401.1L811.8 401.5L808.9 405.8L807 408.7L812.4 402.9L814.2 404.3L806.8 413.1ZM808.2 414.3L815.5 405.7L817.2 407.2L821.7 402.9L820.7 404.6L822.5 403.4L818.3 408.7L818.8 409L816.8 411.8L819.2 409.8L822.5 406.9L823.3 406.7L818.4 412.7L821.8 409.7L821.9 410.3L824.6 408L826 407.2L825 408.9L824.5 410.2L825 410.4L827 408.9L826.7 409.9L826.8 410.4L827.5 410.4L825.7 412.9L827.6 411.6L828.4 411.5L828.7 411.8L828.9 412.3L829.6 412.2L829.9 412.6L830.4 412.7L830.4 413.5L831 413.5L833.2 412L833.6 412.3L834.2 412.4L834.8 412.4L835.2 412.7L835.1 413.4L835.2 414L835.4 414.5L835.7 414.8L835.9 415.2L836.5 415.4L836.4 416.1L837.4 415.8L838.1 415.9L838.5 416.1L838.5 416.8L838.8 417.1L839.4 417.2L839.6 417.7L839.8 418.2L840.4 418.2L840.9 418.4L840.9 419L841.2 419.5L841.5 419.8L841.7 420.2L841.7 420.8L841.9 421.3L842.3 421.6L843.1 421.6L842.8 422.4L843.4 422.6L843.1 423.4L843.9 423.4L844.4 423.5L848.1 421L844.5 424.7L845.1 424.8L845.6 425L846.2 425.1L846.7 425.4L845.3 427.1L844.1 428.7L843.4 429.9L847.1 427.4L847.7 427.6L848.4 427.6L848.6 428.1L848.6 428.7L849.2 428.8L849.2 429.4L849.7 429.6L849.7 430.2L849.9 430.7L850.7 430.7L851 431L851.3 431.4L851.7 431.7L852.2 431.9L852.3 432.4L852.4 432.9L853.1 433L853.2 433.5L853.6 433.8L853.9 434.2L854.2 434.6L853.7 435.5L854.3 435.7L854.7 436L854.9 436.4L855.1 436.9L855.2 437.3L855.8 437.5L856.1 437.9L856.3 438.3L856.5 438.8L856.7 439.2L857.1 439.5L857.1 440.1L857.6 440.3L857.5 440.9L854.9 443.4L858 441.8L858.8 441.8L857.1 443.5L854.4 446L859.1 443.3L859.6 443.5L859.8 444L860.1 444.3L860.3 444.7L861.1 444.8L861.3 445.3L861.6 445.6L861.8 446.1L862 446.5L861.8 447.2L862.1 447.6L862.5 447.8L862.8 448.2L863.2 448.5L863.2 449.1L863.6 449.4L864.1 449.6L864 450.3L864.5 450.5L863.5 451.7L864.6 451.6L865.3 451.7L867.2 451.1L871 449.3L865.6 453.2L866.7 453.1L866.9 453.5L867.3 453.8L866.5 454.9L867.1 455.1L867.6 455.3L868 455.6L867.7 456.3L868.2 456.6L868.5 456.9L868.9 457.3L868.7 457.9L868.8 458.4L868.9 458.9L869.9 458.9L867.5 460.8L870.5 459.6L870.5 460.2L870.2 460.9L871.2 460.9L871.6 461.2L869 463.2L868.7 463.9L868.7 464.4L869.7 464.4L869.4 465.1L869.5 465.6L869.8 465.9L870.4 466.1L870.3 466.8L870.7 467.1L871.1 467.4L871.3 467.8L871.6 468.2L870.7 469.2L872.2 468.9L871.8 469.7L872.3 469.9L871.6 470.8L872.3 471L869.4 472.9L873.2 471.6L873.8 471.8L873.6 472.4L873.7 472.9L874.4 473.1L874.6 473.5L874.1 474.2L875 474.4L874.5 475.1L875 475.4L875 475.9L874.7 476.5L875 476.9L876.1 476.9L875.9 477.5L876.5 477.8L876.4 478.4L877 478.6L876.7 479.2L877 479.6L877 480.1L877.1 480.6L877.8 480.8L877.5 481.5L876.2 482.5L876.3 483L874.2 484.4L876.3 484L876.4 484.4L877.4 484.5L877.2 485.1L877.2 485.6L877.4 486.1L877.5 486.5L874.9 488.1L878.4 487.1L878.8 487.5L878.7 488L878.5 488.6L879.1 488.8L879.3 489.3L879.4 489.8L879.4 490.2L879.7 490.6L879.4 491.2L879.5 491.7L880.3 491.9L874.8 494.5L880.1 492.9L880.8 493.2L880.4 493.9L880.3 494.4L880.9 494.7L881.7 494.8L881.3 495.5L877.3 497.4L874.5 498.9L882.7 496.5L882.5 497L880.4 498.3L882.1 498.1L880.6 499.2L874.7 501.7L883.5 499.1L884 499.5L884.6 499.8L872.9 504.2L878.8 502.7L873.2 505L879.4 503.4L880.1 505.6L870.7 508.6ZM871.3 510.7L880.8 507.8L881.4 510L887.1 508.8L876.7 512.3L886.2 510L881.8 511.7L878.6 513.1L888.6 510.8L887.2 511.7L882.1 513.6L878.5 515L888.7 512.7L885.6 514L887.8 513.9L888.1 514.3L888.5 514.7L888.9 515.1L882.8 517.1L884.3 517.2L889.5 516.4L889.6 516.8L889 517.5L889.3 517.9L889.1 518.4L889.1 518.9L889.4 519.3L889.3 519.8L889.6 520.2L889.6 520.7L884.9 522.3L889.4 521.7L889.9 522.1L889.6 522.6L885.5 524L890.2 523.4L890.4 523.8L888.5 524.7L890.6 524.8L890.4 525.3L889.7 525.9L890.5 526.2L890.4 526.7L891 527.1L890.7 527.6L891 528L891 528.5L891.3 528.9L891.7 529.3L891.7 529.8L892.4 530.1L892.1 530.7L892 531.2L892 531.6L892.4 532L892.5 532.5L892 533L892.1 533.5L892.8 533.9L892.1 534.5L892.4 534.9L892.6 535.3L892.5 535.8L892.9 536.2L893 536.7L893.2 537.1L889.7 538.1L892.9 538.1L893.2 538.5L892.9 539L893 539.5L892.9 540L893.2 540.4L893 540.9L893.4 541.3L891.4 542.1L893.5 542.3L893.5 542.7L893.6 543.2L893.5 543.7L893.3 544.2L894.2 544.5L893.6 545.1L893.9 545.5L893.9 546L894 546.4L892.3 547.1L894.4 547.3L894.4 547.8L894.6 548.3L894 548.8L894 549.2L894.4 549.7L894.1 550.2L899.3 550.1L894.7 551.1L894.2 551.6L894.4 552L894.3 552.5L894.4 553L894.7 553.4L894.6 553.9L894.4 554.4L890.2 555.1L889.8 555.6L895.2 555.7L895.1 556.2L895.5 556.6L895.2 557.1L895.1 557.6L895.3 558L895.1 558.5L895.2 559L895.3 559.4L895.6 559.9L894.6 560.4L894.9 560.9L895.2 561.3L895.6 561.8L895.4 562.2L895.4 562.7L895.6 563.2L896 563.6L895.2 564.1L895.9 564.6L895.5 565L896 565.5L900.3 565.9L906.1 566.2L900.2 566.8L895.8 567.4L895.4 567.8L895.5 568.3L895.3 568.8L895.2 569.3L895.8 569.7L895.7 570.2L895.3 570.7L895.9 571.1L895.6 571.6L895 572L895.4 572.5L894.9 573L894.8 573.4L895.4 573.9L895.5 574.4L895.3 574.8L895.9 575.3L895.4 575.8L895.4 576.3L895.5 576.7L895.6 577.2L896.1 577.7L895.8 578.1L896 578.6L895.6 579.1L895.7 579.5L894.8 580L895.4 580.5L896 580.9L895.5 581.4L895.3 581.9L894.8 582.3L895.5 582.8L895.2 583.3L894.5 583.7L898.8 584.4L895 584.6L895.1 585.1L895.2 585.6L895.3 586.1L894.5 586.5L894.9 587L894.6 587.4L894.7 587.9L894.8 588.4L894.1 588.8L894.1 589.2L894.5 589.7L894.2 590.2L894.5 590.7L893.8 591.1L893.6 591.5L893.9 592L887.9 591.9L894.5 593L894.4 593.5L893.8 593.9L894.3 594.4L888.6 594.3L893.8 595.3L894.2 595.8L893.2 596.2L893.3 596.7L894 597.2L888.6 597L893.8 598.1L893.4 598.5L893.5 599L888.4 598.8L891.3 599.7L893.6 600.4L893.3 600.9L887.7 600.6L893.4 601.8L893.2 602.3L893.4 602.8L893.1 603.2L892.8 603.6L893 604.1L893.4 604.7L892.6 605L892.6 605.5L892.7 606L892.8 606.5L892.2 606.8L892.6 607.4L892.6 607.8L892.4 608.3L891.9 608.7L892.3 609.2L892.3 609.7L891.5 610L891.6 610.5L891.4 611L892.3 611.6L891.8 612L891.6 612.4L892.2 613L891.7 613.4L891.7 613.8L891.1 614.2L891.3 614.7L891.3 615.2L891.1 615.6L891 616.1L890.9 616.6L890.3 616.9L890.9 617.5L890.2 617.8L890.1 618.3L890.2 618.8L890.1 619.2L890.4 619.8L889.7 620.1L889.8 620.6L889.4 621L890.3 621.7L889.2 621.9L889.2 622.4L889.5 622.9L889.5 623.4L889.1 623.8L889.5 624.4L889.2 624.8L886 624.5L888.9 625.7L888.4 626L888.4 626.5L888.3 627L888.1 627.4L887.7 627.8L887.6 628.2L887.8 628.8L887.4 629.1L887.4 629.6L879.9 628.1L879.4 628.4L881.4 629.4L885.1 630.9L886 631.7L888.7 632.9L877.6 630.2L888.2 633.7L883.6 632.9L881.5 632.7L886.3 634.6L885.6 636.9L871.4 632.5ZM870.9 634.2L882.9 638L882.2 640.2L880.2 640.1L889 643.5L888.1 643.7L888.5 644.3L880.9 642.2L879.7 642.3L889.5 646.2L886.1 645.5L886.7 646.2L887.8 647.1L879.6 644.7L880 645.3L886.3 648.1L887.8 649.1L886.9 649.3L880.4 647.4L886.2 650.1L886.4 650.6L886 651L885.9 651.5L885.6 651.8L886.1 652.6L885.4 652.8L885.6 653.4L885.1 653.7L884.8 654.1L884.3 654.4L884.4 655L884.1 655.4L884 655.8L883.7 656.2L883.5 656.6L884.1 657.4L883.3 657.6L883.4 658.2L883.1 658.5L882.8 659L883 659.5L882.3 659.7L882.3 660.3L882 660.7L881.7 661.1L881.9 661.7L881.6 662L881.2 662.4L881.2 662.9L881.2 663.4L880.6 663.7L879.9 663.9L880.6 664.7L880.1 665L879.4 665.2L879.8 665.9L879.6 666.4L882.3 668.1L885.1 669.9L881.7 668.9L878.9 668.2L878.8 668.6L878.9 669.2L878.2 669.4L878.3 670L877.9 670.3L877.4 670.6L877.3 671.1L877.2 671.6L876.9 671.9L876.1 672.1L876.3 672.7L876.2 673.2L876.2 673.7L874.1 673.2L876.1 674.7L875.8 675.1L875.7 675.6L875.6 676.1L875.1 676.3L874.9 676.8L874.3 677L874.4 677.6L874.1 678L873.5 678.2L873.2 678.6L873.2 679.1L873.4 679.7L873.1 680.1L872.6 680.4L872.5 680.9L872.1 681.2L872.3 681.9L871.5 682L871.7 682.7L871.3 683L870.5 683L870.9 683.8L870.9 684.4L870.1 684.5L869.8 684.8L869.8 685.4L870 686L866.8 684.8L869.5 686.9L868.6 686.9L868.5 687.4L864.8 685.8L868.4 688.4L867.9 688.7L865.2 687.6L867.4 689.5L867.1 689.9L867.7 690.8L867.2 691L866.6 691.3L866.4 691.7L865.5 691.7L865.9 692.5L865.3 692.7L865.2 693.2L864.7 693.5L861.8 692.2L863.8 694L860.6 692.5L864 695.3L863.6 695.5L863.7 696.2L863.3 696.5L862.9 696.8L862.7 697.2L862.1 697.4L861.8 697.8L861.7 698.3L861.5 698.7L861.4 699.2L861.1 699.6L860.5 699.8L860.7 700.5L860.3 700.8L860.1 701.2L859.8 701.6L859.5 702L858.9 702.2L858.9 702.7L858.3 702.8L858.7 703.7L858.4 704.1L857.8 704.3L855.4 703.1L857.6 705.3L857.2 705.6L857.2 706.2L856.8 706.5L856.5 706.9L856.1 707.1L855.8 707.5L855.5 707.9L856.7 709.4L855 708.7L854.7 709.1L854.2 709.3L853.7 709.5L854 710.4L853.1 710.3L853.1 710.8L852.9 711.3L852.8 711.8L852.1 711.9L851.4 712L851.3 712.5L851.4 713.1L851.1 713.5L850.6 713.8L850.5 714.3L850.2 714.6L850 715.1L849.7 715.5L848.9 715.5L848.7 715.9L848.5 716.3L848.5 716.9L848.2 717.3L847.8 717.6L847.7 718.2L846.6 717.9L846.7 718.5L846.5 719L846.1 719.3L845.4 719.3L845.7 720.2L842.5 718.1L844.8 720.7L844.6 721.1L844.3 721.5L843.7 721.6L843.8 722.4L843.3 722.6L843.1 723L842.5 723.1L842.4 723.7L841.8 723.8L838.9 721.8L840.8 724.1L840.9 724.9L840.6 725.2L840.8 726L840.5 726.4L839.8 726.4L839.2 726.6L839.1 727.1L838.8 727.5L838.8 728.1L838.3 728.3L838.4 729L837.6 728.9L837.8 729.8L837.3 730L837.1 730.4L836.2 730.3L835.9 730.6L835.9 731.3L835.3 731.4L835.1 731.9L835 732.4L831.5 729.6L833.7 732.4L833.4 732.8L833.4 733.5L832.7 733.5L832.3 733.7L832.1 734.2L831.7 734.5L831.4 734.9L831.4 735.6L831.1 736L830.5 736.1L830 736.2L830 736.8L829.5 737L828.9 737.1L828.7 737.5L828.2 737.8L828.3 738.5L827.7 738.6L825.1 736.5L827.3 739.6L827.3 740.2L826.5 740.1L822.2 736L825.6 740.6L825.8 741.5L825.2 741.5L824.7 741.7L819.9 736.9L824 742.3L824.1 743.2L820.8 740.1L822.6 742.9L818.2 738.6L821.3 742.8L820 742L814.9 736.8L820.8 744.5L821.4 745.9L820.2 745.2L814.8 739.5L816.2 742L814.4 743.5L804.9 731.9ZM803.5 733L816.9 749.6L815.1 751.1L813.9 750.3L807.6 743.1L805.7 741.4L807.2 744.1L809.1 747.3L811 750.6L805.6 744.3L810.8 751.8L810.5 752.2L809.8 752.1L804.7 746.1L806.1 748.8L804.1 746.9L808.6 753.6L808.2 753.9L808.3 754.8L807.1 754L807.3 755.1L806.8 755.2L806.2 755.2L806 755.8L805.4 755.7L805.2 756.2L804.7 756.4L804.4 756.7L804.1 757.2L803.6 757.3L802.9 757.1L802.6 757.5L802.6 758.3L801.9 758.1L801.6 758.5L801.2 758.8L799.2 756.7L800.5 759.6L800 759.5L796.7 755.5L799.1 759.9L798.8 760.3L800.7 764.2L797.9 760.7L797.4 760.8L797 761.1L793.8 757.1L796 761.3L795.6 761.6L795.7 762.6L794.9 762.2L794.7 762.8L794.4 763.2L793.8 763.2L793.1 762.9L792.7 763.3L792.7 764L792.3 764.4L792.3 765.3L791.6 765.1L791.2 765.3L790.6 765.2L790.3 765.6L789.7 765.6L789.4 766L788.9 766L788.6 766.5L788.2 766.7L787.8 767L787.4 767.3L787.1 767.8L786.4 767.4L786.3 768.2L786.2 769L785.4 768.5L784.9 768.6L784.8 769.5L784.5 769.9L783.9 769.8L783.5 770L783.1 770.3L782.6 770.3L782.2 770.6L781.6 770.4L781.2 770.9L780.7 770.8L780.4 771.3L780 771.6L779.7 772L778.9 771.6L778.7 772.2L778.3 772.5L778 772.9L777.4 772.7L776.9 772.9L776.6 773.4L776.3 773.7L775.9 774L775.5 774.3L775.1 774.6L774.7 774.7L774.2 774.9L773.9 775.3L773.5 775.6L772.9 775.5L772.3 775.3L771.8 775.4L771.6 776L771.3 776.5L770.8 776.7L770.4 776.8L770.2 777.5L769.6 777.4L769.1 777.4L768.6 777.4L768 777.3L767.8 778L767.5 778.4L766.9 778.3L766.4 778.4L767 780.9L765.4 778.5L765.1 778.9L763.5 776.5L764.1 779.1L764 780.1L763.3 779.6L763 780.2L762.5 780.2L762 780.2L761.7 780.8L761.1 780.4L760.8 781.1L760.5 781.5L759.3 780L759.4 781.5L758.9 781.3L758.7 782.1L758.2 782.3L756.9 780.3L757.2 782.2L757 783L756.4 782.9L756 783.2L755.7 783.6L756.6 787.3L756.5 788.4L754.8 785.3L753.5 783.3L753 783.3L752.8 784.2L752.4 784.3L751.9 784.5L751.4 784.5L751.3 785.5L750.7 785.3L750.1 785.1L749.6 785.1L749.2 785.5L748.7 785.2L748.4 786L747.9 785.8L747.5 786.2L748.3 790.1L746.6 786.5L747.4 790.4L745.7 787L745.2 787L745 787.7L744.2 787L743.9 787.4L743.4 787.6L743 787.9L742.7 788.3L742.1 788.1L741.6 788.1L741.2 788.6L740.7 788.4L740.2 788.5L739.5 787.7L739.2 788.5L738.9 789.1L738.3 788.9L738 789.3L737.3 788.9L737.1 789.6L736.6 789.9L736.2 790.1L735.6 789.8L735.3 790.2L734.7 789.8L734.4 790.7L733.9 790.6L733.5 791.2L732.9 790.7L732.5 791.2L732 791.1L731.5 790.9L731 790.9L729.6 787.4L730.1 791.3L729.6 791.3L729.2 791.7L728.6 791.2L728.2 791.7L727.9 792.1L727.4 792.1L727 792.4L726.5 792.5L726 792.3L725.5 792.4L725 792.3L724.5 792.5L724.1 792.7L723.6 792.7L723.1 792.6L722.7 792.8L722.2 792.8L721.7 793.1L721.2 793.1L720.8 793.4L720.4 793.7L720 793.8L719.5 794.2L719.1 794.5L718.7 794.6L718.2 794.6L717.7 794.8L717.2 794.7L716.8 794.9L715 788.4L715.8 795.1L714.9 792.7L714.8 795L714.5 795.6L714 795.8L713.5 795.9L712.9 795L712.4 794.9L711.1 790.4L711.7 796.3L710.5 792.5L709.4 788.7L710.3 796.9L709.1 792.1L709.3 796.3L709 797.8L708.3 796.6L706 784.6L707.4 796.4L704.9 783.5L706.6 798.2L704.3 798.5L701.3 777.3ZM699.7 777.5L701.4 790L699.1 790.3L698.3 787.7L698.1 789.9L697.2 786.2L698 797.7L696.7 789.5L696 787.1L696.6 797.2L696.1 797.2L694.7 787.9L695.1 796.8L694.7 797.5L694 795.7L693.6 795.8L693.2 796.6L692.7 796.6L692.4 798.3L691.8 797.4L691.3 797.3L690.7 795.1L690.4 797.2L689.7 794.1L689.5 797.7L689 797.4L688.5 797.4L688 797L687.5 797.1L687 797L686.2 791.4L686.1 797L685.7 797.7L685.1 796.4L684.7 797.2L684.2 797.1L683.8 797.8L683.3 797.6L682.8 797.1L682.3 797.2L681.7 793.8L681.4 797L680.9 797.7L680.4 796.6L680 797.1L679.5 797.2L679 796.8L678.5 797L678.1 797.5L677.6 796.9L677.1 796.9L676.7 797.3L676.2 796.9L675.7 797.4L675.2 797.2L674.8 794.8L674.3 797.7L673.8 797.2L673.4 797.2L672.9 797.6L672.4 797.4L671.9 797.7L671.5 796.8L671 797.6L670.5 797.8L670.1 797.3L669.6 797.7L669.1 797.4L668.6 797.9L668.2 796.9L667.7 797.6L667.2 797.1L666.7 798.1L666.3 795.7L665.8 797.5L665.3 797.3L664.8 798L664.4 798L663.9 798.1L663.4 798L663 797.7L662.5 797.5L662 797.1L661.5 797.7L661.1 797.4L660.6 797.8L660.1 797.3L659.6 797.6L659.2 797L658.7 797.1L658.2 797.4L657.8 797L657.3 797L656.8 797.4L656.3 797.6L655.9 797.3L655.4 797.6L654.9 797L654.5 797.1L654 796.6L653.6 796.5L653.1 796.7L652.6 796.9L652.2 796.1L651.6 796.9L651.3 795.8L650.7 796.2L650.3 796.4L649.8 796.2L649.4 795.9L648.8 796.4L648.3 796.6L647.9 796.5L647.4 796.2L647 795.8L646.5 795.7L646 796.3L645.6 795.9L645.1 795.9L644.6 796.3L644.2 795.6L643.7 795.3L643.2 795.5L642.7 795.8L643 790.1L641.8 795.7L641.3 795.6L640.9 795.4L640.4 795.2L640 795.1L639.5 795L639 794.8L638.6 794.8L638.1 794.8L637.6 795L637.1 795.1L636.7 794.6L636.1 795L635.8 794.3L635.3 794L634.9 793.7L634.4 793.7L633.8 794.4L633.5 793.6L632.9 794.1L632.4 794.2L631.9 794.2L631.4 794.5L631.1 793.7L630.5 794.1L630.1 793.7L630.7 788.4L629.2 793.5L628.6 793.9L628.2 793.6L627.8 793.4L627.5 792.6L627 792.6L627.3 789L626.1 792.3L625.5 792.6L625 792.6L624.5 792.7L624.2 792L623.7 792L623.2 791.9L622.7 792.3L621.5 795.5L621.7 792.2L621.5 791.1L620.9 791.6L620.5 791.5L620 791.2L619.5 791.4L618.1 794.9L618.3 792.4L617.6 793L619.1 785.2L617.2 790.7L616.8 790.5L616.3 790.6L615.9 790.3L615.5 790L615.1 789.7L614.6 789.5L614.1 789.7L613.7 789.1L613.2 789.3L612.7 789.4L612.2 789.2L611.6 789.8L611.4 788.7L610.8 789L610.4 788.8L609.8 789.3L609.6 788.2L609 788.4L608.6 788.3L608 788.5L608.7 784.7L607.1 788.3L608.5 782.1L607 785.5L607.1 783.5L605.3 787.8L606.4 782.7L606.2 781.7L603.8 787.7L606.2 778.8L603.1 786.9L602.2 788.1L602.1 786.9L603.5 781.2L603.9 778.5L601.1 785.5L598.8 784.7L604.8 767.7ZM603.2 767.1L598.7 779.8L596.5 779L595.9 779.3L594.3 782.3L593.4 783.3L596.9 772.7L593.4 780.7L594.9 775.4L593.9 776.9L595.4 771.6L591.4 780.6L591.1 780.1L590.2 781.2L593 772.8L589.3 780.9L591.7 773.7L588.7 779.9L588.3 779.6L587.7 779.8L587.4 779.3L589.6 772.8L586.2 779.6L586.2 778.5L585.5 778.8L585.4 777.9L584.7 778.4L584.3 778.1L583.7 778.3L583.6 777.4L583 777.6L582.8 776.8L582.1 777.3L581.8 776.7L581.4 776.4L580.8 776.6L580.5 776.3L580.2 775.7L579.5 776.1L579.1 775.8L579 775L578.4 775.2L578 774.9L577.7 774.4L577 774.8L576.7 774.4L576.4 773.9L575.7 774.2L575.4 773.8L574.9 773.7L574.6 773.3L574.1 773.3L573.6 773.1L573 773.2L572.5 773.3L572.3 772.5L572 772.1L571.5 772.1L571 772L570.6 771.8L570.2 771.5L569.8 771.3L569.4 771.1L571 767L568.5 770.6L568.1 770.4L567.9 769.8L567.1 770.3L566.9 769.6L566.3 769.8L566.1 769.2L568.2 764.4L565.2 768.9L564.7 768.7L564.3 768.5L563.8 768.6L563.5 768L562.9 768.2L562.6 767.8L562.4 767L562 766.9L561.7 766.4L560.8 767.1L560.5 766.7L560.1 766.3L562.1 761.9L559.4 765.7L559 765.4L558.5 765.3L558.4 764.6L557.8 764.8L557.4 764.5L557 764.3L556.7 763.7L556.1 763.9L555.9 763.3L555.5 763L555.1 762.9L554.9 762.2L553.9 762.9L553.8 762.2L553.5 761.9L555.5 757.8L552.6 761.5L551.8 761.8L551.7 761.1L551.6 760.3L551.2 760.2L550.7 760.1L550.4 759.7L550.3 759L549.5 759.3L548.6 759.8L550.4 756.3L548.2 758.7L548.1 758L547.5 758L547.4 757.4L545.5 759.4L546.1 757.6L543.8 760.1L542.3 761.5L544.9 756.8L544.8 756.1L544.9 755.2L544.2 755.4L543.6 755.4L543.5 754.8L543.4 754.1L542.7 754.3L542.4 753.9L541.9 753.8L541.5 753.5L541.6 752.6L540.6 753.1L540.2 752.8L539.8 752.6L539.5 752.2L539.2 751.8L538.6 751.9L538.5 751.2L537.9 751.2L537.4 751.1L537.4 750.3L536.8 750.3L536.4 750.1L536.4 749.3L539.1 745L535.3 749.1L534.8 749L534.7 748.4L534.2 748.2L533.6 748.2L533.2 748.1L532.7 747.9L532.8 747.1L532.2 747.1L531.7 746.9L531.3 746.7L530.9 746.3L530.8 745.8L531.8 743.8L529.7 745.6L529.7 744.9L529.4 744.5L529 744.2L528.8 743.7L528.4 743.4L528.3 742.9L527.6 742.9L527.3 742.6L526.8 742.4L526.2 742.5L526 741.9L525.9 741.3L525 741.6L527.3 738.2L524.4 740.9L524.1 740.5L524.3 739.6L523.1 740.2L523.4 739.2L525.7 735.9L522.1 739.2L522.3 738.3L524.3 735.3L521.2 738.1L524.4 733.9L526.3 731.1L527.3 729.4L523.6 732.7L522.2 733.5L519.7 735.5L517.8 736.8L517.3 736.7L518.2 735.1L518.1 734.4L522.3 729.4L520.6 727.8L528.1 720.2ZM526.9 719L515.4 730.6L513.7 728.9L511.4 730.5L511.2 730.1L518.5 722.3L512.1 727.9L510.9 728.4L509.7 728.9L513.5 724.6L509.4 727.9L510.1 726.5L509.1 726.8L509.1 726.3L514.3 720.7L508 726L507 726.2L508 724.7L511.1 721.2L506.9 724.4L506.7 723.9L506.8 723.2L505.4 723.9L505.2 723.4L504.9 723L504.1 723.1L504.7 721.9L504.4 721.5L503.6 721.7L503.5 721.1L502.8 721L503.1 720.1L502.2 720.4L502.2 719.7L501.6 719.6L501.5 719.1L501.1 718.7L500.8 718.4L500.7 717.8L500.4 717.5L504.7 713.2L499.9 716.7L499.6 716.4L499 716.2L499.1 715.5L498.1 715.7L498.3 715L497.8 714.8L497.3 714.5L497.2 714.1L497 713.6L497 713L496.2 713L496.3 712.3L496 712L495.4 711.8L495.5 711.1L495 710.9L494.6 710.6L494.2 710.4L494 709.9L493.9 709.4L493.7 708.9L493 708.9L492.8 708.4L492.6 708L492.2 707.7L495.4 704.7L492.2 706.6L491.3 706.6L491.4 705.9L491 705.6L492.9 703.6L490.5 704.9L490.1 704.6L490.1 704L490 703.4L489.7 703.1L489.4 702.7L485.9 704.6L483.1 706L486.6 703L488.5 701.1L487.2 701.4L490.6 698.5L487.5 700.1L487 699.8L486.4 699.6L486.3 699.1L485.9 698.8L485.7 698.4L486 697.6L485.7 697.3L485.5 696.8L484.8 696.7L484.2 696.6L484.3 695.9L484.2 695.4L483.9 695L483.1 695L483.8 694L483.3 693.7L482.9 693.4L482.2 693.3L486.1 690.3L482.4 692.1L481.5 692.1L484.5 689.7L481.4 691L480.7 690.9L480.8 690.3L480.5 690L482.6 688.1L480.1 689L479.5 688.9L482.8 686.3L479.2 688L479 687.5L478.9 687L478.7 686.6L478.2 686.3L478.5 685.6L478 685.4L477.3 685.2L477.5 684.6L477.2 684.2L477.2 683.6L476.8 683.3L476.4 683L475.9 682.7L476 682.2L475.9 681.6L475.6 681.3L475.1 681L474.9 680.6L475.2 679.9L474.6 679.7L474.3 679.3L474.2 678.8L473.9 678.5L474.2 677.8L473.8 677.4L473.6 677L473.6 676.5L473.3 676.1L476.1 674.1L472.6 675.4L476.8 672.7L472.2 674.5L472.3 674L471.9 673.7L471.8 673.1L476.5 670.3L470.7 672.7L470.8 672.1L473.7 670.1L475 669L469.8 671L476.4 667.3L468.8 670.4L469.8 669.4L468.9 669.3L468.9 668.8L477.3 664.3L474 665.3L468.9 667.2L472.6 665L468.5 666.4L471.7 664.4L474.1 662.8L466.2 665.8L469.7 663.8L466.3 664.8L467.3 663.8L472.2 661.1L471.3 659L482.6 654.1ZM481.9 652.5L472.7 656.4L471.8 654.3L473.9 653L467.7 655L468.5 654.2L468.6 653.7L462.8 655.5L472.5 651.1L465.7 653.3L467.3 652.2L476.4 648.2L468.7 650.7L460.6 653.3L472.6 648.2L469.1 649L464.9 650.1L461.1 651L460.8 650.6L465.1 648.5L472.9 645.2L470.6 645.6L466.1 646.7L459.9 648.5L460.4 647.8L460.6 647.2L460.2 646.8L460.4 646.3L463.4 644.7L459.9 645.4L466.5 642.7L459.4 644.6L459.1 644.2L458.8 643.8L458.5 643.4L469 639.4L469.1 638.9L467.2 639.1L462.1 640.3L460.9 640.2L461.5 639.5L458.1 640.1L457.6 639.8L457.7 639.2L458.3 638.5L458 638.1L453.9 638.9L457.6 637.3L457.4 636.8L457.4 636.3L456.9 636L457.5 635.3L456.8 635L457 634.5L461.9 632.6L456.5 633.7L456.3 633.2L455.9 632.9L459.9 631.2L455.9 631.9L456 631.4L454.8 631.2L455.2 630.6L455 630.2L454.2 629.9L449.9 630.5L451.7 629.5L452.9 628.7L454.5 627.8L453.7 627.5L457.7 626.1L453.9 626.5L454.2 626L457.5 624.7L454 625L453.5 624.7L453.2 624.3L453.7 623.7L453.3 623.3L453.3 622.8L457.1 621.4L457.3 620.9L452.9 621.4L453.2 620.9L448.2 621.5L453.3 619.9L452.4 619.6L452.2 619.1L457.1 617.6L452 618.2L451.6 617.8L451.9 617.3L451.6 616.9L453 616.1L451.9 615.8L451.5 615.4L451.4 615L451.3 614.5L451.2 614.1L451 613.6L455.3 612.3L451.3 612.6L451.4 612.1L451.2 611.7L450.8 611.2L450.9 610.7L450.7 610.3L450.9 609.8L450.3 609.4L450.2 608.9L450 608.5L450.4 608L451.8 607.3L450.2 607L450 606.6L450.1 606.1L449.8 605.7L450.1 605.1L455.4 603.9L449.5 604.3L449.6 603.8L449.1 603.4L449.6 602.8L449.6 602.3L449.3 601.9L449.2 601.4L450.9 600.7L449.1 600.5L449.5 600L448.9 599.6L449.5 599L449.1 598.6L448.8 598.2L448.9 597.7L449 597.2L448.7 596.7L448.6 596.3L449.1 595.8L449 595.3L448.7 594.8L449 594.3L447.7 594L447.9 593.5L453.7 592.5L453.2 592.1L452.9 591.6L448.4 591.5L448.2 591.1L454.5 590.1L449 590.1L447.3 589.7L447.4 589.3L447.3 588.8L454.2 587.8L447.7 587.8L447.2 587.4L456.1 586.3L453.4 586L446 586L448 585.4L455.9 584.5L448.9 584.4L453.6 583.7L453.5 581.4L465.7 580.9ZM465.6 579L449.4 579.6L449.3 577.2L454.6 576.7L456.8 576.2L454.4 575.7L459.3 575.2L451.4 574.9L450.5 574.4L449.5 574L460.1 573.4L452.6 573L449.7 572.5L449 572.1L450.5 571.6L456.6 571.2L457.2 570.7L450.7 570.2L454.7 569.8L450.6 569.3L451.2 568.8L450.2 568.3L457.5 568L450.7 567.4L450.1 566.9L450.9 566.5L450.8 566L450.8 565.5L450.1 565.1L450.9 564.6L450.5 564.1L451 563.7L450.3 563.2L450.7 562.7L451.1 562.3L450.9 561.8L450.8 561.3L451.2 560.9L451.6 560.4L450.8 559.9L450.9 559.5L450.9 559L450.8 558.5L451.2 558.1L451.3 557.6L453.7 557.3L450.6 556.6L450.2 556.1L445.8 555.4L450.6 555.2L451 554.8L451.2 554.3L451.1 553.9L451.3 553.4L456.2 553.4L450.9 552.4L452 552.1L451.3 551.5L451.3 551.1L451.3 550.6L451.9 550.2L451.5 549.7L452 549.3L452.2 548.8L452 548.3L451.8 547.8L451.8 547.4L452.5 547L452.1 546.5L452.4 546L452.3 545.5L452.2 545.1L452.5 544.6L452.7 544.2L452.8 543.7L457.9 543.9L452.4 542.7L452.3 542.3L452.2 541.8L452.6 541.4L452.3 540.8L452.9 540.4L453.4 540.1L453 539.5L456.7 539.6L455.8 539L453 538.1L447.8 536.8L444.1 535.8L450.6 536.3L453.6 536.3L454 535.9L453.8 535.4L453.4 534.9L453.8 534.5L454.2 534L453.9 533.5L454.3 533.1L453.9 532.6L453.8 532.1L454.2 531.7L453.6 531.1L454.3 530.7L454.5 530.3L454.7 529.9L454.6 529.4L450.2 528L450.7 527.6L454.6 527.9L455 527.6L455.4 527.2L455.4 526.7L455.7 526.3L455.9 525.8L455.4 525.2L456 524.9L456.1 524.4L461.8 525.2L456.3 523.5L456.6 523.1L456.3 522.6L457.2 522.3L457.2 521.8L456.6 521.2L457.1 520.9L457.4 520.4L457.1 519.9L457.3 519.5L457.4 519L462.9 519.9L457.8 518.1L457.6 517.6L457.7 517.2L457.6 516.7L458 516.3L457.8 515.7L458.5 515.4L465.2 516.7L458.9 514.6L458.8 514.1L458.3 513.5L463.3 514.4L464.2 514.1L458.3 512L464.1 513.2L458.6 511.1L458.6 510.6L459.1 510.3L461.5 510.5L462.5 510.3L462.8 509.9L468 511L468.6 508.8L474.7 510.7ZM475.4 508.5L468.9 506.4L469.6 504.3L465.2 502.4L469.9 503.5L460.4 499.8L465.9 501.2L461.4 499.1L462.3 498.9L460.7 497.9L462.5 498L468.9 499.8L461.5 496.7L461.6 496.2L466.4 497.4L462 495.3L462.8 495.1L462.6 494.6L463.3 494.3L463.6 493.9L463.5 493.4L468.5 494.8L464.4 492.7L464.9 492.4L464.5 491.8L465 491.5L465.3 491.1L465.7 490.7L465.3 490.1L465.5 489.6L465.1 489L466.5 489L466.3 488.5L466 487.8L468.6 488.4L466.4 487L466.5 486.5L466.3 485.9L466.2 485.4L467.1 485.2L467.4 484.9L467.2 484.3L467.5 483.9L467.1 483.2L467.7 483L468.3 482.7L468.4 482.2L468.1 481.6L471 482.3L469.1 481L469 480.4L469.4 480.1L469.5 479.6L469.5 479.1L470.2 479L471.8 479.2L470.4 478L471.1 477.8L471 477.3L470.9 476.7L471.1 476.3L471.4 475.9L471.3 475.3L471.4 474.9L471.7 474.5L472 474.1L472.2 473.7L472.1 473.1L468 470.5L472.5 472.2L472.7 471.8L473.2 471.5L473.7 471.3L473.4 470.6L473.8 470.3L474.2 470L474.3 469.5L474.7 469.2L474.4 468.5L478.7 470.2L474.7 467.5L475 467.2L475.5 466.9L481.7 469.7L476.4 466.3L475.7 465.4L475.8 465L476.1 464.6L480.7 466.6L472.4 461.5L471 460.2L479.7 464.4L476.2 461.9L478.2 462.5L476.7 461.1L481.9 463.5L478.5 461.1L478.2 460.3L476.9 459.1L479.6 460.1L479.7 459.6L480 459.2L478.3 457.7L473.4 454.2L476.1 455.3L481.1 457.7L481.4 457.3L486.5 459.8L485.9 459L482.3 456.2L486.6 458.3L482.3 455.2L482.9 454.9L481.2 453.3L484 454.6L478.5 450.6L483.6 453.2L485.5 453.8L484.7 452.8L484.3 452L484.4 451.5L484.6 451.1L485.4 451L489.9 453.4L488.8 452.1L488.2 451.1L486.1 449.2L486.3 448.8L486.6 448.4L490.7 450.6L486.9 447.5L487.2 447.1L487.9 447L487.7 446.4L486.1 444.7L488.4 445.7L488.4 445.1L488.5 444.7L491.6 446.2L489.5 444.2L489.7 443.7L490.3 443.6L489.6 442.6L493.5 444.7L493.8 444.3L490.1 441.1L497.6 445.9L495.7 444L490.2 439.5L494 441.6L499.1 444.8L492.3 439.2L498 442.9L500.4 444.1L501.2 444.1L503.9 445.6L498.2 440.7L499.2 440.9L494.2 436.5L495.6 434.7L508.8 444.9ZM510 443.2L499.8 435.2L501.3 433.4L503.5 434.6L499.9 431.1L499 429.8L500.4 430.3L500 429.4L503.3 431.5L500.8 428.7L501.1 428.4L502.9 429.3L502.7 428.6L503 428.1L504.4 428.7L503.2 427.1L503.3 426.6L505.2 427.5L504.4 426.3L508.3 429.1L503.7 424.5L510 429.3L507.8 426.7L503.5 422.3L505.5 423.5L508.1 425.2L508.6 425L506.4 422.4L507.4 422.7L504.9 419.7L507.9 421.8L507.4 420.8L508.8 421.4L508.8 420.8L513 424L508.3 419.1L509.4 419.4L509.4 418.7L506.6 415.5L511.4 419.3L510.1 417.5L512.5 419.1L514.3 420.2L514.9 420.1L512.8 417.5L513.6 417.5L514.3 417.6L514.6 417.3L515.1 417.1L515.5 416.8L516 416.7L514.7 414.7L516.4 415.7L511.2 409.9L511.7 409.8L518.8 416.3L515 411.7L517.5 413.6L516.2 411.6L517.9 410L529.4 421.9ZM530.8 420.6L523.7 413L525.4 411.5L529.6 415.3L530.1 415.3L530.2 414.7L530.8 414.7L531.1 414.4L531.3 413.9L530.9 412.8L532.2 413.6L526.7 406.7L530.9 410.8L529.5 408.5L522.3 399.6L533.6 411.9L534.2 411.8L534.5 411.5L533.8 410L535 410.8L526.1 399.5L535.6 410L530.1 402.9L533.2 405.9L526.7 397.4L531.8 402.7L528.4 397.8L537.6 408.2L534 403.2L532.6 400.7L536.1 404.3L530 396.1L534.5 400.9L535.7 401.6L540 406.3L540.4 406L540.9 406L540.6 404.9L541.7 405.5L541.9 405.1L542.3 404.9L542.7 404.7L542.8 404L543.1 403.7L540.5 399.6L543.8 403.1L544.6 403.4L544.4 402.4L544.7 402.2L545.5 402.4L540.3 394.7L541.6 395.7L546.7 401.8L540.9 393.3L544.6 397.5L544.7 396.9L547.9 400.4L548.2 400.1L540.7 389L548.7 399.2L549 398.9L549.8 399.2L550.3 399.2L550.6 398.9L550.8 398.3L550.8 397.6L551.4 397.6L552 397.7L552.3 397.4L552.7 397.2L553.2 397.1L553.3 396.4L553.5 396.1L554 395.9L553.6 394.5L554.6 395.3L555.3 395.4L555.4 394.9L556.1 395L556.4 394.8L556.8 394.5L557 394L549.4 381.5L557.9 393.8L558 393.1L551.8 382.6L558.3 391.9L559.4 392.8L559.5 392.1L559.7 391.7L560.7 392.3L552.9 378.9L560.9 391L561.2 390.6L554.4 378.7L558.4 384.3L560.3 386.6L558.1 382L559.1 382.8L563.2 388.8L563.6 388.5L564.6 389.3L564.3 388L565.5 389.1L565.6 388.4L566.4 388.8L566.7 388.5L566.7 387.7L567.5 388.2L567.8 387.8L568.3 387.7L564.3 379.7L568.9 387L569.4 387L569.6 386.4L569.4 385.1L570.6 386.3L565.8 376.8L570.9 385L571.6 385.4L573.5 384.3L575.7 388.4ZM577.3 387.6L575.4 383.9L577.4 382.8L577.7 382.5L577.8 381.7L578.5 382.1L578.8 381.7L578.9 381L579.7 381.6L579.7 380.5L580.2 380.6L574.5 367.7L581.3 380.7L581.6 380.5L582.1 380.3L579.6 374L579.9 373.7L581.6 376.2L583.7 379.5L583.7 378.5L584.3 378.8L584.9 379.1L585 378.2L585.1 377.4L586 378.3L586.2 377.6L586.9 377.9L587.4 377.9L587.7 377.5L588.2 377.7L588.5 377.2L588.8 376.7L589.3 376.8L589.7 376.6L583.9 361.8L587.8 369.9L587.6 368.3L591.3 375.9L591.6 375.5L589 368L592.7 375.7L592.7 374.6L588 361.7L591.7 369.7L593.9 368.9L597.6 378.4ZM599.3 377.7L597.8 373.8L599.9 373L600 371.9L600.5 372L600.8 371.7L601.3 371.8L596.1 355.6L599.5 363.9L595.4 350.9L602.9 370.8L599.1 358.4L603 368.4L604.5 371.3L604.8 370.8L605.2 370.6L605.6 370.3L606 370.3L606.2 369.5L606.9 370L607.3 370L607.8 370.1L605.2 360.5L602 348.7L609.1 369.6L609.3 368.8L609.9 369.1L610.4 369.5L612.6 368.8L613.8 372.8ZM615 372.5L613.7 367.7L615.8 367.1L616.2 366.8L616.8 367.2L617.3 367.4L617.3 365.9L617.9 366.1L618.5 366.5L619 366.8L619.3 366.3L619.8 366.2L620.3 366.4L620.4 365.2L621 365.7L621.5 365.7L621.9 365.5L622.1 364.5L623 366L623.1 364.8L623.7 365.1L622 356.2L620.1 345.7L625 365L625.6 365.3L625.8 364.3L628 363.8L629.1 368.9ZM630.6 368.6L627.3 352.6L629.6 352.2L631.1 357.6L631 354.6L630.9 352L631 349.7L631.6 350.6L632.6 353.5L632.9 352.7L633.3 352.2L633.6 351.4L634.2 352.1L634.4 350.7L634.8 350L635.6 352L636 351.4L636.2 350.3L637.6 355.8L637.5 352L639.8 351.7L642 366.5ZM643.5 366.3L641.9 354.7L644.2 354.4L644.6 354.6L644.9 353.2L645.5 354.5L645.6 351.4L646 351.2L646.5 351.5L647.2 352.9L647.7 353.6L647.9 351.1L649.4 360.6L651.6 360.4L652.1 365.3Z" fill="#A1D99B" stroke="#3F9E5B" stroke-width="0.8" stroke-linejoin="round"/>
<path d="M887.6 355.6L937.2 305.6" stroke="#FEE0D2" stroke-width="0.5" opacity="0.5"/>
<path d="M821.3 422.3L887.6 355.6" stroke="#EDF8E9" stroke-width="0.5" opacity="0.35"/>
<path d="M370.8 534.6L300.8 526" stroke="#FEE0D2" stroke-width="0.5" opacity="0.5"/>
<path d="M464.1 546L370.8 534.6" stroke="#EDF8E9" stroke-width="0.5" opacity="0.35"/>
<path d="M376.5 502.2L307.9 486.1" stroke="#FEE0D2" stroke-width="0.5" opacity="0.5"/>
<path d="M468.1 523.6L376.5 502.2" stroke="#EDF8E9" stroke-width="0.5" opacity="0.35"/>
<path d="M403.1 430.8L340.6 398.2" stroke="#FEE0D2" stroke-width="0.5" opacity="0.5"/>
<path d="M486.4 474.3L403.1 430.8" stroke="#EDF8E9" stroke-width="0.5" opacity="0.35"/>
<path d="M679.1 92.1L679.2 88.3M684.3 92.2L684.4 88.4M689.4 92.4L689.5 88.6M694.5 92.6L694.7 88.8M699.7 92.8L699.9 89M704.8 93.2L705 89.4M709.9 93.5L710.2 89.7M715 93.9L715.4 90.2M720.1 94.4L720.5 90.6M730.4 95.5L730.8 91.8M735.5 96.2L735.9 92.4M740.5 96.9L741.1 93.1M745.6 97.6L746.2 93.9M750.7 98.4L751.3 94.7M755.8 99.3L756.4 95.6M760.8 100.2L761.5 96.5M765.9 101.2L766.6 97.4M770.9 102.2L771.7 98.5M780.9 104.4L781.8 100.7M785.9 105.6L786.8 101.9M790.9 106.8L791.8 103.1M795.9 108.1L796.8 104.4M800.8 109.4L801.8 105.8M805.8 110.8L806.8 107.2M810.7 112.3L811.8 108.7M815.6 113.8L816.7 110.2M820.5 115.3L821.7 111.7M830.2 118.6L831.5 115M835.1 120.3L836.4 116.7M839.9 122.1L841.2 118.5M844.7 123.9L846.1 120.3M849.5 125.8L850.9 122.2M854.3 127.7L855.7 124.2M859 129.6L860.5 126.1M863.7 131.7L865.2 128.2M868.4 133.7L870 130.3M877.8 138L879.4 134.6M882.4 140.2L884.1 136.8M887 142.5L888.7 139.1M891.6 144.8L893.3 141.4M896.1 147.2L897.9 143.8M900.7 149.6L902.5 146.2M905.2 152L907 148.7M909.7 154.6L911.5 151.3M914.1 157.1L916 153.8M922.9 162.4L924.9 159.1M927.3 165.1L929.3 161.9M931.6 167.8L933.7 164.6M936 170.6L938 167.4M940.2 173.5L942.4 170.3M944.5 176.3L946.6 173.2M948.7 179.3L950.9 176.2M952.9 182.2L955.1 179.2M957 185.3L959.3 182.2M965.3 191.4L967.6 188.4M969.3 194.6L971.7 191.6M973.3 197.8L975.7 194.8M977.3 201L979.7 198.1M1007.3 227.8L1009.9 225.1M1003.6 224.2L1006.2 221.5M999.8 220.7L1002.4 217.9M996.1 217.2L998.6 214.4M992.2 213.8L994.8 211M1014.6 235L1017.3 232.4M1018.2 238.7L1020.9 236.1M1021.7 242.4L1024.5 239.8M1025.2 246.2L1028 243.6M1028.7 250L1031.5 247.4M1032.1 253.8L1034.9 251.3M1035.5 257.7L1038.3 255.2M1038.8 261.6L1041.7 259.1M1042.1 265.5L1045 263.1M1048.6 273.5L1051.6 271.1M1051.8 277.5L1054.8 275.2M1054.9 281.6L1057.9 279.3M1058 285.7L1061 283.4M1061 289.8L1064.1 287.6M1064 294L1067.1 291.8M1067 298.2L1070.1 296M1069.9 302.4L1073 300.3M1072.7 306.7L1075.9 304.6M1078.3 315.3L1081.5 313.3M1081 319.7L1084.3 317.7M1083.7 324L1087 322.1M1086.3 328.5L1089.6 326.5M1088.9 332.9L1092.2 331M1091.5 337.4L1094.8 335.5M1093.9 341.9L1097.3 340M1096.4 346.4L1099.7 344.6M1098.8 350.9L1102.1 349.2M1103.4 360.1L1106.8 358.4M1105.6 364.7L1109.1 363.1M1107.8 369.4L1111.3 367.8M1110 374L1113.4 372.5M1112.1 378.7L1115.5 377.2M1114.1 383.4L1117.6 381.9M1116.1 388.2L1119.6 386.7M1118 392.9L1121.6 391.5M1119.9 397.7L1123.5 396.3M1123.5 407.3L1127.1 406M1125.3 412.1L1128.9 410.9M1127 417L1130.6 415.8M1134.3 440.4L1137.9 439.4M1135.7 445.4L1139.3 444.4M1137 450.3L1140.7 449.4M1138.3 455.3L1141.9 454.4M1139.5 460.3L1143.2 459.4M1140.6 465.3L1144.4 464.4M1141.8 470.3L1145.5 469.5M1142.8 475.3L1146.5 474.6M1143.8 480.4L1147.6 479.6M1145.7 490.5L1149.4 489.8M1146.5 495.5L1150.3 494.9M1147.3 500.6L1151.1 500M1148 505.7L1151.8 505.2M1148.7 510.8L1152.5 510.3M1149.3 515.9L1153.1 515.4M1149.9 521L1153.7 520.6M1150.4 526.1L1154.2 525.7M1150.9 531.2L1154.7 530.9M1151.6 541.4L1155.4 541.2M1151.9 546.6L1155.7 546.4M1152.2 551.7L1156 551.5M1152.4 556.8L1156.2 556.7M1152.5 562L1156.3 561.9M1152.6 567.1L1156.4 567.1M1152.6 572.2L1156.4 572.2M1152.6 577.4L1156.4 577.4M1152.5 582.5L1156.3 582.6M1152.1 592.8L1155.9 592.9M1151.9 597.9L1155.7 598.1M1151.6 603L1155.4 603.3M1151.2 608.2L1155 608.4M1150.8 613.3L1154.6 613.6M1150.3 618.4L1154.1 618.8M1149.8 623.5L1153.6 623.9M1149.2 628.6L1153 629M1148.6 633.7L1152.3 634.2M1147.1 643.9L1150.9 644.4M1146.3 648.9L1150.1 649.5M1145.5 654L1149.2 654.6M1144.6 659.1L1148.3 659.7M1143.6 664.1L1147.3 664.8M1142.6 669.1L1146.3 669.9M1141.5 674.2L1145.2 675M1140.4 679.2L1144.1 680M1139.2 684.2L1142.9 685.1M1136.7 694.1L1140.4 695.1M1135.4 699.1L1139 700.1M1134 704L1137.6 705.1M1127.1 725.9L1130.7 727.1M1125.5 730.7L1129 732M1123.7 735.6L1127.3 736.9M1122 740.4L1125.5 741.7M1120.1 745.2L1123.7 746.6M1118.2 750L1121.8 751.4M1116.3 754.7L1119.8 756.2M1114.3 759.5L1117.8 761M1112.3 764.2L1115.8 765.7M1108.1 773.5L1111.5 775.1M1105.9 778.2L1109.3 779.8M1103.6 782.8L1107 784.5M1101.4 787.4L1104.7 789.1M1099 792L1102.4 793.7M1096.6 796.5L1100 798.3M1094.2 801.1L1097.5 802.9M1091.7 805.6L1095 807.4M1089.2 810L1092.5 811.9M1084 818.9L1087.3 820.8M1081.3 823.3L1084.6 825.3M1078.6 827.6L1081.8 829.7M1075.8 832L1079 834M1073 836.3L1076.2 838.3M1070.2 840.5L1073.3 842.7M1067.3 844.8L1070.4 846.9M1064.3 849L1067.4 851.2M1061.3 853.1L1064.4 855.4M1055.2 861.4L1058.3 863.7M1052.1 865.5L1055.1 867.8M1048.9 869.5L1051.9 871.9M1045.7 873.5L1048.7 875.9M1042.5 877.5L1045.4 879.9M1039.2 881.4L1042.1 883.9M1035.8 885.3L1038.7 887.8M1032.5 889.2L1035.3 891.7M1029 893L1031.9 895.6M1022.1 900.6L1024.8 903.2M1018.5 904.3L1021.3 906.9M1015 908L1017.7 910.6M1011.3 911.6L1014 914.3M1007.7 915.2L1010.3 917.9M1004 918.8L1006.6 921.5M1000.2 922.3L1002.8 925.1M996.5 925.8L999 928.6M992.7 929.2L995.2 932.1M984.9 936L987.4 938.9M748.6 1045.3L749.1 1049.1M753.6 1044.5L754.3 1048.2M758.7 1043.6L759.4 1047.3M763.7 1042.6L764.4 1046.4M768.8 1041.6L769.5 1045.4M773.8 1040.6L774.6 1044.3M778.8 1039.5L779.6 1043.2M783.8 1038.3L784.7 1042M788.8 1037.1L789.7 1040.8M798.7 1034.5L799.7 1038.2M803.7 1033.2L804.7 1036.8M808.6 1031.7L809.7 1035.4M813.5 1030.2L814.6 1033.9M818.4 1028.7L819.6 1032.3M823.3 1027.1L824.5 1030.7M828.2 1025.5L829.4 1029.1M833 1023.8L834.3 1027.4M837.9 1022.1L839.2 1025.6M847.5 1018.4L848.9 1022M852.2 1016.5L853.7 1020.1M857 1014.6L858.5 1018.1M861.7 1012.6L863.2 1016.1M866.4 1010.6L868 1014M871.1 1008.5L872.7 1011.9M875.8 1006.3L877.4 1009.8M880.4 1004.1L882.1 1007.5M885.1 1001.9L886.7 1005.3M894.2 997.2L896 1000.6M898.8 994.8L900.6 998.2M903.3 992.4L905.1 995.7M907.8 989.9L909.6 993.2M912.2 987.4L914.1 990.7M916.7 984.8L918.6 988.1M921.1 982.2L923 985.4M925.5 979.5L927.5 982.7M929.8 976.7L931.9 980M938.4 971.2L940.5 974.3M942.7 968.3L944.8 971.4M946.9 965.4L949.1 968.5M951.1 962.4L953.3 965.5M955.3 959.4L957.5 962.5M959.4 956.4L961.7 959.4M963.5 953.3L965.8 956.3M967.6 950.2L969.9 953.2M724.7 1048.5L725.1 1052.3M719.6 1049L719.9 1052.8M714.5 1049.5L714.8 1053.3M709.3 1049.9L709.6 1053.7M704.2 1050.3L704.5 1054.1M699.1 1050.6L699.3 1054.4M694 1050.8L694.1 1054.6M688.8 1051L689 1054.8M683.7 1051.2L683.8 1055M673.4 1051.3L673.4 1055.1M668.3 1051.3L668.3 1055.1M663.2 1051.2L663.1 1055M658 1051.1L657.9 1054.9M652.9 1050.9L652.7 1054.7M647.8 1050.6L647.6 1054.4M642.6 1050.3L642.4 1054.1M637.5 1050L637.2 1053.8M632.4 1049.6L632.1 1053.4M622.2 1048.6L621.8 1052.4M617.1 1048L616.6 1051.8M612 1047.4L611.5 1051.2M606.9 1046.7L606.4 1050.5M601.8 1046L601.2 1049.7M596.7 1045.2L596.1 1048.9M591.7 1044.4L591 1048.1M586.6 1043.5L585.9 1047.2M581.6 1042.5L580.8 1046.2M571.5 1040.4L570.7 1044.1M566.5 1039.3L565.6 1043M561.5 1038.2L560.6 1041.9M556.5 1036.9L555.6 1040.6M551.5 1035.7L550.6 1039.3M546.6 1034.3L545.6 1038M541.6 1033L540.6 1036.6M536.7 1031.5L535.6 1035.2M531.8 1030L530.6 1033.7M522 1026.9L520.8 1030.5M345.4 922L342.8 924.7M349.2 925.5L346.6 928.3M353 928.9L350.4 931.7M356.8 932.3L354.3 935.2M360.7 935.7L358.2 938.6M364.6 939L362.2 941.9M368.5 942.3L366.1 945.2M372.5 945.5L370.2 948.5M376.6 948.7L374.2 951.7M384.7 955L382.4 958M388.8 958L386.6 961.1M393 961.1L390.7 964.1M397.2 964L395 967.1M401.4 967L399.2 970.1M405.6 969.8L403.5 973M409.9 972.7L407.8 975.9M414.2 975.5L412.2 978.7M418.5 978.2L416.5 981.5M427.3 983.6L425.4 986.8M431.7 986.2L429.8 989.5M436.2 988.8L434.3 992.1M440.7 991.3L438.8 994.6M445.2 993.7L443.4 997.1M449.7 996.1L447.9 999.5M454.3 998.5L452.5 1001.9M458.8 1000.8L457.1 1004.2M463.4 1003.1L461.8 1006.5M472.7 1007.5L471.1 1010.9M477.4 1009.6L475.9 1013.1M482.1 1011.7L480.6 1015.2M486.8 1013.7L485.4 1017.2M491.6 1015.7L490.1 1019.2M496.3 1017.6L494.9 1021.1M501.1 1019.4L499.8 1023M505.9 1021.3L504.6 1024.8M237 771.5L233.5 773M239.1 776.1L235.7 777.7M241.4 780.7L237.9 782.4M243.6 785.4L240.2 787M245.9 789.9L242.5 791.7M248.3 794.5L244.9 796.3M250.7 799L247.4 800.8M253.2 803.5L249.8 805.4M255.7 808L252.4 809.9M260.8 816.9L257.6 818.8M263.5 821.3L260.2 823.3M266.2 825.7L262.9 827.7M268.9 830L265.7 832.1M271.7 834.3L268.5 836.4M274.5 838.6L271.4 840.7M277.4 842.9L274.3 845M280.3 847.1L277.2 849.3M283.3 851.3L280.2 853.5M289.4 859.6L286.3 861.8M292.5 863.6L289.5 866M295.6 867.7L292.7 870M298.8 871.7L295.9 874.1M302.1 875.7L299.1 878.1M305.3 879.7L302.4 882.1M308.7 883.6L305.8 886.1M312 887.5L309.2 890M315.4 891.3L312.6 893.8M322.3 898.9L319.6 901.5M325.9 902.6L323.1 905.3M329.4 906.3L326.7 909M227.4 749.2L223.9 750.6M225.6 744.4L222 745.7M223.7 739.6L220.2 740.9M222 734.8L218.4 736M220.2 729.9L216.7 731.2M218.6 725.1L215 726.3M217 720.2L213.4 721.4M215.4 715.3L211.8 716.4M213.9 710.4L210.3 711.5M211 700.5L207.4 701.5M209.7 695.6L206 696.6M208.4 690.6L204.7 691.5M207.1 685.6L203.4 686.5M205.9 680.6L202.2 681.5M204.8 675.6L201.1 676.4M203.7 670.6L200 671.4M202.7 665.6L198.9 666.3M201.7 660.5L198 661.2M199.9 650.4L196.2 651M199.1 645.3L195.3 645.9M198.3 640.3L194.6 640.8M197.6 635.2L193.9 635.7M197 630.1L193.2 630.5M196.4 625L192.6 625.4M195.8 619.9L192 620.3M195.3 614.8L191.6 615.1M194.9 609.7L191.1 610M194.2 599.4L190.4 599.6M196.4 518.4L192.6 517.9M195.8 523.5L192.1 523.1M195.3 528.6L191.6 528.2M194.9 533.7L191.1 533.4M194.5 538.8L190.7 538.5M194.2 543.9L190.4 543.7M193.9 549.1L190.1 548.9M193.7 554.2L189.9 554.1M193.6 559.3L189.8 559.2M193.4 569.6L189.6 569.6M193.4 574.7L189.6 574.8M193.5 579.9L189.7 579.9M197.6 508.2L193.9 507.7M198.3 503.1L194.6 502.5M199.1 498L195.3 497.4M199.9 492.9L196.2 492.3M200.8 487.9L197 487.2M201.7 482.8L198 482.1M202.7 477.8L199 477M203.7 472.7L200 472M204.8 467.7L201.1 466.9M211.7 440.4L208.1 439.4M210.3 445.4L206.7 444.4M209 450.3L205.3 449.4M207.7 455.3L204.1 454.4M206.5 460.3L202.8 459.4M219.4 416L215.8 414.8M221.1 411.2L217.5 409.9M222.8 406.3L219.2 405M224.6 401.5L221.1 400.2M226.5 396.7L222.9 395.3M228.4 392L224.8 390.5M230.3 387.2L226.8 385.7M232.3 382.5L228.8 381M234.4 377.8L230.9 376.2M238.6 368.4L235.2 366.8M240.8 363.8L237.4 362.1M243.1 359.2L239.7 357.5M245.4 354.6L242 352.9M247.7 350L244.3 348.2M250.2 345.3L246.9 343.5M252.7 340.7L249.3 338.9M255.2 336.3L251.9 334.4M257.7 331.8L254.4 329.9M260.3 327.4L257 325.4M262.9 323L259.7 321M265.6 318.6L262.4 316.6M268.4 314.2L265.2 312.2M271.1 309.9L268 307.8M276.8 301.4L273.7 299.2M279.8 297.1L276.6 295M282.7 293L279.6 290.7M285.7 288.8L282.7 286.5M288.8 284.7L285.7 282.4M302.7 266.9L299.8 264.5M306 262.9L303.1 260.5M309.3 259L306.5 256.5M312.7 255.1L309.9 252.6M316.1 251.3L313.3 248.8M319.6 247.5L316.8 244.9M323.1 243.7L320.3 241.1M326.6 240L323.9 237.4M330.2 236.3L327.5 233.7M337.4 229L334.8 226.3M351.9 215.5L349.3 212.7M355.7 212.1L353.2 209.2M359.6 208.7L357.1 205.8M363.5 205.4L361 202.5M367.4 202.1L365 199.1M371.4 198.8L369 195.9M375.4 195.6L373 192.6M379.4 192.4L377.1 189.4M383.5 189.3L381.2 186.3M391.8 183.2L389.5 180.1M395.9 180.2L393.7 177.1M400.1 177.3L398 174.2M404.4 174.4L402.3 171.2M408.7 171.5L406.6 168.4M413 168.7L410.9 165.5M417.3 166L415.3 162.7M421.6 163.2L419.7 160M426 160.6L424.1 157.3M434.9 155.4L433 152.1M439.4 152.9L437.5 149.5M460.9 141.5L459.2 138.1M465.5 139.3L463.9 135.9M470.2 137.1L468.6 133.7M474.8 135L473.3 131.5M479.5 132.9L478 129.4M484.2 130.8L482.7 127.3M489 128.8L487.5 125.3M493.7 126.9L492.3 123.3M512.2 119.9L511 116.3M517.1 118.2L515.8 114.6M521.9 116.5L520.7 112.9M526.8 114.9L525.7 111.3M548.8 108.5L547.8 104.8M553.8 107.2L552.8 103.5M558.8 105.9L557.9 102.2M563.8 104.7L562.9 101M585 100.2L584.3 96.5M590 99.3L589.4 95.6M595.1 98.5L594.5 94.7M615 95.6L614.5 91.8" stroke="#222" stroke-width="0.75" fill="none"/>
<path d="M674 92.1L674 83.9M725.3 95L726.1 86.8M775.9 103.3L777.7 95.3M825.4 117L828 109.2M873.1 135.8L876.5 128.4M918.5 159.7L922.7 152.7M961.2 188.3L966.1 181.8M1010.9 231.4L1016.7 225.6M1010.9 231.4L1016.7 225.6M1045.4 269.5L1051.7 264.3M1075.5 311L1082.4 306.5M1101.1 355.5L1108.4 351.8M1121.8 402.5L1129.4 399.6M1132.8 435.5L1140.7 433.2M1144.8 485.4L1152.8 483.9M1151.3 536.3L1159.5 535.7M1152.3 587.6L1160.5 587.9M1147.9 638.8L1156 639.9M1138 689.1L1145.9 691.2M1128.8 721L1136.6 723.6M1110.2 768.9L1117.7 772.2M1086.6 814.5L1093.7 818.6M1058.3 857.3L1064.9 862.2M1025.6 896.8L1031.6 902.4M988.8 932.6L994.2 938.8M743.5 1046.1L744.7 1054.2M793.8 1035.8L795.8 1043.8M842.7 1020.3L845.6 1027.9M889.7 999.6L893.4 1006.9M934.1 974L938.6 980.8M729.8 1047.9L730.8 1056.1M678.6 1051.3L678.7 1059.5M627.3 1049.1L626.5 1057.3M576.5 1041.5L574.9 1049.5M526.9 1028.5L524.4 1036.3M341.7 918.4L336 924.4M380.6 951.9L375.6 958.4M422.9 980.9L418.6 987.9M468.1 1005.3L464.6 1012.7M234.9 766.8L227.4 770.1M258.2 812.5L251.1 816.6M286.3 855.4L279.7 860.3M318.9 895.1L312.8 900.7M229.4 753.9L221.8 757M212.4 705.5L204.6 707.8M200.8 655.5L192.7 656.9M194.5 604.5L186.3 605.1M197 513.3L188.8 512.3M193.5 564.5L185.3 564.3M197 513.3L188.8 512.3M205.9 462.7L198 460.8M213.2 435.5L205.3 433.2M217.7 420.9L210 418.3M236.5 373.1L229 369.7M247.8 349.8L240.6 346M274 305.6L267.1 301.1M299.5 270.9L293.1 265.7M333.8 232.7L328 226.9M348.1 219L342.5 212.9M387.6 186.2L382.7 179.7M430.5 158L426.3 150.9M456.3 143.8L452.6 136.5M507.4 121.6L504.6 113.9M543.9 109.8L541.7 101.9M579.9 101.2L578.3 93.2M609.9 96.3L608.8 88.1" stroke="#222" stroke-width="0.85" fill="none"/>
<path d="M674 92.1 A479.6 479.6 0 0 1 978.4 201.9 L971.6 210.1 A469 469 0 0 0 674 102.7Z" fill="#996600" stroke="#000" stroke-width="1.3" stroke-linejoin="miter"/>
<path d="M989.2 211.1 A479.6 479.6 0 0 1 1010.9 231.4 L1003.5 238.9 A469 469 0 0 0 982.2 219.1Z" fill="#00FFFF" stroke="#000" stroke-width="1.3" stroke-linejoin="miter"/>
<path d="M1010.9 231.4 A479.6 479.6 0 0 1 1128.3 421.1 L1118.3 424.4 A469 469 0 0 0 1003.5 238.9Z" fill="#FF0000" stroke="#000" stroke-width="1.3" stroke-linejoin="miter"/>
<path d="M1132.8 435.5 A479.6 479.6 0 0 1 1133 707.4 L1122.8 704.4 A469 469 0 0 0 1122.7 438.5Z" fill="#6B6B00" stroke="#000" stroke-width="1.3" stroke-linejoin="miter"/>
<path d="M1128.8 721 A479.6 479.6 0 0 1 981.7 938.7 L974.9 930.6 A469 469 0 0 0 1118.7 717.7Z" fill="#9C9C22" stroke="#000" stroke-width="1.3" stroke-linejoin="miter"/>
<path d="M970.8 947.7 A479.6 479.6 0 0 1 743.5 1046.1 L741.9 1035.6 A469 469 0 0 0 964.2 939.4Z" fill="#CC0000" stroke="#000" stroke-width="1.3" stroke-linejoin="miter"/>
<path d="M729.8 1047.9 A479.6 479.6 0 0 1 520 1026.2 L523.4 1016.2 A469 469 0 0 0 728.5 1037.4Z" fill="#FF00CC" stroke="#000" stroke-width="1.3" stroke-linejoin="miter"/>
<path d="M507 1021.7 A479.6 479.6 0 0 1 341.7 918.4 L349 910.8 A469 469 0 0 0 510.7 1011.7Z" fill="#FFCCCC" stroke="#000" stroke-width="1.3" stroke-linejoin="miter"/>
<path d="M331.7 908.6 A479.6 479.6 0 0 1 234.9 766.8 L244.5 762.5 A469 469 0 0 0 339.2 901.2Z" fill="#FF9900" stroke="#000" stroke-width="1.3" stroke-linejoin="miter"/>
<path d="M229.4 753.9 A479.6 479.6 0 0 1 194.1 597.9 L204.7 597.3 A469 469 0 0 0 239.2 749.9Z" fill="#FFCC00" stroke="#000" stroke-width="1.3" stroke-linejoin="miter"/>
<path d="M193.5 583.6 A479.6 479.6 0 0 1 197 513.3 L207.5 514.5 A469 469 0 0 0 204.1 583.3Z" fill="#2E7D00" stroke="#000" stroke-width="1.3" stroke-linejoin="miter"/>
<path d="M197 513.3 A479.6 479.6 0 0 1 206.1 462.2 L216.4 464.6 A469 469 0 0 0 207.5 514.5Z" fill="#6699FF" stroke="#000" stroke-width="1.3" stroke-linejoin="miter"/>
<path d="M206.1 462.2 A479.6 479.6 0 0 1 213.2 435.5 L223.3 438.5 A469 469 0 0 0 216.4 464.6Z" fill="#CCFFFF" stroke="#000" stroke-width="1.3" stroke-linejoin="miter"/>
<path d="M217.7 420.9 A479.6 479.6 0 0 1 247.8 349.8 L257.2 354.7 A469 469 0 0 0 227.8 424.2Z" fill="#00EE00" stroke="#000" stroke-width="1.3" stroke-linejoin="miter"/>
<path d="M247.8 349.8 A479.6 479.6 0 0 1 290.4 282.5 L298.8 288.9 A469 469 0 0 0 257.2 354.7Z" fill="#CCFF00" stroke="#000" stroke-width="1.3" stroke-linejoin="miter"/>
<path d="M299.5 270.9 A479.6 479.6 0 0 1 337.4 229 L344.9 236.6 A469 469 0 0 0 307.7 277.5Z" fill="#0000CC" stroke="#000" stroke-width="1.3" stroke-linejoin="miter"/>
<path d="M348.1 219 A479.6 479.6 0 0 1 443.7 150.5 L448.8 159.8 A469 469 0 0 0 355.2 226.7Z" fill="#FFFF00" stroke="#000" stroke-width="1.3" stroke-linejoin="miter"/>
<path d="M456.3 143.8 A479.6 479.6 0 0 1 494 126.8 L497.9 136.6 A469 469 0 0 0 461.1 153.3Z" fill="#99CCFF" stroke="#000" stroke-width="1.3" stroke-linejoin="miter"/>
<path d="M507.4 121.6 A479.6 479.6 0 0 1 531.3 113.5 L534.4 123.7 A469 469 0 0 0 511.1 131.5Z" fill="#9900CC" stroke="#000" stroke-width="1.3" stroke-linejoin="miter"/>
<path d="M543.9 109.8 A479.6 479.6 0 0 1 566.6 104.1 L568.9 114.4 A469 469 0 0 0 546.7 120Z" fill="#CC33FF" stroke="#000" stroke-width="1.3" stroke-linejoin="miter"/>
<path d="M579.9 101.2 A479.6 479.6 0 0 1 596.4 98.3 L598.1 108.7 A469 469 0 0 0 582 111.6Z" fill="#CC99FF" stroke="#000" stroke-width="1.3" stroke-linejoin="miter"/>
<path d="M609.9 96.3 A479.6 479.6 0 0 1 619.7 95.1 L620.9 105.6 A469 469 0 0 0 611.3 106.8Z" fill="#666666" stroke="#000" stroke-width="1.3" stroke-linejoin="miter"/>
<path d="M678.3 104.3L680.3 104.4L680.1 112.6L678.2 112.5ZM690.7 104.6L692.7 104.7L692.4 112.9L690.4 112.8ZM694.4 104.8L696.4 104.9L696 113.1L694 113ZM701.2 105.1L703.2 105.3L702.7 113.5L700.7 113.3ZM703.1 105.3L706.4 105.5L705.8 113.7L702.6 113.5ZM732.8 108.1L734.8 108.4L733.7 116.5L731.8 116.3ZM737.9 108.8L739.9 109.1L738.8 117.2L736.8 117ZM743.1 109.6L745.1 109.9L743.8 118L741.8 117.7ZM749.2 110.6L751.2 110.9L749.8 119L747.9 118.6ZM774.8 115.5L776.8 116L774.9 124L773 123.5ZM779.9 116.7L781.9 117.2L780 125.1L778.1 124.7ZM813.1 125.8L815 126.4L812.5 134.2L810.6 133.6ZM827.2 130.5L829.1 131.1L826.4 138.9L824.5 138.2ZM857.2 142.1L859.1 142.9L855.8 150.5L854 149.7ZM877.4 151.4L879.2 152.3L875.6 159.6L873.8 158.7ZM926 178.7L927.6 179.8L923.2 186.6L921.5 185.6ZM930.8 181.8L932.5 183L928 189.8L926.3 188.7ZM934.7 184.5L936.4 185.6L931.8 192.4L930.1 191.3ZM938.5 187.1L941.2 188.9L936.5 195.6L933.9 193.8ZM948.9 194.4L950.5 195.6L945.7 202.2L944.1 201.1ZM954.4 198.5L957 200.4L952 207L949.4 205ZM961.1 203.6L962.6 204.9L957.6 211.3L956 210.1ZM963.5 205.5L965.1 206.8L959.9 213.2L958.4 212ZM965.8 207.4L967.4 208.7L962.2 215L960.7 213.8ZM984.3 223.1L986.7 225.3L981.2 231.3L978.9 229.2ZM991.9 230L993.4 231.4L987.8 237.4L986.3 236ZM997.9 235.7L1001.1 238.9L995.4 244.7L992.2 241.6ZM1003.7 241.4L1005.1 242.8L999.3 248.6L997.9 247.2ZM1007.6 245.3L1009 246.8L1003.1 252.5L1001.7 251ZM1011.7 249.6L1014.8 252.9L1008.8 258.5L1005.8 255.2ZM1029.8 269.7L1031.1 271.3L1024.8 276.5L1023.5 275ZM1034.8 275.7L1036.8 278.3L1030.4 283.4L1028.4 280.9ZM1040.6 283.1L1041.9 284.6L1035.4 289.7L1034.2 288.1ZM1043.4 286.7L1044.7 288.3L1038.1 293.2L1036.9 291.7ZM1051.7 297.7L1052.8 299.3L1046.2 304.1L1045 302.5ZM1053.8 300.7L1054.9 302.3L1048.2 307L1047.1 305.4ZM1065.1 317.2L1066.2 318.9L1059.3 323.4L1058.2 321.7ZM1099 379.3L1099.8 381.1L1092.3 384.5L1091.5 382.7ZM1103.6 390L1104.4 391.8L1096.8 395L1096.1 393.2ZM1107.8 400.3L1109 403.3L1101.4 406.3L1100.2 403.3ZM1114.4 418L1115.1 419.9L1107.3 422.6L1106.7 420.7ZM1121.2 439.1L1122.1 442.3L1114.2 444.6L1113.3 441.5ZM1123.1 445.6L1123.6 447.5L1115.7 449.7L1115.2 447.8ZM1125.1 453.3L1125.7 455.2L1117.7 457.3L1117.2 455.3ZM1131 478.6L1131.4 480.6L1123.4 482.2L1123 480.3ZM1135.5 504.3L1135.8 506.3L1127.7 507.4L1127.4 505.5ZM1135.8 506.5L1136.1 508.5L1128 509.6L1127.7 507.6ZM1140.1 555.6L1140.2 557.7L1132 557.9L1131.9 555.9ZM1140.4 570.8L1140.4 572.8L1132.2 572.8L1132.2 570.8ZM1139.8 594.7L1139.7 596.7L1131.5 596.2L1131.6 594.3ZM1139.6 599.4L1139.4 602.7L1131.2 602.2L1131.4 599ZM1139.2 605L1139.1 607L1130.9 606.4L1131 604.4ZM1138.8 609.8L1138.7 611.8L1130.5 611.1L1130.7 609.1ZM1138.5 614.2L1138.3 616.2L1130.1 615.4L1130.3 613.5ZM1129.8 670.8L1129.1 674L1121.1 672.2L1121.8 669.1ZM1127.4 681.2L1126.6 684.4L1118.7 682.4L1119.4 679.3ZM1125.7 688.2L1125.1 690.1L1117.2 688.1L1117.7 686.1ZM1124.2 693.7L1123.7 695.6L1115.8 693.4L1116.3 691.5ZM1122.9 698.4L1122.4 700.3L1114.5 698.1L1115 696.2ZM1115.6 721.9L1114.9 723.8L1107.2 721.2L1107.8 719.3ZM1114.2 726L1113.5 727.9L1105.8 725.2L1106.5 723.3ZM1110.9 735L1110.2 736.9L1102.5 734L1103.2 732.2ZM1109.2 739.7L1107.5 743.9L1099.9 740.9L1101.5 736.8ZM1106.6 746.2L1105.9 748L1098.3 744.9L1099 743.1ZM1105.1 749.8L1104.3 751.7L1096.8 748.6L1097.5 746.7ZM1091.6 779.6L1090.2 782.5L1082.9 778.8L1084.3 775.9ZM1067 823.1L1065.9 824.8L1059.1 820.3L1060.1 818.7ZM1050.4 847.4L1049.2 849L1042.6 844.2L1043.8 842.6ZM1023.1 881.3L1021.8 882.8L1015.7 877.4L1017 875.9ZM1020.6 884.2L1019.2 885.7L1013.1 880.2L1014.5 878.7ZM1016.4 888.7L1015.1 890.2L1009.1 884.6L1010.4 883.2ZM1012 893.4L1010.7 894.9L1004.7 889.2L1006.1 887.8ZM1008.2 897.4L1006.8 898.9L1000.9 893.1L1002.3 891.7ZM995.5 910L991.3 914L985.7 908L989.9 904ZM986.2 918.6L984.7 920L979.2 913.9L980.7 912.6ZM982.3 922.1L980.8 923.4L975.4 917.3L976.9 916ZM977.5 926.3L976 927.6L970.6 921.4L972.2 920.1ZM959.1 941.3L957.5 942.5L952.5 936L954.1 934.8ZM953.7 945.4L952.1 946.6L947.2 940L948.8 938.8ZM950.8 947.6L949.2 948.8L944.4 942.1L946 941ZM946.2 951L944.5 952.1L939.8 945.5L941.4 944.3ZM940.7 954.9L935.9 958.2L931.3 951.4L936 948.1ZM923.4 966.4L920.6 968.1L916.3 961.2L919 959.4ZM912.6 973L910.9 974.1L906.7 967L908.4 966ZM905.9 976.9L904.2 977.9L900.1 970.8L901.8 969.8ZM897.3 981.8L895.5 982.8L891.6 975.5L893.3 974.6ZM875.7 992.8L873.9 993.7L870.4 986.3L872.2 985.5ZM861.5 999.4L859.7 1000.2L856.4 992.7L858.2 991.9ZM833.6 1010.6L831.7 1011.3L828.9 1003.6L830.8 1002.9ZM825.3 1013.6L823.4 1014.3L820.7 1006.5L822.6 1005.8ZM822 1014.7L818.9 1015.7L816.4 1007.9L819.4 1006.9ZM807.2 1019.4L804.1 1020.3L801.8 1012.5L804.9 1011.6ZM793.4 1023.3L791.5 1023.8L789.4 1015.9L791.3 1015.4ZM781.5 1026.3L779.5 1026.8L777.6 1018.8L779.6 1018.4ZM779.3 1026.8L777.4 1027.3L775.5 1019.3L777.5 1018.9ZM773.9 1028.1L771.9 1028.5L770.2 1020.5L772.1 1020.1ZM760.4 1030.9L758.4 1031.2L756.9 1023.2L758.9 1022.8ZM726.2 1036.1L724.2 1036.3L723.3 1028.1L725.3 1027.9ZM721.4 1036.6L719.4 1036.8L718.6 1028.6L720.5 1028.4ZM714.7 1037.2L712.7 1037.4L712 1029.2L714 1029.1ZM709.9 1037.6L707.9 1037.8L707.3 1029.6L709.2 1029.5ZM705.7 1038L702.5 1038.2L702 1030L705.2 1029.8ZM700.6 1038.3L698.6 1038.4L698.2 1030.2L700.1 1030.1ZM693.1 1038.7L689.8 1038.8L689.5 1030.6L692.7 1030.5ZM625.2 1036.6L623.2 1036.4L624 1028.3L626 1028.5ZM603.4 1033.9L601.4 1033.6L602.6 1025.5L604.6 1025.8ZM594.1 1032.4L592.1 1032.1L593.5 1024L595.5 1024.3ZM588.4 1031.4L586.4 1031L587.9 1023L589.9 1023.3ZM561 1025.5L559.1 1025L561.1 1017.1L563 1017.5ZM548 1022.1L546 1021.5L548.3 1013.6L550.2 1014.2ZM543.1 1020.7L541.2 1020.1L543.5 1012.3L545.4 1012.8ZM535.9 1018.5L533.9 1017.9L536.4 1010.1L538.3 1010.7ZM531 1017L529.1 1016.4L531.6 1008.6L533.5 1009.2ZM497.2 1004.8L495.4 1004L498.5 996.4L500.3 997.2ZM492.9 1003L489.8 1001.7L493.1 994.2L496 995.4ZM489 1001.3L486 1000L489.2 992.5L492.2 993.8ZM472.4 993.9L470.6 993L474.2 985.6L476 986.5ZM465.1 990.3L463.3 989.4L467 982.1L468.7 983ZM404.9 954.6L403.2 953.4L408 946.7L409.6 947.8ZM398.1 949.7L396.5 948.5L401.3 941.9L402.9 943.1ZM374 930.9L372.4 929.6L377.7 923.3L379.2 924.6ZM370.9 928.3L369.4 927L374.7 920.8L376.2 922.1ZM368.4 926.2L366.9 924.9L372.2 918.7L373.7 920ZM363.2 921.7L361.7 920.4L367.2 914.2L368.7 915.6ZM356.4 915.5L354.9 914.2L360.5 908.2L362 909.5ZM334.2 893.7L332.8 892.2L338.8 886.6L340.2 888.1ZM329.1 888.2L327.7 886.7L333.8 881.2L335.1 882.6ZM322.8 881.3L321.5 879.8L327.7 874.4L329 875.9ZM317.3 875L315.2 872.5L321.5 867.2L323.6 869.6ZM314.6 871.7L312.5 869.2L318.8 863.9L320.9 866.4ZM311.9 868.5L310.6 866.9L317 861.7L318.2 863.2ZM302 856L300.8 854.4L307.3 849.4L308.5 851ZM291.3 841.5L290.2 839.8L296.9 835.1L298 836.7ZM288.6 837.6L287.5 835.9L294.2 831.3L295.4 832.9ZM286.5 834.6L285.4 832.9L292.2 828.3L293.3 829.9ZM272.4 812.5L271.4 810.8L278.4 806.6L279.4 808.3ZM270.9 810L269.9 808.3L277 804.1L278 805.8ZM260.9 792.3L260 790.5L267.2 786.7L268.2 788.4ZM255.2 781.3L253.2 777.3L260.6 773.7L262.6 777.7ZM252.3 775.3L251.4 773.5L258.8 770L259.7 771.8ZM249.9 770.3L249 768.5L256.5 765L257.3 766.8ZM246.6 763.1L245.8 761.3L253.3 757.9L254.1 759.8ZM239.5 746.5L238.8 744.7L246.4 741.6L247.1 743.5ZM233.8 731.5L232.7 728.4L240.4 725.7L241.5 728.7ZM232.2 727.2L231.1 724.1L238.9 721.4L240 724.5ZM206.7 604.3L206.6 602.3L214.8 601.7L214.9 603.7ZM206.9 607.1L206.8 605.1L215 604.5L215.1 606.5ZM207.5 613.5L207.2 610.3L215.4 609.6L215.6 612.8ZM207.7 616.2L207.5 614.2L215.7 613.4L215.9 615.4ZM208.6 624.8L208.4 622.8L216.6 621.9L216.8 623.9ZM205.7 582.5L205.7 580.5L213.9 580.3L213.9 582.3ZM205.7 564.7L205.7 561.4L213.9 561.6L213.9 564.8ZM205.7 561.4L205.8 558.2L214 558.4L213.9 561.6ZM205.8 557.6L205.9 555.5L214.1 555.8L214 557.8ZM205.9 554.5L206.1 549.9L214.3 550.3L214.1 554.8ZM206.1 549.7L206.4 545.1L214.5 545.6L214.3 550.1ZM206.4 544L206.6 540.8L214.8 541.3L214.6 544.5ZM206.7 539.7L206.8 537.7L215 538.3L214.9 540.3ZM207.4 530.4L207.7 527.1L215.9 527.9L215.6 531.1ZM207.8 526.7L208.1 523.4L216.3 524.3L215.9 527.5ZM209.5 511.5L209.9 508.3L218 509.4L217.6 512.6ZM210 507.8L210.6 503.3L218.7 504.5L218.1 508.9ZM210.5 503.9L211 500.7L219.1 501.9L218.7 505.1ZM212.1 493.9L212.5 491.9L220.5 493.3L220.2 495.2ZM213.1 488.5L213.4 486.5L221.5 488L221.1 489.9ZM214.6 480.5L215 478.5L223 480.1L222.6 482.1ZM215 478.5L215.9 474L223.9 475.7L223 480.1ZM216 473.4L216.7 470.2L224.8 472L224.1 475.2ZM216.7 470.7L217.4 467.5L225.4 469.3L224.7 472.4ZM218.1 464.2L218.6 462.3L226.6 464.2L226.1 466.1ZM222.7 446.4L223.6 443.2L231.5 445.5L230.6 448.6ZM223.9 442L224.9 438.9L232.7 441.2L231.8 444.3ZM211.1 643L210.8 641L218.9 639.8L219.2 641.8ZM212.2 650.2L211.7 646.9L219.8 645.6L220.3 648.8ZM212.8 653.6L212.3 650.4L220.4 649L220.9 652.2ZM213.5 657L213.1 655L221.2 653.6L221.5 655.5ZM215 665.2L214.6 663.2L222.7 661.6L223.1 663.6ZM215.6 667.8L215.2 665.8L223.2 664.2L223.6 666.1ZM216 669.9L215.6 667.9L223.6 666.2L224 668.2ZM216.5 672.1L216.1 670.2L224.1 668.4L224.5 670.4ZM218.2 679.4L217.4 676.2L225.4 674.4L226.2 677.5ZM219.2 683.8L218.2 679.4L226.2 677.5L227.2 681.9ZM220.1 687.3L219.3 684.1L227.3 682.1L228.1 685.2ZM220.9 690.5L220.4 688.5L228.4 686.5L228.9 688.4ZM221.9 694L221.4 692.1L229.3 690L229.8 691.9ZM222.9 697.8L222.4 695.9L230.3 693.7L230.8 695.6ZM224.3 702.5L223.7 700.6L231.6 698.3L232.2 700.2ZM225.2 705.7L224.6 703.7L232.5 701.4L233.1 703.3ZM228.4 715.9L227.8 714L235.6 711.5L236.2 713.4ZM230.4 421.4L231.1 419.5L238.8 422.1L238.2 424ZM231.8 417.5L233.3 413.2L241 416L239.5 420.2ZM234.1 411L235.7 406.8L243.3 409.7L241.8 413.9ZM238.1 400.5L238.8 398.6L246.5 401.6L245.7 403.5ZM239.7 396.3L240.5 394.5L248.1 397.6L247.3 399.4ZM240.8 393.7L242.1 390.7L249.6 393.9L248.4 396.9ZM242.3 390.2L243.6 387.2L251.1 390.4L249.8 393.4ZM245.5 382.8L246.3 381L253.8 384.3L253 386.1ZM247.9 377.5L248.7 375.7L256.1 379.1L255.3 380.9ZM250.7 371.5L252.1 368.5L259.5 372.1L258.1 375ZM252.5 367.6L253.4 365.8L260.8 369.4L259.9 371.2ZM255.3 362L257.3 358L264.6 361.7L262.6 365.7ZM259.6 353.6L260.6 351.8L267.8 355.7L266.9 357.4ZM264.9 343.9L267.1 340L274.2 344L272 347.9ZM267.3 339.6L268.3 337.8L275.4 341.9L274.4 343.6ZM272.2 331.2L274.6 327.4L281.5 331.6L279.2 335.5ZM274.4 327.6L275.5 325.9L282.4 330.2L281.4 331.9ZM278.5 321.1L279.5 319.4L286.5 323.8L285.4 325.5ZM285.4 310.5L286.5 308.8L293.3 313.5L292.2 315.1ZM327.5 256.9L328.9 255.4L334.9 260.9L333.6 262.4ZM335.6 248.2L337 246.8L342.9 252.5L341.5 253.9ZM341.5 242.2L342.9 240.8L348.7 246.6L347.3 248ZM369 216.7L370.5 215.4L375.8 221.7L374.3 222.9ZM375.7 211L378.2 209L383.4 215.3L380.9 217.4ZM379.3 208.1L381.8 206.1L386.9 212.5L384.4 214.5ZM382.6 205.5L387.2 201.9L392.2 208.4L387.7 211.9ZM410.5 185L412.1 183.9L416.7 190.7L415.1 191.8ZM431.2 171.7L432.9 170.7L437.1 177.7L435.4 178.7ZM438.7 167.3L440.4 166.3L444.5 173.4L442.8 174.4ZM466.3 152.5L470.4 150.5L473.9 157.9L469.9 159.9ZM474.9 148.4L476.7 147.5L480.2 154.9L478.4 155.8ZM479.3 146.3L481.2 145.5L484.5 153L482.7 153.8ZM488.6 142.2L490.5 141.4L493.7 149L491.9 149.7ZM512.2 132.8L514.1 132.1L516.9 139.8L515.1 140.5ZM514.9 131.8L516.8 131.2L519.6 138.9L517.7 139.6ZM517.6 130.9L519.5 130.2L522.2 138L520.3 138.6ZM520.6 129.8L524.9 128.4L527.5 136.2L523.3 137.6ZM528.9 127.1L530.9 126.4L533.4 134.2L531.5 134.9ZM531.9 126.1L533.8 125.5L536.3 133.3L534.4 133.9ZM560.6 118L562.6 117.5L564.5 125.5L562.6 126ZM567 116.5L568.9 116L570.8 124L568.8 124.5ZM582.3 113.2L585.5 112.6L587 120.6L583.9 121.2ZM584.8 112.7L586.8 112.3L588.3 120.4L586.4 120.7ZM591.7 111.4L593.7 111.1L595.1 119.2L593.1 119.5ZM595.8 110.7L597.8 110.4L599.1 118.5L597.2 118.8Z" fill="#C8101C"/>
<path d="M687.1 119L689.1 119.1L688.8 127.3L686.9 127.2ZM702 119.7L704 119.9L703.4 128L701.4 127.9ZM710.5 120.4L712.5 120.5L711.8 128.7L709.8 128.5ZM713.1 120.6L716.4 120.9L715.6 129L712.4 128.7ZM720.7 121.3L722.7 121.5L721.8 129.7L719.8 129.5ZM757.6 126.8L759.6 127.2L758 135.2L756.1 134.8ZM769.4 129.2L771.3 129.6L769.6 137.6L767.6 137.2ZM774.8 130.4L776.7 130.8L774.9 138.8L772.9 138.4ZM779.5 131.5L781.5 132L779.5 140L777.6 139.5ZM795.7 135.7L797.6 136.3L795.4 144.2L793.5 143.6ZM808.6 139.6L810.5 140.2L808 148L806.1 147.4ZM814.1 141.3L816 142L813.4 149.8L811.6 149.1ZM825.1 145.1L827 145.8L824.2 153.5L822.3 152.8ZM863.9 161L865.7 161.9L862.2 169.3L860.4 168.4ZM891.8 175.1L893.5 176.1L889.5 183.3L887.8 182.3ZM918 190.8L919.7 191.9L915.2 198.8L913.6 197.7ZM923.4 194.3L925.1 195.5L920.5 202.3L918.9 201.2ZM926.7 196.5L928.4 197.7L923.7 204.4L922.1 203.3ZM933 200.8L934.6 202L929.9 208.7L928.2 207.5ZM939.3 205.3L940.9 206.5L936 213.1L934.4 212ZM946.2 210.5L947.8 211.7L942.8 218.2L941.3 217ZM948.7 212.4L950.3 213.6L945.2 220.1L943.7 218.9ZM973.4 232.8L974.9 234.1L969.4 240.2L968 238.9ZM977.9 236.8L979.4 238.2L973.9 244.2L972.4 242.9ZM981.2 239.8L984.5 242.9L978.9 248.9L975.6 245.8ZM991.1 249.3L992.5 250.7L986.7 256.5L985.3 255.1ZM994.7 253L996.2 254.4L990.3 260.1L988.9 258.7ZM997.5 255.8L998.9 257.2L993 262.9L991.7 261.5ZM1001.1 259.5L1002.5 261L996.6 266.6L995.2 265.2ZM1010.3 269.4L1011.6 271L1005.5 276.4L1004.2 274.9ZM1012.3 271.7L1013.6 273.2L1007.5 278.6L1006.2 277.2ZM1018.1 278.4L1019.4 279.9L1013.1 285.2L1011.8 283.7ZM1027.6 290L1028.9 291.6L1022.4 296.6L1021.2 295.1ZM1047.5 317L1049.4 319.8L1042.5 324.3L1040.7 321.7ZM1059.8 336L1060.8 337.8L1053.8 342L1052.7 340.3ZM1061.4 338.8L1062.4 340.5L1055.4 344.7L1054.4 343ZM1074 361.1L1074.9 362.9L1067.6 366.7L1066.7 364.9ZM1077.9 368.7L1078.8 370.5L1071.4 374.1L1070.5 372.4ZM1083.7 380.7L1084.5 382.5L1077.1 386L1076.2 384.2ZM1089.9 394.6L1090.6 396.5L1083.1 399.7L1082.3 397.8ZM1096.1 410.1L1096.8 412L1089.1 414.9L1088.4 413ZM1098.6 416.7L1099.3 418.6L1091.5 421.4L1090.9 419.6ZM1099.5 419.4L1100.2 421.3L1092.5 424L1091.8 422.1ZM1102.1 426.8L1102.7 428.7L1095 431.3L1094.3 429.4ZM1107.4 443.4L1107.9 445.4L1100 447.7L1099.5 445.8ZM1108.2 446.4L1108.8 448.4L1100.9 450.6L1100.3 448.7ZM1109.1 449.5L1109.7 451.5L1101.7 453.7L1101.2 451.8ZM1109.7 451.6L1110.2 453.6L1102.3 455.7L1101.8 453.8ZM1112.6 462.6L1113.1 464.6L1105.1 466.5L1104.6 464.6ZM1113.6 466.8L1114.1 468.8L1106.1 470.7L1105.6 468.7ZM1116.7 481.1L1117.1 483.1L1109.1 484.7L1108.7 482.7ZM1117.8 486.5L1118.2 488.5L1110.1 490L1109.8 488ZM1119.4 495.5L1119.8 497.5L1111.7 498.8L1111.4 496.9ZM1120.7 503.2L1121 505.2L1112.9 506.4L1112.6 504.5ZM1121.2 506.9L1121.5 508.9L1113.4 510L1113.1 508.1ZM1123.8 527.9L1124 530L1115.8 530.7L1115.6 528.7ZM1125.8 564.8L1125.9 568L1117.7 568.1L1117.6 564.9ZM1125.9 571.9L1125.9 573.9L1117.7 573.9L1117.7 571.9ZM1125.6 587.1L1125.6 589.1L1117.4 588.8L1117.4 586.8ZM1125.4 592.3L1125.2 596.8L1117 596.4L1117.2 591.9ZM1125.1 599L1125 601L1116.8 600.5L1116.9 598.5ZM1124.8 603.8L1124.6 605.8L1116.4 605.1L1116.6 603.2ZM1124.4 608.7L1124.2 610.8L1116 610L1116.2 608.1ZM1123.7 616.7L1123.5 618.7L1115.3 617.9L1115.5 615.9ZM1123.1 621.7L1122.9 623.7L1114.8 622.8L1115 620.8ZM1117.6 657.9L1117.2 659.9L1109.2 658.3L1109.6 656.3ZM1117.1 660.4L1116.7 662.4L1108.7 660.7L1109.1 658.8ZM1113.2 678.3L1112.4 681.5L1104.4 679.5L1105.2 676.4ZM1111.3 685.9L1110.4 689.1L1102.5 686.9L1103.3 683.8ZM1098.1 727.8L1097.4 729.7L1089.8 726.8L1090.4 725ZM1097 730.8L1096.3 732.7L1088.7 729.8L1089.4 727.9ZM1093.3 740.4L1092.1 743.4L1084.5 740.3L1085.7 737.3ZM1091.6 744.5L1090.4 747.5L1082.8 744.3L1084.1 741.3ZM1089.1 750.4L1088.3 752.3L1080.8 749L1081.6 747.2ZM1087.9 753.2L1087.1 755L1079.6 751.7L1080.4 749.9ZM1085.6 758.5L1084.7 760.3L1077.3 756.9L1078.1 755.1ZM1041.2 835.4L1040 837.1L1033.4 832.3L1034.5 830.6ZM1039.3 838.1L1038.1 839.7L1031.5 834.8L1032.7 833.2ZM1007.2 877.4L1005.8 878.9L999.8 873.3L1001.1 871.8ZM1000.7 884.3L999.3 885.8L993.4 880.1L994.8 878.6ZM998.5 886.6L997.1 888.1L991.2 882.4L992.6 880.9ZM985.1 899.9L982.7 902.2L977.1 896.2L979.4 894ZM973.1 910.9L970.6 913.1L965.2 906.9L967.6 904.8ZM943.5 935L941.8 936.2L937 929.6L938.6 928.4ZM941.4 936.5L939.8 937.7L935 931.1L936.6 929.9ZM937.6 939.2L935 941.2L930.2 934.5L932.8 932.6ZM933.2 942.4L931.6 943.5L926.9 936.8L928.5 935.7ZM928.7 945.5L927 946.7L922.4 939.9L924.1 938.8ZM914.5 954.9L910.6 957.3L906.3 950.3L910.1 947.9ZM858.9 984.7L857 985.5L853.7 978L855.5 977.2ZM851.3 988L849.5 988.8L846.3 981.3L848.1 980.5ZM824.1 998.6L822.2 999.3L819.5 991.6L821.4 990.9ZM817.6 1000.9L815.7 1001.5L813.1 993.8L815 993.1ZM806.3 1004.5L804.4 1005.1L802 997.3L803.9 996.7ZM801.8 1005.9L799.9 1006.5L797.6 998.6L799.5 998ZM782.6 1011.2L779.4 1011.9L777.4 1004L780.6 1003.2ZM777.6 1012.4L775.6 1012.8L773.8 1004.8L775.7 1004.4ZM774.4 1013.1L772.4 1013.6L770.6 1005.6L772.5 1005.1ZM771.6 1013.7L769.6 1014.2L767.9 1006.2L769.8 1005.7ZM767.9 1014.6L765.9 1015L764.2 1006.9L766.2 1006.5ZM762.4 1015.7L760.4 1016.1L758.8 1008L760.8 1007.7ZM759.8 1016.2L757.8 1016.6L756.3 1008.5L758.2 1008.2ZM757.6 1016.6L755.7 1017L754.2 1008.9L756.1 1008.6ZM722.6 1021.9L719.3 1022.2L718.5 1014.1L721.7 1013.7ZM715.5 1022.6L713.5 1022.8L712.8 1014.6L714.7 1014.4ZM711.3 1023L709.3 1023.1L708.7 1015L710.6 1014.8ZM699.5 1023.8L697.5 1023.9L697 1015.8L699 1015.6ZM691.6 1024.2L689.6 1024.3L689.3 1016.1L691.2 1016ZM688.8 1024.3L685.5 1024.4L685.3 1016.2L688.5 1016.1ZM675.2 1024.6L673.2 1024.6L673.2 1016.4L675.2 1016.4ZM643.6 1023.6L641.6 1023.5L642.1 1015.3L644.1 1015.5ZM640 1023.4L636.7 1023.1L637.4 1015L640.6 1015.2ZM590.4 1017L588.4 1016.6L590 1008.6L591.9 1008.9ZM575.8 1014L573.8 1013.6L575.6 1005.6L577.5 1006ZM552.5 1008.3L550.6 1007.7L552.8 999.9L554.7 1000.4ZM548.1 1007L546.1 1006.5L548.4 998.6L550.3 999.1ZM541 1004.9L539 1004.3L541.5 996.5L543.3 997.1ZM536.3 1003.5L533.1 1002.5L535.7 994.7L538.7 995.6ZM530 1001.4L528.1 1000.8L530.7 993L532.6 993.6ZM503.7 991.8L500.7 990.5L503.8 983L506.8 984.2ZM496.9 989L495 988.2L498.3 980.6L500.1 981.4ZM490.9 986.4L489 985.6L492.4 978.1L494.2 978.9ZM481.7 982.2L479.9 981.4L483.4 974L485.2 974.8ZM469.5 976.3L467.7 975.4L471.4 968.1L473.2 969ZM460.4 971.6L458.6 970.6L462.5 963.4L464.2 964.3ZM451.6 966.8L449.8 965.8L453.8 958.6L455.6 959.6ZM414.3 943.5L412.7 942.3L417.4 935.6L419 936.7ZM387.8 923.5L386.2 922.2L391.4 915.9L393 917.2ZM380.9 917.8L379.3 916.5L384.6 910.2L386.1 911.5ZM377.9 915.3L376.4 913.9L381.7 907.7L383.2 909ZM374.3 912.1L372.8 910.8L378.2 904.7L379.7 906ZM369.8 908.1L368.3 906.8L373.8 900.7L375.3 902.1ZM366 904.7L362.7 901.6L368.3 895.6L371.6 898.6ZM348.9 888.1L347.5 886.6L353.4 880.9L354.8 882.4ZM340.1 878.7L338.7 877.2L344.8 871.7L346.1 873.2ZM330.5 868L329.2 866.5L335.4 861.1L336.7 862.6ZM321.9 857.7L319 854.2L325.4 849.1L328.2 852.6ZM301.2 830.3L298.6 826.6L305.4 822L307.9 825.6ZM292.3 817.1L291.3 815.4L298.2 811L299.2 812.7ZM284 803.6L283 801.9L290 797.7L291 799.4ZM280.8 798.3L279.8 796.5L286.9 792.4L287.9 794.2ZM279.2 795.5L277.6 792.6L284.8 788.6L286.4 791.4ZM276.9 791.2L275.9 789.5L283.1 785.5L284 787.3ZM274.1 786.2L272 782.2L279.2 778.4L281.3 782.3ZM268.4 775.2L267.5 773.4L274.8 769.7L275.7 771.5ZM245.8 722L245.1 720.1L252.8 717.4L253.5 719.2ZM221.2 603.1L221.1 601.1L229.2 600.6L229.4 602.6ZM221.4 606.4L221.3 604.4L229.5 603.8L229.6 605.7ZM221.7 609.6L221.5 607.6L229.7 607L229.9 609ZM222.9 621.7L222.4 617.2L230.5 616.4L231 620.8ZM223.1 623.7L222.9 621.7L231 620.8L231.2 622.8ZM223.8 629.1L223.5 627.1L231.6 626.1L231.9 628.1ZM224.5 634.5L224.2 632.5L232.3 631.4L232.6 633.4ZM220.1 576.5L220.1 574.4L228.3 574.4L228.3 576.4ZM220.1 571.4L220.1 565.6L228.3 565.7L228.3 571.4ZM220.2 564.3L220.3 559.7L228.5 559.9L228.4 564.4ZM220.3 557.6L220.4 555.5L228.6 555.8L228.5 557.8ZM220.4 554.3L220.5 552.3L228.7 552.6L228.6 554.6ZM220.6 550.2L220.9 545.6L229 546.1L228.8 550.6ZM220.9 544.7L221.2 540.2L229.4 540.8L229.1 545.2ZM221.5 535.8L221.7 533.8L229.9 534.5L229.7 536.5ZM221.8 532.3L222.4 526.5L230.5 527.4L230 533ZM222.9 521.3L223.3 518L231.4 519L231.1 522.2ZM223.5 516.3L223.8 514.3L231.9 515.4L231.6 517.3ZM224.5 508.8L224.8 506.8L232.9 507.9L232.6 509.9ZM225.1 504.4L225.4 502.4L233.5 503.7L233.2 505.6ZM225.7 500.9L226.6 495.1L234.7 496.5L233.8 502.1ZM227.1 492.5L227.4 490.5L235.5 492L235.2 493.9ZM228.4 485.2L229.8 478.3L237.9 480L236.5 486.8ZM231.2 472.3L232.8 465.4L240.7 467.3L239.2 474.1ZM232.9 464.6L233.7 461.4L241.7 463.4L240.9 466.6ZM235.4 454.9L237.6 446.9L245.5 449.1L243.3 457ZM225.7 642.8L225.2 639.6L233.3 638.3L233.8 641.5ZM227.3 652.3L226.3 646.6L234.4 645.2L235.4 650.8ZM228.6 658.9L227.3 652L235.3 650.5L236.6 657.3ZM230.4 667.7L230 665.7L238 664L238.4 666ZM232.3 676.2L231 670.6L239 668.8L240.3 674.3ZM233.9 682.7L232.5 677L240.5 675.1L241.9 680.7ZM237.4 695.8L236.2 691.4L244.1 689.2L245.3 693.5ZM240 704.4L239.4 702.4L247.2 700.1L247.8 701.9ZM242.8 713.4L241.4 709.1L249.2 706.6L250.6 710.8ZM243.8 427.1L244.5 425.2L252.2 427.8L251.6 429.7ZM245.1 423.4L246.1 420.3L253.9 423.1L252.8 426.1ZM246.8 418.5L248.3 414.3L256 417.1L254.5 421.3ZM251 407.3L251.7 405.5L259.3 408.5L258.6 410.3ZM253 402.3L253.7 400.4L261.3 403.5L260.6 405.4ZM255.1 397.1L256.9 393L264.4 396.2L262.7 400.3ZM262.1 381.3L265.1 374.9L272.5 378.4L269.5 384.7ZM266.4 372.2L267.3 370.3L274.7 374L273.8 375.8ZM268.9 367.1L269.9 365.3L277.1 369.1L276.3 370.8ZM271 363.1L272 361.3L279.2 365.1L278.3 366.8ZM272.4 360.4L273.4 358.6L280.6 362.5L279.7 364.2ZM283.4 340.7L287.1 334.7L294.1 338.9L290.5 344.9ZM286.7 335.2L287.8 333.5L294.8 337.8L293.7 339.5ZM288.5 332.4L289.6 330.7L296.5 335L295.5 336.7ZM289.9 330.2L293 325.3L299.9 329.7L296.8 334.5ZM295.6 321.3L296.8 319.6L303.6 324.1L302.5 325.8ZM302 311.9L305.4 307.2L312 312L308.7 316.6ZM345.7 258.6L348 256.3L353.9 262L351.7 264.3ZM348.8 255.4L352 252.2L357.8 258L354.7 261.2ZM385 222.2L386.5 220.9L391.7 227.3L390.2 228.5ZM382.5 224.2L384.1 222.9L389.3 229.2L387.8 230.5ZM397.7 212.1L399.3 210.9L404.3 217.4L402.7 218.6ZM423.4 193.8L425.1 192.7L429.6 199.5L427.9 200.6ZM442.3 182L444 180.9L448.2 188L446.5 189ZM447.5 178.9L449.2 177.9L453.3 185.1L451.6 186.1ZM469.7 167L471.5 166.1L475.2 173.4L473.4 174.3ZM480.5 161.8L482.3 160.9L485.7 168.3L484 169.2ZM531.6 141.4L536 140L538.4 147.8L534.2 149.2ZM552.9 135L554.8 134.5L557 142.4L555.1 142.9ZM570.7 130.5L572.7 130L574.5 138L572.6 138.5ZM591.3 126.2L593.3 125.9L594.8 133.9L592.8 134.3ZM620.7 121.8L622.7 121.6L623.6 129.8L621.6 130Z" fill="#6244A3"/>
<path d="M686.2 134.1L689.4 134.2L689.1 142.4L685.9 142.3ZM713.9 135.8L717.2 136.1L716.4 144.3L713.2 144ZM836.4 165.5L838.3 166.3L835.2 173.9L833.4 173.2ZM920.2 210.4L922.9 212.3L918.3 219L915.6 217.2ZM986.8 266.5L989.1 268.8L983.2 274.5L981 272.2ZM993.9 273.9L995.3 275.4L989.3 281L987.9 279.5ZM1008.7 290.6L1010 292.2L1003.6 297.4L1002.4 295.9ZM1042.4 336.7L1044.1 339.4L1037.2 343.8L1035.4 341.1ZM1110.7 581.6L1110.6 583.7L1102.4 583.4L1102.5 581.5ZM1110.3 593.4L1110.1 596.7L1101.9 596.2L1102.1 593ZM1083.8 723.1L1082.6 726.2L1075 723.3L1076.1 720.3ZM1080.8 731.1L1080 732.9L1072.4 729.9L1073.1 728.1ZM1035 817.9L1033.9 819.5L1027.1 814.9L1028.3 813.3ZM978.5 885.3L977.1 886.7L971.4 880.8L972.8 879.4ZM969.5 893.8L968 895.2L962.5 889.1L963.9 887.8ZM939.7 918.9L938.1 920.1L933.2 913.6L934.7 912.4ZM934.7 922.7L932.1 924.6L927.2 918L929.8 916.1ZM918.4 934.3L915.6 936.1L911.1 929.3L913.8 927.5ZM868 963.7L866.2 964.6L862.6 957.2L864.3 956.3ZM756.1 1001.5L752.9 1002.2L751.4 994.1L754.5 993.5ZM709.7 1008L706.5 1008.2L705.8 1000L709 999.8ZM669 1009.5L665.8 1009.4L665.9 1001.2L669.1 1001.3ZM606.7 1004.5L603.5 1003.9L604.8 995.8L608 996.3ZM598.2 1003.1L595 1002.5L596.5 994.4L599.6 995ZM513.6 979.4L510.5 978.2L513.6 970.6L516.6 971.8ZM377.8 895L375.4 892.8L381 886.8L383.4 889ZM281.3 767.2L279.8 764.2L287.2 760.6L288.6 763.5ZM279.5 763.7L278.7 761.9L286 758.3L286.9 760.1ZM239.3 631.6L238.9 628.3L247 627.3L247.4 630.5ZM235.2 570.8L235.2 567.5L243.4 567.6L243.4 570.8ZM236.8 534.8L236.9 532.8L245.1 533.5L244.9 535.5ZM237.3 528.9L237.5 526.9L245.7 527.7L245.5 529.7ZM240.2 506L240.5 504L248.6 505.2L248.3 507.2ZM242.8 490.4L243.4 487.2L251.5 488.8L250.9 492ZM248.9 463.1L249.7 459.9L257.6 462L256.8 465.1ZM243.3 655.3L242.2 649.6L250.3 648.2L251.3 653.8ZM254.2 699.3L253.6 697.4L261.5 695L262.1 696.9ZM258.8 430L259.9 426.9L267.6 429.6L266.5 432.6ZM265.1 412.7L267.3 407.3L274.9 410.3L272.8 415.6ZM275.2 388.9L276 387.1L283.5 390.5L282.6 392.3ZM279 380.9L279.8 379.1L287.2 382.7L286.3 384.5ZM312 324L314.6 320.3L321.3 325L318.8 328.6ZM483.7 176.9L485.5 176.1L489.1 183.5L487.3 184.3ZM503.5 168L507.7 166.3L510.8 173.9L506.7 175.6ZM521.1 161.1L523 160.4L525.8 168.1L524 168.8ZM601.7 139.7L603.7 139.4L605 147.5L603 147.8Z" fill="#F56C0A"/>
<path d="M1056 385.4L1056.9 387.2L1049.5 390.7L1048.6 389ZM389.3 889.4L387.8 888L393.3 881.9L394.8 883.2ZM287.7 753.1L286.8 751.2L294.2 747.8L295.1 749.6ZM248.3 603.8L248.2 601.8L256.3 601.2L256.5 603.2ZM261.2 462.9L262.4 458.5L270.3 460.7L269.2 465ZM264.2 452.3L264.8 450.3L272.6 452.7L272.1 454.6ZM268.4 438.6L269.1 436.7L276.8 439.3L276.2 441.2ZM273 425.5L273.7 423.6L281.4 426.5L280.7 428.3ZM321.8 330.7L323 329.1L329.7 333.8L328.6 335.4ZM365.3 277.3L366.7 275.8L372.6 281.5L371.2 282.9ZM368 274.5L373 269.4L378.7 275.3L373.9 280.2ZM385.3 257.7L386.8 256.3L392.3 262.4L390.8 263.7ZM388.7 254.6L390.2 253.2L395.6 259.4L394.2 260.7ZM395.2 248.8L398.7 245.9L404 252.2L400.6 255.1ZM399.2 245.5L400.7 244.2L406 250.5L404.4 251.8ZM401.4 243.6L404.9 240.8L410.1 247.1L406.6 250ZM404.9 240.8L407.4 238.7L412.6 245.1L410 247.2ZM410.3 236.5L413.9 233.7L418.9 240.2L415.4 242.9ZM423.1 226.8L424.7 225.6L429.5 232.3L427.9 233.5ZM462.1 201.7L463.9 200.7L467.9 207.8L466.2 208.8ZM482.3 190.9L485.2 189.4L488.8 196.8L486 198.2ZM484.9 189.6L487.8 188.2L491.4 195.6L488.5 197ZM488.3 187.9L491.3 186.5L494.8 193.9L491.9 195.3ZM490.9 186.7L495 184.8L498.4 192.2L494.4 194.1ZM497.5 183.6L500.5 182.3L503.9 189.8L500.9 191.1ZM507.7 179.2L509.6 178.4L512.7 186L510.9 186.7ZM525.2 172.3L529.5 170.7L532.3 178.4L528.1 179.9ZM531.3 170.1L534.3 169L537 176.8L534 177.8ZM533.9 169.2L538.2 167.7L540.8 175.5L536.5 176.9ZM538.3 167.7L541.4 166.6L544 174.4L540.9 175.4ZM541.3 166.7L543.2 166.1L545.7 173.9L543.8 174.5ZM544.2 165.7L547.4 164.8L549.8 172.6L546.7 173.5ZM557.2 161.8L562.8 160.3L565 168.2L559.5 169.7ZM570.4 158.3L573.6 157.6L575.5 165.5L572.4 166.3ZM574.1 157.4L576 157L577.9 165L576 165.4ZM575.5 157.1L578.7 156.4L580.5 164.4L577.4 165.1ZM590.2 153.9L594.6 153.1L596.1 161.1L591.8 162ZM594 153.2L597.2 152.6L598.7 160.7L595.5 161.2ZM596 152.8L601.7 151.8L603.1 159.9L597.5 160.9ZM599.8 152.1L604.3 151.4L605.6 159.5L601.2 160.2ZM603 151.6L606.3 151.1L607.6 159.2L604.4 159.7Z" fill="#1F6FB8"/>
<path d="M419.5 245.2L421.1 243.9L426.1 250.4L424.5 251.6ZM491.8 200.1L493.6 199.3L497.2 206.6L495.4 207.5ZM502.1 195.3L504 194.4L507.3 201.9L505.5 202.7ZM538.1 180.9L540 180.3L542.7 188L540.8 188.7ZM547.8 177.7L549.8 177.1L552.2 184.9L550.3 185.5ZM602.2 164.4L604.2 164.1L605.6 172.1L603.6 172.5Z" fill="#1E8B46"/>
<path d="M541.4 190.9L543.3 190.2L546 198L544.1 198.6ZM604.2 174.7L606.2 174.4L607.5 182.5L605.6 182.8Z" fill="#1E8B46"/>
<path d="M606.1 184.9L608.1 184.6L609.4 192.7L607.5 193Z" fill="#1E8B46"/>
<text x="659.3" y="98.2" font-size="16.3" text-anchor="middle" fill="#000">A</text>
<text x="659.3" y="113.2" font-size="16.3" text-anchor="middle" fill="#000">B</text>
<text x="659.3" y="128.8" font-size="16.3" text-anchor="middle" fill="#000">C</text>
<text x="659.3" y="142.3" font-size="16.3" text-anchor="middle" fill="#000">D</text>
<text x="659.3" y="156.8" font-size="16.3" text-anchor="middle" fill="#000">E</text>
<text x="659.3" y="173.4" font-size="16.3" text-anchor="middle" fill="#000">F</text>
<text x="659.3" y="216.8" font-size="16.3" text-anchor="middle" fill="#000">G</text>
<text x="659.3" y="238.8" font-size="16.3" text-anchor="middle" fill="#000">H</text>
<text x="659.3" y="261.9" font-size="16.3" text-anchor="middle" fill="#000">I</text>
<text x="659.3" y="288.4" font-size="16.3" text-anchor="middle" fill="#000">J</text>
<text x="659.3" y="312.2" font-size="16.3" text-anchor="middle" fill="#000">K</text>
<text x="659.3" y="337.2" font-size="16.3" text-anchor="middle" fill="#000">L</text>
<text x="659.3" y="360.2" font-size="16.3" text-anchor="middle" fill="#000">M</text>
<text x="878.5" y="50.2" font-size="28" font-weight="bold" text-anchor="middle" fill="#000">1</text>
<text x="878.5" y="84.9" font-size="28" font-weight="bold" font-style="italic" letter-spacing="0.2" text-anchor="middle" fill="#000">(1)</text>
<text x="1161.6" y="290.1" font-size="28" font-weight="bold" text-anchor="middle" fill="#000">2</text>
<text x="1161.6" y="324.4" font-size="28" font-weight="bold" font-style="italic" letter-spacing="0.2" text-anchor="middle" fill="#000">(17, 5)</text>
<text x="1229.8" y="564.6" font-size="28" font-weight="bold" text-anchor="middle" fill="#000">4</text>
<text x="1229.8" y="599.6" font-size="28" font-weight="bold" font-style="italic" letter-spacing="0.2" text-anchor="middle" fill="#000">(2)</text>
<text x="1133.2" y="838.7" font-size="28" font-weight="bold" text-anchor="middle" fill="#000">5</text>
<text x="1133.2" y="873.4" font-size="28" font-weight="bold" font-style="italic" letter-spacing="0.2" text-anchor="middle" fill="#000">(3)</text>
<text x="889.7" y="1083.7" font-size="28" font-weight="bold" text-anchor="middle" fill="#000">7</text>
<text x="889.7" y="1118.6" font-size="28" font-weight="bold" font-style="italic" letter-spacing="0.2" text-anchor="middle" fill="#000">(4)</text>
<text x="603.5" y="1119.5" font-size="28" font-weight="bold" text-anchor="middle" fill="#000">8</text>
<text x="603.5" y="1154.4" font-size="28" font-weight="bold" font-style="italic" letter-spacing="0.2" text-anchor="middle" fill="#000">(6)</text>
<text x="355.4" y="1030.2" font-size="28" font-weight="bold" text-anchor="middle" fill="#000">9</text>
<text x="355.4" y="1064.4" font-size="28" font-weight="bold" font-style="italic" letter-spacing="0.2" text-anchor="middle" fill="#000">(7)</text>
<text x="188.4" y="870" font-size="28" font-weight="bold" text-anchor="middle" fill="#000">10</text>
<text x="188.4" y="904.2" font-size="28" font-weight="bold" font-style="italic" letter-spacing="0.2" text-anchor="middle" fill="#000">(8)</text>
<text x="123.2" y="679.6" font-size="28" font-weight="bold" text-anchor="middle" fill="#000">11</text>
<text x="123.2" y="713.9" font-size="28" font-weight="bold" font-style="italic" letter-spacing="0.2" text-anchor="middle" fill="#000">(9)</text>
<text x="75.6" y="486.5" font-size="28" font-weight="bold" text-anchor="middle" fill="#000">12</text>
<text x="75.6" y="520.1" font-size="28" font-weight="bold" font-style="italic" letter-spacing="0.2" text-anchor="middle" fill="#000">(13, 15, 18)</text>
<text x="163.2" y="306" font-size="28" font-weight="bold" text-anchor="middle" fill="#000">13</text>
<text x="163.2" y="340.1" font-size="28" font-weight="bold" font-style="italic" letter-spacing="0.2" text-anchor="middle" fill="#000">(12, 11)</text>
<text x="273.9" y="201.9" font-size="28" font-weight="bold" text-anchor="middle" fill="#000">LS</text>
<text x="273.9" y="236.6" font-size="28" font-weight="bold" font-style="italic" letter-spacing="0.2" text-anchor="middle" fill="#000">(14)</text>
<text x="388.1" y="113.2" font-size="28" font-weight="bold" text-anchor="middle" fill="#000">LS</text>
<text x="388.1" y="147.8" font-size="28" font-weight="bold" font-style="italic" letter-spacing="0.2" text-anchor="middle" fill="#000">(10)</text>
<text x="468.1" y="67.7" font-size="28" font-weight="bold" text-anchor="middle" fill="#000">LS</text>
<text x="468.1" y="101.8" font-size="28" font-weight="bold" font-style="italic" letter-spacing="0.2" text-anchor="middle" fill="#000">(16)</text>
<text x="561.6" y="23.1" font-size="28" font-weight="bold" text-anchor="middle" fill="#000">LS</text>
<text x="561.6" y="58.1" font-size="28" font-weight="bold" font-style="italic" letter-spacing="0.2" text-anchor="middle" fill="#000">(19-22)</text>
</svg>
</body></html>
